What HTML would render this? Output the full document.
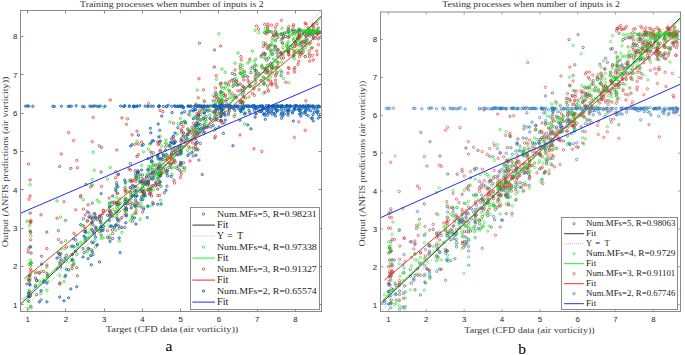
<!DOCTYPE html>
<html><head><meta charset="utf-8"><style>
html,body{margin:0;padding:0;background:#fff;width:685px;height:355px;overflow:hidden}
svg{display:block}
.tk{font-family:"Liberation Sans",sans-serif;font-size:7.9px;fill:#1e1e1e}
.ttl{font-family:"Liberation Serif",serif;font-size:8.8px;fill:#333}
.xl{font-family:"Liberation Serif",serif;font-size:8.9px;fill:#3a3a3a}
.lg{font-family:"Liberation Serif",serif;fill:#1a1a1a}
.cap{font-family:"Liberation Serif",serif;font-size:15.5px;fill:#000}
</style></head><body>
<svg width="685" height="355" viewBox="0 0 685 355">
<rect width="685" height="355" fill="#fff"/>
<defs><clipPath id="cL"><rect x="20.5" y="10.5" width="301.0" height="301.0"/></clipPath><clipPath id="cR"><rect x="380.5" y="12.0" width="300.0" height="299.5"/></clipPath></defs>
<g clip-path="url(#cL)">
<path d="M29.0 274.7a1.2 1.2 0 1 0 2.4 0a1.2 1.2 0 1 0 -2.4 0M29.9 253.0a1.2 1.2 0 1 0 2.4 0a1.2 1.2 0 1 0 -2.4 0M28.9 231.1a1.2 1.2 0 1 0 2.4 0a1.2 1.2 0 1 0 -2.4 0M25.8 283.9a1.2 1.2 0 1 0 2.4 0a1.2 1.2 0 1 0 -2.4 0M30.0 263.1a1.2 1.2 0 1 0 2.4 0a1.2 1.2 0 1 0 -2.4 0M29.2 295.4a1.2 1.2 0 1 0 2.4 0a1.2 1.2 0 1 0 -2.4 0M27.3 279.6a1.2 1.2 0 1 0 2.4 0a1.2 1.2 0 1 0 -2.4 0M29.4 265.3a1.2 1.2 0 1 0 2.4 0a1.2 1.2 0 1 0 -2.4 0M29.0 213.1a1.2 1.2 0 1 0 2.4 0a1.2 1.2 0 1 0 -2.4 0M28.9 293.5a1.2 1.2 0 1 0 2.4 0a1.2 1.2 0 1 0 -2.4 0M28.4 296.8a1.2 1.2 0 1 0 2.4 0a1.2 1.2 0 1 0 -2.4 0M29.4 246.8a1.2 1.2 0 1 0 2.4 0a1.2 1.2 0 1 0 -2.4 0M26.9 300.8a1.2 1.2 0 1 0 2.4 0a1.2 1.2 0 1 0 -2.4 0M28.0 275.5a1.2 1.2 0 1 0 2.4 0a1.2 1.2 0 1 0 -2.4 0M27.4 293.0a1.2 1.2 0 1 0 2.4 0a1.2 1.2 0 1 0 -2.4 0M29.5 306.2a1.2 1.2 0 1 0 2.4 0a1.2 1.2 0 1 0 -2.4 0M28.4 276.7a1.2 1.2 0 1 0 2.4 0a1.2 1.2 0 1 0 -2.4 0M42.6 280.4a1.2 1.2 0 1 0 2.4 0a1.2 1.2 0 1 0 -2.4 0M45.7 273.3a1.2 1.2 0 1 0 2.4 0a1.2 1.2 0 1 0 -2.4 0M70.9 254.5a1.2 1.2 0 1 0 2.4 0a1.2 1.2 0 1 0 -2.4 0M46.6 276.3a1.2 1.2 0 1 0 2.4 0a1.2 1.2 0 1 0 -2.4 0M57.2 230.6a1.2 1.2 0 1 0 2.4 0a1.2 1.2 0 1 0 -2.4 0M82.8 252.6a1.2 1.2 0 1 0 2.4 0a1.2 1.2 0 1 0 -2.4 0M81.8 248.6a1.2 1.2 0 1 0 2.4 0a1.2 1.2 0 1 0 -2.4 0M69.6 168.4a1.2 1.2 0 1 0 2.4 0a1.2 1.2 0 1 0 -2.4 0M60.1 242.4a1.2 1.2 0 1 0 2.4 0a1.2 1.2 0 1 0 -2.4 0M46.4 275.2a1.2 1.2 0 1 0 2.4 0a1.2 1.2 0 1 0 -2.4 0M40.4 256.2a1.2 1.2 0 1 0 2.4 0a1.2 1.2 0 1 0 -2.4 0M82.2 218.7a1.2 1.2 0 1 0 2.4 0a1.2 1.2 0 1 0 -2.4 0M58.8 256.4a1.2 1.2 0 1 0 2.4 0a1.2 1.2 0 1 0 -2.4 0M38.1 273.2a1.2 1.2 0 1 0 2.4 0a1.2 1.2 0 1 0 -2.4 0M64.3 220.4a1.2 1.2 0 1 0 2.4 0a1.2 1.2 0 1 0 -2.4 0M72.3 264.5a1.2 1.2 0 1 0 2.4 0a1.2 1.2 0 1 0 -2.4 0M63.8 276.7a1.2 1.2 0 1 0 2.4 0a1.2 1.2 0 1 0 -2.4 0M79.5 195.6a1.2 1.2 0 1 0 2.4 0a1.2 1.2 0 1 0 -2.4 0M34.2 278.0a1.2 1.2 0 1 0 2.4 0a1.2 1.2 0 1 0 -2.4 0M59.4 264.2a1.2 1.2 0 1 0 2.4 0a1.2 1.2 0 1 0 -2.4 0M55.9 268.8a1.2 1.2 0 1 0 2.4 0a1.2 1.2 0 1 0 -2.4 0M35.4 294.7a1.2 1.2 0 1 0 2.4 0a1.2 1.2 0 1 0 -2.4 0M65.3 255.3a1.2 1.2 0 1 0 2.4 0a1.2 1.2 0 1 0 -2.4 0M76.2 275.8a1.2 1.2 0 1 0 2.4 0a1.2 1.2 0 1 0 -2.4 0M62.8 261.5a1.2 1.2 0 1 0 2.4 0a1.2 1.2 0 1 0 -2.4 0M45.6 232.1a1.2 1.2 0 1 0 2.4 0a1.2 1.2 0 1 0 -2.4 0M75.5 267.7a1.2 1.2 0 1 0 2.4 0a1.2 1.2 0 1 0 -2.4 0M58.5 166.5a1.2 1.2 0 1 0 2.4 0a1.2 1.2 0 1 0 -2.4 0M58.5 284.1a1.2 1.2 0 1 0 2.4 0a1.2 1.2 0 1 0 -2.4 0M71.0 268.6a1.2 1.2 0 1 0 2.4 0a1.2 1.2 0 1 0 -2.4 0M39.8 299.9a1.2 1.2 0 1 0 2.4 0a1.2 1.2 0 1 0 -2.4 0M74.5 240.2a1.2 1.2 0 1 0 2.4 0a1.2 1.2 0 1 0 -2.4 0M67.4 269.9a1.2 1.2 0 1 0 2.4 0a1.2 1.2 0 1 0 -2.4 0M72.8 246.8a1.2 1.2 0 1 0 2.4 0a1.2 1.2 0 1 0 -2.4 0M91.1 230.2a1.2 1.2 0 1 0 2.4 0a1.2 1.2 0 1 0 -2.4 0M114.5 211.6a1.2 1.2 0 1 0 2.4 0a1.2 1.2 0 1 0 -2.4 0M91.1 203.2a1.2 1.2 0 1 0 2.4 0a1.2 1.2 0 1 0 -2.4 0M86.9 248.1a1.2 1.2 0 1 0 2.4 0a1.2 1.2 0 1 0 -2.4 0M116.5 193.4a1.2 1.2 0 1 0 2.4 0a1.2 1.2 0 1 0 -2.4 0M116.7 204.1a1.2 1.2 0 1 0 2.4 0a1.2 1.2 0 1 0 -2.4 0M117.3 221.4a1.2 1.2 0 1 0 2.4 0a1.2 1.2 0 1 0 -2.4 0M101.8 228.6a1.2 1.2 0 1 0 2.4 0a1.2 1.2 0 1 0 -2.4 0M94.3 217.0a1.2 1.2 0 1 0 2.4 0a1.2 1.2 0 1 0 -2.4 0M84.1 240.8a1.2 1.2 0 1 0 2.4 0a1.2 1.2 0 1 0 -2.4 0M108.5 211.8a1.2 1.2 0 1 0 2.4 0a1.2 1.2 0 1 0 -2.4 0M111.3 229.9a1.2 1.2 0 1 0 2.4 0a1.2 1.2 0 1 0 -2.4 0M115.8 202.5a1.2 1.2 0 1 0 2.4 0a1.2 1.2 0 1 0 -2.4 0M94.6 227.1a1.2 1.2 0 1 0 2.4 0a1.2 1.2 0 1 0 -2.4 0M92.0 254.4a1.2 1.2 0 1 0 2.4 0a1.2 1.2 0 1 0 -2.4 0M108.3 202.9a1.2 1.2 0 1 0 2.4 0a1.2 1.2 0 1 0 -2.4 0M114.6 188.1a1.2 1.2 0 1 0 2.4 0a1.2 1.2 0 1 0 -2.4 0M120.7 217.5a1.2 1.2 0 1 0 2.4 0a1.2 1.2 0 1 0 -2.4 0M89.5 217.9a1.2 1.2 0 1 0 2.4 0a1.2 1.2 0 1 0 -2.4 0M102.2 210.3a1.2 1.2 0 1 0 2.4 0a1.2 1.2 0 1 0 -2.4 0M118.0 228.2a1.2 1.2 0 1 0 2.4 0a1.2 1.2 0 1 0 -2.4 0M100.0 172.0a1.2 1.2 0 1 0 2.4 0a1.2 1.2 0 1 0 -2.4 0M106.3 237.3a1.2 1.2 0 1 0 2.4 0a1.2 1.2 0 1 0 -2.4 0M84.7 184.4a1.2 1.2 0 1 0 2.4 0a1.2 1.2 0 1 0 -2.4 0M109.6 226.0a1.2 1.2 0 1 0 2.4 0a1.2 1.2 0 1 0 -2.4 0M119.0 203.3a1.2 1.2 0 1 0 2.4 0a1.2 1.2 0 1 0 -2.4 0M115.4 182.7a1.2 1.2 0 1 0 2.4 0a1.2 1.2 0 1 0 -2.4 0M117.7 225.9a1.2 1.2 0 1 0 2.4 0a1.2 1.2 0 1 0 -2.4 0M109.1 213.3a1.2 1.2 0 1 0 2.4 0a1.2 1.2 0 1 0 -2.4 0M93.2 213.5a1.2 1.2 0 1 0 2.4 0a1.2 1.2 0 1 0 -2.4 0M113.2 202.1a1.2 1.2 0 1 0 2.4 0a1.2 1.2 0 1 0 -2.4 0M91.9 224.9a1.2 1.2 0 1 0 2.4 0a1.2 1.2 0 1 0 -2.4 0M115.6 213.3a1.2 1.2 0 1 0 2.4 0a1.2 1.2 0 1 0 -2.4 0M86.2 220.8a1.2 1.2 0 1 0 2.4 0a1.2 1.2 0 1 0 -2.4 0M115.4 224.9a1.2 1.2 0 1 0 2.4 0a1.2 1.2 0 1 0 -2.4 0M90.1 229.3a1.2 1.2 0 1 0 2.4 0a1.2 1.2 0 1 0 -2.4 0M98.1 231.3a1.2 1.2 0 1 0 2.4 0a1.2 1.2 0 1 0 -2.4 0M95.9 219.4a1.2 1.2 0 1 0 2.4 0a1.2 1.2 0 1 0 -2.4 0M110.2 213.3a1.2 1.2 0 1 0 2.4 0a1.2 1.2 0 1 0 -2.4 0M90.6 250.0a1.2 1.2 0 1 0 2.4 0a1.2 1.2 0 1 0 -2.4 0M99.0 228.0a1.2 1.2 0 1 0 2.4 0a1.2 1.2 0 1 0 -2.4 0M84.0 229.8a1.2 1.2 0 1 0 2.4 0a1.2 1.2 0 1 0 -2.4 0M93.8 214.2a1.2 1.2 0 1 0 2.4 0a1.2 1.2 0 1 0 -2.4 0M99.9 235.0a1.2 1.2 0 1 0 2.4 0a1.2 1.2 0 1 0 -2.4 0M87.8 249.0a1.2 1.2 0 1 0 2.4 0a1.2 1.2 0 1 0 -2.4 0M108.0 238.0a1.2 1.2 0 1 0 2.4 0a1.2 1.2 0 1 0 -2.4 0M98.3 219.0a1.2 1.2 0 1 0 2.4 0a1.2 1.2 0 1 0 -2.4 0M111.5 202.4a1.2 1.2 0 1 0 2.4 0a1.2 1.2 0 1 0 -2.4 0M108.8 210.8a1.2 1.2 0 1 0 2.4 0a1.2 1.2 0 1 0 -2.4 0M100.3 147.4a1.2 1.2 0 1 0 2.4 0a1.2 1.2 0 1 0 -2.4 0M205.0 116.5a1.2 1.2 0 1 0 2.4 0a1.2 1.2 0 1 0 -2.4 0M182.5 141.0a1.2 1.2 0 1 0 2.4 0a1.2 1.2 0 1 0 -2.4 0M199.6 130.9a1.2 1.2 0 1 0 2.4 0a1.2 1.2 0 1 0 -2.4 0M154.7 164.9a1.2 1.2 0 1 0 2.4 0a1.2 1.2 0 1 0 -2.4 0M174.1 141.9a1.2 1.2 0 1 0 2.4 0a1.2 1.2 0 1 0 -2.4 0M140.8 178.4a1.2 1.2 0 1 0 2.4 0a1.2 1.2 0 1 0 -2.4 0M217.3 108.8a1.2 1.2 0 1 0 2.4 0a1.2 1.2 0 1 0 -2.4 0M145.3 183.8a1.2 1.2 0 1 0 2.4 0a1.2 1.2 0 1 0 -2.4 0M146.6 185.3a1.2 1.2 0 1 0 2.4 0a1.2 1.2 0 1 0 -2.4 0M129.1 180.0a1.2 1.2 0 1 0 2.4 0a1.2 1.2 0 1 0 -2.4 0M146.7 181.3a1.2 1.2 0 1 0 2.4 0a1.2 1.2 0 1 0 -2.4 0M195.0 149.7a1.2 1.2 0 1 0 2.4 0a1.2 1.2 0 1 0 -2.4 0M188.8 131.3a1.2 1.2 0 1 0 2.4 0a1.2 1.2 0 1 0 -2.4 0M134.4 173.8a1.2 1.2 0 1 0 2.4 0a1.2 1.2 0 1 0 -2.4 0M158.0 163.9a1.2 1.2 0 1 0 2.4 0a1.2 1.2 0 1 0 -2.4 0M162.3 157.1a1.2 1.2 0 1 0 2.4 0a1.2 1.2 0 1 0 -2.4 0M185.7 139.4a1.2 1.2 0 1 0 2.4 0a1.2 1.2 0 1 0 -2.4 0M165.7 186.2a1.2 1.2 0 1 0 2.4 0a1.2 1.2 0 1 0 -2.4 0M178.2 169.9a1.2 1.2 0 1 0 2.4 0a1.2 1.2 0 1 0 -2.4 0M202.4 133.4a1.2 1.2 0 1 0 2.4 0a1.2 1.2 0 1 0 -2.4 0M191.5 133.9a1.2 1.2 0 1 0 2.4 0a1.2 1.2 0 1 0 -2.4 0M157.0 169.3a1.2 1.2 0 1 0 2.4 0a1.2 1.2 0 1 0 -2.4 0M164.9 156.4a1.2 1.2 0 1 0 2.4 0a1.2 1.2 0 1 0 -2.4 0M157.2 176.5a1.2 1.2 0 1 0 2.4 0a1.2 1.2 0 1 0 -2.4 0M132.5 186.2a1.2 1.2 0 1 0 2.4 0a1.2 1.2 0 1 0 -2.4 0M141.5 191.7a1.2 1.2 0 1 0 2.4 0a1.2 1.2 0 1 0 -2.4 0M149.2 188.9a1.2 1.2 0 1 0 2.4 0a1.2 1.2 0 1 0 -2.4 0M152.1 165.1a1.2 1.2 0 1 0 2.4 0a1.2 1.2 0 1 0 -2.4 0M152.0 175.2a1.2 1.2 0 1 0 2.4 0a1.2 1.2 0 1 0 -2.4 0M177.2 165.9a1.2 1.2 0 1 0 2.4 0a1.2 1.2 0 1 0 -2.4 0M215.0 117.2a1.2 1.2 0 1 0 2.4 0a1.2 1.2 0 1 0 -2.4 0M196.1 125.6a1.2 1.2 0 1 0 2.4 0a1.2 1.2 0 1 0 -2.4 0M197.7 160.1a1.2 1.2 0 1 0 2.4 0a1.2 1.2 0 1 0 -2.4 0M194.7 132.6a1.2 1.2 0 1 0 2.4 0a1.2 1.2 0 1 0 -2.4 0M179.2 151.6a1.2 1.2 0 1 0 2.4 0a1.2 1.2 0 1 0 -2.4 0M209.8 126.9a1.2 1.2 0 1 0 2.4 0a1.2 1.2 0 1 0 -2.4 0M188.0 153.9a1.2 1.2 0 1 0 2.4 0a1.2 1.2 0 1 0 -2.4 0M169.9 164.0a1.2 1.2 0 1 0 2.4 0a1.2 1.2 0 1 0 -2.4 0M129.4 187.7a1.2 1.2 0 1 0 2.4 0a1.2 1.2 0 1 0 -2.4 0M168.8 145.5a1.2 1.2 0 1 0 2.4 0a1.2 1.2 0 1 0 -2.4 0M142.4 183.3a1.2 1.2 0 1 0 2.4 0a1.2 1.2 0 1 0 -2.4 0M134.7 213.3a1.2 1.2 0 1 0 2.4 0a1.2 1.2 0 1 0 -2.4 0M170.5 167.9a1.2 1.2 0 1 0 2.4 0a1.2 1.2 0 1 0 -2.4 0M197.1 117.3a1.2 1.2 0 1 0 2.4 0a1.2 1.2 0 1 0 -2.4 0M150.3 158.0a1.2 1.2 0 1 0 2.4 0a1.2 1.2 0 1 0 -2.4 0M195.6 122.9a1.2 1.2 0 1 0 2.4 0a1.2 1.2 0 1 0 -2.4 0M172.3 152.4a1.2 1.2 0 1 0 2.4 0a1.2 1.2 0 1 0 -2.4 0M136.3 172.2a1.2 1.2 0 1 0 2.4 0a1.2 1.2 0 1 0 -2.4 0M214.3 105.9a1.2 1.2 0 1 0 2.4 0a1.2 1.2 0 1 0 -2.4 0M160.5 172.7a1.2 1.2 0 1 0 2.4 0a1.2 1.2 0 1 0 -2.4 0M150.3 196.0a1.2 1.2 0 1 0 2.4 0a1.2 1.2 0 1 0 -2.4 0M203.1 124.1a1.2 1.2 0 1 0 2.4 0a1.2 1.2 0 1 0 -2.4 0M134.0 170.8a1.2 1.2 0 1 0 2.4 0a1.2 1.2 0 1 0 -2.4 0M192.2 147.9a1.2 1.2 0 1 0 2.4 0a1.2 1.2 0 1 0 -2.4 0M140.0 189.8a1.2 1.2 0 1 0 2.4 0a1.2 1.2 0 1 0 -2.4 0M159.6 186.3a1.2 1.2 0 1 0 2.4 0a1.2 1.2 0 1 0 -2.4 0M144.2 184.3a1.2 1.2 0 1 0 2.4 0a1.2 1.2 0 1 0 -2.4 0M202.5 108.7a1.2 1.2 0 1 0 2.4 0a1.2 1.2 0 1 0 -2.4 0M159.4 173.1a1.2 1.2 0 1 0 2.4 0a1.2 1.2 0 1 0 -2.4 0M215.3 96.3a1.2 1.2 0 1 0 2.4 0a1.2 1.2 0 1 0 -2.4 0M181.9 136.2a1.2 1.2 0 1 0 2.4 0a1.2 1.2 0 1 0 -2.4 0M188.4 131.2a1.2 1.2 0 1 0 2.4 0a1.2 1.2 0 1 0 -2.4 0M171.9 136.7a1.2 1.2 0 1 0 2.4 0a1.2 1.2 0 1 0 -2.4 0M151.6 169.4a1.2 1.2 0 1 0 2.4 0a1.2 1.2 0 1 0 -2.4 0M159.9 173.3a1.2 1.2 0 1 0 2.4 0a1.2 1.2 0 1 0 -2.4 0M212.1 100.8a1.2 1.2 0 1 0 2.4 0a1.2 1.2 0 1 0 -2.4 0M141.3 174.9a1.2 1.2 0 1 0 2.4 0a1.2 1.2 0 1 0 -2.4 0M216.6 98.0a1.2 1.2 0 1 0 2.4 0a1.2 1.2 0 1 0 -2.4 0M194.6 132.3a1.2 1.2 0 1 0 2.4 0a1.2 1.2 0 1 0 -2.4 0M156.5 142.0a1.2 1.2 0 1 0 2.4 0a1.2 1.2 0 1 0 -2.4 0M183.4 121.4a1.2 1.2 0 1 0 2.4 0a1.2 1.2 0 1 0 -2.4 0M158.5 173.7a1.2 1.2 0 1 0 2.4 0a1.2 1.2 0 1 0 -2.4 0M158.5 175.0a1.2 1.2 0 1 0 2.4 0a1.2 1.2 0 1 0 -2.4 0M170.2 138.9a1.2 1.2 0 1 0 2.4 0a1.2 1.2 0 1 0 -2.4 0M123.6 227.5a1.2 1.2 0 1 0 2.4 0a1.2 1.2 0 1 0 -2.4 0M169.3 164.7a1.2 1.2 0 1 0 2.4 0a1.2 1.2 0 1 0 -2.4 0M215.0 94.1a1.2 1.2 0 1 0 2.4 0a1.2 1.2 0 1 0 -2.4 0M149.4 191.2a1.2 1.2 0 1 0 2.4 0a1.2 1.2 0 1 0 -2.4 0M193.6 135.3a1.2 1.2 0 1 0 2.4 0a1.2 1.2 0 1 0 -2.4 0M164.4 168.9a1.2 1.2 0 1 0 2.4 0a1.2 1.2 0 1 0 -2.4 0M142.1 180.3a1.2 1.2 0 1 0 2.4 0a1.2 1.2 0 1 0 -2.4 0M208.6 110.2a1.2 1.2 0 1 0 2.4 0a1.2 1.2 0 1 0 -2.4 0M123.7 201.2a1.2 1.2 0 1 0 2.4 0a1.2 1.2 0 1 0 -2.4 0M151.1 172.1a1.2 1.2 0 1 0 2.4 0a1.2 1.2 0 1 0 -2.4 0M217.6 102.1a1.2 1.2 0 1 0 2.4 0a1.2 1.2 0 1 0 -2.4 0M147.1 170.1a1.2 1.2 0 1 0 2.4 0a1.2 1.2 0 1 0 -2.4 0M203.3 126.4a1.2 1.2 0 1 0 2.4 0a1.2 1.2 0 1 0 -2.4 0M180.0 163.3a1.2 1.2 0 1 0 2.4 0a1.2 1.2 0 1 0 -2.4 0M199.1 143.4a1.2 1.2 0 1 0 2.4 0a1.2 1.2 0 1 0 -2.4 0M182.3 162.6a1.2 1.2 0 1 0 2.4 0a1.2 1.2 0 1 0 -2.4 0M156.7 179.4a1.2 1.2 0 1 0 2.4 0a1.2 1.2 0 1 0 -2.4 0M194.8 116.5a1.2 1.2 0 1 0 2.4 0a1.2 1.2 0 1 0 -2.4 0M124.6 202.9a1.2 1.2 0 1 0 2.4 0a1.2 1.2 0 1 0 -2.4 0M164.8 171.3a1.2 1.2 0 1 0 2.4 0a1.2 1.2 0 1 0 -2.4 0M157.6 184.5a1.2 1.2 0 1 0 2.4 0a1.2 1.2 0 1 0 -2.4 0M167.7 167.3a1.2 1.2 0 1 0 2.4 0a1.2 1.2 0 1 0 -2.4 0M134.3 200.2a1.2 1.2 0 1 0 2.4 0a1.2 1.2 0 1 0 -2.4 0M143.3 193.2a1.2 1.2 0 1 0 2.4 0a1.2 1.2 0 1 0 -2.4 0M175.8 168.3a1.2 1.2 0 1 0 2.4 0a1.2 1.2 0 1 0 -2.4 0M159.1 176.0a1.2 1.2 0 1 0 2.4 0a1.2 1.2 0 1 0 -2.4 0M197.8 112.9a1.2 1.2 0 1 0 2.4 0a1.2 1.2 0 1 0 -2.4 0M179.9 171.9a1.2 1.2 0 1 0 2.4 0a1.2 1.2 0 1 0 -2.4 0M204.4 119.4a1.2 1.2 0 1 0 2.4 0a1.2 1.2 0 1 0 -2.4 0M192.1 156.1a1.2 1.2 0 1 0 2.4 0a1.2 1.2 0 1 0 -2.4 0M179.6 145.2a1.2 1.2 0 1 0 2.4 0a1.2 1.2 0 1 0 -2.4 0M149.6 189.1a1.2 1.2 0 1 0 2.4 0a1.2 1.2 0 1 0 -2.4 0M196.9 149.7a1.2 1.2 0 1 0 2.4 0a1.2 1.2 0 1 0 -2.4 0M146.1 182.8a1.2 1.2 0 1 0 2.4 0a1.2 1.2 0 1 0 -2.4 0M129.2 163.6a1.2 1.2 0 1 0 2.4 0a1.2 1.2 0 1 0 -2.4 0M214.1 104.6a1.2 1.2 0 1 0 2.4 0a1.2 1.2 0 1 0 -2.4 0M173.7 141.0a1.2 1.2 0 1 0 2.4 0a1.2 1.2 0 1 0 -2.4 0M196.1 127.6a1.2 1.2 0 1 0 2.4 0a1.2 1.2 0 1 0 -2.4 0M172.7 180.3a1.2 1.2 0 1 0 2.4 0a1.2 1.2 0 1 0 -2.4 0M180.5 140.5a1.2 1.2 0 1 0 2.4 0a1.2 1.2 0 1 0 -2.4 0M125.3 209.0a1.2 1.2 0 1 0 2.4 0a1.2 1.2 0 1 0 -2.4 0M139.9 206.9a1.2 1.2 0 1 0 2.4 0a1.2 1.2 0 1 0 -2.4 0M186.6 129.6a1.2 1.2 0 1 0 2.4 0a1.2 1.2 0 1 0 -2.4 0M176.6 147.6a1.2 1.2 0 1 0 2.4 0a1.2 1.2 0 1 0 -2.4 0M137.2 177.0a1.2 1.2 0 1 0 2.4 0a1.2 1.2 0 1 0 -2.4 0M213.1 67.0a1.2 1.2 0 1 0 2.4 0a1.2 1.2 0 1 0 -2.4 0M136.8 203.1a1.2 1.2 0 1 0 2.4 0a1.2 1.2 0 1 0 -2.4 0M170.9 150.2a1.2 1.2 0 1 0 2.4 0a1.2 1.2 0 1 0 -2.4 0M135.8 156.5a1.2 1.2 0 1 0 2.4 0a1.2 1.2 0 1 0 -2.4 0M190.7 127.4a1.2 1.2 0 1 0 2.4 0a1.2 1.2 0 1 0 -2.4 0M148.5 194.2a1.2 1.2 0 1 0 2.4 0a1.2 1.2 0 1 0 -2.4 0M134.9 177.8a1.2 1.2 0 1 0 2.4 0a1.2 1.2 0 1 0 -2.4 0M126.4 200.2a1.2 1.2 0 1 0 2.4 0a1.2 1.2 0 1 0 -2.4 0M138.8 174.7a1.2 1.2 0 1 0 2.4 0a1.2 1.2 0 1 0 -2.4 0M140.4 197.0a1.2 1.2 0 1 0 2.4 0a1.2 1.2 0 1 0 -2.4 0M173.4 160.2a1.2 1.2 0 1 0 2.4 0a1.2 1.2 0 1 0 -2.4 0M165.2 154.4a1.2 1.2 0 1 0 2.4 0a1.2 1.2 0 1 0 -2.4 0M213.6 138.0a1.2 1.2 0 1 0 2.4 0a1.2 1.2 0 1 0 -2.4 0M213.3 50.0a1.2 1.2 0 1 0 2.4 0a1.2 1.2 0 1 0 -2.4 0M198.2 43.2a1.2 1.2 0 1 0 2.4 0a1.2 1.2 0 1 0 -2.4 0M186.3 133.7a1.2 1.2 0 1 0 2.4 0a1.2 1.2 0 1 0 -2.4 0M202.9 107.2a1.2 1.2 0 1 0 2.4 0a1.2 1.2 0 1 0 -2.4 0M211.8 111.9a1.2 1.2 0 1 0 2.4 0a1.2 1.2 0 1 0 -2.4 0M124.2 198.8a1.2 1.2 0 1 0 2.4 0a1.2 1.2 0 1 0 -2.4 0M133.3 204.8a1.2 1.2 0 1 0 2.4 0a1.2 1.2 0 1 0 -2.4 0M156.5 189.1a1.2 1.2 0 1 0 2.4 0a1.2 1.2 0 1 0 -2.4 0M131.0 218.2a1.2 1.2 0 1 0 2.4 0a1.2 1.2 0 1 0 -2.4 0M179.4 153.9a1.2 1.2 0 1 0 2.4 0a1.2 1.2 0 1 0 -2.4 0M147.0 189.4a1.2 1.2 0 1 0 2.4 0a1.2 1.2 0 1 0 -2.4 0M147.3 189.9a1.2 1.2 0 1 0 2.4 0a1.2 1.2 0 1 0 -2.4 0M149.6 151.9a1.2 1.2 0 1 0 2.4 0a1.2 1.2 0 1 0 -2.4 0M131.4 221.3a1.2 1.2 0 1 0 2.4 0a1.2 1.2 0 1 0 -2.4 0M192.9 136.8a1.2 1.2 0 1 0 2.4 0a1.2 1.2 0 1 0 -2.4 0M184.3 138.2a1.2 1.2 0 1 0 2.4 0a1.2 1.2 0 1 0 -2.4 0M180.1 153.4a1.2 1.2 0 1 0 2.4 0a1.2 1.2 0 1 0 -2.4 0M125.3 214.3a1.2 1.2 0 1 0 2.4 0a1.2 1.2 0 1 0 -2.4 0M163.1 192.8a1.2 1.2 0 1 0 2.4 0a1.2 1.2 0 1 0 -2.4 0M187.6 114.2a1.2 1.2 0 1 0 2.4 0a1.2 1.2 0 1 0 -2.4 0M137.0 205.5a1.2 1.2 0 1 0 2.4 0a1.2 1.2 0 1 0 -2.4 0M158.9 151.4a1.2 1.2 0 1 0 2.4 0a1.2 1.2 0 1 0 -2.4 0M123.9 187.6a1.2 1.2 0 1 0 2.4 0a1.2 1.2 0 1 0 -2.4 0M129.9 196.7a1.2 1.2 0 1 0 2.4 0a1.2 1.2 0 1 0 -2.4 0M142.8 193.8a1.2 1.2 0 1 0 2.4 0a1.2 1.2 0 1 0 -2.4 0M161.7 154.0a1.2 1.2 0 1 0 2.4 0a1.2 1.2 0 1 0 -2.4 0M166.4 176.0a1.2 1.2 0 1 0 2.4 0a1.2 1.2 0 1 0 -2.4 0M206.7 111.0a1.2 1.2 0 1 0 2.4 0a1.2 1.2 0 1 0 -2.4 0M152.3 177.6a1.2 1.2 0 1 0 2.4 0a1.2 1.2 0 1 0 -2.4 0M124.1 199.3a1.2 1.2 0 1 0 2.4 0a1.2 1.2 0 1 0 -2.4 0M201.1 109.7a1.2 1.2 0 1 0 2.4 0a1.2 1.2 0 1 0 -2.4 0M128.0 168.9a1.2 1.2 0 1 0 2.4 0a1.2 1.2 0 1 0 -2.4 0M130.9 203.2a1.2 1.2 0 1 0 2.4 0a1.2 1.2 0 1 0 -2.4 0M214.2 92.3a1.2 1.2 0 1 0 2.4 0a1.2 1.2 0 1 0 -2.4 0M194.1 138.3a1.2 1.2 0 1 0 2.4 0a1.2 1.2 0 1 0 -2.4 0M154.4 185.8a1.2 1.2 0 1 0 2.4 0a1.2 1.2 0 1 0 -2.4 0M134.7 202.2a1.2 1.2 0 1 0 2.4 0a1.2 1.2 0 1 0 -2.4 0M159.0 182.0a1.2 1.2 0 1 0 2.4 0a1.2 1.2 0 1 0 -2.4 0M230.7 80.1a1.2 1.2 0 1 0 2.4 0a1.2 1.2 0 1 0 -2.4 0M251.2 66.9a1.2 1.2 0 1 0 2.4 0a1.2 1.2 0 1 0 -2.4 0M233.7 74.6a1.2 1.2 0 1 0 2.4 0a1.2 1.2 0 1 0 -2.4 0M220.8 99.7a1.2 1.2 0 1 0 2.4 0a1.2 1.2 0 1 0 -2.4 0M253.2 68.6a1.2 1.2 0 1 0 2.4 0a1.2 1.2 0 1 0 -2.4 0M241.5 90.5a1.2 1.2 0 1 0 2.4 0a1.2 1.2 0 1 0 -2.4 0M222.2 111.5a1.2 1.2 0 1 0 2.4 0a1.2 1.2 0 1 0 -2.4 0M222.0 93.3a1.2 1.2 0 1 0 2.4 0a1.2 1.2 0 1 0 -2.4 0M235.5 84.8a1.2 1.2 0 1 0 2.4 0a1.2 1.2 0 1 0 -2.4 0M221.2 109.8a1.2 1.2 0 1 0 2.4 0a1.2 1.2 0 1 0 -2.4 0M241.9 76.9a1.2 1.2 0 1 0 2.4 0a1.2 1.2 0 1 0 -2.4 0M241.3 104.1a1.2 1.2 0 1 0 2.4 0a1.2 1.2 0 1 0 -2.4 0M218.9 103.3a1.2 1.2 0 1 0 2.4 0a1.2 1.2 0 1 0 -2.4 0M248.6 86.5a1.2 1.2 0 1 0 2.4 0a1.2 1.2 0 1 0 -2.4 0M247.8 85.8a1.2 1.2 0 1 0 2.4 0a1.2 1.2 0 1 0 -2.4 0M252.7 88.9a1.2 1.2 0 1 0 2.4 0a1.2 1.2 0 1 0 -2.4 0M243.3 71.7a1.2 1.2 0 1 0 2.4 0a1.2 1.2 0 1 0 -2.4 0M244.2 75.6a1.2 1.2 0 1 0 2.4 0a1.2 1.2 0 1 0 -2.4 0M224.0 83.1a1.2 1.2 0 1 0 2.4 0a1.2 1.2 0 1 0 -2.4 0M218.6 100.0a1.2 1.2 0 1 0 2.4 0a1.2 1.2 0 1 0 -2.4 0M220.2 114.9a1.2 1.2 0 1 0 2.4 0a1.2 1.2 0 1 0 -2.4 0M254.6 79.5a1.2 1.2 0 1 0 2.4 0a1.2 1.2 0 1 0 -2.4 0M242.4 97.0a1.2 1.2 0 1 0 2.4 0a1.2 1.2 0 1 0 -2.4 0M253.9 70.5a1.2 1.2 0 1 0 2.4 0a1.2 1.2 0 1 0 -2.4 0M231.1 73.4a1.2 1.2 0 1 0 2.4 0a1.2 1.2 0 1 0 -2.4 0M246.6 76.9a1.2 1.2 0 1 0 2.4 0a1.2 1.2 0 1 0 -2.4 0M220.2 107.1a1.2 1.2 0 1 0 2.4 0a1.2 1.2 0 1 0 -2.4 0M224.1 101.1a1.2 1.2 0 1 0 2.4 0a1.2 1.2 0 1 0 -2.4 0M228.3 91.0a1.2 1.2 0 1 0 2.4 0a1.2 1.2 0 1 0 -2.4 0M238.8 102.5a1.2 1.2 0 1 0 2.4 0a1.2 1.2 0 1 0 -2.4 0M239.0 84.0a1.2 1.2 0 1 0 2.4 0a1.2 1.2 0 1 0 -2.4 0M236.8 84.9a1.2 1.2 0 1 0 2.4 0a1.2 1.2 0 1 0 -2.4 0M233.9 95.5a1.2 1.2 0 1 0 2.4 0a1.2 1.2 0 1 0 -2.4 0M239.7 90.1a1.2 1.2 0 1 0 2.4 0a1.2 1.2 0 1 0 -2.4 0M254.7 73.3a1.2 1.2 0 1 0 2.4 0a1.2 1.2 0 1 0 -2.4 0M235.2 97.8a1.2 1.2 0 1 0 2.4 0a1.2 1.2 0 1 0 -2.4 0M249.7 72.6a1.2 1.2 0 1 0 2.4 0a1.2 1.2 0 1 0 -2.4 0M219.8 91.6a1.2 1.2 0 1 0 2.4 0a1.2 1.2 0 1 0 -2.4 0M232.5 82.4a1.2 1.2 0 1 0 2.4 0a1.2 1.2 0 1 0 -2.4 0M239.1 66.4a1.2 1.2 0 1 0 2.4 0a1.2 1.2 0 1 0 -2.4 0M241.4 95.0a1.2 1.2 0 1 0 2.4 0a1.2 1.2 0 1 0 -2.4 0M227.3 114.7a1.2 1.2 0 1 0 2.4 0a1.2 1.2 0 1 0 -2.4 0M233.0 79.2a1.2 1.2 0 1 0 2.4 0a1.2 1.2 0 1 0 -2.4 0M253.9 64.9a1.2 1.2 0 1 0 2.4 0a1.2 1.2 0 1 0 -2.4 0M242.5 92.0a1.2 1.2 0 1 0 2.4 0a1.2 1.2 0 1 0 -2.4 0M240.1 102.0a1.2 1.2 0 1 0 2.4 0a1.2 1.2 0 1 0 -2.4 0M220.2 100.9a1.2 1.2 0 1 0 2.4 0a1.2 1.2 0 1 0 -2.4 0M219.7 120.9a1.2 1.2 0 1 0 2.4 0a1.2 1.2 0 1 0 -2.4 0M225.8 99.5a1.2 1.2 0 1 0 2.4 0a1.2 1.2 0 1 0 -2.4 0M223.0 123.0a1.2 1.2 0 1 0 2.4 0a1.2 1.2 0 1 0 -2.4 0M255.3 70.8a1.2 1.2 0 1 0 2.4 0a1.2 1.2 0 1 0 -2.4 0M217.8 127.0a1.2 1.2 0 1 0 2.4 0a1.2 1.2 0 1 0 -2.4 0M231.7 86.3a1.2 1.2 0 1 0 2.4 0a1.2 1.2 0 1 0 -2.4 0M219.9 83.2a1.2 1.2 0 1 0 2.4 0a1.2 1.2 0 1 0 -2.4 0M242.2 86.9a1.2 1.2 0 1 0 2.4 0a1.2 1.2 0 1 0 -2.4 0M219.5 92.2a1.2 1.2 0 1 0 2.4 0a1.2 1.2 0 1 0 -2.4 0M220.3 107.7a1.2 1.2 0 1 0 2.4 0a1.2 1.2 0 1 0 -2.4 0M220.8 110.2a1.2 1.2 0 1 0 2.4 0a1.2 1.2 0 1 0 -2.4 0M228.1 111.0a1.2 1.2 0 1 0 2.4 0a1.2 1.2 0 1 0 -2.4 0M239.8 73.5a1.2 1.2 0 1 0 2.4 0a1.2 1.2 0 1 0 -2.4 0M286.8 31.5a1.2 1.2 0 1 0 2.4 0a1.2 1.2 0 1 0 -2.4 0M266.2 48.5a1.2 1.2 0 1 0 2.4 0a1.2 1.2 0 1 0 -2.4 0M266.8 80.2a1.2 1.2 0 1 0 2.4 0a1.2 1.2 0 1 0 -2.4 0M287.5 52.0a1.2 1.2 0 1 0 2.4 0a1.2 1.2 0 1 0 -2.4 0M284.5 36.6a1.2 1.2 0 1 0 2.4 0a1.2 1.2 0 1 0 -2.4 0M260.8 55.0a1.2 1.2 0 1 0 2.4 0a1.2 1.2 0 1 0 -2.4 0M286.8 29.0a1.2 1.2 0 1 0 2.4 0a1.2 1.2 0 1 0 -2.4 0M287.8 48.6a1.2 1.2 0 1 0 2.4 0a1.2 1.2 0 1 0 -2.4 0M262.8 82.9a1.2 1.2 0 1 0 2.4 0a1.2 1.2 0 1 0 -2.4 0M279.9 75.7a1.2 1.2 0 1 0 2.4 0a1.2 1.2 0 1 0 -2.4 0M263.5 53.9a1.2 1.2 0 1 0 2.4 0a1.2 1.2 0 1 0 -2.4 0M265.3 68.9a1.2 1.2 0 1 0 2.4 0a1.2 1.2 0 1 0 -2.4 0M274.9 67.6a1.2 1.2 0 1 0 2.4 0a1.2 1.2 0 1 0 -2.4 0M275.9 34.8a1.2 1.2 0 1 0 2.4 0a1.2 1.2 0 1 0 -2.4 0M274.3 75.8a1.2 1.2 0 1 0 2.4 0a1.2 1.2 0 1 0 -2.4 0M276.7 50.2a1.2 1.2 0 1 0 2.4 0a1.2 1.2 0 1 0 -2.4 0M264.1 45.1a1.2 1.2 0 1 0 2.4 0a1.2 1.2 0 1 0 -2.4 0M285.7 46.2a1.2 1.2 0 1 0 2.4 0a1.2 1.2 0 1 0 -2.4 0M266.6 65.2a1.2 1.2 0 1 0 2.4 0a1.2 1.2 0 1 0 -2.4 0M290.9 30.0a1.2 1.2 0 1 0 2.4 0a1.2 1.2 0 1 0 -2.4 0M275.7 52.8a1.2 1.2 0 1 0 2.4 0a1.2 1.2 0 1 0 -2.4 0M267.6 45.7a1.2 1.2 0 1 0 2.4 0a1.2 1.2 0 1 0 -2.4 0M262.6 84.1a1.2 1.2 0 1 0 2.4 0a1.2 1.2 0 1 0 -2.4 0M274.5 31.4a1.2 1.2 0 1 0 2.4 0a1.2 1.2 0 1 0 -2.4 0M270.4 69.0a1.2 1.2 0 1 0 2.4 0a1.2 1.2 0 1 0 -2.4 0M279.8 34.5a1.2 1.2 0 1 0 2.4 0a1.2 1.2 0 1 0 -2.4 0M275.0 33.1a1.2 1.2 0 1 0 2.4 0a1.2 1.2 0 1 0 -2.4 0M257.4 75.5a1.2 1.2 0 1 0 2.4 0a1.2 1.2 0 1 0 -2.4 0M287.8 36.5a1.2 1.2 0 1 0 2.4 0a1.2 1.2 0 1 0 -2.4 0M257.9 73.6a1.2 1.2 0 1 0 2.4 0a1.2 1.2 0 1 0 -2.4 0M287.6 31.3a1.2 1.2 0 1 0 2.4 0a1.2 1.2 0 1 0 -2.4 0M287.1 51.2a1.2 1.2 0 1 0 2.4 0a1.2 1.2 0 1 0 -2.4 0M291.3 46.3a1.2 1.2 0 1 0 2.4 0a1.2 1.2 0 1 0 -2.4 0M281.4 34.0a1.2 1.2 0 1 0 2.4 0a1.2 1.2 0 1 0 -2.4 0M262.1 77.1a1.2 1.2 0 1 0 2.4 0a1.2 1.2 0 1 0 -2.4 0M272.9 35.6a1.2 1.2 0 1 0 2.4 0a1.2 1.2 0 1 0 -2.4 0M272.8 49.7a1.2 1.2 0 1 0 2.4 0a1.2 1.2 0 1 0 -2.4 0M280.2 58.2a1.2 1.2 0 1 0 2.4 0a1.2 1.2 0 1 0 -2.4 0M270.5 66.8a1.2 1.2 0 1 0 2.4 0a1.2 1.2 0 1 0 -2.4 0M281.8 38.0a1.2 1.2 0 1 0 2.4 0a1.2 1.2 0 1 0 -2.4 0M263.8 54.4a1.2 1.2 0 1 0 2.4 0a1.2 1.2 0 1 0 -2.4 0M269.5 63.6a1.2 1.2 0 1 0 2.4 0a1.2 1.2 0 1 0 -2.4 0M276.7 56.1a1.2 1.2 0 1 0 2.4 0a1.2 1.2 0 1 0 -2.4 0M272.3 34.9a1.2 1.2 0 1 0 2.4 0a1.2 1.2 0 1 0 -2.4 0M260.6 66.2a1.2 1.2 0 1 0 2.4 0a1.2 1.2 0 1 0 -2.4 0M292.9 55.5a1.2 1.2 0 1 0 2.4 0a1.2 1.2 0 1 0 -2.4 0M282.4 36.1a1.2 1.2 0 1 0 2.4 0a1.2 1.2 0 1 0 -2.4 0M287.8 49.5a1.2 1.2 0 1 0 2.4 0a1.2 1.2 0 1 0 -2.4 0M269.6 45.0a1.2 1.2 0 1 0 2.4 0a1.2 1.2 0 1 0 -2.4 0M292.1 55.6a1.2 1.2 0 1 0 2.4 0a1.2 1.2 0 1 0 -2.4 0M287.0 52.0a1.2 1.2 0 1 0 2.4 0a1.2 1.2 0 1 0 -2.4 0M293.4 42.0a1.2 1.2 0 1 0 2.4 0a1.2 1.2 0 1 0 -2.4 0M263.5 32.4a1.2 1.2 0 1 0 2.4 0a1.2 1.2 0 1 0 -2.4 0M274.2 40.6a1.2 1.2 0 1 0 2.4 0a1.2 1.2 0 1 0 -2.4 0M270.7 64.3a1.2 1.2 0 1 0 2.4 0a1.2 1.2 0 1 0 -2.4 0M279.4 52.6a1.2 1.2 0 1 0 2.4 0a1.2 1.2 0 1 0 -2.4 0M265.5 60.3a1.2 1.2 0 1 0 2.4 0a1.2 1.2 0 1 0 -2.4 0M259.8 56.5a1.2 1.2 0 1 0 2.4 0a1.2 1.2 0 1 0 -2.4 0M274.2 46.9a1.2 1.2 0 1 0 2.4 0a1.2 1.2 0 1 0 -2.4 0M280.4 72.2a1.2 1.2 0 1 0 2.4 0a1.2 1.2 0 1 0 -2.4 0M270.7 32.1a1.2 1.2 0 1 0 2.4 0a1.2 1.2 0 1 0 -2.4 0M293.7 67.7a1.2 1.2 0 1 0 2.4 0a1.2 1.2 0 1 0 -2.4 0M271.5 68.0a1.2 1.2 0 1 0 2.4 0a1.2 1.2 0 1 0 -2.4 0M267.4 57.9a1.2 1.2 0 1 0 2.4 0a1.2 1.2 0 1 0 -2.4 0M287.1 51.4a1.2 1.2 0 1 0 2.4 0a1.2 1.2 0 1 0 -2.4 0M273.8 46.1a1.2 1.2 0 1 0 2.4 0a1.2 1.2 0 1 0 -2.4 0M266.4 71.2a1.2 1.2 0 1 0 2.4 0a1.2 1.2 0 1 0 -2.4 0M266.9 31.6a1.2 1.2 0 1 0 2.4 0a1.2 1.2 0 1 0 -2.4 0M292.2 31.2a1.2 1.2 0 1 0 2.4 0a1.2 1.2 0 1 0 -2.4 0M292.8 33.3a1.2 1.2 0 1 0 2.4 0a1.2 1.2 0 1 0 -2.4 0M280.7 38.9a1.2 1.2 0 1 0 2.4 0a1.2 1.2 0 1 0 -2.4 0M266.6 70.8a1.2 1.2 0 1 0 2.4 0a1.2 1.2 0 1 0 -2.4 0M283.2 33.1a1.2 1.2 0 1 0 2.4 0a1.2 1.2 0 1 0 -2.4 0M264.3 68.6a1.2 1.2 0 1 0 2.4 0a1.2 1.2 0 1 0 -2.4 0M268.3 31.4a1.2 1.2 0 1 0 2.4 0a1.2 1.2 0 1 0 -2.4 0M276.7 37.4a1.2 1.2 0 1 0 2.4 0a1.2 1.2 0 1 0 -2.4 0M271.3 54.2a1.2 1.2 0 1 0 2.4 0a1.2 1.2 0 1 0 -2.4 0M269.4 49.9a1.2 1.2 0 1 0 2.4 0a1.2 1.2 0 1 0 -2.4 0M293.2 30.0a1.2 1.2 0 1 0 2.4 0a1.2 1.2 0 1 0 -2.4 0M262.5 52.9a1.2 1.2 0 1 0 2.4 0a1.2 1.2 0 1 0 -2.4 0M309.5 33.0a1.2 1.2 0 1 0 2.4 0a1.2 1.2 0 1 0 -2.4 0M295.2 31.5a1.2 1.2 0 1 0 2.4 0a1.2 1.2 0 1 0 -2.4 0M296.5 38.0a1.2 1.2 0 1 0 2.4 0a1.2 1.2 0 1 0 -2.4 0M299.4 52.3a1.2 1.2 0 1 0 2.4 0a1.2 1.2 0 1 0 -2.4 0M318.9 32.6a1.2 1.2 0 1 0 2.4 0a1.2 1.2 0 1 0 -2.4 0M312.3 37.0a1.2 1.2 0 1 0 2.4 0a1.2 1.2 0 1 0 -2.4 0M315.8 31.5a1.2 1.2 0 1 0 2.4 0a1.2 1.2 0 1 0 -2.4 0M295.5 40.8a1.2 1.2 0 1 0 2.4 0a1.2 1.2 0 1 0 -2.4 0M311.2 34.9a1.2 1.2 0 1 0 2.4 0a1.2 1.2 0 1 0 -2.4 0M305.2 32.8a1.2 1.2 0 1 0 2.4 0a1.2 1.2 0 1 0 -2.4 0M304.6 35.7a1.2 1.2 0 1 0 2.4 0a1.2 1.2 0 1 0 -2.4 0M311.8 30.7a1.2 1.2 0 1 0 2.4 0a1.2 1.2 0 1 0 -2.4 0M301.9 50.6a1.2 1.2 0 1 0 2.4 0a1.2 1.2 0 1 0 -2.4 0M307.0 34.2a1.2 1.2 0 1 0 2.4 0a1.2 1.2 0 1 0 -2.4 0M300.7 44.6a1.2 1.2 0 1 0 2.4 0a1.2 1.2 0 1 0 -2.4 0M304.0 41.7a1.2 1.2 0 1 0 2.4 0a1.2 1.2 0 1 0 -2.4 0M307.5 29.8a1.2 1.2 0 1 0 2.4 0a1.2 1.2 0 1 0 -2.4 0M298.1 52.6a1.2 1.2 0 1 0 2.4 0a1.2 1.2 0 1 0 -2.4 0M301.1 47.5a1.2 1.2 0 1 0 2.4 0a1.2 1.2 0 1 0 -2.4 0M304.7 38.5a1.2 1.2 0 1 0 2.4 0a1.2 1.2 0 1 0 -2.4 0M306.0 40.1a1.2 1.2 0 1 0 2.4 0a1.2 1.2 0 1 0 -2.4 0M314.1 32.3a1.2 1.2 0 1 0 2.4 0a1.2 1.2 0 1 0 -2.4 0M310.2 30.4a1.2 1.2 0 1 0 2.4 0a1.2 1.2 0 1 0 -2.4 0M308.2 35.9a1.2 1.2 0 1 0 2.4 0a1.2 1.2 0 1 0 -2.4 0M315.9 33.6a1.2 1.2 0 1 0 2.4 0a1.2 1.2 0 1 0 -2.4 0M299.1 43.5a1.2 1.2 0 1 0 2.4 0a1.2 1.2 0 1 0 -2.4 0M296.8 31.8a1.2 1.2 0 1 0 2.4 0a1.2 1.2 0 1 0 -2.4 0M304.0 32.0a1.2 1.2 0 1 0 2.4 0a1.2 1.2 0 1 0 -2.4 0M297.6 38.5a1.2 1.2 0 1 0 2.4 0a1.2 1.2 0 1 0 -2.4 0M308.0 54.1a1.2 1.2 0 1 0 2.4 0a1.2 1.2 0 1 0 -2.4 0M308.5 32.4a1.2 1.2 0 1 0 2.4 0a1.2 1.2 0 1 0 -2.4 0M297.5 30.0a1.2 1.2 0 1 0 2.4 0a1.2 1.2 0 1 0 -2.4 0M312.0 38.6a1.2 1.2 0 1 0 2.4 0a1.2 1.2 0 1 0 -2.4 0M308.1 30.6a1.2 1.2 0 1 0 2.4 0a1.2 1.2 0 1 0 -2.4 0M304.7 42.4a1.2 1.2 0 1 0 2.4 0a1.2 1.2 0 1 0 -2.4 0M317.0 28.0a1.2 1.2 0 1 0 2.4 0a1.2 1.2 0 1 0 -2.4 0M315.5 33.4a1.2 1.2 0 1 0 2.4 0a1.2 1.2 0 1 0 -2.4 0M299.7 30.4a1.2 1.2 0 1 0 2.4 0a1.2 1.2 0 1 0 -2.4 0M298.4 32.7a1.2 1.2 0 1 0 2.4 0a1.2 1.2 0 1 0 -2.4 0M317.0 38.9a1.2 1.2 0 1 0 2.4 0a1.2 1.2 0 1 0 -2.4 0M298.1 36.2a1.2 1.2 0 1 0 2.4 0a1.2 1.2 0 1 0 -2.4 0M313.1 31.0a1.2 1.2 0 1 0 2.4 0a1.2 1.2 0 1 0 -2.4 0M302.0 33.1a1.2 1.2 0 1 0 2.4 0a1.2 1.2 0 1 0 -2.4 0M303.2 34.3a1.2 1.2 0 1 0 2.4 0a1.2 1.2 0 1 0 -2.4 0M308.0 33.7a1.2 1.2 0 1 0 2.4 0a1.2 1.2 0 1 0 -2.4 0M317.2 32.4a1.2 1.2 0 1 0 2.4 0a1.2 1.2 0 1 0 -2.4 0M294.3 43.8a1.2 1.2 0 1 0 2.4 0a1.2 1.2 0 1 0 -2.4 0M298.3 29.8a1.2 1.2 0 1 0 2.4 0a1.2 1.2 0 1 0 -2.4 0M312.1 33.9a1.2 1.2 0 1 0 2.4 0a1.2 1.2 0 1 0 -2.4 0M304.0 44.6a1.2 1.2 0 1 0 2.4 0a1.2 1.2 0 1 0 -2.4 0" fill="none" stroke="#4a4a4a" stroke-width="0.7"/>
<line x1="20.2" y1="304.5" x2="321.3" y2="16.1" stroke="#333333" stroke-width="0.95"/>
<line x1="20.5" y1="311.5" x2="321.5" y2="10.5" stroke="#888" stroke-width="0.8" stroke-dasharray="0.8 1.6"/>
<path d="M29.0 222.1a1.2 1.2 0 1 0 2.4 0a1.2 1.2 0 1 0 -2.4 0M29.9 262.8a1.2 1.2 0 1 0 2.4 0a1.2 1.2 0 1 0 -2.4 0M28.9 184.8a1.2 1.2 0 1 0 2.4 0a1.2 1.2 0 1 0 -2.4 0M25.8 221.3a1.2 1.2 0 1 0 2.4 0a1.2 1.2 0 1 0 -2.4 0M30.0 307.8a1.2 1.2 0 1 0 2.4 0a1.2 1.2 0 1 0 -2.4 0M29.2 231.9a1.2 1.2 0 1 0 2.4 0a1.2 1.2 0 1 0 -2.4 0M27.3 279.1a1.2 1.2 0 1 0 2.4 0a1.2 1.2 0 1 0 -2.4 0M29.4 262.8a1.2 1.2 0 1 0 2.4 0a1.2 1.2 0 1 0 -2.4 0M29.0 272.7a1.2 1.2 0 1 0 2.4 0a1.2 1.2 0 1 0 -2.4 0M28.9 279.0a1.2 1.2 0 1 0 2.4 0a1.2 1.2 0 1 0 -2.4 0M28.4 225.4a1.2 1.2 0 1 0 2.4 0a1.2 1.2 0 1 0 -2.4 0M29.4 260.3a1.2 1.2 0 1 0 2.4 0a1.2 1.2 0 1 0 -2.4 0M26.9 308.3a1.2 1.2 0 1 0 2.4 0a1.2 1.2 0 1 0 -2.4 0M28.0 290.1a1.2 1.2 0 1 0 2.4 0a1.2 1.2 0 1 0 -2.4 0M27.4 301.2a1.2 1.2 0 1 0 2.4 0a1.2 1.2 0 1 0 -2.4 0M29.5 235.6a1.2 1.2 0 1 0 2.4 0a1.2 1.2 0 1 0 -2.4 0M27.8 264.5a1.2 1.2 0 1 0 2.4 0a1.2 1.2 0 1 0 -2.4 0M42.6 282.4a1.2 1.2 0 1 0 2.4 0a1.2 1.2 0 1 0 -2.4 0M45.7 290.3a1.2 1.2 0 1 0 2.4 0a1.2 1.2 0 1 0 -2.4 0M70.9 260.7a1.2 1.2 0 1 0 2.4 0a1.2 1.2 0 1 0 -2.4 0M46.6 277.1a1.2 1.2 0 1 0 2.4 0a1.2 1.2 0 1 0 -2.4 0M57.2 252.6a1.2 1.2 0 1 0 2.4 0a1.2 1.2 0 1 0 -2.4 0M82.8 231.4a1.2 1.2 0 1 0 2.4 0a1.2 1.2 0 1 0 -2.4 0M81.8 225.4a1.2 1.2 0 1 0 2.4 0a1.2 1.2 0 1 0 -2.4 0M69.6 246.6a1.2 1.2 0 1 0 2.4 0a1.2 1.2 0 1 0 -2.4 0M60.1 248.9a1.2 1.2 0 1 0 2.4 0a1.2 1.2 0 1 0 -2.4 0M46.4 281.2a1.2 1.2 0 1 0 2.4 0a1.2 1.2 0 1 0 -2.4 0M40.4 271.4a1.2 1.2 0 1 0 2.4 0a1.2 1.2 0 1 0 -2.4 0M82.2 199.8a1.2 1.2 0 1 0 2.4 0a1.2 1.2 0 1 0 -2.4 0M58.8 254.5a1.2 1.2 0 1 0 2.4 0a1.2 1.2 0 1 0 -2.4 0M38.1 281.0a1.2 1.2 0 1 0 2.4 0a1.2 1.2 0 1 0 -2.4 0M64.3 240.8a1.2 1.2 0 1 0 2.4 0a1.2 1.2 0 1 0 -2.4 0M72.3 260.7a1.2 1.2 0 1 0 2.4 0a1.2 1.2 0 1 0 -2.4 0M63.8 248.6a1.2 1.2 0 1 0 2.4 0a1.2 1.2 0 1 0 -2.4 0M79.5 242.3a1.2 1.2 0 1 0 2.4 0a1.2 1.2 0 1 0 -2.4 0M34.2 285.2a1.2 1.2 0 1 0 2.4 0a1.2 1.2 0 1 0 -2.4 0M59.4 217.1a1.2 1.2 0 1 0 2.4 0a1.2 1.2 0 1 0 -2.4 0M55.9 200.9a1.2 1.2 0 1 0 2.4 0a1.2 1.2 0 1 0 -2.4 0M35.4 271.8a1.2 1.2 0 1 0 2.4 0a1.2 1.2 0 1 0 -2.4 0M65.3 261.1a1.2 1.2 0 1 0 2.4 0a1.2 1.2 0 1 0 -2.4 0M76.2 246.2a1.2 1.2 0 1 0 2.4 0a1.2 1.2 0 1 0 -2.4 0M62.8 281.5a1.2 1.2 0 1 0 2.4 0a1.2 1.2 0 1 0 -2.4 0M45.6 267.1a1.2 1.2 0 1 0 2.4 0a1.2 1.2 0 1 0 -2.4 0M75.5 254.5a1.2 1.2 0 1 0 2.4 0a1.2 1.2 0 1 0 -2.4 0M58.5 264.0a1.2 1.2 0 1 0 2.4 0a1.2 1.2 0 1 0 -2.4 0M58.5 275.6a1.2 1.2 0 1 0 2.4 0a1.2 1.2 0 1 0 -2.4 0M71.0 260.0a1.2 1.2 0 1 0 2.4 0a1.2 1.2 0 1 0 -2.4 0M39.8 293.4a1.2 1.2 0 1 0 2.4 0a1.2 1.2 0 1 0 -2.4 0M74.5 235.6a1.2 1.2 0 1 0 2.4 0a1.2 1.2 0 1 0 -2.4 0M67.4 269.7a1.2 1.2 0 1 0 2.4 0a1.2 1.2 0 1 0 -2.4 0M72.8 263.6a1.2 1.2 0 1 0 2.4 0a1.2 1.2 0 1 0 -2.4 0M91.1 185.3a1.2 1.2 0 1 0 2.4 0a1.2 1.2 0 1 0 -2.4 0M114.5 230.4a1.2 1.2 0 1 0 2.4 0a1.2 1.2 0 1 0 -2.4 0M91.1 179.3a1.2 1.2 0 1 0 2.4 0a1.2 1.2 0 1 0 -2.4 0M86.9 237.7a1.2 1.2 0 1 0 2.4 0a1.2 1.2 0 1 0 -2.4 0M116.5 208.6a1.2 1.2 0 1 0 2.4 0a1.2 1.2 0 1 0 -2.4 0M116.7 202.3a1.2 1.2 0 1 0 2.4 0a1.2 1.2 0 1 0 -2.4 0M117.3 205.8a1.2 1.2 0 1 0 2.4 0a1.2 1.2 0 1 0 -2.4 0M101.8 237.8a1.2 1.2 0 1 0 2.4 0a1.2 1.2 0 1 0 -2.4 0M94.3 247.2a1.2 1.2 0 1 0 2.4 0a1.2 1.2 0 1 0 -2.4 0M84.1 229.5a1.2 1.2 0 1 0 2.4 0a1.2 1.2 0 1 0 -2.4 0M108.5 204.4a1.2 1.2 0 1 0 2.4 0a1.2 1.2 0 1 0 -2.4 0M111.3 215.4a1.2 1.2 0 1 0 2.4 0a1.2 1.2 0 1 0 -2.4 0M115.8 204.2a1.2 1.2 0 1 0 2.4 0a1.2 1.2 0 1 0 -2.4 0M94.6 217.8a1.2 1.2 0 1 0 2.4 0a1.2 1.2 0 1 0 -2.4 0M92.0 217.6a1.2 1.2 0 1 0 2.4 0a1.2 1.2 0 1 0 -2.4 0M108.3 206.1a1.2 1.2 0 1 0 2.4 0a1.2 1.2 0 1 0 -2.4 0M114.6 189.1a1.2 1.2 0 1 0 2.4 0a1.2 1.2 0 1 0 -2.4 0M120.7 232.4a1.2 1.2 0 1 0 2.4 0a1.2 1.2 0 1 0 -2.4 0M89.5 224.1a1.2 1.2 0 1 0 2.4 0a1.2 1.2 0 1 0 -2.4 0M102.2 107.1a1.2 1.2 0 1 0 2.4 0a1.2 1.2 0 1 0 -2.4 0M118.0 240.9a1.2 1.2 0 1 0 2.4 0a1.2 1.2 0 1 0 -2.4 0M100.0 238.2a1.2 1.2 0 1 0 2.4 0a1.2 1.2 0 1 0 -2.4 0M106.3 179.2a1.2 1.2 0 1 0 2.4 0a1.2 1.2 0 1 0 -2.4 0M84.7 251.2a1.2 1.2 0 1 0 2.4 0a1.2 1.2 0 1 0 -2.4 0M109.6 205.8a1.2 1.2 0 1 0 2.4 0a1.2 1.2 0 1 0 -2.4 0M119.0 198.5a1.2 1.2 0 1 0 2.4 0a1.2 1.2 0 1 0 -2.4 0M115.4 197.7a1.2 1.2 0 1 0 2.4 0a1.2 1.2 0 1 0 -2.4 0M117.7 200.3a1.2 1.2 0 1 0 2.4 0a1.2 1.2 0 1 0 -2.4 0M109.1 167.5a1.2 1.2 0 1 0 2.4 0a1.2 1.2 0 1 0 -2.4 0M93.2 170.2a1.2 1.2 0 1 0 2.4 0a1.2 1.2 0 1 0 -2.4 0M113.2 227.0a1.2 1.2 0 1 0 2.4 0a1.2 1.2 0 1 0 -2.4 0M91.9 152.3a1.2 1.2 0 1 0 2.4 0a1.2 1.2 0 1 0 -2.4 0M115.6 216.2a1.2 1.2 0 1 0 2.4 0a1.2 1.2 0 1 0 -2.4 0M86.2 251.6a1.2 1.2 0 1 0 2.4 0a1.2 1.2 0 1 0 -2.4 0M115.4 207.3a1.2 1.2 0 1 0 2.4 0a1.2 1.2 0 1 0 -2.4 0M90.1 255.6a1.2 1.2 0 1 0 2.4 0a1.2 1.2 0 1 0 -2.4 0M98.1 202.1a1.2 1.2 0 1 0 2.4 0a1.2 1.2 0 1 0 -2.4 0M95.9 200.2a1.2 1.2 0 1 0 2.4 0a1.2 1.2 0 1 0 -2.4 0M110.2 202.3a1.2 1.2 0 1 0 2.4 0a1.2 1.2 0 1 0 -2.4 0M90.6 184.8a1.2 1.2 0 1 0 2.4 0a1.2 1.2 0 1 0 -2.4 0M99.0 222.6a1.2 1.2 0 1 0 2.4 0a1.2 1.2 0 1 0 -2.4 0M84.0 238.9a1.2 1.2 0 1 0 2.4 0a1.2 1.2 0 1 0 -2.4 0M93.8 240.3a1.2 1.2 0 1 0 2.4 0a1.2 1.2 0 1 0 -2.4 0M99.9 231.4a1.2 1.2 0 1 0 2.4 0a1.2 1.2 0 1 0 -2.4 0M87.8 232.9a1.2 1.2 0 1 0 2.4 0a1.2 1.2 0 1 0 -2.4 0M108.0 226.4a1.2 1.2 0 1 0 2.4 0a1.2 1.2 0 1 0 -2.4 0M98.3 229.3a1.2 1.2 0 1 0 2.4 0a1.2 1.2 0 1 0 -2.4 0M111.5 209.7a1.2 1.2 0 1 0 2.4 0a1.2 1.2 0 1 0 -2.4 0M108.8 235.6a1.2 1.2 0 1 0 2.4 0a1.2 1.2 0 1 0 -2.4 0M100.3 219.3a1.2 1.2 0 1 0 2.4 0a1.2 1.2 0 1 0 -2.4 0M205.0 121.4a1.2 1.2 0 1 0 2.4 0a1.2 1.2 0 1 0 -2.4 0M182.5 121.8a1.2 1.2 0 1 0 2.4 0a1.2 1.2 0 1 0 -2.4 0M199.6 120.3a1.2 1.2 0 1 0 2.4 0a1.2 1.2 0 1 0 -2.4 0M154.7 168.8a1.2 1.2 0 1 0 2.4 0a1.2 1.2 0 1 0 -2.4 0M174.1 150.1a1.2 1.2 0 1 0 2.4 0a1.2 1.2 0 1 0 -2.4 0M140.8 188.1a1.2 1.2 0 1 0 2.4 0a1.2 1.2 0 1 0 -2.4 0M217.3 101.4a1.2 1.2 0 1 0 2.4 0a1.2 1.2 0 1 0 -2.4 0M145.3 177.2a1.2 1.2 0 1 0 2.4 0a1.2 1.2 0 1 0 -2.4 0M146.6 206.6a1.2 1.2 0 1 0 2.4 0a1.2 1.2 0 1 0 -2.4 0M129.1 198.8a1.2 1.2 0 1 0 2.4 0a1.2 1.2 0 1 0 -2.4 0M146.7 190.5a1.2 1.2 0 1 0 2.4 0a1.2 1.2 0 1 0 -2.4 0M195.0 131.5a1.2 1.2 0 1 0 2.4 0a1.2 1.2 0 1 0 -2.4 0M188.8 148.0a1.2 1.2 0 1 0 2.4 0a1.2 1.2 0 1 0 -2.4 0M134.4 206.3a1.2 1.2 0 1 0 2.4 0a1.2 1.2 0 1 0 -2.4 0M158.0 170.7a1.2 1.2 0 1 0 2.4 0a1.2 1.2 0 1 0 -2.4 0M162.3 172.4a1.2 1.2 0 1 0 2.4 0a1.2 1.2 0 1 0 -2.4 0M185.7 138.6a1.2 1.2 0 1 0 2.4 0a1.2 1.2 0 1 0 -2.4 0M165.7 159.6a1.2 1.2 0 1 0 2.4 0a1.2 1.2 0 1 0 -2.4 0M178.2 148.5a1.2 1.2 0 1 0 2.4 0a1.2 1.2 0 1 0 -2.4 0M202.4 117.2a1.2 1.2 0 1 0 2.4 0a1.2 1.2 0 1 0 -2.4 0M191.5 137.1a1.2 1.2 0 1 0 2.4 0a1.2 1.2 0 1 0 -2.4 0M157.0 174.9a1.2 1.2 0 1 0 2.4 0a1.2 1.2 0 1 0 -2.4 0M164.9 155.1a1.2 1.2 0 1 0 2.4 0a1.2 1.2 0 1 0 -2.4 0M157.2 174.0a1.2 1.2 0 1 0 2.4 0a1.2 1.2 0 1 0 -2.4 0M132.5 188.2a1.2 1.2 0 1 0 2.4 0a1.2 1.2 0 1 0 -2.4 0M141.5 186.5a1.2 1.2 0 1 0 2.4 0a1.2 1.2 0 1 0 -2.4 0M149.2 166.3a1.2 1.2 0 1 0 2.4 0a1.2 1.2 0 1 0 -2.4 0M152.1 189.8a1.2 1.2 0 1 0 2.4 0a1.2 1.2 0 1 0 -2.4 0M152.0 173.3a1.2 1.2 0 1 0 2.4 0a1.2 1.2 0 1 0 -2.4 0M177.2 124.0a1.2 1.2 0 1 0 2.4 0a1.2 1.2 0 1 0 -2.4 0M215.0 115.0a1.2 1.2 0 1 0 2.4 0a1.2 1.2 0 1 0 -2.4 0M196.1 124.2a1.2 1.2 0 1 0 2.4 0a1.2 1.2 0 1 0 -2.4 0M197.7 119.7a1.2 1.2 0 1 0 2.4 0a1.2 1.2 0 1 0 -2.4 0M194.7 129.7a1.2 1.2 0 1 0 2.4 0a1.2 1.2 0 1 0 -2.4 0M179.2 118.4a1.2 1.2 0 1 0 2.4 0a1.2 1.2 0 1 0 -2.4 0M209.8 105.7a1.2 1.2 0 1 0 2.4 0a1.2 1.2 0 1 0 -2.4 0M188.0 139.5a1.2 1.2 0 1 0 2.4 0a1.2 1.2 0 1 0 -2.4 0M169.9 146.9a1.2 1.2 0 1 0 2.4 0a1.2 1.2 0 1 0 -2.4 0M129.4 194.1a1.2 1.2 0 1 0 2.4 0a1.2 1.2 0 1 0 -2.4 0M168.8 122.0a1.2 1.2 0 1 0 2.4 0a1.2 1.2 0 1 0 -2.4 0M142.4 207.3a1.2 1.2 0 1 0 2.4 0a1.2 1.2 0 1 0 -2.4 0M134.7 191.9a1.2 1.2 0 1 0 2.4 0a1.2 1.2 0 1 0 -2.4 0M170.5 158.1a1.2 1.2 0 1 0 2.4 0a1.2 1.2 0 1 0 -2.4 0M197.1 125.3a1.2 1.2 0 1 0 2.4 0a1.2 1.2 0 1 0 -2.4 0M150.3 205.5a1.2 1.2 0 1 0 2.4 0a1.2 1.2 0 1 0 -2.4 0M195.6 126.0a1.2 1.2 0 1 0 2.4 0a1.2 1.2 0 1 0 -2.4 0M172.3 163.1a1.2 1.2 0 1 0 2.4 0a1.2 1.2 0 1 0 -2.4 0M136.3 174.6a1.2 1.2 0 1 0 2.4 0a1.2 1.2 0 1 0 -2.4 0M214.3 120.5a1.2 1.2 0 1 0 2.4 0a1.2 1.2 0 1 0 -2.4 0M160.5 146.3a1.2 1.2 0 1 0 2.4 0a1.2 1.2 0 1 0 -2.4 0M150.3 154.8a1.2 1.2 0 1 0 2.4 0a1.2 1.2 0 1 0 -2.4 0M203.1 125.0a1.2 1.2 0 1 0 2.4 0a1.2 1.2 0 1 0 -2.4 0M134.0 191.2a1.2 1.2 0 1 0 2.4 0a1.2 1.2 0 1 0 -2.4 0M192.2 151.1a1.2 1.2 0 1 0 2.4 0a1.2 1.2 0 1 0 -2.4 0M140.0 203.4a1.2 1.2 0 1 0 2.4 0a1.2 1.2 0 1 0 -2.4 0M159.6 162.3a1.2 1.2 0 1 0 2.4 0a1.2 1.2 0 1 0 -2.4 0M144.2 189.7a1.2 1.2 0 1 0 2.4 0a1.2 1.2 0 1 0 -2.4 0M202.5 118.4a1.2 1.2 0 1 0 2.4 0a1.2 1.2 0 1 0 -2.4 0M159.4 200.3a1.2 1.2 0 1 0 2.4 0a1.2 1.2 0 1 0 -2.4 0M215.3 79.3a1.2 1.2 0 1 0 2.4 0a1.2 1.2 0 1 0 -2.4 0M181.9 167.7a1.2 1.2 0 1 0 2.4 0a1.2 1.2 0 1 0 -2.4 0M188.4 115.4a1.2 1.2 0 1 0 2.4 0a1.2 1.2 0 1 0 -2.4 0M171.9 159.3a1.2 1.2 0 1 0 2.4 0a1.2 1.2 0 1 0 -2.4 0M151.6 162.0a1.2 1.2 0 1 0 2.4 0a1.2 1.2 0 1 0 -2.4 0M159.9 174.1a1.2 1.2 0 1 0 2.4 0a1.2 1.2 0 1 0 -2.4 0M212.1 95.7a1.2 1.2 0 1 0 2.4 0a1.2 1.2 0 1 0 -2.4 0M141.3 196.5a1.2 1.2 0 1 0 2.4 0a1.2 1.2 0 1 0 -2.4 0M216.6 111.3a1.2 1.2 0 1 0 2.4 0a1.2 1.2 0 1 0 -2.4 0M194.6 131.9a1.2 1.2 0 1 0 2.4 0a1.2 1.2 0 1 0 -2.4 0M156.5 173.2a1.2 1.2 0 1 0 2.4 0a1.2 1.2 0 1 0 -2.4 0M183.4 170.6a1.2 1.2 0 1 0 2.4 0a1.2 1.2 0 1 0 -2.4 0M158.5 172.5a1.2 1.2 0 1 0 2.4 0a1.2 1.2 0 1 0 -2.4 0M158.5 184.9a1.2 1.2 0 1 0 2.4 0a1.2 1.2 0 1 0 -2.4 0M170.2 158.2a1.2 1.2 0 1 0 2.4 0a1.2 1.2 0 1 0 -2.4 0M123.6 210.4a1.2 1.2 0 1 0 2.4 0a1.2 1.2 0 1 0 -2.4 0M169.3 166.2a1.2 1.2 0 1 0 2.4 0a1.2 1.2 0 1 0 -2.4 0M215.0 108.0a1.2 1.2 0 1 0 2.4 0a1.2 1.2 0 1 0 -2.4 0M149.4 167.6a1.2 1.2 0 1 0 2.4 0a1.2 1.2 0 1 0 -2.4 0M193.6 116.8a1.2 1.2 0 1 0 2.4 0a1.2 1.2 0 1 0 -2.4 0M164.4 143.1a1.2 1.2 0 1 0 2.4 0a1.2 1.2 0 1 0 -2.4 0M142.1 151.8a1.2 1.2 0 1 0 2.4 0a1.2 1.2 0 1 0 -2.4 0M208.6 115.1a1.2 1.2 0 1 0 2.4 0a1.2 1.2 0 1 0 -2.4 0M123.7 210.4a1.2 1.2 0 1 0 2.4 0a1.2 1.2 0 1 0 -2.4 0M151.1 185.8a1.2 1.2 0 1 0 2.4 0a1.2 1.2 0 1 0 -2.4 0M217.6 33.7a1.2 1.2 0 1 0 2.4 0a1.2 1.2 0 1 0 -2.4 0M147.1 173.8a1.2 1.2 0 1 0 2.4 0a1.2 1.2 0 1 0 -2.4 0M203.3 120.7a1.2 1.2 0 1 0 2.4 0a1.2 1.2 0 1 0 -2.4 0M180.0 145.5a1.2 1.2 0 1 0 2.4 0a1.2 1.2 0 1 0 -2.4 0M199.1 107.6a1.2 1.2 0 1 0 2.4 0a1.2 1.2 0 1 0 -2.4 0M182.3 146.6a1.2 1.2 0 1 0 2.4 0a1.2 1.2 0 1 0 -2.4 0M156.7 158.9a1.2 1.2 0 1 0 2.4 0a1.2 1.2 0 1 0 -2.4 0M194.8 128.9a1.2 1.2 0 1 0 2.4 0a1.2 1.2 0 1 0 -2.4 0M124.6 198.4a1.2 1.2 0 1 0 2.4 0a1.2 1.2 0 1 0 -2.4 0M164.8 140.1a1.2 1.2 0 1 0 2.4 0a1.2 1.2 0 1 0 -2.4 0M157.6 179.2a1.2 1.2 0 1 0 2.4 0a1.2 1.2 0 1 0 -2.4 0M167.7 156.4a1.2 1.2 0 1 0 2.4 0a1.2 1.2 0 1 0 -2.4 0M134.3 178.4a1.2 1.2 0 1 0 2.4 0a1.2 1.2 0 1 0 -2.4 0M143.3 184.3a1.2 1.2 0 1 0 2.4 0a1.2 1.2 0 1 0 -2.4 0M175.8 134.1a1.2 1.2 0 1 0 2.4 0a1.2 1.2 0 1 0 -2.4 0M159.1 136.3a1.2 1.2 0 1 0 2.4 0a1.2 1.2 0 1 0 -2.4 0M197.8 105.7a1.2 1.2 0 1 0 2.4 0a1.2 1.2 0 1 0 -2.4 0M179.9 147.2a1.2 1.2 0 1 0 2.4 0a1.2 1.2 0 1 0 -2.4 0M204.4 127.0a1.2 1.2 0 1 0 2.4 0a1.2 1.2 0 1 0 -2.4 0M192.1 128.6a1.2 1.2 0 1 0 2.4 0a1.2 1.2 0 1 0 -2.4 0M179.6 153.9a1.2 1.2 0 1 0 2.4 0a1.2 1.2 0 1 0 -2.4 0M149.6 189.6a1.2 1.2 0 1 0 2.4 0a1.2 1.2 0 1 0 -2.4 0M196.9 115.6a1.2 1.2 0 1 0 2.4 0a1.2 1.2 0 1 0 -2.4 0M146.1 174.2a1.2 1.2 0 1 0 2.4 0a1.2 1.2 0 1 0 -2.4 0M129.2 220.8a1.2 1.2 0 1 0 2.4 0a1.2 1.2 0 1 0 -2.4 0M214.1 112.5a1.2 1.2 0 1 0 2.4 0a1.2 1.2 0 1 0 -2.4 0M173.7 167.2a1.2 1.2 0 1 0 2.4 0a1.2 1.2 0 1 0 -2.4 0M196.1 90.1a1.2 1.2 0 1 0 2.4 0a1.2 1.2 0 1 0 -2.4 0M172.7 149.7a1.2 1.2 0 1 0 2.4 0a1.2 1.2 0 1 0 -2.4 0M180.5 132.9a1.2 1.2 0 1 0 2.4 0a1.2 1.2 0 1 0 -2.4 0M125.3 203.1a1.2 1.2 0 1 0 2.4 0a1.2 1.2 0 1 0 -2.4 0M139.9 181.9a1.2 1.2 0 1 0 2.4 0a1.2 1.2 0 1 0 -2.4 0M186.6 128.7a1.2 1.2 0 1 0 2.4 0a1.2 1.2 0 1 0 -2.4 0M176.6 148.6a1.2 1.2 0 1 0 2.4 0a1.2 1.2 0 1 0 -2.4 0M137.2 179.7a1.2 1.2 0 1 0 2.4 0a1.2 1.2 0 1 0 -2.4 0M213.1 130.4a1.2 1.2 0 1 0 2.4 0a1.2 1.2 0 1 0 -2.4 0M136.8 178.4a1.2 1.2 0 1 0 2.4 0a1.2 1.2 0 1 0 -2.4 0M170.9 174.5a1.2 1.2 0 1 0 2.4 0a1.2 1.2 0 1 0 -2.4 0M135.8 141.3a1.2 1.2 0 1 0 2.4 0a1.2 1.2 0 1 0 -2.4 0M190.7 129.8a1.2 1.2 0 1 0 2.4 0a1.2 1.2 0 1 0 -2.4 0M148.5 144.1a1.2 1.2 0 1 0 2.4 0a1.2 1.2 0 1 0 -2.4 0M134.9 207.7a1.2 1.2 0 1 0 2.4 0a1.2 1.2 0 1 0 -2.4 0M126.4 191.0a1.2 1.2 0 1 0 2.4 0a1.2 1.2 0 1 0 -2.4 0M138.8 219.3a1.2 1.2 0 1 0 2.4 0a1.2 1.2 0 1 0 -2.4 0M140.4 165.4a1.2 1.2 0 1 0 2.4 0a1.2 1.2 0 1 0 -2.4 0M173.4 155.3a1.2 1.2 0 1 0 2.4 0a1.2 1.2 0 1 0 -2.4 0M165.2 143.9a1.2 1.2 0 1 0 2.4 0a1.2 1.2 0 1 0 -2.4 0M213.6 110.9a1.2 1.2 0 1 0 2.4 0a1.2 1.2 0 1 0 -2.4 0M213.3 117.1a1.2 1.2 0 1 0 2.4 0a1.2 1.2 0 1 0 -2.4 0M198.2 133.8a1.2 1.2 0 1 0 2.4 0a1.2 1.2 0 1 0 -2.4 0M186.3 150.5a1.2 1.2 0 1 0 2.4 0a1.2 1.2 0 1 0 -2.4 0M202.9 100.7a1.2 1.2 0 1 0 2.4 0a1.2 1.2 0 1 0 -2.4 0M211.8 106.2a1.2 1.2 0 1 0 2.4 0a1.2 1.2 0 1 0 -2.4 0M124.2 183.5a1.2 1.2 0 1 0 2.4 0a1.2 1.2 0 1 0 -2.4 0M133.3 213.2a1.2 1.2 0 1 0 2.4 0a1.2 1.2 0 1 0 -2.4 0M156.5 165.7a1.2 1.2 0 1 0 2.4 0a1.2 1.2 0 1 0 -2.4 0M131.0 217.0a1.2 1.2 0 1 0 2.4 0a1.2 1.2 0 1 0 -2.4 0M179.4 151.8a1.2 1.2 0 1 0 2.4 0a1.2 1.2 0 1 0 -2.4 0M147.0 149.0a1.2 1.2 0 1 0 2.4 0a1.2 1.2 0 1 0 -2.4 0M147.3 166.6a1.2 1.2 0 1 0 2.4 0a1.2 1.2 0 1 0 -2.4 0M149.6 169.1a1.2 1.2 0 1 0 2.4 0a1.2 1.2 0 1 0 -2.4 0M131.4 205.5a1.2 1.2 0 1 0 2.4 0a1.2 1.2 0 1 0 -2.4 0M192.9 118.5a1.2 1.2 0 1 0 2.4 0a1.2 1.2 0 1 0 -2.4 0M184.3 121.9a1.2 1.2 0 1 0 2.4 0a1.2 1.2 0 1 0 -2.4 0M180.1 165.2a1.2 1.2 0 1 0 2.4 0a1.2 1.2 0 1 0 -2.4 0M125.3 211.0a1.2 1.2 0 1 0 2.4 0a1.2 1.2 0 1 0 -2.4 0M163.1 165.1a1.2 1.2 0 1 0 2.4 0a1.2 1.2 0 1 0 -2.4 0M187.6 134.4a1.2 1.2 0 1 0 2.4 0a1.2 1.2 0 1 0 -2.4 0M137.0 188.3a1.2 1.2 0 1 0 2.4 0a1.2 1.2 0 1 0 -2.4 0M158.9 173.3a1.2 1.2 0 1 0 2.4 0a1.2 1.2 0 1 0 -2.4 0M123.9 213.6a1.2 1.2 0 1 0 2.4 0a1.2 1.2 0 1 0 -2.4 0M129.9 192.3a1.2 1.2 0 1 0 2.4 0a1.2 1.2 0 1 0 -2.4 0M142.8 196.5a1.2 1.2 0 1 0 2.4 0a1.2 1.2 0 1 0 -2.4 0M161.7 169.9a1.2 1.2 0 1 0 2.4 0a1.2 1.2 0 1 0 -2.4 0M166.4 156.4a1.2 1.2 0 1 0 2.4 0a1.2 1.2 0 1 0 -2.4 0M206.7 108.4a1.2 1.2 0 1 0 2.4 0a1.2 1.2 0 1 0 -2.4 0M152.3 165.7a1.2 1.2 0 1 0 2.4 0a1.2 1.2 0 1 0 -2.4 0M124.1 192.5a1.2 1.2 0 1 0 2.4 0a1.2 1.2 0 1 0 -2.4 0M201.1 111.6a1.2 1.2 0 1 0 2.4 0a1.2 1.2 0 1 0 -2.4 0M128.0 180.8a1.2 1.2 0 1 0 2.4 0a1.2 1.2 0 1 0 -2.4 0M130.9 215.6a1.2 1.2 0 1 0 2.4 0a1.2 1.2 0 1 0 -2.4 0M214.2 103.3a1.2 1.2 0 1 0 2.4 0a1.2 1.2 0 1 0 -2.4 0M194.1 126.4a1.2 1.2 0 1 0 2.4 0a1.2 1.2 0 1 0 -2.4 0M154.4 177.9a1.2 1.2 0 1 0 2.4 0a1.2 1.2 0 1 0 -2.4 0M134.7 194.3a1.2 1.2 0 1 0 2.4 0a1.2 1.2 0 1 0 -2.4 0M159.0 165.1a1.2 1.2 0 1 0 2.4 0a1.2 1.2 0 1 0 -2.4 0M230.7 96.2a1.2 1.2 0 1 0 2.4 0a1.2 1.2 0 1 0 -2.4 0M251.2 51.1a1.2 1.2 0 1 0 2.4 0a1.2 1.2 0 1 0 -2.4 0M233.7 63.1a1.2 1.2 0 1 0 2.4 0a1.2 1.2 0 1 0 -2.4 0M220.8 105.7a1.2 1.2 0 1 0 2.4 0a1.2 1.2 0 1 0 -2.4 0M253.2 61.1a1.2 1.2 0 1 0 2.4 0a1.2 1.2 0 1 0 -2.4 0M241.5 73.0a1.2 1.2 0 1 0 2.4 0a1.2 1.2 0 1 0 -2.4 0M222.2 95.1a1.2 1.2 0 1 0 2.4 0a1.2 1.2 0 1 0 -2.4 0M222.0 100.8a1.2 1.2 0 1 0 2.4 0a1.2 1.2 0 1 0 -2.4 0M235.5 81.2a1.2 1.2 0 1 0 2.4 0a1.2 1.2 0 1 0 -2.4 0M221.2 96.9a1.2 1.2 0 1 0 2.4 0a1.2 1.2 0 1 0 -2.4 0M241.9 75.3a1.2 1.2 0 1 0 2.4 0a1.2 1.2 0 1 0 -2.4 0M241.3 65.4a1.2 1.2 0 1 0 2.4 0a1.2 1.2 0 1 0 -2.4 0M218.9 98.8a1.2 1.2 0 1 0 2.4 0a1.2 1.2 0 1 0 -2.4 0M248.6 61.3a1.2 1.2 0 1 0 2.4 0a1.2 1.2 0 1 0 -2.4 0M247.8 97.1a1.2 1.2 0 1 0 2.4 0a1.2 1.2 0 1 0 -2.4 0M252.7 87.0a1.2 1.2 0 1 0 2.4 0a1.2 1.2 0 1 0 -2.4 0M243.3 124.0a1.2 1.2 0 1 0 2.4 0a1.2 1.2 0 1 0 -2.4 0M244.2 87.9a1.2 1.2 0 1 0 2.4 0a1.2 1.2 0 1 0 -2.4 0M224.0 72.5a1.2 1.2 0 1 0 2.4 0a1.2 1.2 0 1 0 -2.4 0M218.6 94.0a1.2 1.2 0 1 0 2.4 0a1.2 1.2 0 1 0 -2.4 0M220.2 86.9a1.2 1.2 0 1 0 2.4 0a1.2 1.2 0 1 0 -2.4 0M254.6 74.5a1.2 1.2 0 1 0 2.4 0a1.2 1.2 0 1 0 -2.4 0M242.4 71.8a1.2 1.2 0 1 0 2.4 0a1.2 1.2 0 1 0 -2.4 0M253.9 85.5a1.2 1.2 0 1 0 2.4 0a1.2 1.2 0 1 0 -2.4 0M231.1 107.8a1.2 1.2 0 1 0 2.4 0a1.2 1.2 0 1 0 -2.4 0M246.6 63.0a1.2 1.2 0 1 0 2.4 0a1.2 1.2 0 1 0 -2.4 0M220.2 87.2a1.2 1.2 0 1 0 2.4 0a1.2 1.2 0 1 0 -2.4 0M224.1 87.3a1.2 1.2 0 1 0 2.4 0a1.2 1.2 0 1 0 -2.4 0M228.3 98.0a1.2 1.2 0 1 0 2.4 0a1.2 1.2 0 1 0 -2.4 0M238.8 72.7a1.2 1.2 0 1 0 2.4 0a1.2 1.2 0 1 0 -2.4 0M239.0 73.4a1.2 1.2 0 1 0 2.4 0a1.2 1.2 0 1 0 -2.4 0M236.8 52.9a1.2 1.2 0 1 0 2.4 0a1.2 1.2 0 1 0 -2.4 0M233.9 114.4a1.2 1.2 0 1 0 2.4 0a1.2 1.2 0 1 0 -2.4 0M239.7 101.7a1.2 1.2 0 1 0 2.4 0a1.2 1.2 0 1 0 -2.4 0M254.7 59.1a1.2 1.2 0 1 0 2.4 0a1.2 1.2 0 1 0 -2.4 0M235.2 78.8a1.2 1.2 0 1 0 2.4 0a1.2 1.2 0 1 0 -2.4 0M249.7 68.8a1.2 1.2 0 1 0 2.4 0a1.2 1.2 0 1 0 -2.4 0M219.8 103.1a1.2 1.2 0 1 0 2.4 0a1.2 1.2 0 1 0 -2.4 0M232.5 84.8a1.2 1.2 0 1 0 2.4 0a1.2 1.2 0 1 0 -2.4 0M239.1 64.3a1.2 1.2 0 1 0 2.4 0a1.2 1.2 0 1 0 -2.4 0M241.4 69.5a1.2 1.2 0 1 0 2.4 0a1.2 1.2 0 1 0 -2.4 0M227.3 89.9a1.2 1.2 0 1 0 2.4 0a1.2 1.2 0 1 0 -2.4 0M233.0 84.7a1.2 1.2 0 1 0 2.4 0a1.2 1.2 0 1 0 -2.4 0M253.9 30.3a1.2 1.2 0 1 0 2.4 0a1.2 1.2 0 1 0 -2.4 0M242.5 97.0a1.2 1.2 0 1 0 2.4 0a1.2 1.2 0 1 0 -2.4 0M240.1 100.6a1.2 1.2 0 1 0 2.4 0a1.2 1.2 0 1 0 -2.4 0M220.2 101.8a1.2 1.2 0 1 0 2.4 0a1.2 1.2 0 1 0 -2.4 0M219.7 114.5a1.2 1.2 0 1 0 2.4 0a1.2 1.2 0 1 0 -2.4 0M225.8 84.0a1.2 1.2 0 1 0 2.4 0a1.2 1.2 0 1 0 -2.4 0M223.0 88.5a1.2 1.2 0 1 0 2.4 0a1.2 1.2 0 1 0 -2.4 0M255.3 65.8a1.2 1.2 0 1 0 2.4 0a1.2 1.2 0 1 0 -2.4 0M217.8 105.6a1.2 1.2 0 1 0 2.4 0a1.2 1.2 0 1 0 -2.4 0M231.7 98.9a1.2 1.2 0 1 0 2.4 0a1.2 1.2 0 1 0 -2.4 0M219.9 95.1a1.2 1.2 0 1 0 2.4 0a1.2 1.2 0 1 0 -2.4 0M242.2 111.7a1.2 1.2 0 1 0 2.4 0a1.2 1.2 0 1 0 -2.4 0M219.5 115.5a1.2 1.2 0 1 0 2.4 0a1.2 1.2 0 1 0 -2.4 0M220.3 113.8a1.2 1.2 0 1 0 2.4 0a1.2 1.2 0 1 0 -2.4 0M220.8 69.1a1.2 1.2 0 1 0 2.4 0a1.2 1.2 0 1 0 -2.4 0M228.1 93.8a1.2 1.2 0 1 0 2.4 0a1.2 1.2 0 1 0 -2.4 0M239.8 101.1a1.2 1.2 0 1 0 2.4 0a1.2 1.2 0 1 0 -2.4 0M286.8 41.8a1.2 1.2 0 1 0 2.4 0a1.2 1.2 0 1 0 -2.4 0M266.2 30.7a1.2 1.2 0 1 0 2.4 0a1.2 1.2 0 1 0 -2.4 0M266.8 89.3a1.2 1.2 0 1 0 2.4 0a1.2 1.2 0 1 0 -2.4 0M287.5 82.7a1.2 1.2 0 1 0 2.4 0a1.2 1.2 0 1 0 -2.4 0M284.5 32.7a1.2 1.2 0 1 0 2.4 0a1.2 1.2 0 1 0 -2.4 0M260.8 68.0a1.2 1.2 0 1 0 2.4 0a1.2 1.2 0 1 0 -2.4 0M286.8 48.3a1.2 1.2 0 1 0 2.4 0a1.2 1.2 0 1 0 -2.4 0M287.8 29.3a1.2 1.2 0 1 0 2.4 0a1.2 1.2 0 1 0 -2.4 0M262.8 83.7a1.2 1.2 0 1 0 2.4 0a1.2 1.2 0 1 0 -2.4 0M279.9 41.2a1.2 1.2 0 1 0 2.4 0a1.2 1.2 0 1 0 -2.4 0M263.5 78.2a1.2 1.2 0 1 0 2.4 0a1.2 1.2 0 1 0 -2.4 0M265.3 67.3a1.2 1.2 0 1 0 2.4 0a1.2 1.2 0 1 0 -2.4 0M274.9 61.3a1.2 1.2 0 1 0 2.4 0a1.2 1.2 0 1 0 -2.4 0M275.9 72.1a1.2 1.2 0 1 0 2.4 0a1.2 1.2 0 1 0 -2.4 0M274.3 69.1a1.2 1.2 0 1 0 2.4 0a1.2 1.2 0 1 0 -2.4 0M276.7 34.5a1.2 1.2 0 1 0 2.4 0a1.2 1.2 0 1 0 -2.4 0M264.1 58.2a1.2 1.2 0 1 0 2.4 0a1.2 1.2 0 1 0 -2.4 0M285.7 44.0a1.2 1.2 0 1 0 2.4 0a1.2 1.2 0 1 0 -2.4 0M266.6 67.4a1.2 1.2 0 1 0 2.4 0a1.2 1.2 0 1 0 -2.4 0M290.9 34.2a1.2 1.2 0 1 0 2.4 0a1.2 1.2 0 1 0 -2.4 0M275.7 72.4a1.2 1.2 0 1 0 2.4 0a1.2 1.2 0 1 0 -2.4 0M267.6 74.6a1.2 1.2 0 1 0 2.4 0a1.2 1.2 0 1 0 -2.4 0M262.6 79.4a1.2 1.2 0 1 0 2.4 0a1.2 1.2 0 1 0 -2.4 0M274.5 82.7a1.2 1.2 0 1 0 2.4 0a1.2 1.2 0 1 0 -2.4 0M270.4 65.0a1.2 1.2 0 1 0 2.4 0a1.2 1.2 0 1 0 -2.4 0M279.8 33.6a1.2 1.2 0 1 0 2.4 0a1.2 1.2 0 1 0 -2.4 0M275.0 49.6a1.2 1.2 0 1 0 2.4 0a1.2 1.2 0 1 0 -2.4 0M257.4 32.6a1.2 1.2 0 1 0 2.4 0a1.2 1.2 0 1 0 -2.4 0M287.8 32.6a1.2 1.2 0 1 0 2.4 0a1.2 1.2 0 1 0 -2.4 0M257.9 85.1a1.2 1.2 0 1 0 2.4 0a1.2 1.2 0 1 0 -2.4 0M287.6 48.4a1.2 1.2 0 1 0 2.4 0a1.2 1.2 0 1 0 -2.4 0M287.1 32.7a1.2 1.2 0 1 0 2.4 0a1.2 1.2 0 1 0 -2.4 0M291.3 34.4a1.2 1.2 0 1 0 2.4 0a1.2 1.2 0 1 0 -2.4 0M281.4 43.8a1.2 1.2 0 1 0 2.4 0a1.2 1.2 0 1 0 -2.4 0M262.1 42.6a1.2 1.2 0 1 0 2.4 0a1.2 1.2 0 1 0 -2.4 0M272.9 46.1a1.2 1.2 0 1 0 2.4 0a1.2 1.2 0 1 0 -2.4 0M272.8 66.9a1.2 1.2 0 1 0 2.4 0a1.2 1.2 0 1 0 -2.4 0M280.2 52.6a1.2 1.2 0 1 0 2.4 0a1.2 1.2 0 1 0 -2.4 0M270.5 52.1a1.2 1.2 0 1 0 2.4 0a1.2 1.2 0 1 0 -2.4 0M281.8 47.5a1.2 1.2 0 1 0 2.4 0a1.2 1.2 0 1 0 -2.4 0M263.8 33.1a1.2 1.2 0 1 0 2.4 0a1.2 1.2 0 1 0 -2.4 0M269.5 76.8a1.2 1.2 0 1 0 2.4 0a1.2 1.2 0 1 0 -2.4 0M276.7 63.3a1.2 1.2 0 1 0 2.4 0a1.2 1.2 0 1 0 -2.4 0M272.3 59.1a1.2 1.2 0 1 0 2.4 0a1.2 1.2 0 1 0 -2.4 0M260.6 65.3a1.2 1.2 0 1 0 2.4 0a1.2 1.2 0 1 0 -2.4 0M292.9 51.0a1.2 1.2 0 1 0 2.4 0a1.2 1.2 0 1 0 -2.4 0M282.4 78.5a1.2 1.2 0 1 0 2.4 0a1.2 1.2 0 1 0 -2.4 0M287.8 35.9a1.2 1.2 0 1 0 2.4 0a1.2 1.2 0 1 0 -2.4 0M269.6 54.8a1.2 1.2 0 1 0 2.4 0a1.2 1.2 0 1 0 -2.4 0M292.1 57.0a1.2 1.2 0 1 0 2.4 0a1.2 1.2 0 1 0 -2.4 0M287.0 50.4a1.2 1.2 0 1 0 2.4 0a1.2 1.2 0 1 0 -2.4 0M293.4 46.4a1.2 1.2 0 1 0 2.4 0a1.2 1.2 0 1 0 -2.4 0M263.5 58.0a1.2 1.2 0 1 0 2.4 0a1.2 1.2 0 1 0 -2.4 0M274.2 39.7a1.2 1.2 0 1 0 2.4 0a1.2 1.2 0 1 0 -2.4 0M270.7 40.3a1.2 1.2 0 1 0 2.4 0a1.2 1.2 0 1 0 -2.4 0M279.4 70.6a1.2 1.2 0 1 0 2.4 0a1.2 1.2 0 1 0 -2.4 0M265.5 31.0a1.2 1.2 0 1 0 2.4 0a1.2 1.2 0 1 0 -2.4 0M259.8 80.4a1.2 1.2 0 1 0 2.4 0a1.2 1.2 0 1 0 -2.4 0M274.2 31.4a1.2 1.2 0 1 0 2.4 0a1.2 1.2 0 1 0 -2.4 0M280.4 62.2a1.2 1.2 0 1 0 2.4 0a1.2 1.2 0 1 0 -2.4 0M270.7 43.7a1.2 1.2 0 1 0 2.4 0a1.2 1.2 0 1 0 -2.4 0M293.7 51.6a1.2 1.2 0 1 0 2.4 0a1.2 1.2 0 1 0 -2.4 0M271.5 53.7a1.2 1.2 0 1 0 2.4 0a1.2 1.2 0 1 0 -2.4 0M267.4 30.7a1.2 1.2 0 1 0 2.4 0a1.2 1.2 0 1 0 -2.4 0M287.1 45.9a1.2 1.2 0 1 0 2.4 0a1.2 1.2 0 1 0 -2.4 0M273.8 35.6a1.2 1.2 0 1 0 2.4 0a1.2 1.2 0 1 0 -2.4 0M266.4 31.9a1.2 1.2 0 1 0 2.4 0a1.2 1.2 0 1 0 -2.4 0M266.9 78.7a1.2 1.2 0 1 0 2.4 0a1.2 1.2 0 1 0 -2.4 0M292.2 40.0a1.2 1.2 0 1 0 2.4 0a1.2 1.2 0 1 0 -2.4 0M292.8 38.6a1.2 1.2 0 1 0 2.4 0a1.2 1.2 0 1 0 -2.4 0M280.7 28.4a1.2 1.2 0 1 0 2.4 0a1.2 1.2 0 1 0 -2.4 0M266.6 73.1a1.2 1.2 0 1 0 2.4 0a1.2 1.2 0 1 0 -2.4 0M283.2 51.6a1.2 1.2 0 1 0 2.4 0a1.2 1.2 0 1 0 -2.4 0M264.3 28.4a1.2 1.2 0 1 0 2.4 0a1.2 1.2 0 1 0 -2.4 0M268.3 46.5a1.2 1.2 0 1 0 2.4 0a1.2 1.2 0 1 0 -2.4 0M276.7 65.8a1.2 1.2 0 1 0 2.4 0a1.2 1.2 0 1 0 -2.4 0M271.3 73.2a1.2 1.2 0 1 0 2.4 0a1.2 1.2 0 1 0 -2.4 0M269.4 51.8a1.2 1.2 0 1 0 2.4 0a1.2 1.2 0 1 0 -2.4 0M293.2 58.8a1.2 1.2 0 1 0 2.4 0a1.2 1.2 0 1 0 -2.4 0M262.5 93.2a1.2 1.2 0 1 0 2.4 0a1.2 1.2 0 1 0 -2.4 0M309.5 42.5a1.2 1.2 0 1 0 2.4 0a1.2 1.2 0 1 0 -2.4 0M295.2 34.6a1.2 1.2 0 1 0 2.4 0a1.2 1.2 0 1 0 -2.4 0M296.5 53.2a1.2 1.2 0 1 0 2.4 0a1.2 1.2 0 1 0 -2.4 0M299.4 42.4a1.2 1.2 0 1 0 2.4 0a1.2 1.2 0 1 0 -2.4 0M318.9 31.7a1.2 1.2 0 1 0 2.4 0a1.2 1.2 0 1 0 -2.4 0M312.3 31.9a1.2 1.2 0 1 0 2.4 0a1.2 1.2 0 1 0 -2.4 0M315.8 30.6a1.2 1.2 0 1 0 2.4 0a1.2 1.2 0 1 0 -2.4 0M295.5 50.2a1.2 1.2 0 1 0 2.4 0a1.2 1.2 0 1 0 -2.4 0M311.2 47.9a1.2 1.2 0 1 0 2.4 0a1.2 1.2 0 1 0 -2.4 0M305.2 45.5a1.2 1.2 0 1 0 2.4 0a1.2 1.2 0 1 0 -2.4 0M304.6 33.3a1.2 1.2 0 1 0 2.4 0a1.2 1.2 0 1 0 -2.4 0M311.8 31.4a1.2 1.2 0 1 0 2.4 0a1.2 1.2 0 1 0 -2.4 0M301.9 52.4a1.2 1.2 0 1 0 2.4 0a1.2 1.2 0 1 0 -2.4 0M307.0 29.9a1.2 1.2 0 1 0 2.4 0a1.2 1.2 0 1 0 -2.4 0M300.7 49.6a1.2 1.2 0 1 0 2.4 0a1.2 1.2 0 1 0 -2.4 0M304.0 47.8a1.2 1.2 0 1 0 2.4 0a1.2 1.2 0 1 0 -2.4 0M307.5 30.8a1.2 1.2 0 1 0 2.4 0a1.2 1.2 0 1 0 -2.4 0M298.1 50.2a1.2 1.2 0 1 0 2.4 0a1.2 1.2 0 1 0 -2.4 0M301.1 30.7a1.2 1.2 0 1 0 2.4 0a1.2 1.2 0 1 0 -2.4 0M304.7 40.1a1.2 1.2 0 1 0 2.4 0a1.2 1.2 0 1 0 -2.4 0M306.0 31.0a1.2 1.2 0 1 0 2.4 0a1.2 1.2 0 1 0 -2.4 0M314.1 31.5a1.2 1.2 0 1 0 2.4 0a1.2 1.2 0 1 0 -2.4 0M310.2 31.6a1.2 1.2 0 1 0 2.4 0a1.2 1.2 0 1 0 -2.4 0M308.2 30.2a1.2 1.2 0 1 0 2.4 0a1.2 1.2 0 1 0 -2.4 0M315.9 34.1a1.2 1.2 0 1 0 2.4 0a1.2 1.2 0 1 0 -2.4 0M299.1 42.6a1.2 1.2 0 1 0 2.4 0a1.2 1.2 0 1 0 -2.4 0M296.8 30.9a1.2 1.2 0 1 0 2.4 0a1.2 1.2 0 1 0 -2.4 0M304.0 56.5a1.2 1.2 0 1 0 2.4 0a1.2 1.2 0 1 0 -2.4 0M297.6 28.8a1.2 1.2 0 1 0 2.4 0a1.2 1.2 0 1 0 -2.4 0M308.0 32.8a1.2 1.2 0 1 0 2.4 0a1.2 1.2 0 1 0 -2.4 0M308.5 43.4a1.2 1.2 0 1 0 2.4 0a1.2 1.2 0 1 0 -2.4 0M297.5 44.5a1.2 1.2 0 1 0 2.4 0a1.2 1.2 0 1 0 -2.4 0M312.0 31.1a1.2 1.2 0 1 0 2.4 0a1.2 1.2 0 1 0 -2.4 0M308.1 30.8a1.2 1.2 0 1 0 2.4 0a1.2 1.2 0 1 0 -2.4 0M304.7 30.9a1.2 1.2 0 1 0 2.4 0a1.2 1.2 0 1 0 -2.4 0M317.0 30.8a1.2 1.2 0 1 0 2.4 0a1.2 1.2 0 1 0 -2.4 0M315.5 29.9a1.2 1.2 0 1 0 2.4 0a1.2 1.2 0 1 0 -2.4 0M299.7 37.1a1.2 1.2 0 1 0 2.4 0a1.2 1.2 0 1 0 -2.4 0M298.4 39.6a1.2 1.2 0 1 0 2.4 0a1.2 1.2 0 1 0 -2.4 0M317.0 31.3a1.2 1.2 0 1 0 2.4 0a1.2 1.2 0 1 0 -2.4 0M298.1 32.8a1.2 1.2 0 1 0 2.4 0a1.2 1.2 0 1 0 -2.4 0M313.1 31.9a1.2 1.2 0 1 0 2.4 0a1.2 1.2 0 1 0 -2.4 0M302.0 41.0a1.2 1.2 0 1 0 2.4 0a1.2 1.2 0 1 0 -2.4 0M303.2 30.7a1.2 1.2 0 1 0 2.4 0a1.2 1.2 0 1 0 -2.4 0M308.0 31.1a1.2 1.2 0 1 0 2.4 0a1.2 1.2 0 1 0 -2.4 0M317.2 31.3a1.2 1.2 0 1 0 2.4 0a1.2 1.2 0 1 0 -2.4 0M294.3 31.6a1.2 1.2 0 1 0 2.4 0a1.2 1.2 0 1 0 -2.4 0M298.3 45.7a1.2 1.2 0 1 0 2.4 0a1.2 1.2 0 1 0 -2.4 0M312.1 33.6a1.2 1.2 0 1 0 2.4 0a1.2 1.2 0 1 0 -2.4 0M304.0 31.5a1.2 1.2 0 1 0 2.4 0a1.2 1.2 0 1 0 -2.4 0" fill="none" stroke="#10e010" stroke-width="0.7"/>
<line x1="22.6" y1="299.8" x2="321.3" y2="17.5" stroke="#22ee22" stroke-width="0.95"/>
<path d="M29.0 221.2a1.2 1.2 0 1 0 2.4 0a1.2 1.2 0 1 0 -2.4 0M29.9 220.7a1.2 1.2 0 1 0 2.4 0a1.2 1.2 0 1 0 -2.4 0M28.9 196.1a1.2 1.2 0 1 0 2.4 0a1.2 1.2 0 1 0 -2.4 0M30.0 271.0a1.2 1.2 0 1 0 2.4 0a1.2 1.2 0 1 0 -2.4 0M29.2 269.0a1.2 1.2 0 1 0 2.4 0a1.2 1.2 0 1 0 -2.4 0M27.3 248.8a1.2 1.2 0 1 0 2.4 0a1.2 1.2 0 1 0 -2.4 0M29.4 232.4a1.2 1.2 0 1 0 2.4 0a1.2 1.2 0 1 0 -2.4 0M29.0 179.9a1.2 1.2 0 1 0 2.4 0a1.2 1.2 0 1 0 -2.4 0M28.9 295.8a1.2 1.2 0 1 0 2.4 0a1.2 1.2 0 1 0 -2.4 0M28.4 280.3a1.2 1.2 0 1 0 2.4 0a1.2 1.2 0 1 0 -2.4 0M29.4 239.8a1.2 1.2 0 1 0 2.4 0a1.2 1.2 0 1 0 -2.4 0M26.9 252.0a1.2 1.2 0 1 0 2.4 0a1.2 1.2 0 1 0 -2.4 0M28.0 280.7a1.2 1.2 0 1 0 2.4 0a1.2 1.2 0 1 0 -2.4 0M27.4 164.0a1.2 1.2 0 1 0 2.4 0a1.2 1.2 0 1 0 -2.4 0M29.5 222.7a1.2 1.2 0 1 0 2.4 0a1.2 1.2 0 1 0 -2.4 0M28.4 291.7a1.2 1.2 0 1 0 2.4 0a1.2 1.2 0 1 0 -2.4 0M27.8 199.2a1.2 1.2 0 1 0 2.4 0a1.2 1.2 0 1 0 -2.4 0M42.6 271.4a1.2 1.2 0 1 0 2.4 0a1.2 1.2 0 1 0 -2.4 0M45.7 265.1a1.2 1.2 0 1 0 2.4 0a1.2 1.2 0 1 0 -2.4 0M70.9 265.8a1.2 1.2 0 1 0 2.4 0a1.2 1.2 0 1 0 -2.4 0M57.2 239.5a1.2 1.2 0 1 0 2.4 0a1.2 1.2 0 1 0 -2.4 0M82.8 226.5a1.2 1.2 0 1 0 2.4 0a1.2 1.2 0 1 0 -2.4 0M60.1 153.9a1.2 1.2 0 1 0 2.4 0a1.2 1.2 0 1 0 -2.4 0M82.2 209.1a1.2 1.2 0 1 0 2.4 0a1.2 1.2 0 1 0 -2.4 0M58.8 282.9a1.2 1.2 0 1 0 2.4 0a1.2 1.2 0 1 0 -2.4 0M38.1 272.5a1.2 1.2 0 1 0 2.4 0a1.2 1.2 0 1 0 -2.4 0M72.3 140.6a1.2 1.2 0 1 0 2.4 0a1.2 1.2 0 1 0 -2.4 0M79.5 197.1a1.2 1.2 0 1 0 2.4 0a1.2 1.2 0 1 0 -2.4 0M34.2 272.9a1.2 1.2 0 1 0 2.4 0a1.2 1.2 0 1 0 -2.4 0M59.4 253.5a1.2 1.2 0 1 0 2.4 0a1.2 1.2 0 1 0 -2.4 0M55.9 218.3a1.2 1.2 0 1 0 2.4 0a1.2 1.2 0 1 0 -2.4 0M35.4 280.7a1.2 1.2 0 1 0 2.4 0a1.2 1.2 0 1 0 -2.4 0M65.3 247.0a1.2 1.2 0 1 0 2.4 0a1.2 1.2 0 1 0 -2.4 0M76.2 167.8a1.2 1.2 0 1 0 2.4 0a1.2 1.2 0 1 0 -2.4 0M62.8 201.7a1.2 1.2 0 1 0 2.4 0a1.2 1.2 0 1 0 -2.4 0M45.6 248.6a1.2 1.2 0 1 0 2.4 0a1.2 1.2 0 1 0 -2.4 0M75.5 160.4a1.2 1.2 0 1 0 2.4 0a1.2 1.2 0 1 0 -2.4 0M58.5 261.9a1.2 1.2 0 1 0 2.4 0a1.2 1.2 0 1 0 -2.4 0M71.0 254.8a1.2 1.2 0 1 0 2.4 0a1.2 1.2 0 1 0 -2.4 0M39.8 214.8a1.2 1.2 0 1 0 2.4 0a1.2 1.2 0 1 0 -2.4 0M74.5 209.8a1.2 1.2 0 1 0 2.4 0a1.2 1.2 0 1 0 -2.4 0M67.4 132.6a1.2 1.2 0 1 0 2.4 0a1.2 1.2 0 1 0 -2.4 0M72.8 233.3a1.2 1.2 0 1 0 2.4 0a1.2 1.2 0 1 0 -2.4 0M91.1 141.7a1.2 1.2 0 1 0 2.4 0a1.2 1.2 0 1 0 -2.4 0M114.5 177.8a1.2 1.2 0 1 0 2.4 0a1.2 1.2 0 1 0 -2.4 0M91.1 221.6a1.2 1.2 0 1 0 2.4 0a1.2 1.2 0 1 0 -2.4 0M86.9 204.8a1.2 1.2 0 1 0 2.4 0a1.2 1.2 0 1 0 -2.4 0M116.7 174.9a1.2 1.2 0 1 0 2.4 0a1.2 1.2 0 1 0 -2.4 0M101.8 213.4a1.2 1.2 0 1 0 2.4 0a1.2 1.2 0 1 0 -2.4 0M108.5 211.3a1.2 1.2 0 1 0 2.4 0a1.2 1.2 0 1 0 -2.4 0M111.3 216.4a1.2 1.2 0 1 0 2.4 0a1.2 1.2 0 1 0 -2.4 0M115.8 193.4a1.2 1.2 0 1 0 2.4 0a1.2 1.2 0 1 0 -2.4 0M94.6 229.8a1.2 1.2 0 1 0 2.4 0a1.2 1.2 0 1 0 -2.4 0M92.0 117.4a1.2 1.2 0 1 0 2.4 0a1.2 1.2 0 1 0 -2.4 0M114.6 171.7a1.2 1.2 0 1 0 2.4 0a1.2 1.2 0 1 0 -2.4 0M120.7 117.9a1.2 1.2 0 1 0 2.4 0a1.2 1.2 0 1 0 -2.4 0M89.5 187.0a1.2 1.2 0 1 0 2.4 0a1.2 1.2 0 1 0 -2.4 0M102.2 210.8a1.2 1.2 0 1 0 2.4 0a1.2 1.2 0 1 0 -2.4 0M118.0 211.1a1.2 1.2 0 1 0 2.4 0a1.2 1.2 0 1 0 -2.4 0M100.0 217.0a1.2 1.2 0 1 0 2.4 0a1.2 1.2 0 1 0 -2.4 0M106.3 230.6a1.2 1.2 0 1 0 2.4 0a1.2 1.2 0 1 0 -2.4 0M119.0 219.2a1.2 1.2 0 1 0 2.4 0a1.2 1.2 0 1 0 -2.4 0M117.7 204.2a1.2 1.2 0 1 0 2.4 0a1.2 1.2 0 1 0 -2.4 0M109.1 100.1a1.2 1.2 0 1 0 2.4 0a1.2 1.2 0 1 0 -2.4 0M115.6 149.9a1.2 1.2 0 1 0 2.4 0a1.2 1.2 0 1 0 -2.4 0M86.2 221.2a1.2 1.2 0 1 0 2.4 0a1.2 1.2 0 1 0 -2.4 0M115.4 202.5a1.2 1.2 0 1 0 2.4 0a1.2 1.2 0 1 0 -2.4 0M90.1 216.2a1.2 1.2 0 1 0 2.4 0a1.2 1.2 0 1 0 -2.4 0M98.1 145.8a1.2 1.2 0 1 0 2.4 0a1.2 1.2 0 1 0 -2.4 0M95.9 245.1a1.2 1.2 0 1 0 2.4 0a1.2 1.2 0 1 0 -2.4 0M90.6 242.1a1.2 1.2 0 1 0 2.4 0a1.2 1.2 0 1 0 -2.4 0M99.0 215.5a1.2 1.2 0 1 0 2.4 0a1.2 1.2 0 1 0 -2.4 0M84.0 214.9a1.2 1.2 0 1 0 2.4 0a1.2 1.2 0 1 0 -2.4 0M99.9 222.8a1.2 1.2 0 1 0 2.4 0a1.2 1.2 0 1 0 -2.4 0M87.8 213.1a1.2 1.2 0 1 0 2.4 0a1.2 1.2 0 1 0 -2.4 0M108.0 198.1a1.2 1.2 0 1 0 2.4 0a1.2 1.2 0 1 0 -2.4 0M111.5 233.5a1.2 1.2 0 1 0 2.4 0a1.2 1.2 0 1 0 -2.4 0M108.8 216.3a1.2 1.2 0 1 0 2.4 0a1.2 1.2 0 1 0 -2.4 0M100.3 186.5a1.2 1.2 0 1 0 2.4 0a1.2 1.2 0 1 0 -2.4 0M205.0 127.7a1.2 1.2 0 1 0 2.4 0a1.2 1.2 0 1 0 -2.4 0M182.5 135.9a1.2 1.2 0 1 0 2.4 0a1.2 1.2 0 1 0 -2.4 0M199.6 119.6a1.2 1.2 0 1 0 2.4 0a1.2 1.2 0 1 0 -2.4 0M154.7 181.9a1.2 1.2 0 1 0 2.4 0a1.2 1.2 0 1 0 -2.4 0M174.1 162.2a1.2 1.2 0 1 0 2.4 0a1.2 1.2 0 1 0 -2.4 0M140.8 183.4a1.2 1.2 0 1 0 2.4 0a1.2 1.2 0 1 0 -2.4 0M217.3 120.4a1.2 1.2 0 1 0 2.4 0a1.2 1.2 0 1 0 -2.4 0M145.3 180.8a1.2 1.2 0 1 0 2.4 0a1.2 1.2 0 1 0 -2.4 0M146.6 180.9a1.2 1.2 0 1 0 2.4 0a1.2 1.2 0 1 0 -2.4 0M129.1 204.4a1.2 1.2 0 1 0 2.4 0a1.2 1.2 0 1 0 -2.4 0M195.0 148.5a1.2 1.2 0 1 0 2.4 0a1.2 1.2 0 1 0 -2.4 0M188.8 161.0a1.2 1.2 0 1 0 2.4 0a1.2 1.2 0 1 0 -2.4 0M134.4 205.4a1.2 1.2 0 1 0 2.4 0a1.2 1.2 0 1 0 -2.4 0M158.0 143.5a1.2 1.2 0 1 0 2.4 0a1.2 1.2 0 1 0 -2.4 0M178.2 146.9a1.2 1.2 0 1 0 2.4 0a1.2 1.2 0 1 0 -2.4 0M202.4 89.8a1.2 1.2 0 1 0 2.4 0a1.2 1.2 0 1 0 -2.4 0M191.5 142.9a1.2 1.2 0 1 0 2.4 0a1.2 1.2 0 1 0 -2.4 0M157.0 144.7a1.2 1.2 0 1 0 2.4 0a1.2 1.2 0 1 0 -2.4 0M157.2 168.6a1.2 1.2 0 1 0 2.4 0a1.2 1.2 0 1 0 -2.4 0M141.5 212.0a1.2 1.2 0 1 0 2.4 0a1.2 1.2 0 1 0 -2.4 0M149.2 188.4a1.2 1.2 0 1 0 2.4 0a1.2 1.2 0 1 0 -2.4 0M152.1 152.8a1.2 1.2 0 1 0 2.4 0a1.2 1.2 0 1 0 -2.4 0M152.0 185.6a1.2 1.2 0 1 0 2.4 0a1.2 1.2 0 1 0 -2.4 0M215.0 75.7a1.2 1.2 0 1 0 2.4 0a1.2 1.2 0 1 0 -2.4 0M196.1 122.1a1.2 1.2 0 1 0 2.4 0a1.2 1.2 0 1 0 -2.4 0M194.7 140.5a1.2 1.2 0 1 0 2.4 0a1.2 1.2 0 1 0 -2.4 0M179.2 177.6a1.2 1.2 0 1 0 2.4 0a1.2 1.2 0 1 0 -2.4 0M209.8 119.3a1.2 1.2 0 1 0 2.4 0a1.2 1.2 0 1 0 -2.4 0M188.0 132.4a1.2 1.2 0 1 0 2.4 0a1.2 1.2 0 1 0 -2.4 0M169.9 158.8a1.2 1.2 0 1 0 2.4 0a1.2 1.2 0 1 0 -2.4 0M129.4 192.4a1.2 1.2 0 1 0 2.4 0a1.2 1.2 0 1 0 -2.4 0M168.8 157.2a1.2 1.2 0 1 0 2.4 0a1.2 1.2 0 1 0 -2.4 0M142.4 192.9a1.2 1.2 0 1 0 2.4 0a1.2 1.2 0 1 0 -2.4 0M170.5 153.0a1.2 1.2 0 1 0 2.4 0a1.2 1.2 0 1 0 -2.4 0M197.1 97.8a1.2 1.2 0 1 0 2.4 0a1.2 1.2 0 1 0 -2.4 0M195.6 113.8a1.2 1.2 0 1 0 2.4 0a1.2 1.2 0 1 0 -2.4 0M172.3 123.2a1.2 1.2 0 1 0 2.4 0a1.2 1.2 0 1 0 -2.4 0M214.3 88.0a1.2 1.2 0 1 0 2.4 0a1.2 1.2 0 1 0 -2.4 0M160.5 168.7a1.2 1.2 0 1 0 2.4 0a1.2 1.2 0 1 0 -2.4 0M150.3 186.5a1.2 1.2 0 1 0 2.4 0a1.2 1.2 0 1 0 -2.4 0M134.0 144.2a1.2 1.2 0 1 0 2.4 0a1.2 1.2 0 1 0 -2.4 0M192.2 123.4a1.2 1.2 0 1 0 2.4 0a1.2 1.2 0 1 0 -2.4 0M159.6 159.2a1.2 1.2 0 1 0 2.4 0a1.2 1.2 0 1 0 -2.4 0M215.3 99.9a1.2 1.2 0 1 0 2.4 0a1.2 1.2 0 1 0 -2.4 0M181.9 126.7a1.2 1.2 0 1 0 2.4 0a1.2 1.2 0 1 0 -2.4 0M171.9 139.2a1.2 1.2 0 1 0 2.4 0a1.2 1.2 0 1 0 -2.4 0M151.6 202.3a1.2 1.2 0 1 0 2.4 0a1.2 1.2 0 1 0 -2.4 0M159.9 174.1a1.2 1.2 0 1 0 2.4 0a1.2 1.2 0 1 0 -2.4 0M216.6 109.1a1.2 1.2 0 1 0 2.4 0a1.2 1.2 0 1 0 -2.4 0M194.6 143.9a1.2 1.2 0 1 0 2.4 0a1.2 1.2 0 1 0 -2.4 0M156.5 155.7a1.2 1.2 0 1 0 2.4 0a1.2 1.2 0 1 0 -2.4 0M183.4 167.9a1.2 1.2 0 1 0 2.4 0a1.2 1.2 0 1 0 -2.4 0M158.5 195.3a1.2 1.2 0 1 0 2.4 0a1.2 1.2 0 1 0 -2.4 0M158.5 141.6a1.2 1.2 0 1 0 2.4 0a1.2 1.2 0 1 0 -2.4 0M170.2 154.8a1.2 1.2 0 1 0 2.4 0a1.2 1.2 0 1 0 -2.4 0M215.0 109.3a1.2 1.2 0 1 0 2.4 0a1.2 1.2 0 1 0 -2.4 0M193.6 125.3a1.2 1.2 0 1 0 2.4 0a1.2 1.2 0 1 0 -2.4 0M164.4 146.7a1.2 1.2 0 1 0 2.4 0a1.2 1.2 0 1 0 -2.4 0M142.1 194.4a1.2 1.2 0 1 0 2.4 0a1.2 1.2 0 1 0 -2.4 0M123.7 190.1a1.2 1.2 0 1 0 2.4 0a1.2 1.2 0 1 0 -2.4 0M217.6 108.1a1.2 1.2 0 1 0 2.4 0a1.2 1.2 0 1 0 -2.4 0M203.3 101.7a1.2 1.2 0 1 0 2.4 0a1.2 1.2 0 1 0 -2.4 0M180.0 174.5a1.2 1.2 0 1 0 2.4 0a1.2 1.2 0 1 0 -2.4 0M199.1 114.6a1.2 1.2 0 1 0 2.4 0a1.2 1.2 0 1 0 -2.4 0M156.7 184.5a1.2 1.2 0 1 0 2.4 0a1.2 1.2 0 1 0 -2.4 0M194.8 104.1a1.2 1.2 0 1 0 2.4 0a1.2 1.2 0 1 0 -2.4 0M124.6 191.2a1.2 1.2 0 1 0 2.4 0a1.2 1.2 0 1 0 -2.4 0M164.8 160.3a1.2 1.2 0 1 0 2.4 0a1.2 1.2 0 1 0 -2.4 0M157.6 166.3a1.2 1.2 0 1 0 2.4 0a1.2 1.2 0 1 0 -2.4 0M167.7 162.8a1.2 1.2 0 1 0 2.4 0a1.2 1.2 0 1 0 -2.4 0M134.3 179.5a1.2 1.2 0 1 0 2.4 0a1.2 1.2 0 1 0 -2.4 0M143.3 182.8a1.2 1.2 0 1 0 2.4 0a1.2 1.2 0 1 0 -2.4 0M175.8 154.6a1.2 1.2 0 1 0 2.4 0a1.2 1.2 0 1 0 -2.4 0M159.1 150.1a1.2 1.2 0 1 0 2.4 0a1.2 1.2 0 1 0 -2.4 0M197.8 78.7a1.2 1.2 0 1 0 2.4 0a1.2 1.2 0 1 0 -2.4 0M179.9 129.8a1.2 1.2 0 1 0 2.4 0a1.2 1.2 0 1 0 -2.4 0M192.1 131.9a1.2 1.2 0 1 0 2.4 0a1.2 1.2 0 1 0 -2.4 0M179.6 141.4a1.2 1.2 0 1 0 2.4 0a1.2 1.2 0 1 0 -2.4 0M149.6 175.7a1.2 1.2 0 1 0 2.4 0a1.2 1.2 0 1 0 -2.4 0M196.9 114.7a1.2 1.2 0 1 0 2.4 0a1.2 1.2 0 1 0 -2.4 0M129.2 170.1a1.2 1.2 0 1 0 2.4 0a1.2 1.2 0 1 0 -2.4 0M214.1 136.1a1.2 1.2 0 1 0 2.4 0a1.2 1.2 0 1 0 -2.4 0M173.7 147.8a1.2 1.2 0 1 0 2.4 0a1.2 1.2 0 1 0 -2.4 0M196.1 135.1a1.2 1.2 0 1 0 2.4 0a1.2 1.2 0 1 0 -2.4 0M172.7 161.4a1.2 1.2 0 1 0 2.4 0a1.2 1.2 0 1 0 -2.4 0M180.5 130.7a1.2 1.2 0 1 0 2.4 0a1.2 1.2 0 1 0 -2.4 0M125.3 124.3a1.2 1.2 0 1 0 2.4 0a1.2 1.2 0 1 0 -2.4 0M139.9 191.4a1.2 1.2 0 1 0 2.4 0a1.2 1.2 0 1 0 -2.4 0M176.6 150.4a1.2 1.2 0 1 0 2.4 0a1.2 1.2 0 1 0 -2.4 0M137.2 154.7a1.2 1.2 0 1 0 2.4 0a1.2 1.2 0 1 0 -2.4 0M136.8 170.7a1.2 1.2 0 1 0 2.4 0a1.2 1.2 0 1 0 -2.4 0M170.9 163.0a1.2 1.2 0 1 0 2.4 0a1.2 1.2 0 1 0 -2.4 0M135.8 131.2a1.2 1.2 0 1 0 2.4 0a1.2 1.2 0 1 0 -2.4 0M190.7 139.9a1.2 1.2 0 1 0 2.4 0a1.2 1.2 0 1 0 -2.4 0M148.5 193.3a1.2 1.2 0 1 0 2.4 0a1.2 1.2 0 1 0 -2.4 0M134.9 210.7a1.2 1.2 0 1 0 2.4 0a1.2 1.2 0 1 0 -2.4 0M126.4 118.8a1.2 1.2 0 1 0 2.4 0a1.2 1.2 0 1 0 -2.4 0M140.4 142.0a1.2 1.2 0 1 0 2.4 0a1.2 1.2 0 1 0 -2.4 0M173.4 183.0a1.2 1.2 0 1 0 2.4 0a1.2 1.2 0 1 0 -2.4 0M165.2 171.2a1.2 1.2 0 1 0 2.4 0a1.2 1.2 0 1 0 -2.4 0M213.6 96.8a1.2 1.2 0 1 0 2.4 0a1.2 1.2 0 1 0 -2.4 0M213.3 119.1a1.2 1.2 0 1 0 2.4 0a1.2 1.2 0 1 0 -2.4 0M198.2 111.0a1.2 1.2 0 1 0 2.4 0a1.2 1.2 0 1 0 -2.4 0M186.3 134.7a1.2 1.2 0 1 0 2.4 0a1.2 1.2 0 1 0 -2.4 0M202.9 106.1a1.2 1.2 0 1 0 2.4 0a1.2 1.2 0 1 0 -2.4 0M133.3 191.3a1.2 1.2 0 1 0 2.4 0a1.2 1.2 0 1 0 -2.4 0M156.5 195.5a1.2 1.2 0 1 0 2.4 0a1.2 1.2 0 1 0 -2.4 0M131.0 180.3a1.2 1.2 0 1 0 2.4 0a1.2 1.2 0 1 0 -2.4 0M179.4 163.8a1.2 1.2 0 1 0 2.4 0a1.2 1.2 0 1 0 -2.4 0M147.0 183.2a1.2 1.2 0 1 0 2.4 0a1.2 1.2 0 1 0 -2.4 0M147.3 103.5a1.2 1.2 0 1 0 2.4 0a1.2 1.2 0 1 0 -2.4 0M149.6 193.4a1.2 1.2 0 1 0 2.4 0a1.2 1.2 0 1 0 -2.4 0M131.4 180.9a1.2 1.2 0 1 0 2.4 0a1.2 1.2 0 1 0 -2.4 0M192.9 129.9a1.2 1.2 0 1 0 2.4 0a1.2 1.2 0 1 0 -2.4 0M184.3 142.7a1.2 1.2 0 1 0 2.4 0a1.2 1.2 0 1 0 -2.4 0M180.1 124.6a1.2 1.2 0 1 0 2.4 0a1.2 1.2 0 1 0 -2.4 0M125.3 210.0a1.2 1.2 0 1 0 2.4 0a1.2 1.2 0 1 0 -2.4 0M187.6 146.8a1.2 1.2 0 1 0 2.4 0a1.2 1.2 0 1 0 -2.4 0M137.0 144.0a1.2 1.2 0 1 0 2.4 0a1.2 1.2 0 1 0 -2.4 0M158.9 110.4a1.2 1.2 0 1 0 2.4 0a1.2 1.2 0 1 0 -2.4 0M123.9 215.3a1.2 1.2 0 1 0 2.4 0a1.2 1.2 0 1 0 -2.4 0M129.9 181.6a1.2 1.2 0 1 0 2.4 0a1.2 1.2 0 1 0 -2.4 0M142.8 190.8a1.2 1.2 0 1 0 2.4 0a1.2 1.2 0 1 0 -2.4 0M161.7 111.6a1.2 1.2 0 1 0 2.4 0a1.2 1.2 0 1 0 -2.4 0M166.4 158.9a1.2 1.2 0 1 0 2.4 0a1.2 1.2 0 1 0 -2.4 0M206.7 106.5a1.2 1.2 0 1 0 2.4 0a1.2 1.2 0 1 0 -2.4 0M124.1 205.7a1.2 1.2 0 1 0 2.4 0a1.2 1.2 0 1 0 -2.4 0M201.1 127.4a1.2 1.2 0 1 0 2.4 0a1.2 1.2 0 1 0 -2.4 0M128.0 200.6a1.2 1.2 0 1 0 2.4 0a1.2 1.2 0 1 0 -2.4 0M130.9 134.9a1.2 1.2 0 1 0 2.4 0a1.2 1.2 0 1 0 -2.4 0M214.2 115.3a1.2 1.2 0 1 0 2.4 0a1.2 1.2 0 1 0 -2.4 0M194.1 146.4a1.2 1.2 0 1 0 2.4 0a1.2 1.2 0 1 0 -2.4 0M154.4 185.1a1.2 1.2 0 1 0 2.4 0a1.2 1.2 0 1 0 -2.4 0M134.7 181.6a1.2 1.2 0 1 0 2.4 0a1.2 1.2 0 1 0 -2.4 0M230.7 107.1a1.2 1.2 0 1 0 2.4 0a1.2 1.2 0 1 0 -2.4 0M251.2 93.4a1.2 1.2 0 1 0 2.4 0a1.2 1.2 0 1 0 -2.4 0M233.7 97.2a1.2 1.2 0 1 0 2.4 0a1.2 1.2 0 1 0 -2.4 0M220.8 104.4a1.2 1.2 0 1 0 2.4 0a1.2 1.2 0 1 0 -2.4 0M253.2 95.3a1.2 1.2 0 1 0 2.4 0a1.2 1.2 0 1 0 -2.4 0M241.5 102.6a1.2 1.2 0 1 0 2.4 0a1.2 1.2 0 1 0 -2.4 0M235.5 81.8a1.2 1.2 0 1 0 2.4 0a1.2 1.2 0 1 0 -2.4 0M221.2 103.4a1.2 1.2 0 1 0 2.4 0a1.2 1.2 0 1 0 -2.4 0M241.9 101.9a1.2 1.2 0 1 0 2.4 0a1.2 1.2 0 1 0 -2.4 0M241.3 86.3a1.2 1.2 0 1 0 2.4 0a1.2 1.2 0 1 0 -2.4 0M218.9 84.0a1.2 1.2 0 1 0 2.4 0a1.2 1.2 0 1 0 -2.4 0M248.6 59.1a1.2 1.2 0 1 0 2.4 0a1.2 1.2 0 1 0 -2.4 0M247.8 82.3a1.2 1.2 0 1 0 2.4 0a1.2 1.2 0 1 0 -2.4 0M252.7 148.8a1.2 1.2 0 1 0 2.4 0a1.2 1.2 0 1 0 -2.4 0M243.3 88.0a1.2 1.2 0 1 0 2.4 0a1.2 1.2 0 1 0 -2.4 0M244.2 98.1a1.2 1.2 0 1 0 2.4 0a1.2 1.2 0 1 0 -2.4 0M224.0 96.3a1.2 1.2 0 1 0 2.4 0a1.2 1.2 0 1 0 -2.4 0M254.6 82.7a1.2 1.2 0 1 0 2.4 0a1.2 1.2 0 1 0 -2.4 0M231.1 93.4a1.2 1.2 0 1 0 2.4 0a1.2 1.2 0 1 0 -2.4 0M246.6 80.2a1.2 1.2 0 1 0 2.4 0a1.2 1.2 0 1 0 -2.4 0M220.2 105.8a1.2 1.2 0 1 0 2.4 0a1.2 1.2 0 1 0 -2.4 0M224.1 95.1a1.2 1.2 0 1 0 2.4 0a1.2 1.2 0 1 0 -2.4 0M228.3 108.2a1.2 1.2 0 1 0 2.4 0a1.2 1.2 0 1 0 -2.4 0M238.8 134.9a1.2 1.2 0 1 0 2.4 0a1.2 1.2 0 1 0 -2.4 0M239.0 68.8a1.2 1.2 0 1 0 2.4 0a1.2 1.2 0 1 0 -2.4 0M236.8 90.9a1.2 1.2 0 1 0 2.4 0a1.2 1.2 0 1 0 -2.4 0M233.9 69.9a1.2 1.2 0 1 0 2.4 0a1.2 1.2 0 1 0 -2.4 0M239.7 56.6a1.2 1.2 0 1 0 2.4 0a1.2 1.2 0 1 0 -2.4 0M254.7 113.2a1.2 1.2 0 1 0 2.4 0a1.2 1.2 0 1 0 -2.4 0M235.2 81.5a1.2 1.2 0 1 0 2.4 0a1.2 1.2 0 1 0 -2.4 0M249.7 86.0a1.2 1.2 0 1 0 2.4 0a1.2 1.2 0 1 0 -2.4 0M219.8 107.8a1.2 1.2 0 1 0 2.4 0a1.2 1.2 0 1 0 -2.4 0M239.1 100.4a1.2 1.2 0 1 0 2.4 0a1.2 1.2 0 1 0 -2.4 0M227.3 85.1a1.2 1.2 0 1 0 2.4 0a1.2 1.2 0 1 0 -2.4 0M233.0 116.4a1.2 1.2 0 1 0 2.4 0a1.2 1.2 0 1 0 -2.4 0M253.9 76.7a1.2 1.2 0 1 0 2.4 0a1.2 1.2 0 1 0 -2.4 0M242.5 80.0a1.2 1.2 0 1 0 2.4 0a1.2 1.2 0 1 0 -2.4 0M240.1 59.9a1.2 1.2 0 1 0 2.4 0a1.2 1.2 0 1 0 -2.4 0M219.7 120.4a1.2 1.2 0 1 0 2.4 0a1.2 1.2 0 1 0 -2.4 0M225.8 104.1a1.2 1.2 0 1 0 2.4 0a1.2 1.2 0 1 0 -2.4 0M223.0 113.3a1.2 1.2 0 1 0 2.4 0a1.2 1.2 0 1 0 -2.4 0M255.3 26.1a1.2 1.2 0 1 0 2.4 0a1.2 1.2 0 1 0 -2.4 0M217.8 113.0a1.2 1.2 0 1 0 2.4 0a1.2 1.2 0 1 0 -2.4 0M231.7 107.3a1.2 1.2 0 1 0 2.4 0a1.2 1.2 0 1 0 -2.4 0M219.9 104.5a1.2 1.2 0 1 0 2.4 0a1.2 1.2 0 1 0 -2.4 0M219.5 46.0a1.2 1.2 0 1 0 2.4 0a1.2 1.2 0 1 0 -2.4 0M220.3 112.9a1.2 1.2 0 1 0 2.4 0a1.2 1.2 0 1 0 -2.4 0M220.8 123.2a1.2 1.2 0 1 0 2.4 0a1.2 1.2 0 1 0 -2.4 0M228.1 81.8a1.2 1.2 0 1 0 2.4 0a1.2 1.2 0 1 0 -2.4 0M239.8 108.3a1.2 1.2 0 1 0 2.4 0a1.2 1.2 0 1 0 -2.4 0M286.8 73.1a1.2 1.2 0 1 0 2.4 0a1.2 1.2 0 1 0 -2.4 0M266.2 85.8a1.2 1.2 0 1 0 2.4 0a1.2 1.2 0 1 0 -2.4 0M266.8 24.2a1.2 1.2 0 1 0 2.4 0a1.2 1.2 0 1 0 -2.4 0M287.5 54.3a1.2 1.2 0 1 0 2.4 0a1.2 1.2 0 1 0 -2.4 0M284.5 82.3a1.2 1.2 0 1 0 2.4 0a1.2 1.2 0 1 0 -2.4 0M286.8 51.4a1.2 1.2 0 1 0 2.4 0a1.2 1.2 0 1 0 -2.4 0M262.8 68.5a1.2 1.2 0 1 0 2.4 0a1.2 1.2 0 1 0 -2.4 0M279.9 54.1a1.2 1.2 0 1 0 2.4 0a1.2 1.2 0 1 0 -2.4 0M263.5 24.5a1.2 1.2 0 1 0 2.4 0a1.2 1.2 0 1 0 -2.4 0M265.3 72.8a1.2 1.2 0 1 0 2.4 0a1.2 1.2 0 1 0 -2.4 0M274.9 34.5a1.2 1.2 0 1 0 2.4 0a1.2 1.2 0 1 0 -2.4 0M275.9 87.2a1.2 1.2 0 1 0 2.4 0a1.2 1.2 0 1 0 -2.4 0M274.3 79.9a1.2 1.2 0 1 0 2.4 0a1.2 1.2 0 1 0 -2.4 0M276.7 67.1a1.2 1.2 0 1 0 2.4 0a1.2 1.2 0 1 0 -2.4 0M266.6 26.6a1.2 1.2 0 1 0 2.4 0a1.2 1.2 0 1 0 -2.4 0M290.9 48.8a1.2 1.2 0 1 0 2.4 0a1.2 1.2 0 1 0 -2.4 0M275.7 24.4a1.2 1.2 0 1 0 2.4 0a1.2 1.2 0 1 0 -2.4 0M274.5 84.5a1.2 1.2 0 1 0 2.4 0a1.2 1.2 0 1 0 -2.4 0M270.4 25.2a1.2 1.2 0 1 0 2.4 0a1.2 1.2 0 1 0 -2.4 0M279.8 53.3a1.2 1.2 0 1 0 2.4 0a1.2 1.2 0 1 0 -2.4 0M275.0 74.1a1.2 1.2 0 1 0 2.4 0a1.2 1.2 0 1 0 -2.4 0M257.4 29.1a1.2 1.2 0 1 0 2.4 0a1.2 1.2 0 1 0 -2.4 0M287.8 55.1a1.2 1.2 0 1 0 2.4 0a1.2 1.2 0 1 0 -2.4 0M257.9 89.7a1.2 1.2 0 1 0 2.4 0a1.2 1.2 0 1 0 -2.4 0M287.6 26.7a1.2 1.2 0 1 0 2.4 0a1.2 1.2 0 1 0 -2.4 0M287.1 67.7a1.2 1.2 0 1 0 2.4 0a1.2 1.2 0 1 0 -2.4 0M281.4 42.9a1.2 1.2 0 1 0 2.4 0a1.2 1.2 0 1 0 -2.4 0M262.1 46.4a1.2 1.2 0 1 0 2.4 0a1.2 1.2 0 1 0 -2.4 0M280.2 20.4a1.2 1.2 0 1 0 2.4 0a1.2 1.2 0 1 0 -2.4 0M270.5 66.5a1.2 1.2 0 1 0 2.4 0a1.2 1.2 0 1 0 -2.4 0M281.8 54.9a1.2 1.2 0 1 0 2.4 0a1.2 1.2 0 1 0 -2.4 0M263.8 92.1a1.2 1.2 0 1 0 2.4 0a1.2 1.2 0 1 0 -2.4 0M269.5 81.0a1.2 1.2 0 1 0 2.4 0a1.2 1.2 0 1 0 -2.4 0M276.7 62.0a1.2 1.2 0 1 0 2.4 0a1.2 1.2 0 1 0 -2.4 0M260.6 151.4a1.2 1.2 0 1 0 2.4 0a1.2 1.2 0 1 0 -2.4 0M292.9 52.6a1.2 1.2 0 1 0 2.4 0a1.2 1.2 0 1 0 -2.4 0M282.4 58.2a1.2 1.2 0 1 0 2.4 0a1.2 1.2 0 1 0 -2.4 0M287.8 68.3a1.2 1.2 0 1 0 2.4 0a1.2 1.2 0 1 0 -2.4 0M269.6 72.0a1.2 1.2 0 1 0 2.4 0a1.2 1.2 0 1 0 -2.4 0M292.1 26.4a1.2 1.2 0 1 0 2.4 0a1.2 1.2 0 1 0 -2.4 0M287.0 115.4a1.2 1.2 0 1 0 2.4 0a1.2 1.2 0 1 0 -2.4 0M293.4 72.1a1.2 1.2 0 1 0 2.4 0a1.2 1.2 0 1 0 -2.4 0M263.5 72.1a1.2 1.2 0 1 0 2.4 0a1.2 1.2 0 1 0 -2.4 0M270.7 83.1a1.2 1.2 0 1 0 2.4 0a1.2 1.2 0 1 0 -2.4 0M265.5 33.7a1.2 1.2 0 1 0 2.4 0a1.2 1.2 0 1 0 -2.4 0M259.8 80.8a1.2 1.2 0 1 0 2.4 0a1.2 1.2 0 1 0 -2.4 0M274.2 27.5a1.2 1.2 0 1 0 2.4 0a1.2 1.2 0 1 0 -2.4 0M270.7 85.0a1.2 1.2 0 1 0 2.4 0a1.2 1.2 0 1 0 -2.4 0M293.7 46.4a1.2 1.2 0 1 0 2.4 0a1.2 1.2 0 1 0 -2.4 0M271.5 37.3a1.2 1.2 0 1 0 2.4 0a1.2 1.2 0 1 0 -2.4 0M267.4 91.1a1.2 1.2 0 1 0 2.4 0a1.2 1.2 0 1 0 -2.4 0M287.1 37.7a1.2 1.2 0 1 0 2.4 0a1.2 1.2 0 1 0 -2.4 0M266.4 27.8a1.2 1.2 0 1 0 2.4 0a1.2 1.2 0 1 0 -2.4 0M266.9 47.5a1.2 1.2 0 1 0 2.4 0a1.2 1.2 0 1 0 -2.4 0M292.2 24.8a1.2 1.2 0 1 0 2.4 0a1.2 1.2 0 1 0 -2.4 0M292.8 69.3a1.2 1.2 0 1 0 2.4 0a1.2 1.2 0 1 0 -2.4 0M266.6 108.2a1.2 1.2 0 1 0 2.4 0a1.2 1.2 0 1 0 -2.4 0M264.3 43.3a1.2 1.2 0 1 0 2.4 0a1.2 1.2 0 1 0 -2.4 0M276.7 49.3a1.2 1.2 0 1 0 2.4 0a1.2 1.2 0 1 0 -2.4 0M271.3 106.6a1.2 1.2 0 1 0 2.4 0a1.2 1.2 0 1 0 -2.4 0M269.4 83.9a1.2 1.2 0 1 0 2.4 0a1.2 1.2 0 1 0 -2.4 0M293.2 137.5a1.2 1.2 0 1 0 2.4 0a1.2 1.2 0 1 0 -2.4 0M296.5 38.4a1.2 1.2 0 1 0 2.4 0a1.2 1.2 0 1 0 -2.4 0M318.9 37.3a1.2 1.2 0 1 0 2.4 0a1.2 1.2 0 1 0 -2.4 0M312.3 27.6a1.2 1.2 0 1 0 2.4 0a1.2 1.2 0 1 0 -2.4 0M315.8 23.6a1.2 1.2 0 1 0 2.4 0a1.2 1.2 0 1 0 -2.4 0M295.5 44.9a1.2 1.2 0 1 0 2.4 0a1.2 1.2 0 1 0 -2.4 0M311.2 55.3a1.2 1.2 0 1 0 2.4 0a1.2 1.2 0 1 0 -2.4 0M305.2 36.0a1.2 1.2 0 1 0 2.4 0a1.2 1.2 0 1 0 -2.4 0M304.6 100.8a1.2 1.2 0 1 0 2.4 0a1.2 1.2 0 1 0 -2.4 0M311.8 24.2a1.2 1.2 0 1 0 2.4 0a1.2 1.2 0 1 0 -2.4 0M307.0 27.8a1.2 1.2 0 1 0 2.4 0a1.2 1.2 0 1 0 -2.4 0M300.7 53.8a1.2 1.2 0 1 0 2.4 0a1.2 1.2 0 1 0 -2.4 0M304.0 130.4a1.2 1.2 0 1 0 2.4 0a1.2 1.2 0 1 0 -2.4 0M298.1 35.7a1.2 1.2 0 1 0 2.4 0a1.2 1.2 0 1 0 -2.4 0M301.1 42.4a1.2 1.2 0 1 0 2.4 0a1.2 1.2 0 1 0 -2.4 0M314.1 38.1a1.2 1.2 0 1 0 2.4 0a1.2 1.2 0 1 0 -2.4 0M310.2 47.9a1.2 1.2 0 1 0 2.4 0a1.2 1.2 0 1 0 -2.4 0M308.2 56.9a1.2 1.2 0 1 0 2.4 0a1.2 1.2 0 1 0 -2.4 0M315.9 54.6a1.2 1.2 0 1 0 2.4 0a1.2 1.2 0 1 0 -2.4 0M299.1 54.2a1.2 1.2 0 1 0 2.4 0a1.2 1.2 0 1 0 -2.4 0M296.8 64.4a1.2 1.2 0 1 0 2.4 0a1.2 1.2 0 1 0 -2.4 0M304.0 56.4a1.2 1.2 0 1 0 2.4 0a1.2 1.2 0 1 0 -2.4 0M297.6 61.3a1.2 1.2 0 1 0 2.4 0a1.2 1.2 0 1 0 -2.4 0M308.5 61.1a1.2 1.2 0 1 0 2.4 0a1.2 1.2 0 1 0 -2.4 0M297.5 121.8a1.2 1.2 0 1 0 2.4 0a1.2 1.2 0 1 0 -2.4 0M312.0 26.2a1.2 1.2 0 1 0 2.4 0a1.2 1.2 0 1 0 -2.4 0M308.1 50.7a1.2 1.2 0 1 0 2.4 0a1.2 1.2 0 1 0 -2.4 0M304.7 24.0a1.2 1.2 0 1 0 2.4 0a1.2 1.2 0 1 0 -2.4 0M317.0 33.3a1.2 1.2 0 1 0 2.4 0a1.2 1.2 0 1 0 -2.4 0M315.5 50.9a1.2 1.2 0 1 0 2.4 0a1.2 1.2 0 1 0 -2.4 0M298.4 56.5a1.2 1.2 0 1 0 2.4 0a1.2 1.2 0 1 0 -2.4 0M298.1 36.9a1.2 1.2 0 1 0 2.4 0a1.2 1.2 0 1 0 -2.4 0M302.0 41.6a1.2 1.2 0 1 0 2.4 0a1.2 1.2 0 1 0 -2.4 0M308.0 43.6a1.2 1.2 0 1 0 2.4 0a1.2 1.2 0 1 0 -2.4 0M317.2 44.6a1.2 1.2 0 1 0 2.4 0a1.2 1.2 0 1 0 -2.4 0M294.3 42.4a1.2 1.2 0 1 0 2.4 0a1.2 1.2 0 1 0 -2.4 0M298.3 34.7a1.2 1.2 0 1 0 2.4 0a1.2 1.2 0 1 0 -2.4 0M312.1 59.9a1.2 1.2 0 1 0 2.4 0a1.2 1.2 0 1 0 -2.4 0M304.0 23.1a1.2 1.2 0 1 0 2.4 0a1.2 1.2 0 1 0 -2.4 0" fill="none" stroke="#e02828" stroke-width="0.7"/>
<line x1="24.4" y1="278.7" x2="321.3" y2="32.2" stroke="#e83030" stroke-width="0.95"/>
<path d="M29.0 285.0a1.1 1.1 0 1 0 2.2 0a1.1 1.1 0 1 0 -2.2 0M27.4 293.4a1.1 1.1 0 1 0 2.2 0a1.1 1.1 0 1 0 -2.2 0M29.1 246.8a1.1 1.1 0 1 0 2.2 0a1.1 1.1 0 1 0 -2.2 0M27.5 296.4a1.1 1.1 0 1 0 2.2 0a1.1 1.1 0 1 0 -2.2 0M28.5 283.7a1.1 1.1 0 1 0 2.2 0a1.1 1.1 0 1 0 -2.2 0M27.9 296.6a1.1 1.1 0 1 0 2.2 0a1.1 1.1 0 1 0 -2.2 0M42.7 281.7a1.1 1.1 0 1 0 2.2 0a1.1 1.1 0 1 0 -2.2 0M45.8 301.8a1.1 1.1 0 1 0 2.2 0a1.1 1.1 0 1 0 -2.2 0M71.0 259.4a1.1 1.1 0 1 0 2.2 0a1.1 1.1 0 1 0 -2.2 0M57.3 253.2a1.1 1.1 0 1 0 2.2 0a1.1 1.1 0 1 0 -2.2 0M82.9 236.1a1.1 1.1 0 1 0 2.2 0a1.1 1.1 0 1 0 -2.2 0M81.9 257.0a1.1 1.1 0 1 0 2.2 0a1.1 1.1 0 1 0 -2.2 0M69.7 288.9a1.1 1.1 0 1 0 2.2 0a1.1 1.1 0 1 0 -2.2 0M60.2 259.8a1.1 1.1 0 1 0 2.2 0a1.1 1.1 0 1 0 -2.2 0M40.5 264.1a1.1 1.1 0 1 0 2.2 0a1.1 1.1 0 1 0 -2.2 0M38.2 302.0a1.1 1.1 0 1 0 2.2 0a1.1 1.1 0 1 0 -2.2 0M64.4 275.4a1.1 1.1 0 1 0 2.2 0a1.1 1.1 0 1 0 -2.2 0M72.4 238.8a1.1 1.1 0 1 0 2.2 0a1.1 1.1 0 1 0 -2.2 0M63.9 258.1a1.1 1.1 0 1 0 2.2 0a1.1 1.1 0 1 0 -2.2 0M79.6 224.7a1.1 1.1 0 1 0 2.2 0a1.1 1.1 0 1 0 -2.2 0M34.3 286.5a1.1 1.1 0 1 0 2.2 0a1.1 1.1 0 1 0 -2.2 0M59.5 267.1a1.1 1.1 0 1 0 2.2 0a1.1 1.1 0 1 0 -2.2 0M56.0 258.1a1.1 1.1 0 1 0 2.2 0a1.1 1.1 0 1 0 -2.2 0M35.5 280.2a1.1 1.1 0 1 0 2.2 0a1.1 1.1 0 1 0 -2.2 0M65.4 269.3a1.1 1.1 0 1 0 2.2 0a1.1 1.1 0 1 0 -2.2 0M76.3 244.0a1.1 1.1 0 1 0 2.2 0a1.1 1.1 0 1 0 -2.2 0M62.9 300.8a1.1 1.1 0 1 0 2.2 0a1.1 1.1 0 1 0 -2.2 0M45.7 282.9a1.1 1.1 0 1 0 2.2 0a1.1 1.1 0 1 0 -2.2 0M75.6 286.7a1.1 1.1 0 1 0 2.2 0a1.1 1.1 0 1 0 -2.2 0M58.6 254.4a1.1 1.1 0 1 0 2.2 0a1.1 1.1 0 1 0 -2.2 0M58.6 297.0a1.1 1.1 0 1 0 2.2 0a1.1 1.1 0 1 0 -2.2 0M71.1 246.1a1.1 1.1 0 1 0 2.2 0a1.1 1.1 0 1 0 -2.2 0M39.9 290.7a1.1 1.1 0 1 0 2.2 0a1.1 1.1 0 1 0 -2.2 0M74.6 251.1a1.1 1.1 0 1 0 2.2 0a1.1 1.1 0 1 0 -2.2 0M67.5 297.8a1.1 1.1 0 1 0 2.2 0a1.1 1.1 0 1 0 -2.2 0M91.2 218.6a1.1 1.1 0 1 0 2.2 0a1.1 1.1 0 1 0 -2.2 0M114.6 225.0a1.1 1.1 0 1 0 2.2 0a1.1 1.1 0 1 0 -2.2 0M91.2 251.9a1.1 1.1 0 1 0 2.2 0a1.1 1.1 0 1 0 -2.2 0M87.0 258.6a1.1 1.1 0 1 0 2.2 0a1.1 1.1 0 1 0 -2.2 0M116.6 220.0a1.1 1.1 0 1 0 2.2 0a1.1 1.1 0 1 0 -2.2 0M116.8 186.7a1.1 1.1 0 1 0 2.2 0a1.1 1.1 0 1 0 -2.2 0M117.4 174.3a1.1 1.1 0 1 0 2.2 0a1.1 1.1 0 1 0 -2.2 0M101.9 230.3a1.1 1.1 0 1 0 2.2 0a1.1 1.1 0 1 0 -2.2 0M94.4 237.2a1.1 1.1 0 1 0 2.2 0a1.1 1.1 0 1 0 -2.2 0M84.2 237.6a1.1 1.1 0 1 0 2.2 0a1.1 1.1 0 1 0 -2.2 0M108.6 215.2a1.1 1.1 0 1 0 2.2 0a1.1 1.1 0 1 0 -2.2 0M111.4 238.6a1.1 1.1 0 1 0 2.2 0a1.1 1.1 0 1 0 -2.2 0M115.9 218.3a1.1 1.1 0 1 0 2.2 0a1.1 1.1 0 1 0 -2.2 0M94.7 228.0a1.1 1.1 0 1 0 2.2 0a1.1 1.1 0 1 0 -2.2 0M92.1 242.8a1.1 1.1 0 1 0 2.2 0a1.1 1.1 0 1 0 -2.2 0M108.4 207.0a1.1 1.1 0 1 0 2.2 0a1.1 1.1 0 1 0 -2.2 0M114.7 190.6a1.1 1.1 0 1 0 2.2 0a1.1 1.1 0 1 0 -2.2 0M120.8 227.5a1.1 1.1 0 1 0 2.2 0a1.1 1.1 0 1 0 -2.2 0M89.6 255.6a1.1 1.1 0 1 0 2.2 0a1.1 1.1 0 1 0 -2.2 0M102.3 226.3a1.1 1.1 0 1 0 2.2 0a1.1 1.1 0 1 0 -2.2 0M118.1 238.0a1.1 1.1 0 1 0 2.2 0a1.1 1.1 0 1 0 -2.2 0M100.1 193.6a1.1 1.1 0 1 0 2.2 0a1.1 1.1 0 1 0 -2.2 0M106.4 215.3a1.1 1.1 0 1 0 2.2 0a1.1 1.1 0 1 0 -2.2 0M84.8 232.3a1.1 1.1 0 1 0 2.2 0a1.1 1.1 0 1 0 -2.2 0M119.1 252.6a1.1 1.1 0 1 0 2.2 0a1.1 1.1 0 1 0 -2.2 0M115.5 204.4a1.1 1.1 0 1 0 2.2 0a1.1 1.1 0 1 0 -2.2 0M93.3 234.2a1.1 1.1 0 1 0 2.2 0a1.1 1.1 0 1 0 -2.2 0M113.3 227.3a1.1 1.1 0 1 0 2.2 0a1.1 1.1 0 1 0 -2.2 0M92.0 232.1a1.1 1.1 0 1 0 2.2 0a1.1 1.1 0 1 0 -2.2 0M115.7 184.9a1.1 1.1 0 1 0 2.2 0a1.1 1.1 0 1 0 -2.2 0M86.3 211.7a1.1 1.1 0 1 0 2.2 0a1.1 1.1 0 1 0 -2.2 0M90.2 264.8a1.1 1.1 0 1 0 2.2 0a1.1 1.1 0 1 0 -2.2 0M98.2 216.5a1.1 1.1 0 1 0 2.2 0a1.1 1.1 0 1 0 -2.2 0M96.0 244.8a1.1 1.1 0 1 0 2.2 0a1.1 1.1 0 1 0 -2.2 0M110.3 226.2a1.1 1.1 0 1 0 2.2 0a1.1 1.1 0 1 0 -2.2 0M90.7 222.4a1.1 1.1 0 1 0 2.2 0a1.1 1.1 0 1 0 -2.2 0M99.1 220.9a1.1 1.1 0 1 0 2.2 0a1.1 1.1 0 1 0 -2.2 0M84.1 231.6a1.1 1.1 0 1 0 2.2 0a1.1 1.1 0 1 0 -2.2 0M93.9 217.6a1.1 1.1 0 1 0 2.2 0a1.1 1.1 0 1 0 -2.2 0M100.0 226.3a1.1 1.1 0 1 0 2.2 0a1.1 1.1 0 1 0 -2.2 0M87.9 216.9a1.1 1.1 0 1 0 2.2 0a1.1 1.1 0 1 0 -2.2 0M108.1 220.2a1.1 1.1 0 1 0 2.2 0a1.1 1.1 0 1 0 -2.2 0M98.4 261.9a1.1 1.1 0 1 0 2.2 0a1.1 1.1 0 1 0 -2.2 0M111.6 196.0a1.1 1.1 0 1 0 2.2 0a1.1 1.1 0 1 0 -2.2 0M108.9 241.4a1.1 1.1 0 1 0 2.2 0a1.1 1.1 0 1 0 -2.2 0M100.4 230.4a1.1 1.1 0 1 0 2.2 0a1.1 1.1 0 1 0 -2.2 0M205.1 110.3a1.1 1.1 0 1 0 2.2 0a1.1 1.1 0 1 0 -2.2 0M182.6 107.4a1.1 1.1 0 1 0 2.2 0a1.1 1.1 0 1 0 -2.2 0M199.7 128.7a1.1 1.1 0 1 0 2.2 0a1.1 1.1 0 1 0 -2.2 0M154.8 183.2a1.1 1.1 0 1 0 2.2 0a1.1 1.1 0 1 0 -2.2 0M174.2 151.6a1.1 1.1 0 1 0 2.2 0a1.1 1.1 0 1 0 -2.2 0M140.9 145.4a1.1 1.1 0 1 0 2.2 0a1.1 1.1 0 1 0 -2.2 0M145.4 176.7a1.1 1.1 0 1 0 2.2 0a1.1 1.1 0 1 0 -2.2 0M146.7 169.7a1.1 1.1 0 1 0 2.2 0a1.1 1.1 0 1 0 -2.2 0M129.2 187.6a1.1 1.1 0 1 0 2.2 0a1.1 1.1 0 1 0 -2.2 0M146.8 206.1a1.1 1.1 0 1 0 2.2 0a1.1 1.1 0 1 0 -2.2 0M188.9 111.2a1.1 1.1 0 1 0 2.2 0a1.1 1.1 0 1 0 -2.2 0M134.5 196.9a1.1 1.1 0 1 0 2.2 0a1.1 1.1 0 1 0 -2.2 0M158.1 159.1a1.1 1.1 0 1 0 2.2 0a1.1 1.1 0 1 0 -2.2 0M162.4 155.2a1.1 1.1 0 1 0 2.2 0a1.1 1.1 0 1 0 -2.2 0M185.8 135.3a1.1 1.1 0 1 0 2.2 0a1.1 1.1 0 1 0 -2.2 0M165.8 173.7a1.1 1.1 0 1 0 2.2 0a1.1 1.1 0 1 0 -2.2 0M178.3 146.5a1.1 1.1 0 1 0 2.2 0a1.1 1.1 0 1 0 -2.2 0M202.5 128.2a1.1 1.1 0 1 0 2.2 0a1.1 1.1 0 1 0 -2.2 0M191.6 109.7a1.1 1.1 0 1 0 2.2 0a1.1 1.1 0 1 0 -2.2 0M157.1 124.1a1.1 1.1 0 1 0 2.2 0a1.1 1.1 0 1 0 -2.2 0M165.0 190.3a1.1 1.1 0 1 0 2.2 0a1.1 1.1 0 1 0 -2.2 0M157.3 167.9a1.1 1.1 0 1 0 2.2 0a1.1 1.1 0 1 0 -2.2 0M132.6 194.9a1.1 1.1 0 1 0 2.2 0a1.1 1.1 0 1 0 -2.2 0M141.6 199.6a1.1 1.1 0 1 0 2.2 0a1.1 1.1 0 1 0 -2.2 0M149.3 128.3a1.1 1.1 0 1 0 2.2 0a1.1 1.1 0 1 0 -2.2 0M152.2 172.8a1.1 1.1 0 1 0 2.2 0a1.1 1.1 0 1 0 -2.2 0M152.1 203.8a1.1 1.1 0 1 0 2.2 0a1.1 1.1 0 1 0 -2.2 0M177.3 154.7a1.1 1.1 0 1 0 2.2 0a1.1 1.1 0 1 0 -2.2 0M196.2 142.4a1.1 1.1 0 1 0 2.2 0a1.1 1.1 0 1 0 -2.2 0M197.8 129.0a1.1 1.1 0 1 0 2.2 0a1.1 1.1 0 1 0 -2.2 0M194.8 143.8a1.1 1.1 0 1 0 2.2 0a1.1 1.1 0 1 0 -2.2 0M179.3 165.1a1.1 1.1 0 1 0 2.2 0a1.1 1.1 0 1 0 -2.2 0M170.0 176.4a1.1 1.1 0 1 0 2.2 0a1.1 1.1 0 1 0 -2.2 0M129.5 146.0a1.1 1.1 0 1 0 2.2 0a1.1 1.1 0 1 0 -2.2 0M142.5 209.1a1.1 1.1 0 1 0 2.2 0a1.1 1.1 0 1 0 -2.2 0M134.8 176.2a1.1 1.1 0 1 0 2.2 0a1.1 1.1 0 1 0 -2.2 0M170.6 142.4a1.1 1.1 0 1 0 2.2 0a1.1 1.1 0 1 0 -2.2 0M197.2 123.6a1.1 1.1 0 1 0 2.2 0a1.1 1.1 0 1 0 -2.2 0M150.4 160.9a1.1 1.1 0 1 0 2.2 0a1.1 1.1 0 1 0 -2.2 0M195.7 124.8a1.1 1.1 0 1 0 2.2 0a1.1 1.1 0 1 0 -2.2 0M172.4 136.4a1.1 1.1 0 1 0 2.2 0a1.1 1.1 0 1 0 -2.2 0M136.4 173.1a1.1 1.1 0 1 0 2.2 0a1.1 1.1 0 1 0 -2.2 0M214.4 128.9a1.1 1.1 0 1 0 2.2 0a1.1 1.1 0 1 0 -2.2 0M160.6 116.1a1.1 1.1 0 1 0 2.2 0a1.1 1.1 0 1 0 -2.2 0M150.4 161.8a1.1 1.1 0 1 0 2.2 0a1.1 1.1 0 1 0 -2.2 0M203.2 132.0a1.1 1.1 0 1 0 2.2 0a1.1 1.1 0 1 0 -2.2 0M134.1 206.1a1.1 1.1 0 1 0 2.2 0a1.1 1.1 0 1 0 -2.2 0M192.3 111.0a1.1 1.1 0 1 0 2.2 0a1.1 1.1 0 1 0 -2.2 0M140.1 181.7a1.1 1.1 0 1 0 2.2 0a1.1 1.1 0 1 0 -2.2 0M159.7 166.4a1.1 1.1 0 1 0 2.2 0a1.1 1.1 0 1 0 -2.2 0M144.3 195.5a1.1 1.1 0 1 0 2.2 0a1.1 1.1 0 1 0 -2.2 0M202.6 118.7a1.1 1.1 0 1 0 2.2 0a1.1 1.1 0 1 0 -2.2 0M159.5 158.4a1.1 1.1 0 1 0 2.2 0a1.1 1.1 0 1 0 -2.2 0M215.4 119.4a1.1 1.1 0 1 0 2.2 0a1.1 1.1 0 1 0 -2.2 0M182.0 107.8a1.1 1.1 0 1 0 2.2 0a1.1 1.1 0 1 0 -2.2 0M172.0 143.4a1.1 1.1 0 1 0 2.2 0a1.1 1.1 0 1 0 -2.2 0M151.7 179.2a1.1 1.1 0 1 0 2.2 0a1.1 1.1 0 1 0 -2.2 0M160.0 204.1a1.1 1.1 0 1 0 2.2 0a1.1 1.1 0 1 0 -2.2 0M212.2 125.5a1.1 1.1 0 1 0 2.2 0a1.1 1.1 0 1 0 -2.2 0M141.4 191.0a1.1 1.1 0 1 0 2.2 0a1.1 1.1 0 1 0 -2.2 0M194.7 109.7a1.1 1.1 0 1 0 2.2 0a1.1 1.1 0 1 0 -2.2 0M156.6 204.3a1.1 1.1 0 1 0 2.2 0a1.1 1.1 0 1 0 -2.2 0M183.5 111.8a1.1 1.1 0 1 0 2.2 0a1.1 1.1 0 1 0 -2.2 0M158.6 130.3a1.1 1.1 0 1 0 2.2 0a1.1 1.1 0 1 0 -2.2 0M158.6 182.0a1.1 1.1 0 1 0 2.2 0a1.1 1.1 0 1 0 -2.2 0M170.3 154.3a1.1 1.1 0 1 0 2.2 0a1.1 1.1 0 1 0 -2.2 0M123.7 180.2a1.1 1.1 0 1 0 2.2 0a1.1 1.1 0 1 0 -2.2 0M169.4 142.6a1.1 1.1 0 1 0 2.2 0a1.1 1.1 0 1 0 -2.2 0M215.1 109.2a1.1 1.1 0 1 0 2.2 0a1.1 1.1 0 1 0 -2.2 0M149.5 173.5a1.1 1.1 0 1 0 2.2 0a1.1 1.1 0 1 0 -2.2 0M193.7 109.6a1.1 1.1 0 1 0 2.2 0a1.1 1.1 0 1 0 -2.2 0M164.5 150.2a1.1 1.1 0 1 0 2.2 0a1.1 1.1 0 1 0 -2.2 0M142.2 144.5a1.1 1.1 0 1 0 2.2 0a1.1 1.1 0 1 0 -2.2 0M208.7 118.4a1.1 1.1 0 1 0 2.2 0a1.1 1.1 0 1 0 -2.2 0M123.8 203.5a1.1 1.1 0 1 0 2.2 0a1.1 1.1 0 1 0 -2.2 0M151.2 140.8a1.1 1.1 0 1 0 2.2 0a1.1 1.1 0 1 0 -2.2 0M147.2 182.0a1.1 1.1 0 1 0 2.2 0a1.1 1.1 0 1 0 -2.2 0M203.4 112.8a1.1 1.1 0 1 0 2.2 0a1.1 1.1 0 1 0 -2.2 0M180.1 150.6a1.1 1.1 0 1 0 2.2 0a1.1 1.1 0 1 0 -2.2 0M199.2 124.4a1.1 1.1 0 1 0 2.2 0a1.1 1.1 0 1 0 -2.2 0M182.4 133.0a1.1 1.1 0 1 0 2.2 0a1.1 1.1 0 1 0 -2.2 0M156.8 154.8a1.1 1.1 0 1 0 2.2 0a1.1 1.1 0 1 0 -2.2 0M194.9 155.2a1.1 1.1 0 1 0 2.2 0a1.1 1.1 0 1 0 -2.2 0M124.7 222.8a1.1 1.1 0 1 0 2.2 0a1.1 1.1 0 1 0 -2.2 0M157.7 137.0a1.1 1.1 0 1 0 2.2 0a1.1 1.1 0 1 0 -2.2 0M167.8 145.8a1.1 1.1 0 1 0 2.2 0a1.1 1.1 0 1 0 -2.2 0M134.4 186.5a1.1 1.1 0 1 0 2.2 0a1.1 1.1 0 1 0 -2.2 0M143.4 181.9a1.1 1.1 0 1 0 2.2 0a1.1 1.1 0 1 0 -2.2 0M159.2 141.1a1.1 1.1 0 1 0 2.2 0a1.1 1.1 0 1 0 -2.2 0M197.9 115.5a1.1 1.1 0 1 0 2.2 0a1.1 1.1 0 1 0 -2.2 0M180.0 139.0a1.1 1.1 0 1 0 2.2 0a1.1 1.1 0 1 0 -2.2 0M192.2 118.7a1.1 1.1 0 1 0 2.2 0a1.1 1.1 0 1 0 -2.2 0M179.7 151.9a1.1 1.1 0 1 0 2.2 0a1.1 1.1 0 1 0 -2.2 0M149.7 143.2a1.1 1.1 0 1 0 2.2 0a1.1 1.1 0 1 0 -2.2 0M197.0 132.4a1.1 1.1 0 1 0 2.2 0a1.1 1.1 0 1 0 -2.2 0M146.2 217.5a1.1 1.1 0 1 0 2.2 0a1.1 1.1 0 1 0 -2.2 0M214.2 111.4a1.1 1.1 0 1 0 2.2 0a1.1 1.1 0 1 0 -2.2 0M173.8 133.1a1.1 1.1 0 1 0 2.2 0a1.1 1.1 0 1 0 -2.2 0M196.2 118.8a1.1 1.1 0 1 0 2.2 0a1.1 1.1 0 1 0 -2.2 0M172.8 143.0a1.1 1.1 0 1 0 2.2 0a1.1 1.1 0 1 0 -2.2 0M180.6 113.1a1.1 1.1 0 1 0 2.2 0a1.1 1.1 0 1 0 -2.2 0M125.4 208.3a1.1 1.1 0 1 0 2.2 0a1.1 1.1 0 1 0 -2.2 0M140.0 199.6a1.1 1.1 0 1 0 2.2 0a1.1 1.1 0 1 0 -2.2 0M186.7 155.5a1.1 1.1 0 1 0 2.2 0a1.1 1.1 0 1 0 -2.2 0M176.7 127.6a1.1 1.1 0 1 0 2.2 0a1.1 1.1 0 1 0 -2.2 0M137.3 135.2a1.1 1.1 0 1 0 2.2 0a1.1 1.1 0 1 0 -2.2 0M136.9 172.3a1.1 1.1 0 1 0 2.2 0a1.1 1.1 0 1 0 -2.2 0M171.0 112.6a1.1 1.1 0 1 0 2.2 0a1.1 1.1 0 1 0 -2.2 0M135.9 196.0a1.1 1.1 0 1 0 2.2 0a1.1 1.1 0 1 0 -2.2 0M190.8 152.7a1.1 1.1 0 1 0 2.2 0a1.1 1.1 0 1 0 -2.2 0M148.6 177.7a1.1 1.1 0 1 0 2.2 0a1.1 1.1 0 1 0 -2.2 0M135.0 190.6a1.1 1.1 0 1 0 2.2 0a1.1 1.1 0 1 0 -2.2 0M126.5 203.5a1.1 1.1 0 1 0 2.2 0a1.1 1.1 0 1 0 -2.2 0M138.9 181.8a1.1 1.1 0 1 0 2.2 0a1.1 1.1 0 1 0 -2.2 0M140.5 170.1a1.1 1.1 0 1 0 2.2 0a1.1 1.1 0 1 0 -2.2 0M173.5 143.1a1.1 1.1 0 1 0 2.2 0a1.1 1.1 0 1 0 -2.2 0M213.4 112.6a1.1 1.1 0 1 0 2.2 0a1.1 1.1 0 1 0 -2.2 0M203.0 113.2a1.1 1.1 0 1 0 2.2 0a1.1 1.1 0 1 0 -2.2 0M133.4 217.9a1.1 1.1 0 1 0 2.2 0a1.1 1.1 0 1 0 -2.2 0M156.6 156.9a1.1 1.1 0 1 0 2.2 0a1.1 1.1 0 1 0 -2.2 0M131.1 195.9a1.1 1.1 0 1 0 2.2 0a1.1 1.1 0 1 0 -2.2 0M179.5 162.3a1.1 1.1 0 1 0 2.2 0a1.1 1.1 0 1 0 -2.2 0M147.1 158.7a1.1 1.1 0 1 0 2.2 0a1.1 1.1 0 1 0 -2.2 0M147.4 184.1a1.1 1.1 0 1 0 2.2 0a1.1 1.1 0 1 0 -2.2 0M149.7 132.8a1.1 1.1 0 1 0 2.2 0a1.1 1.1 0 1 0 -2.2 0M131.5 185.4a1.1 1.1 0 1 0 2.2 0a1.1 1.1 0 1 0 -2.2 0M184.4 123.2a1.1 1.1 0 1 0 2.2 0a1.1 1.1 0 1 0 -2.2 0M180.2 122.5a1.1 1.1 0 1 0 2.2 0a1.1 1.1 0 1 0 -2.2 0M125.4 215.9a1.1 1.1 0 1 0 2.2 0a1.1 1.1 0 1 0 -2.2 0M137.1 171.9a1.1 1.1 0 1 0 2.2 0a1.1 1.1 0 1 0 -2.2 0M159.0 176.2a1.1 1.1 0 1 0 2.2 0a1.1 1.1 0 1 0 -2.2 0M124.0 208.8a1.1 1.1 0 1 0 2.2 0a1.1 1.1 0 1 0 -2.2 0M130.0 208.0a1.1 1.1 0 1 0 2.2 0a1.1 1.1 0 1 0 -2.2 0M142.9 195.4a1.1 1.1 0 1 0 2.2 0a1.1 1.1 0 1 0 -2.2 0M161.8 159.5a1.1 1.1 0 1 0 2.2 0a1.1 1.1 0 1 0 -2.2 0M166.5 170.7a1.1 1.1 0 1 0 2.2 0a1.1 1.1 0 1 0 -2.2 0M206.8 127.1a1.1 1.1 0 1 0 2.2 0a1.1 1.1 0 1 0 -2.2 0M152.4 140.9a1.1 1.1 0 1 0 2.2 0a1.1 1.1 0 1 0 -2.2 0M124.2 182.3a1.1 1.1 0 1 0 2.2 0a1.1 1.1 0 1 0 -2.2 0M201.2 174.5a1.1 1.1 0 1 0 2.2 0a1.1 1.1 0 1 0 -2.2 0M131.0 144.7a1.1 1.1 0 1 0 2.2 0a1.1 1.1 0 1 0 -2.2 0M194.2 125.9a1.1 1.1 0 1 0 2.2 0a1.1 1.1 0 1 0 -2.2 0M154.5 171.9a1.1 1.1 0 1 0 2.2 0a1.1 1.1 0 1 0 -2.2 0M134.8 224.1a1.1 1.1 0 1 0 2.2 0a1.1 1.1 0 1 0 -2.2 0M233.8 110.4a1.1 1.1 0 1 0 2.2 0a1.1 1.1 0 1 0 -2.2 0M253.3 110.5a1.1 1.1 0 1 0 2.2 0a1.1 1.1 0 1 0 -2.2 0M241.6 107.4a1.1 1.1 0 1 0 2.2 0a1.1 1.1 0 1 0 -2.2 0M222.3 133.4a1.1 1.1 0 1 0 2.2 0a1.1 1.1 0 1 0 -2.2 0M242.0 107.7a1.1 1.1 0 1 0 2.2 0a1.1 1.1 0 1 0 -2.2 0M241.4 108.9a1.1 1.1 0 1 0 2.2 0a1.1 1.1 0 1 0 -2.2 0M219.0 108.1a1.1 1.1 0 1 0 2.2 0a1.1 1.1 0 1 0 -2.2 0M248.7 112.7a1.1 1.1 0 1 0 2.2 0a1.1 1.1 0 1 0 -2.2 0M247.9 110.4a1.1 1.1 0 1 0 2.2 0a1.1 1.1 0 1 0 -2.2 0M252.8 108.0a1.1 1.1 0 1 0 2.2 0a1.1 1.1 0 1 0 -2.2 0M243.4 114.1a1.1 1.1 0 1 0 2.2 0a1.1 1.1 0 1 0 -2.2 0M244.3 113.2a1.1 1.1 0 1 0 2.2 0a1.1 1.1 0 1 0 -2.2 0M224.1 115.3a1.1 1.1 0 1 0 2.2 0a1.1 1.1 0 1 0 -2.2 0M220.3 109.4a1.1 1.1 0 1 0 2.2 0a1.1 1.1 0 1 0 -2.2 0M254.7 108.6a1.1 1.1 0 1 0 2.2 0a1.1 1.1 0 1 0 -2.2 0M254.0 117.2a1.1 1.1 0 1 0 2.2 0a1.1 1.1 0 1 0 -2.2 0M231.2 107.4a1.1 1.1 0 1 0 2.2 0a1.1 1.1 0 1 0 -2.2 0M246.7 124.9a1.1 1.1 0 1 0 2.2 0a1.1 1.1 0 1 0 -2.2 0M220.3 120.7a1.1 1.1 0 1 0 2.2 0a1.1 1.1 0 1 0 -2.2 0M224.2 120.1a1.1 1.1 0 1 0 2.2 0a1.1 1.1 0 1 0 -2.2 0M238.9 120.2a1.1 1.1 0 1 0 2.2 0a1.1 1.1 0 1 0 -2.2 0M239.1 109.7a1.1 1.1 0 1 0 2.2 0a1.1 1.1 0 1 0 -2.2 0M236.9 108.0a1.1 1.1 0 1 0 2.2 0a1.1 1.1 0 1 0 -2.2 0M239.8 111.8a1.1 1.1 0 1 0 2.2 0a1.1 1.1 0 1 0 -2.2 0M254.8 114.1a1.1 1.1 0 1 0 2.2 0a1.1 1.1 0 1 0 -2.2 0M249.8 128.8a1.1 1.1 0 1 0 2.2 0a1.1 1.1 0 1 0 -2.2 0M219.9 116.6a1.1 1.1 0 1 0 2.2 0a1.1 1.1 0 1 0 -2.2 0M232.6 108.6a1.1 1.1 0 1 0 2.2 0a1.1 1.1 0 1 0 -2.2 0M239.2 110.7a1.1 1.1 0 1 0 2.2 0a1.1 1.1 0 1 0 -2.2 0M227.4 112.7a1.1 1.1 0 1 0 2.2 0a1.1 1.1 0 1 0 -2.2 0M254.0 107.4a1.1 1.1 0 1 0 2.2 0a1.1 1.1 0 1 0 -2.2 0M242.6 108.3a1.1 1.1 0 1 0 2.2 0a1.1 1.1 0 1 0 -2.2 0M240.2 109.3a1.1 1.1 0 1 0 2.2 0a1.1 1.1 0 1 0 -2.2 0M220.3 110.9a1.1 1.1 0 1 0 2.2 0a1.1 1.1 0 1 0 -2.2 0M219.8 107.5a1.1 1.1 0 1 0 2.2 0a1.1 1.1 0 1 0 -2.2 0M223.1 114.3a1.1 1.1 0 1 0 2.2 0a1.1 1.1 0 1 0 -2.2 0M255.4 107.6a1.1 1.1 0 1 0 2.2 0a1.1 1.1 0 1 0 -2.2 0M231.8 145.7a1.1 1.1 0 1 0 2.2 0a1.1 1.1 0 1 0 -2.2 0M242.3 108.2a1.1 1.1 0 1 0 2.2 0a1.1 1.1 0 1 0 -2.2 0M219.6 116.5a1.1 1.1 0 1 0 2.2 0a1.1 1.1 0 1 0 -2.2 0M220.4 112.6a1.1 1.1 0 1 0 2.2 0a1.1 1.1 0 1 0 -2.2 0M220.9 108.8a1.1 1.1 0 1 0 2.2 0a1.1 1.1 0 1 0 -2.2 0M228.2 108.7a1.1 1.1 0 1 0 2.2 0a1.1 1.1 0 1 0 -2.2 0M266.3 115.4a1.1 1.1 0 1 0 2.2 0a1.1 1.1 0 1 0 -2.2 0M287.6 110.3a1.1 1.1 0 1 0 2.2 0a1.1 1.1 0 1 0 -2.2 0M284.6 108.2a1.1 1.1 0 1 0 2.2 0a1.1 1.1 0 1 0 -2.2 0M260.9 109.3a1.1 1.1 0 1 0 2.2 0a1.1 1.1 0 1 0 -2.2 0M286.9 113.9a1.1 1.1 0 1 0 2.2 0a1.1 1.1 0 1 0 -2.2 0M262.9 114.0a1.1 1.1 0 1 0 2.2 0a1.1 1.1 0 1 0 -2.2 0M280.0 109.4a1.1 1.1 0 1 0 2.2 0a1.1 1.1 0 1 0 -2.2 0M265.4 110.3a1.1 1.1 0 1 0 2.2 0a1.1 1.1 0 1 0 -2.2 0M275.0 109.1a1.1 1.1 0 1 0 2.2 0a1.1 1.1 0 1 0 -2.2 0M274.4 112.8a1.1 1.1 0 1 0 2.2 0a1.1 1.1 0 1 0 -2.2 0M264.2 119.3a1.1 1.1 0 1 0 2.2 0a1.1 1.1 0 1 0 -2.2 0M285.8 110.9a1.1 1.1 0 1 0 2.2 0a1.1 1.1 0 1 0 -2.2 0M266.7 109.6a1.1 1.1 0 1 0 2.2 0a1.1 1.1 0 1 0 -2.2 0M291.0 111.5a1.1 1.1 0 1 0 2.2 0a1.1 1.1 0 1 0 -2.2 0M275.8 111.1a1.1 1.1 0 1 0 2.2 0a1.1 1.1 0 1 0 -2.2 0M267.7 113.1a1.1 1.1 0 1 0 2.2 0a1.1 1.1 0 1 0 -2.2 0M262.7 108.7a1.1 1.1 0 1 0 2.2 0a1.1 1.1 0 1 0 -2.2 0M270.5 110.6a1.1 1.1 0 1 0 2.2 0a1.1 1.1 0 1 0 -2.2 0M279.9 115.0a1.1 1.1 0 1 0 2.2 0a1.1 1.1 0 1 0 -2.2 0M275.1 110.0a1.1 1.1 0 1 0 2.2 0a1.1 1.1 0 1 0 -2.2 0M257.5 109.7a1.1 1.1 0 1 0 2.2 0a1.1 1.1 0 1 0 -2.2 0M258.0 111.4a1.1 1.1 0 1 0 2.2 0a1.1 1.1 0 1 0 -2.2 0M287.2 110.4a1.1 1.1 0 1 0 2.2 0a1.1 1.1 0 1 0 -2.2 0M291.4 113.1a1.1 1.1 0 1 0 2.2 0a1.1 1.1 0 1 0 -2.2 0M281.5 113.3a1.1 1.1 0 1 0 2.2 0a1.1 1.1 0 1 0 -2.2 0M262.2 108.4a1.1 1.1 0 1 0 2.2 0a1.1 1.1 0 1 0 -2.2 0M273.0 113.5a1.1 1.1 0 1 0 2.2 0a1.1 1.1 0 1 0 -2.2 0M280.3 112.8a1.1 1.1 0 1 0 2.2 0a1.1 1.1 0 1 0 -2.2 0M270.6 112.7a1.1 1.1 0 1 0 2.2 0a1.1 1.1 0 1 0 -2.2 0M281.9 115.8a1.1 1.1 0 1 0 2.2 0a1.1 1.1 0 1 0 -2.2 0M263.9 107.6a1.1 1.1 0 1 0 2.2 0a1.1 1.1 0 1 0 -2.2 0M269.6 107.7a1.1 1.1 0 1 0 2.2 0a1.1 1.1 0 1 0 -2.2 0M276.8 110.4a1.1 1.1 0 1 0 2.2 0a1.1 1.1 0 1 0 -2.2 0M272.4 109.0a1.1 1.1 0 1 0 2.2 0a1.1 1.1 0 1 0 -2.2 0M260.7 111.0a1.1 1.1 0 1 0 2.2 0a1.1 1.1 0 1 0 -2.2 0M293.0 109.1a1.1 1.1 0 1 0 2.2 0a1.1 1.1 0 1 0 -2.2 0M282.5 110.5a1.1 1.1 0 1 0 2.2 0a1.1 1.1 0 1 0 -2.2 0M287.9 109.1a1.1 1.1 0 1 0 2.2 0a1.1 1.1 0 1 0 -2.2 0M292.2 121.1a1.1 1.1 0 1 0 2.2 0a1.1 1.1 0 1 0 -2.2 0M287.1 110.4a1.1 1.1 0 1 0 2.2 0a1.1 1.1 0 1 0 -2.2 0M293.5 108.8a1.1 1.1 0 1 0 2.2 0a1.1 1.1 0 1 0 -2.2 0M263.6 115.2a1.1 1.1 0 1 0 2.2 0a1.1 1.1 0 1 0 -2.2 0M274.3 116.0a1.1 1.1 0 1 0 2.2 0a1.1 1.1 0 1 0 -2.2 0M265.6 112.4a1.1 1.1 0 1 0 2.2 0a1.1 1.1 0 1 0 -2.2 0M259.9 111.6a1.1 1.1 0 1 0 2.2 0a1.1 1.1 0 1 0 -2.2 0M280.5 118.3a1.1 1.1 0 1 0 2.2 0a1.1 1.1 0 1 0 -2.2 0M267.5 108.8a1.1 1.1 0 1 0 2.2 0a1.1 1.1 0 1 0 -2.2 0M287.2 112.0a1.1 1.1 0 1 0 2.2 0a1.1 1.1 0 1 0 -2.2 0M273.9 107.5a1.1 1.1 0 1 0 2.2 0a1.1 1.1 0 1 0 -2.2 0M292.9 110.2a1.1 1.1 0 1 0 2.2 0a1.1 1.1 0 1 0 -2.2 0M266.7 111.3a1.1 1.1 0 1 0 2.2 0a1.1 1.1 0 1 0 -2.2 0M283.3 113.8a1.1 1.1 0 1 0 2.2 0a1.1 1.1 0 1 0 -2.2 0M271.4 114.4a1.1 1.1 0 1 0 2.2 0a1.1 1.1 0 1 0 -2.2 0M269.5 111.4a1.1 1.1 0 1 0 2.2 0a1.1 1.1 0 1 0 -2.2 0M293.3 108.0a1.1 1.1 0 1 0 2.2 0a1.1 1.1 0 1 0 -2.2 0M262.6 113.9a1.1 1.1 0 1 0 2.2 0a1.1 1.1 0 1 0 -2.2 0M309.6 110.9a1.1 1.1 0 1 0 2.2 0a1.1 1.1 0 1 0 -2.2 0M295.3 108.9a1.1 1.1 0 1 0 2.2 0a1.1 1.1 0 1 0 -2.2 0M299.5 113.4a1.1 1.1 0 1 0 2.2 0a1.1 1.1 0 1 0 -2.2 0M319.0 116.6a1.1 1.1 0 1 0 2.2 0a1.1 1.1 0 1 0 -2.2 0M315.9 112.3a1.1 1.1 0 1 0 2.2 0a1.1 1.1 0 1 0 -2.2 0M311.3 117.9a1.1 1.1 0 1 0 2.2 0a1.1 1.1 0 1 0 -2.2 0M304.7 110.5a1.1 1.1 0 1 0 2.2 0a1.1 1.1 0 1 0 -2.2 0M311.9 114.6a1.1 1.1 0 1 0 2.2 0a1.1 1.1 0 1 0 -2.2 0M307.1 115.7a1.1 1.1 0 1 0 2.2 0a1.1 1.1 0 1 0 -2.2 0M300.8 108.8a1.1 1.1 0 1 0 2.2 0a1.1 1.1 0 1 0 -2.2 0M304.1 111.6a1.1 1.1 0 1 0 2.2 0a1.1 1.1 0 1 0 -2.2 0M307.6 110.1a1.1 1.1 0 1 0 2.2 0a1.1 1.1 0 1 0 -2.2 0M298.2 110.6a1.1 1.1 0 1 0 2.2 0a1.1 1.1 0 1 0 -2.2 0M304.8 114.3a1.1 1.1 0 1 0 2.2 0a1.1 1.1 0 1 0 -2.2 0M306.1 108.7a1.1 1.1 0 1 0 2.2 0a1.1 1.1 0 1 0 -2.2 0M314.2 108.5a1.1 1.1 0 1 0 2.2 0a1.1 1.1 0 1 0 -2.2 0M310.3 118.3a1.1 1.1 0 1 0 2.2 0a1.1 1.1 0 1 0 -2.2 0M316.0 108.2a1.1 1.1 0 1 0 2.2 0a1.1 1.1 0 1 0 -2.2 0M299.2 110.9a1.1 1.1 0 1 0 2.2 0a1.1 1.1 0 1 0 -2.2 0M304.1 111.8a1.1 1.1 0 1 0 2.2 0a1.1 1.1 0 1 0 -2.2 0M297.6 109.4a1.1 1.1 0 1 0 2.2 0a1.1 1.1 0 1 0 -2.2 0M312.1 120.8a1.1 1.1 0 1 0 2.2 0a1.1 1.1 0 1 0 -2.2 0M304.8 107.6a1.1 1.1 0 1 0 2.2 0a1.1 1.1 0 1 0 -2.2 0M317.1 118.2a1.1 1.1 0 1 0 2.2 0a1.1 1.1 0 1 0 -2.2 0M315.6 111.8a1.1 1.1 0 1 0 2.2 0a1.1 1.1 0 1 0 -2.2 0M299.8 116.0a1.1 1.1 0 1 0 2.2 0a1.1 1.1 0 1 0 -2.2 0M298.5 114.1a1.1 1.1 0 1 0 2.2 0a1.1 1.1 0 1 0 -2.2 0M317.1 111.0a1.1 1.1 0 1 0 2.2 0a1.1 1.1 0 1 0 -2.2 0M313.2 112.0a1.1 1.1 0 1 0 2.2 0a1.1 1.1 0 1 0 -2.2 0M302.1 113.1a1.1 1.1 0 1 0 2.2 0a1.1 1.1 0 1 0 -2.2 0M308.1 107.6a1.1 1.1 0 1 0 2.2 0a1.1 1.1 0 1 0 -2.2 0M317.3 114.5a1.1 1.1 0 1 0 2.2 0a1.1 1.1 0 1 0 -2.2 0M298.4 109.3a1.1 1.1 0 1 0 2.2 0a1.1 1.1 0 1 0 -2.2 0M312.2 108.2a1.1 1.1 0 1 0 2.2 0a1.1 1.1 0 1 0 -2.2 0M304.1 108.4a1.1 1.1 0 1 0 2.2 0a1.1 1.1 0 1 0 -2.2 0M24.5 106.2a1.1 1.1 0 1 0 2.2 0a1.1 1.1 0 1 0 -2.2 0M26.1 106.0a1.1 1.1 0 1 0 2.2 0a1.1 1.1 0 1 0 -2.2 0M27.7 106.1a1.1 1.1 0 1 0 2.2 0a1.1 1.1 0 1 0 -2.2 0M31.7 106.3a1.1 1.1 0 1 0 2.2 0a1.1 1.1 0 1 0 -2.2 0M51.8 106.3a1.1 1.1 0 1 0 2.2 0a1.1 1.1 0 1 0 -2.2 0M53.4 106.5a1.1 1.1 0 1 0 2.2 0a1.1 1.1 0 1 0 -2.2 0M60.3 106.2a1.1 1.1 0 1 0 2.2 0a1.1 1.1 0 1 0 -2.2 0M67.1 106.4a1.1 1.1 0 1 0 2.2 0a1.1 1.1 0 1 0 -2.2 0M68.7 106.2a1.1 1.1 0 1 0 2.2 0a1.1 1.1 0 1 0 -2.2 0M70.3 106.3a1.1 1.1 0 1 0 2.2 0a1.1 1.1 0 1 0 -2.2 0M75.1 105.8a1.1 1.1 0 1 0 2.2 0a1.1 1.1 0 1 0 -2.2 0M81.5 106.5a1.1 1.1 0 1 0 2.2 0a1.1 1.1 0 1 0 -2.2 0M83.1 106.8a1.1 1.1 0 1 0 2.2 0a1.1 1.1 0 1 0 -2.2 0M88.8 106.1a1.1 1.1 0 1 0 2.2 0a1.1 1.1 0 1 0 -2.2 0M90.4 106.5a1.1 1.1 0 1 0 2.2 0a1.1 1.1 0 1 0 -2.2 0M92.0 106.1a1.1 1.1 0 1 0 2.2 0a1.1 1.1 0 1 0 -2.2 0M93.6 105.9a1.1 1.1 0 1 0 2.2 0a1.1 1.1 0 1 0 -2.2 0M96.0 106.2a1.1 1.1 0 1 0 2.2 0a1.1 1.1 0 1 0 -2.2 0M97.6 106.6a1.1 1.1 0 1 0 2.2 0a1.1 1.1 0 1 0 -2.2 0M99.2 105.9a1.1 1.1 0 1 0 2.2 0a1.1 1.1 0 1 0 -2.2 0M104.0 106.2a1.1 1.1 0 1 0 2.2 0a1.1 1.1 0 1 0 -2.2 0M170.5 106.4a1.1 1.1 0 1 0 2.2 0a1.1 1.1 0 1 0 -2.2 0M212.5 106.0a1.1 1.1 0 1 0 2.2 0a1.1 1.1 0 1 0 -2.2 0M133.1 106.1a1.1 1.1 0 1 0 2.2 0a1.1 1.1 0 1 0 -2.2 0M261.2 105.9a1.1 1.1 0 1 0 2.2 0a1.1 1.1 0 1 0 -2.2 0M198.7 106.1a1.1 1.1 0 1 0 2.2 0a1.1 1.1 0 1 0 -2.2 0M261.3 106.0a1.1 1.1 0 1 0 2.2 0a1.1 1.1 0 1 0 -2.2 0M295.7 105.7a1.1 1.1 0 1 0 2.2 0a1.1 1.1 0 1 0 -2.2 0M271.1 106.6a1.1 1.1 0 1 0 2.2 0a1.1 1.1 0 1 0 -2.2 0M246.4 106.7a1.1 1.1 0 1 0 2.2 0a1.1 1.1 0 1 0 -2.2 0M220.1 106.1a1.1 1.1 0 1 0 2.2 0a1.1 1.1 0 1 0 -2.2 0M128.2 106.0a1.1 1.1 0 1 0 2.2 0a1.1 1.1 0 1 0 -2.2 0M215.4 106.2a1.1 1.1 0 1 0 2.2 0a1.1 1.1 0 1 0 -2.2 0M217.4 106.2a1.1 1.1 0 1 0 2.2 0a1.1 1.1 0 1 0 -2.2 0M267.3 106.0a1.1 1.1 0 1 0 2.2 0a1.1 1.1 0 1 0 -2.2 0M225.7 105.9a1.1 1.1 0 1 0 2.2 0a1.1 1.1 0 1 0 -2.2 0M162.2 106.5a1.1 1.1 0 1 0 2.2 0a1.1 1.1 0 1 0 -2.2 0M186.9 106.2a1.1 1.1 0 1 0 2.2 0a1.1 1.1 0 1 0 -2.2 0M317.1 106.3a1.1 1.1 0 1 0 2.2 0a1.1 1.1 0 1 0 -2.2 0M310.4 106.4a1.1 1.1 0 1 0 2.2 0a1.1 1.1 0 1 0 -2.2 0M123.1 106.5a1.1 1.1 0 1 0 2.2 0a1.1 1.1 0 1 0 -2.2 0M158.2 106.1a1.1 1.1 0 1 0 2.2 0a1.1 1.1 0 1 0 -2.2 0M236.6 106.6a1.1 1.1 0 1 0 2.2 0a1.1 1.1 0 1 0 -2.2 0M252.1 106.5a1.1 1.1 0 1 0 2.2 0a1.1 1.1 0 1 0 -2.2 0M317.9 106.2a1.1 1.1 0 1 0 2.2 0a1.1 1.1 0 1 0 -2.2 0M303.1 106.5a1.1 1.1 0 1 0 2.2 0a1.1 1.1 0 1 0 -2.2 0M196.3 106.2a1.1 1.1 0 1 0 2.2 0a1.1 1.1 0 1 0 -2.2 0M254.8 106.3a1.1 1.1 0 1 0 2.2 0a1.1 1.1 0 1 0 -2.2 0M228.8 106.1a1.1 1.1 0 1 0 2.2 0a1.1 1.1 0 1 0 -2.2 0M196.2 106.2a1.1 1.1 0 1 0 2.2 0a1.1 1.1 0 1 0 -2.2 0M158.0 106.1a1.1 1.1 0 1 0 2.2 0a1.1 1.1 0 1 0 -2.2 0M136.1 106.0a1.1 1.1 0 1 0 2.2 0a1.1 1.1 0 1 0 -2.2 0M194.1 105.7a1.1 1.1 0 1 0 2.2 0a1.1 1.1 0 1 0 -2.2 0M195.4 106.2a1.1 1.1 0 1 0 2.2 0a1.1 1.1 0 1 0 -2.2 0M132.6 106.9a1.1 1.1 0 1 0 2.2 0a1.1 1.1 0 1 0 -2.2 0M188.4 106.2a1.1 1.1 0 1 0 2.2 0a1.1 1.1 0 1 0 -2.2 0M146.6 106.4a1.1 1.1 0 1 0 2.2 0a1.1 1.1 0 1 0 -2.2 0M294.2 105.6a1.1 1.1 0 1 0 2.2 0a1.1 1.1 0 1 0 -2.2 0M267.0 106.0a1.1 1.1 0 1 0 2.2 0a1.1 1.1 0 1 0 -2.2 0M212.3 105.9a1.1 1.1 0 1 0 2.2 0a1.1 1.1 0 1 0 -2.2 0M279.3 106.2a1.1 1.1 0 1 0 2.2 0a1.1 1.1 0 1 0 -2.2 0M212.3 106.3a1.1 1.1 0 1 0 2.2 0a1.1 1.1 0 1 0 -2.2 0M206.1 106.2a1.1 1.1 0 1 0 2.2 0a1.1 1.1 0 1 0 -2.2 0M292.4 106.2a1.1 1.1 0 1 0 2.2 0a1.1 1.1 0 1 0 -2.2 0M289.9 106.7a1.1 1.1 0 1 0 2.2 0a1.1 1.1 0 1 0 -2.2 0M220.9 105.8a1.1 1.1 0 1 0 2.2 0a1.1 1.1 0 1 0 -2.2 0M276.5 106.5a1.1 1.1 0 1 0 2.2 0a1.1 1.1 0 1 0 -2.2 0M289.1 106.1a1.1 1.1 0 1 0 2.2 0a1.1 1.1 0 1 0 -2.2 0M256.7 106.7a1.1 1.1 0 1 0 2.2 0a1.1 1.1 0 1 0 -2.2 0M246.0 106.0a1.1 1.1 0 1 0 2.2 0a1.1 1.1 0 1 0 -2.2 0M276.2 106.1a1.1 1.1 0 1 0 2.2 0a1.1 1.1 0 1 0 -2.2 0M226.2 106.4a1.1 1.1 0 1 0 2.2 0a1.1 1.1 0 1 0 -2.2 0M298.8 106.3a1.1 1.1 0 1 0 2.2 0a1.1 1.1 0 1 0 -2.2 0M251.1 106.8a1.1 1.1 0 1 0 2.2 0a1.1 1.1 0 1 0 -2.2 0M219.0 106.2a1.1 1.1 0 1 0 2.2 0a1.1 1.1 0 1 0 -2.2 0M136.1 106.4a1.1 1.1 0 1 0 2.2 0a1.1 1.1 0 1 0 -2.2 0M305.4 105.3a1.1 1.1 0 1 0 2.2 0a1.1 1.1 0 1 0 -2.2 0M318.7 106.9a1.1 1.1 0 1 0 2.2 0a1.1 1.1 0 1 0 -2.2 0M174.0 106.2a1.1 1.1 0 1 0 2.2 0a1.1 1.1 0 1 0 -2.2 0M299.3 106.3a1.1 1.1 0 1 0 2.2 0a1.1 1.1 0 1 0 -2.2 0M261.4 106.1a1.1 1.1 0 1 0 2.2 0a1.1 1.1 0 1 0 -2.2 0M178.4 106.0a1.1 1.1 0 1 0 2.2 0a1.1 1.1 0 1 0 -2.2 0M123.7 105.7a1.1 1.1 0 1 0 2.2 0a1.1 1.1 0 1 0 -2.2 0M157.5 106.5a1.1 1.1 0 1 0 2.2 0a1.1 1.1 0 1 0 -2.2 0M173.3 105.9a1.1 1.1 0 1 0 2.2 0a1.1 1.1 0 1 0 -2.2 0M197.7 106.0a1.1 1.1 0 1 0 2.2 0a1.1 1.1 0 1 0 -2.2 0M286.3 106.0a1.1 1.1 0 1 0 2.2 0a1.1 1.1 0 1 0 -2.2 0M167.1 105.3a1.1 1.1 0 1 0 2.2 0a1.1 1.1 0 1 0 -2.2 0M294.6 106.0a1.1 1.1 0 1 0 2.2 0a1.1 1.1 0 1 0 -2.2 0M277.4 106.1a1.1 1.1 0 1 0 2.2 0a1.1 1.1 0 1 0 -2.2 0M260.4 106.3a1.1 1.1 0 1 0 2.2 0a1.1 1.1 0 1 0 -2.2 0M179.3 106.3a1.1 1.1 0 1 0 2.2 0a1.1 1.1 0 1 0 -2.2 0M248.4 106.5a1.1 1.1 0 1 0 2.2 0a1.1 1.1 0 1 0 -2.2 0M299.4 106.1a1.1 1.1 0 1 0 2.2 0a1.1 1.1 0 1 0 -2.2 0M158.1 106.2a1.1 1.1 0 1 0 2.2 0a1.1 1.1 0 1 0 -2.2 0M165.2 106.4a1.1 1.1 0 1 0 2.2 0a1.1 1.1 0 1 0 -2.2 0M205.5 106.3a1.1 1.1 0 1 0 2.2 0a1.1 1.1 0 1 0 -2.2 0M306.8 106.3a1.1 1.1 0 1 0 2.2 0a1.1 1.1 0 1 0 -2.2 0M144.1 106.1a1.1 1.1 0 1 0 2.2 0a1.1 1.1 0 1 0 -2.2 0M209.0 106.1a1.1 1.1 0 1 0 2.2 0a1.1 1.1 0 1 0 -2.2 0M200.1 106.3a1.1 1.1 0 1 0 2.2 0a1.1 1.1 0 1 0 -2.2 0M177.6 106.5a1.1 1.1 0 1 0 2.2 0a1.1 1.1 0 1 0 -2.2 0M200.0 106.2a1.1 1.1 0 1 0 2.2 0a1.1 1.1 0 1 0 -2.2 0M253.0 105.6a1.1 1.1 0 1 0 2.2 0a1.1 1.1 0 1 0 -2.2 0M147.1 106.3a1.1 1.1 0 1 0 2.2 0a1.1 1.1 0 1 0 -2.2 0M309.5 106.0a1.1 1.1 0 1 0 2.2 0a1.1 1.1 0 1 0 -2.2 0M268.1 106.1a1.1 1.1 0 1 0 2.2 0a1.1 1.1 0 1 0 -2.2 0M175.6 106.5a1.1 1.1 0 1 0 2.2 0a1.1 1.1 0 1 0 -2.2 0M132.2 106.3a1.1 1.1 0 1 0 2.2 0a1.1 1.1 0 1 0 -2.2 0M218.9 106.2a1.1 1.1 0 1 0 2.2 0a1.1 1.1 0 1 0 -2.2 0M281.1 105.7a1.1 1.1 0 1 0 2.2 0a1.1 1.1 0 1 0 -2.2 0M180.9 106.1a1.1 1.1 0 1 0 2.2 0a1.1 1.1 0 1 0 -2.2 0M244.9 106.1a1.1 1.1 0 1 0 2.2 0a1.1 1.1 0 1 0 -2.2 0M187.0 106.1a1.1 1.1 0 1 0 2.2 0a1.1 1.1 0 1 0 -2.2 0M307.4 106.0a1.1 1.1 0 1 0 2.2 0a1.1 1.1 0 1 0 -2.2 0M280.0 106.0a1.1 1.1 0 1 0 2.2 0a1.1 1.1 0 1 0 -2.2 0M272.8 106.4a1.1 1.1 0 1 0 2.2 0a1.1 1.1 0 1 0 -2.2 0M133.7 106.5a1.1 1.1 0 1 0 2.2 0a1.1 1.1 0 1 0 -2.2 0M189.4 106.2a1.1 1.1 0 1 0 2.2 0a1.1 1.1 0 1 0 -2.2 0M312.3 106.0a1.1 1.1 0 1 0 2.2 0a1.1 1.1 0 1 0 -2.2 0M280.0 106.3a1.1 1.1 0 1 0 2.2 0a1.1 1.1 0 1 0 -2.2 0M213.7 106.2a1.1 1.1 0 1 0 2.2 0a1.1 1.1 0 1 0 -2.2 0M190.1 106.2a1.1 1.1 0 1 0 2.2 0a1.1 1.1 0 1 0 -2.2 0M152.2 106.2a1.1 1.1 0 1 0 2.2 0a1.1 1.1 0 1 0 -2.2 0M275.9 105.7a1.1 1.1 0 1 0 2.2 0a1.1 1.1 0 1 0 -2.2 0M176.6 106.2a1.1 1.1 0 1 0 2.2 0a1.1 1.1 0 1 0 -2.2 0M251.5 105.5a1.1 1.1 0 1 0 2.2 0a1.1 1.1 0 1 0 -2.2 0M227.3 105.8a1.1 1.1 0 1 0 2.2 0a1.1 1.1 0 1 0 -2.2 0M192.9 106.6a1.1 1.1 0 1 0 2.2 0a1.1 1.1 0 1 0 -2.2 0M122.5 106.4a1.1 1.1 0 1 0 2.2 0a1.1 1.1 0 1 0 -2.2 0M249.1 106.3a1.1 1.1 0 1 0 2.2 0a1.1 1.1 0 1 0 -2.2 0M150.1 106.2a1.1 1.1 0 1 0 2.2 0a1.1 1.1 0 1 0 -2.2 0M181.4 106.4a1.1 1.1 0 1 0 2.2 0a1.1 1.1 0 1 0 -2.2 0M202.3 106.2a1.1 1.1 0 1 0 2.2 0a1.1 1.1 0 1 0 -2.2 0M286.2 106.1a1.1 1.1 0 1 0 2.2 0a1.1 1.1 0 1 0 -2.2 0M165.4 106.6a1.1 1.1 0 1 0 2.2 0a1.1 1.1 0 1 0 -2.2 0M219.4 106.0a1.1 1.1 0 1 0 2.2 0a1.1 1.1 0 1 0 -2.2 0M306.3 106.3a1.1 1.1 0 1 0 2.2 0a1.1 1.1 0 1 0 -2.2 0M200.0 106.5a1.1 1.1 0 1 0 2.2 0a1.1 1.1 0 1 0 -2.2 0M119.5 106.0a1.1 1.1 0 1 0 2.2 0a1.1 1.1 0 1 0 -2.2 0M233.7 106.6a1.1 1.1 0 1 0 2.2 0a1.1 1.1 0 1 0 -2.2 0M223.5 105.6a1.1 1.1 0 1 0 2.2 0a1.1 1.1 0 1 0 -2.2 0M128.3 106.3a1.1 1.1 0 1 0 2.2 0a1.1 1.1 0 1 0 -2.2 0M200.0 106.0a1.1 1.1 0 1 0 2.2 0a1.1 1.1 0 1 0 -2.2 0M138.8 105.7a1.1 1.1 0 1 0 2.2 0a1.1 1.1 0 1 0 -2.2 0M281.4 106.6a1.1 1.1 0 1 0 2.2 0a1.1 1.1 0 1 0 -2.2 0M299.1 106.3a1.1 1.1 0 1 0 2.2 0a1.1 1.1 0 1 0 -2.2 0M288.5 106.1a1.1 1.1 0 1 0 2.2 0a1.1 1.1 0 1 0 -2.2 0M207.0 106.2a1.1 1.1 0 1 0 2.2 0a1.1 1.1 0 1 0 -2.2 0M265.1 105.6a1.1 1.1 0 1 0 2.2 0a1.1 1.1 0 1 0 -2.2 0M180.5 106.2a1.1 1.1 0 1 0 2.2 0a1.1 1.1 0 1 0 -2.2 0M237.5 106.1a1.1 1.1 0 1 0 2.2 0a1.1 1.1 0 1 0 -2.2 0M270.4 106.3a1.1 1.1 0 1 0 2.2 0a1.1 1.1 0 1 0 -2.2 0M272.3 106.0a1.1 1.1 0 1 0 2.2 0a1.1 1.1 0 1 0 -2.2 0M283.0 106.6a1.1 1.1 0 1 0 2.2 0a1.1 1.1 0 1 0 -2.2 0M284.9 106.0a1.1 1.1 0 1 0 2.2 0a1.1 1.1 0 1 0 -2.2 0M301.9 106.1a1.1 1.1 0 1 0 2.2 0a1.1 1.1 0 1 0 -2.2 0M276.0 106.6a1.1 1.1 0 1 0 2.2 0a1.1 1.1 0 1 0 -2.2 0M297.0 106.3a1.1 1.1 0 1 0 2.2 0a1.1 1.1 0 1 0 -2.2 0M240.2 106.1a1.1 1.1 0 1 0 2.2 0a1.1 1.1 0 1 0 -2.2 0M203.4 106.1a1.1 1.1 0 1 0 2.2 0a1.1 1.1 0 1 0 -2.2 0M218.1 106.6a1.1 1.1 0 1 0 2.2 0a1.1 1.1 0 1 0 -2.2 0M281.7 106.9a1.1 1.1 0 1 0 2.2 0a1.1 1.1 0 1 0 -2.2 0M274.1 106.7a1.1 1.1 0 1 0 2.2 0a1.1 1.1 0 1 0 -2.2 0M289.5 105.8a1.1 1.1 0 1 0 2.2 0a1.1 1.1 0 1 0 -2.2 0M201.4 106.4a1.1 1.1 0 1 0 2.2 0a1.1 1.1 0 1 0 -2.2 0M222.3 106.8a1.1 1.1 0 1 0 2.2 0a1.1 1.1 0 1 0 -2.2 0M253.4 106.0a1.1 1.1 0 1 0 2.2 0a1.1 1.1 0 1 0 -2.2 0M278.2 106.3a1.1 1.1 0 1 0 2.2 0a1.1 1.1 0 1 0 -2.2 0M220.2 105.9a1.1 1.1 0 1 0 2.2 0a1.1 1.1 0 1 0 -2.2 0M307.5 106.3a1.1 1.1 0 1 0 2.2 0a1.1 1.1 0 1 0 -2.2 0M301.1 106.4a1.1 1.1 0 1 0 2.2 0a1.1 1.1 0 1 0 -2.2 0M317.3 106.0a1.1 1.1 0 1 0 2.2 0a1.1 1.1 0 1 0 -2.2 0M315.2 106.2a1.1 1.1 0 1 0 2.2 0a1.1 1.1 0 1 0 -2.2 0M254.5 106.8a1.1 1.1 0 1 0 2.2 0a1.1 1.1 0 1 0 -2.2 0M228.9 105.7a1.1 1.1 0 1 0 2.2 0a1.1 1.1 0 1 0 -2.2 0M271.3 106.2a1.1 1.1 0 1 0 2.2 0a1.1 1.1 0 1 0 -2.2 0M273.7 105.7a1.1 1.1 0 1 0 2.2 0a1.1 1.1 0 1 0 -2.2 0M280.0 106.5a1.1 1.1 0 1 0 2.2 0a1.1 1.1 0 1 0 -2.2 0M307.9 105.9a1.1 1.1 0 1 0 2.2 0a1.1 1.1 0 1 0 -2.2 0M243.8 105.9a1.1 1.1 0 1 0 2.2 0a1.1 1.1 0 1 0 -2.2 0M214.0 106.7a1.1 1.1 0 1 0 2.2 0a1.1 1.1 0 1 0 -2.2 0M311.6 106.0a1.1 1.1 0 1 0 2.2 0a1.1 1.1 0 1 0 -2.2 0M294.6 106.1a1.1 1.1 0 1 0 2.2 0a1.1 1.1 0 1 0 -2.2 0M279.7 106.9a1.1 1.1 0 1 0 2.2 0a1.1 1.1 0 1 0 -2.2 0M267.6 106.1a1.1 1.1 0 1 0 2.2 0a1.1 1.1 0 1 0 -2.2 0M229.7 105.9a1.1 1.1 0 1 0 2.2 0a1.1 1.1 0 1 0 -2.2 0M302.9 106.2a1.1 1.1 0 1 0 2.2 0a1.1 1.1 0 1 0 -2.2 0M294.0 106.4a1.1 1.1 0 1 0 2.2 0a1.1 1.1 0 1 0 -2.2 0M247.4 105.8a1.1 1.1 0 1 0 2.2 0a1.1 1.1 0 1 0 -2.2 0M267.6 106.0a1.1 1.1 0 1 0 2.2 0a1.1 1.1 0 1 0 -2.2 0M212.2 105.8a1.1 1.1 0 1 0 2.2 0a1.1 1.1 0 1 0 -2.2 0M302.3 106.0a1.1 1.1 0 1 0 2.2 0a1.1 1.1 0 1 0 -2.2 0M258.7 106.1a1.1 1.1 0 1 0 2.2 0a1.1 1.1 0 1 0 -2.2 0M242.2 106.3a1.1 1.1 0 1 0 2.2 0a1.1 1.1 0 1 0 -2.2 0M285.5 106.3a1.1 1.1 0 1 0 2.2 0a1.1 1.1 0 1 0 -2.2 0M259.3 106.2a1.1 1.1 0 1 0 2.2 0a1.1 1.1 0 1 0 -2.2 0M214.3 105.5a1.1 1.1 0 1 0 2.2 0a1.1 1.1 0 1 0 -2.2 0M234.9 106.2a1.1 1.1 0 1 0 2.2 0a1.1 1.1 0 1 0 -2.2 0M235.9 106.0a1.1 1.1 0 1 0 2.2 0a1.1 1.1 0 1 0 -2.2 0M202.3 106.5a1.1 1.1 0 1 0 2.2 0a1.1 1.1 0 1 0 -2.2 0M287.8 106.2a1.1 1.1 0 1 0 2.2 0a1.1 1.1 0 1 0 -2.2 0M218.1 106.1a1.1 1.1 0 1 0 2.2 0a1.1 1.1 0 1 0 -2.2 0M247.5 106.6a1.1 1.1 0 1 0 2.2 0a1.1 1.1 0 1 0 -2.2 0M258.6 106.4a1.1 1.1 0 1 0 2.2 0a1.1 1.1 0 1 0 -2.2 0M233.6 105.9a1.1 1.1 0 1 0 2.2 0a1.1 1.1 0 1 0 -2.2 0M285.6 105.5a1.1 1.1 0 1 0 2.2 0a1.1 1.1 0 1 0 -2.2 0M224.7 106.0a1.1 1.1 0 1 0 2.2 0a1.1 1.1 0 1 0 -2.2 0M235.1 106.3a1.1 1.1 0 1 0 2.2 0a1.1 1.1 0 1 0 -2.2 0M222.1 106.1a1.1 1.1 0 1 0 2.2 0a1.1 1.1 0 1 0 -2.2 0M312.0 106.7a1.1 1.1 0 1 0 2.2 0a1.1 1.1 0 1 0 -2.2 0" fill="none" stroke="#1565b5" stroke-width="1.0"/>
<line x1="20.5" y1="213.2" x2="321.3" y2="84" stroke="#2a2ae0" stroke-width="1.0"/>
</g>
<rect x="20.5" y="10.5" width="301" height="301" fill="none" stroke="#8a8a8a" stroke-width="1"/>
<path d="M27.5 311.5v-3M27.5 10.5v3M20.5 304.5h3M321.5 304.5h-3M65.5 311.5v-3M65.5 10.5v3M20.5 266.5h3M321.5 266.5h-3M104.5 311.5v-3M104.5 10.5v3M20.5 228.5h3M321.5 228.5h-3M142.5 311.5v-3M142.5 10.5v3M20.5 189.5h3M321.5 189.5h-3M180.5 311.5v-3M180.5 10.5v3M20.5 151.5h3M321.5 151.5h-3M218.5 311.5v-3M218.5 10.5v3M20.5 113.5h3M321.5 113.5h-3M257.5 311.5v-3M257.5 10.5v3M20.5 74.5h3M321.5 74.5h-3M295.5 311.5v-3M295.5 10.5v3M20.5 36.5h3M321.5 36.5h-3" stroke="#8a8a8a" stroke-width="1" fill="none" stroke-opacity="1.0"/>
<text x="27.6" y="322.1" text-anchor="middle" class="tk">1</text>
<text x="17.3" y="307.65" text-anchor="end" class="tk">1</text>
<text x="65.86" y="322.1" text-anchor="middle" class="tk">2</text>
<text x="17.3" y="269.33" text-anchor="end" class="tk">2</text>
<text x="104.12" y="322.1" text-anchor="middle" class="tk">3</text>
<text x="17.3" y="231.01" text-anchor="end" class="tk">3</text>
<text x="142.38" y="322.1" text-anchor="middle" class="tk">4</text>
<text x="17.3" y="192.69" text-anchor="end" class="tk">4</text>
<text x="180.64" y="322.1" text-anchor="middle" class="tk">5</text>
<text x="17.3" y="154.37" text-anchor="end" class="tk">5</text>
<text x="218.9" y="322.1" text-anchor="middle" class="tk">6</text>
<text x="17.3" y="116.05" text-anchor="end" class="tk">6</text>
<text x="257.16" y="322.1" text-anchor="middle" class="tk">7</text>
<text x="17.3" y="77.73" text-anchor="end" class="tk">7</text>
<text x="295.42" y="322.1" text-anchor="middle" class="tk">8</text>
<text x="17.3" y="39.41" text-anchor="end" class="tk">8</text>
<g clip-path="url(#cR)">
<path d="M389.5 211.4a1.2 1.2 0 1 0 2.4 0a1.2 1.2 0 1 0 -2.4 0M387.9 295.8a1.2 1.2 0 1 0 2.4 0a1.2 1.2 0 1 0 -2.4 0M383.5 300.9a1.2 1.2 0 1 0 2.4 0a1.2 1.2 0 1 0 -2.4 0M393.2 239.4a1.2 1.2 0 1 0 2.4 0a1.2 1.2 0 1 0 -2.4 0M391.7 289.7a1.2 1.2 0 1 0 2.4 0a1.2 1.2 0 1 0 -2.4 0M388.4 260.0a1.2 1.2 0 1 0 2.4 0a1.2 1.2 0 1 0 -2.4 0M390.9 264.2a1.2 1.2 0 1 0 2.4 0a1.2 1.2 0 1 0 -2.4 0M389.7 251.3a1.2 1.2 0 1 0 2.4 0a1.2 1.2 0 1 0 -2.4 0M387.8 291.0a1.2 1.2 0 1 0 2.4 0a1.2 1.2 0 1 0 -2.4 0M388.4 247.9a1.2 1.2 0 1 0 2.4 0a1.2 1.2 0 1 0 -2.4 0M388.3 248.1a1.2 1.2 0 1 0 2.4 0a1.2 1.2 0 1 0 -2.4 0M387.3 283.9a1.2 1.2 0 1 0 2.4 0a1.2 1.2 0 1 0 -2.4 0M390.1 299.9a1.2 1.2 0 1 0 2.4 0a1.2 1.2 0 1 0 -2.4 0M388.9 273.3a1.2 1.2 0 1 0 2.4 0a1.2 1.2 0 1 0 -2.4 0M390.3 288.8a1.2 1.2 0 1 0 2.4 0a1.2 1.2 0 1 0 -2.4 0M387.7 213.4a1.2 1.2 0 1 0 2.4 0a1.2 1.2 0 1 0 -2.4 0M389.4 276.9a1.2 1.2 0 1 0 2.4 0a1.2 1.2 0 1 0 -2.4 0M387.1 291.8a1.2 1.2 0 1 0 2.4 0a1.2 1.2 0 1 0 -2.4 0M391.0 266.0a1.2 1.2 0 1 0 2.4 0a1.2 1.2 0 1 0 -2.4 0M389.5 280.1a1.2 1.2 0 1 0 2.4 0a1.2 1.2 0 1 0 -2.4 0M389.8 241.4a1.2 1.2 0 1 0 2.4 0a1.2 1.2 0 1 0 -2.4 0M390.0 250.8a1.2 1.2 0 1 0 2.4 0a1.2 1.2 0 1 0 -2.4 0M409.1 276.1a1.2 1.2 0 1 0 2.4 0a1.2 1.2 0 1 0 -2.4 0M440.1 269.4a1.2 1.2 0 1 0 2.4 0a1.2 1.2 0 1 0 -2.4 0M416.9 275.1a1.2 1.2 0 1 0 2.4 0a1.2 1.2 0 1 0 -2.4 0M428.3 270.7a1.2 1.2 0 1 0 2.4 0a1.2 1.2 0 1 0 -2.4 0M398.4 291.0a1.2 1.2 0 1 0 2.4 0a1.2 1.2 0 1 0 -2.4 0M398.2 294.5a1.2 1.2 0 1 0 2.4 0a1.2 1.2 0 1 0 -2.4 0M403.2 285.8a1.2 1.2 0 1 0 2.4 0a1.2 1.2 0 1 0 -2.4 0M438.1 251.6a1.2 1.2 0 1 0 2.4 0a1.2 1.2 0 1 0 -2.4 0M427.6 254.2a1.2 1.2 0 1 0 2.4 0a1.2 1.2 0 1 0 -2.4 0M436.3 249.2a1.2 1.2 0 1 0 2.4 0a1.2 1.2 0 1 0 -2.4 0M425.8 269.1a1.2 1.2 0 1 0 2.4 0a1.2 1.2 0 1 0 -2.4 0M413.7 289.8a1.2 1.2 0 1 0 2.4 0a1.2 1.2 0 1 0 -2.4 0M419.3 252.9a1.2 1.2 0 1 0 2.4 0a1.2 1.2 0 1 0 -2.4 0M423.2 203.8a1.2 1.2 0 1 0 2.4 0a1.2 1.2 0 1 0 -2.4 0M436.9 257.1a1.2 1.2 0 1 0 2.4 0a1.2 1.2 0 1 0 -2.4 0M415.3 228.4a1.2 1.2 0 1 0 2.4 0a1.2 1.2 0 1 0 -2.4 0M438.5 269.0a1.2 1.2 0 1 0 2.4 0a1.2 1.2 0 1 0 -2.4 0M424.2 283.1a1.2 1.2 0 1 0 2.4 0a1.2 1.2 0 1 0 -2.4 0M435.3 256.4a1.2 1.2 0 1 0 2.4 0a1.2 1.2 0 1 0 -2.4 0M418.3 219.3a1.2 1.2 0 1 0 2.4 0a1.2 1.2 0 1 0 -2.4 0M428.3 245.3a1.2 1.2 0 1 0 2.4 0a1.2 1.2 0 1 0 -2.4 0M410.2 283.3a1.2 1.2 0 1 0 2.4 0a1.2 1.2 0 1 0 -2.4 0M419.6 132.4a1.2 1.2 0 1 0 2.4 0a1.2 1.2 0 1 0 -2.4 0M403.9 306.7a1.2 1.2 0 1 0 2.4 0a1.2 1.2 0 1 0 -2.4 0M398.0 230.4a1.2 1.2 0 1 0 2.4 0a1.2 1.2 0 1 0 -2.4 0M394.9 285.6a1.2 1.2 0 1 0 2.4 0a1.2 1.2 0 1 0 -2.4 0M428.8 141.7a1.2 1.2 0 1 0 2.4 0a1.2 1.2 0 1 0 -2.4 0M416.2 268.9a1.2 1.2 0 1 0 2.4 0a1.2 1.2 0 1 0 -2.4 0M438.8 156.2a1.2 1.2 0 1 0 2.4 0a1.2 1.2 0 1 0 -2.4 0M435.6 234.3a1.2 1.2 0 1 0 2.4 0a1.2 1.2 0 1 0 -2.4 0M412.6 278.7a1.2 1.2 0 1 0 2.4 0a1.2 1.2 0 1 0 -2.4 0M442.6 242.6a1.2 1.2 0 1 0 2.4 0a1.2 1.2 0 1 0 -2.4 0M423.1 235.2a1.2 1.2 0 1 0 2.4 0a1.2 1.2 0 1 0 -2.4 0M432.0 229.4a1.2 1.2 0 1 0 2.4 0a1.2 1.2 0 1 0 -2.4 0M413.7 253.8a1.2 1.2 0 1 0 2.4 0a1.2 1.2 0 1 0 -2.4 0M402.9 272.8a1.2 1.2 0 1 0 2.4 0a1.2 1.2 0 1 0 -2.4 0M401.7 307.2a1.2 1.2 0 1 0 2.4 0a1.2 1.2 0 1 0 -2.4 0M402.1 293.5a1.2 1.2 0 1 0 2.4 0a1.2 1.2 0 1 0 -2.4 0M423.7 259.0a1.2 1.2 0 1 0 2.4 0a1.2 1.2 0 1 0 -2.4 0M398.6 283.0a1.2 1.2 0 1 0 2.4 0a1.2 1.2 0 1 0 -2.4 0M393.9 283.3a1.2 1.2 0 1 0 2.4 0a1.2 1.2 0 1 0 -2.4 0M435.5 232.9a1.2 1.2 0 1 0 2.4 0a1.2 1.2 0 1 0 -2.4 0M398.0 285.5a1.2 1.2 0 1 0 2.4 0a1.2 1.2 0 1 0 -2.4 0M461.0 171.6a1.2 1.2 0 1 0 2.4 0a1.2 1.2 0 1 0 -2.4 0M462.5 222.1a1.2 1.2 0 1 0 2.4 0a1.2 1.2 0 1 0 -2.4 0M467.5 240.1a1.2 1.2 0 1 0 2.4 0a1.2 1.2 0 1 0 -2.4 0M463.1 203.3a1.2 1.2 0 1 0 2.4 0a1.2 1.2 0 1 0 -2.4 0M479.5 208.1a1.2 1.2 0 1 0 2.4 0a1.2 1.2 0 1 0 -2.4 0M472.4 194.9a1.2 1.2 0 1 0 2.4 0a1.2 1.2 0 1 0 -2.4 0M465.7 188.1a1.2 1.2 0 1 0 2.4 0a1.2 1.2 0 1 0 -2.4 0M467.4 207.2a1.2 1.2 0 1 0 2.4 0a1.2 1.2 0 1 0 -2.4 0M463.2 241.8a1.2 1.2 0 1 0 2.4 0a1.2 1.2 0 1 0 -2.4 0M480.5 198.9a1.2 1.2 0 1 0 2.4 0a1.2 1.2 0 1 0 -2.4 0M452.6 238.7a1.2 1.2 0 1 0 2.4 0a1.2 1.2 0 1 0 -2.4 0M470.1 208.9a1.2 1.2 0 1 0 2.4 0a1.2 1.2 0 1 0 -2.4 0M465.0 237.5a1.2 1.2 0 1 0 2.4 0a1.2 1.2 0 1 0 -2.4 0M445.6 222.1a1.2 1.2 0 1 0 2.4 0a1.2 1.2 0 1 0 -2.4 0M455.2 239.5a1.2 1.2 0 1 0 2.4 0a1.2 1.2 0 1 0 -2.4 0M479.1 228.6a1.2 1.2 0 1 0 2.4 0a1.2 1.2 0 1 0 -2.4 0M473.7 221.9a1.2 1.2 0 1 0 2.4 0a1.2 1.2 0 1 0 -2.4 0M444.5 251.2a1.2 1.2 0 1 0 2.4 0a1.2 1.2 0 1 0 -2.4 0M455.2 232.0a1.2 1.2 0 1 0 2.4 0a1.2 1.2 0 1 0 -2.4 0M444.4 249.6a1.2 1.2 0 1 0 2.4 0a1.2 1.2 0 1 0 -2.4 0M475.3 168.2a1.2 1.2 0 1 0 2.4 0a1.2 1.2 0 1 0 -2.4 0M448.2 233.2a1.2 1.2 0 1 0 2.4 0a1.2 1.2 0 1 0 -2.4 0M446.2 250.7a1.2 1.2 0 1 0 2.4 0a1.2 1.2 0 1 0 -2.4 0M481.2 200.1a1.2 1.2 0 1 0 2.4 0a1.2 1.2 0 1 0 -2.4 0M460.9 194.3a1.2 1.2 0 1 0 2.4 0a1.2 1.2 0 1 0 -2.4 0M456.0 174.2a1.2 1.2 0 1 0 2.4 0a1.2 1.2 0 1 0 -2.4 0M445.8 251.0a1.2 1.2 0 1 0 2.4 0a1.2 1.2 0 1 0 -2.4 0M458.7 228.1a1.2 1.2 0 1 0 2.4 0a1.2 1.2 0 1 0 -2.4 0M457.8 220.3a1.2 1.2 0 1 0 2.4 0a1.2 1.2 0 1 0 -2.4 0M463.8 225.8a1.2 1.2 0 1 0 2.4 0a1.2 1.2 0 1 0 -2.4 0M444.2 230.4a1.2 1.2 0 1 0 2.4 0a1.2 1.2 0 1 0 -2.4 0M449.6 239.7a1.2 1.2 0 1 0 2.4 0a1.2 1.2 0 1 0 -2.4 0M451.9 233.2a1.2 1.2 0 1 0 2.4 0a1.2 1.2 0 1 0 -2.4 0M460.7 220.9a1.2 1.2 0 1 0 2.4 0a1.2 1.2 0 1 0 -2.4 0M455.4 242.6a1.2 1.2 0 1 0 2.4 0a1.2 1.2 0 1 0 -2.4 0M467.2 228.5a1.2 1.2 0 1 0 2.4 0a1.2 1.2 0 1 0 -2.4 0M454.8 233.8a1.2 1.2 0 1 0 2.4 0a1.2 1.2 0 1 0 -2.4 0M478.4 220.1a1.2 1.2 0 1 0 2.4 0a1.2 1.2 0 1 0 -2.4 0M480.4 208.1a1.2 1.2 0 1 0 2.4 0a1.2 1.2 0 1 0 -2.4 0M446.2 235.8a1.2 1.2 0 1 0 2.4 0a1.2 1.2 0 1 0 -2.4 0M451.9 208.5a1.2 1.2 0 1 0 2.4 0a1.2 1.2 0 1 0 -2.4 0M465.3 231.8a1.2 1.2 0 1 0 2.4 0a1.2 1.2 0 1 0 -2.4 0M473.2 226.5a1.2 1.2 0 1 0 2.4 0a1.2 1.2 0 1 0 -2.4 0M446.4 174.0a1.2 1.2 0 1 0 2.4 0a1.2 1.2 0 1 0 -2.4 0M451.0 207.3a1.2 1.2 0 1 0 2.4 0a1.2 1.2 0 1 0 -2.4 0M461.3 242.1a1.2 1.2 0 1 0 2.4 0a1.2 1.2 0 1 0 -2.4 0M469.3 231.0a1.2 1.2 0 1 0 2.4 0a1.2 1.2 0 1 0 -2.4 0M478.2 188.5a1.2 1.2 0 1 0 2.4 0a1.2 1.2 0 1 0 -2.4 0M476.8 150.4a1.2 1.2 0 1 0 2.4 0a1.2 1.2 0 1 0 -2.4 0M474.0 214.3a1.2 1.2 0 1 0 2.4 0a1.2 1.2 0 1 0 -2.4 0M446.0 206.7a1.2 1.2 0 1 0 2.4 0a1.2 1.2 0 1 0 -2.4 0M481.0 216.6a1.2 1.2 0 1 0 2.4 0a1.2 1.2 0 1 0 -2.4 0M467.3 222.4a1.2 1.2 0 1 0 2.4 0a1.2 1.2 0 1 0 -2.4 0M447.3 232.3a1.2 1.2 0 1 0 2.4 0a1.2 1.2 0 1 0 -2.4 0M453.6 258.7a1.2 1.2 0 1 0 2.4 0a1.2 1.2 0 1 0 -2.4 0M467.5 232.0a1.2 1.2 0 1 0 2.4 0a1.2 1.2 0 1 0 -2.4 0M458.6 220.9a1.2 1.2 0 1 0 2.4 0a1.2 1.2 0 1 0 -2.4 0M460.9 214.4a1.2 1.2 0 1 0 2.4 0a1.2 1.2 0 1 0 -2.4 0M474.5 223.0a1.2 1.2 0 1 0 2.4 0a1.2 1.2 0 1 0 -2.4 0M475.2 211.2a1.2 1.2 0 1 0 2.4 0a1.2 1.2 0 1 0 -2.4 0M464.7 148.1a1.2 1.2 0 1 0 2.4 0a1.2 1.2 0 1 0 -2.4 0M474.0 216.6a1.2 1.2 0 1 0 2.4 0a1.2 1.2 0 1 0 -2.4 0M520.3 187.5a1.2 1.2 0 1 0 2.4 0a1.2 1.2 0 1 0 -2.4 0M574.1 113.5a1.2 1.2 0 1 0 2.4 0a1.2 1.2 0 1 0 -2.4 0M539.1 155.7a1.2 1.2 0 1 0 2.4 0a1.2 1.2 0 1 0 -2.4 0M573.4 90.9a1.2 1.2 0 1 0 2.4 0a1.2 1.2 0 1 0 -2.4 0M486.0 202.5a1.2 1.2 0 1 0 2.4 0a1.2 1.2 0 1 0 -2.4 0M565.4 102.3a1.2 1.2 0 1 0 2.4 0a1.2 1.2 0 1 0 -2.4 0M534.8 125.6a1.2 1.2 0 1 0 2.4 0a1.2 1.2 0 1 0 -2.4 0M549.4 145.6a1.2 1.2 0 1 0 2.4 0a1.2 1.2 0 1 0 -2.4 0M500.1 185.0a1.2 1.2 0 1 0 2.4 0a1.2 1.2 0 1 0 -2.4 0M533.8 148.2a1.2 1.2 0 1 0 2.4 0a1.2 1.2 0 1 0 -2.4 0M509.2 136.6a1.2 1.2 0 1 0 2.4 0a1.2 1.2 0 1 0 -2.4 0M491.8 196.7a1.2 1.2 0 1 0 2.4 0a1.2 1.2 0 1 0 -2.4 0M482.2 200.8a1.2 1.2 0 1 0 2.4 0a1.2 1.2 0 1 0 -2.4 0M567.7 120.0a1.2 1.2 0 1 0 2.4 0a1.2 1.2 0 1 0 -2.4 0M545.4 161.6a1.2 1.2 0 1 0 2.4 0a1.2 1.2 0 1 0 -2.4 0M501.3 190.2a1.2 1.2 0 1 0 2.4 0a1.2 1.2 0 1 0 -2.4 0M506.3 187.4a1.2 1.2 0 1 0 2.4 0a1.2 1.2 0 1 0 -2.4 0M525.9 167.3a1.2 1.2 0 1 0 2.4 0a1.2 1.2 0 1 0 -2.4 0M559.3 126.5a1.2 1.2 0 1 0 2.4 0a1.2 1.2 0 1 0 -2.4 0M493.0 205.6a1.2 1.2 0 1 0 2.4 0a1.2 1.2 0 1 0 -2.4 0M573.5 64.8a1.2 1.2 0 1 0 2.4 0a1.2 1.2 0 1 0 -2.4 0M571.2 96.0a1.2 1.2 0 1 0 2.4 0a1.2 1.2 0 1 0 -2.4 0M505.0 213.6a1.2 1.2 0 1 0 2.4 0a1.2 1.2 0 1 0 -2.4 0M542.5 146.9a1.2 1.2 0 1 0 2.4 0a1.2 1.2 0 1 0 -2.4 0M515.9 184.2a1.2 1.2 0 1 0 2.4 0a1.2 1.2 0 1 0 -2.4 0M547.9 173.6a1.2 1.2 0 1 0 2.4 0a1.2 1.2 0 1 0 -2.4 0M490.1 195.4a1.2 1.2 0 1 0 2.4 0a1.2 1.2 0 1 0 -2.4 0M526.3 172.3a1.2 1.2 0 1 0 2.4 0a1.2 1.2 0 1 0 -2.4 0M537.6 142.0a1.2 1.2 0 1 0 2.4 0a1.2 1.2 0 1 0 -2.4 0M541.1 156.7a1.2 1.2 0 1 0 2.4 0a1.2 1.2 0 1 0 -2.4 0M547.4 127.9a1.2 1.2 0 1 0 2.4 0a1.2 1.2 0 1 0 -2.4 0M566.2 105.2a1.2 1.2 0 1 0 2.4 0a1.2 1.2 0 1 0 -2.4 0M504.7 183.0a1.2 1.2 0 1 0 2.4 0a1.2 1.2 0 1 0 -2.4 0M496.3 185.8a1.2 1.2 0 1 0 2.4 0a1.2 1.2 0 1 0 -2.4 0M518.8 167.7a1.2 1.2 0 1 0 2.4 0a1.2 1.2 0 1 0 -2.4 0M535.7 152.8a1.2 1.2 0 1 0 2.4 0a1.2 1.2 0 1 0 -2.4 0M572.8 123.3a1.2 1.2 0 1 0 2.4 0a1.2 1.2 0 1 0 -2.4 0M549.1 139.2a1.2 1.2 0 1 0 2.4 0a1.2 1.2 0 1 0 -2.4 0M551.7 145.6a1.2 1.2 0 1 0 2.4 0a1.2 1.2 0 1 0 -2.4 0M573.9 108.2a1.2 1.2 0 1 0 2.4 0a1.2 1.2 0 1 0 -2.4 0M507.2 173.6a1.2 1.2 0 1 0 2.4 0a1.2 1.2 0 1 0 -2.4 0M506.4 168.9a1.2 1.2 0 1 0 2.4 0a1.2 1.2 0 1 0 -2.4 0M521.8 154.5a1.2 1.2 0 1 0 2.4 0a1.2 1.2 0 1 0 -2.4 0M509.8 147.7a1.2 1.2 0 1 0 2.4 0a1.2 1.2 0 1 0 -2.4 0M543.5 172.3a1.2 1.2 0 1 0 2.4 0a1.2 1.2 0 1 0 -2.4 0M571.9 114.7a1.2 1.2 0 1 0 2.4 0a1.2 1.2 0 1 0 -2.4 0M496.4 201.6a1.2 1.2 0 1 0 2.4 0a1.2 1.2 0 1 0 -2.4 0M530.9 165.5a1.2 1.2 0 1 0 2.4 0a1.2 1.2 0 1 0 -2.4 0M546.0 160.1a1.2 1.2 0 1 0 2.4 0a1.2 1.2 0 1 0 -2.4 0M528.5 161.6a1.2 1.2 0 1 0 2.4 0a1.2 1.2 0 1 0 -2.4 0M568.3 121.7a1.2 1.2 0 1 0 2.4 0a1.2 1.2 0 1 0 -2.4 0M551.6 141.7a1.2 1.2 0 1 0 2.4 0a1.2 1.2 0 1 0 -2.4 0M565.3 121.4a1.2 1.2 0 1 0 2.4 0a1.2 1.2 0 1 0 -2.4 0M492.4 205.7a1.2 1.2 0 1 0 2.4 0a1.2 1.2 0 1 0 -2.4 0M500.4 219.9a1.2 1.2 0 1 0 2.4 0a1.2 1.2 0 1 0 -2.4 0M488.1 189.0a1.2 1.2 0 1 0 2.4 0a1.2 1.2 0 1 0 -2.4 0M560.3 130.9a1.2 1.2 0 1 0 2.4 0a1.2 1.2 0 1 0 -2.4 0M573.0 125.6a1.2 1.2 0 1 0 2.4 0a1.2 1.2 0 1 0 -2.4 0M483.2 203.4a1.2 1.2 0 1 0 2.4 0a1.2 1.2 0 1 0 -2.4 0M556.6 139.5a1.2 1.2 0 1 0 2.4 0a1.2 1.2 0 1 0 -2.4 0M550.7 165.0a1.2 1.2 0 1 0 2.4 0a1.2 1.2 0 1 0 -2.4 0M567.8 39.7a1.2 1.2 0 1 0 2.4 0a1.2 1.2 0 1 0 -2.4 0M507.4 204.7a1.2 1.2 0 1 0 2.4 0a1.2 1.2 0 1 0 -2.4 0M549.5 141.9a1.2 1.2 0 1 0 2.4 0a1.2 1.2 0 1 0 -2.4 0M504.3 181.4a1.2 1.2 0 1 0 2.4 0a1.2 1.2 0 1 0 -2.4 0M489.0 180.2a1.2 1.2 0 1 0 2.4 0a1.2 1.2 0 1 0 -2.4 0M552.4 121.1a1.2 1.2 0 1 0 2.4 0a1.2 1.2 0 1 0 -2.4 0M485.8 202.6a1.2 1.2 0 1 0 2.4 0a1.2 1.2 0 1 0 -2.4 0M548.1 150.4a1.2 1.2 0 1 0 2.4 0a1.2 1.2 0 1 0 -2.4 0M508.7 116.4a1.2 1.2 0 1 0 2.4 0a1.2 1.2 0 1 0 -2.4 0M528.0 149.3a1.2 1.2 0 1 0 2.4 0a1.2 1.2 0 1 0 -2.4 0M566.2 98.4a1.2 1.2 0 1 0 2.4 0a1.2 1.2 0 1 0 -2.4 0M504.9 179.4a1.2 1.2 0 1 0 2.4 0a1.2 1.2 0 1 0 -2.4 0M526.2 154.0a1.2 1.2 0 1 0 2.4 0a1.2 1.2 0 1 0 -2.4 0M515.5 162.9a1.2 1.2 0 1 0 2.4 0a1.2 1.2 0 1 0 -2.4 0M499.9 195.8a1.2 1.2 0 1 0 2.4 0a1.2 1.2 0 1 0 -2.4 0M526.7 169.3a1.2 1.2 0 1 0 2.4 0a1.2 1.2 0 1 0 -2.4 0M499.0 195.4a1.2 1.2 0 1 0 2.4 0a1.2 1.2 0 1 0 -2.4 0M557.5 122.9a1.2 1.2 0 1 0 2.4 0a1.2 1.2 0 1 0 -2.4 0M540.0 146.4a1.2 1.2 0 1 0 2.4 0a1.2 1.2 0 1 0 -2.4 0M508.6 135.6a1.2 1.2 0 1 0 2.4 0a1.2 1.2 0 1 0 -2.4 0M574.0 96.6a1.2 1.2 0 1 0 2.4 0a1.2 1.2 0 1 0 -2.4 0M514.5 170.3a1.2 1.2 0 1 0 2.4 0a1.2 1.2 0 1 0 -2.4 0M545.4 164.0a1.2 1.2 0 1 0 2.4 0a1.2 1.2 0 1 0 -2.4 0M551.2 158.4a1.2 1.2 0 1 0 2.4 0a1.2 1.2 0 1 0 -2.4 0M507.0 182.2a1.2 1.2 0 1 0 2.4 0a1.2 1.2 0 1 0 -2.4 0M483.0 208.2a1.2 1.2 0 1 0 2.4 0a1.2 1.2 0 1 0 -2.4 0M566.3 93.6a1.2 1.2 0 1 0 2.4 0a1.2 1.2 0 1 0 -2.4 0M572.4 114.8a1.2 1.2 0 1 0 2.4 0a1.2 1.2 0 1 0 -2.4 0M498.0 194.9a1.2 1.2 0 1 0 2.4 0a1.2 1.2 0 1 0 -2.4 0M496.4 182.7a1.2 1.2 0 1 0 2.4 0a1.2 1.2 0 1 0 -2.4 0M522.8 128.8a1.2 1.2 0 1 0 2.4 0a1.2 1.2 0 1 0 -2.4 0M538.4 154.6a1.2 1.2 0 1 0 2.4 0a1.2 1.2 0 1 0 -2.4 0M575.5 104.7a1.2 1.2 0 1 0 2.4 0a1.2 1.2 0 1 0 -2.4 0M573.0 127.9a1.2 1.2 0 1 0 2.4 0a1.2 1.2 0 1 0 -2.4 0M575.4 123.2a1.2 1.2 0 1 0 2.4 0a1.2 1.2 0 1 0 -2.4 0M505.1 170.6a1.2 1.2 0 1 0 2.4 0a1.2 1.2 0 1 0 -2.4 0M538.5 169.1a1.2 1.2 0 1 0 2.4 0a1.2 1.2 0 1 0 -2.4 0M523.1 148.5a1.2 1.2 0 1 0 2.4 0a1.2 1.2 0 1 0 -2.4 0M503.8 178.9a1.2 1.2 0 1 0 2.4 0a1.2 1.2 0 1 0 -2.4 0M488.0 181.9a1.2 1.2 0 1 0 2.4 0a1.2 1.2 0 1 0 -2.4 0M497.8 181.7a1.2 1.2 0 1 0 2.4 0a1.2 1.2 0 1 0 -2.4 0M515.8 168.4a1.2 1.2 0 1 0 2.4 0a1.2 1.2 0 1 0 -2.4 0M490.2 227.2a1.2 1.2 0 1 0 2.4 0a1.2 1.2 0 1 0 -2.4 0M496.1 207.3a1.2 1.2 0 1 0 2.4 0a1.2 1.2 0 1 0 -2.4 0M486.1 211.9a1.2 1.2 0 1 0 2.4 0a1.2 1.2 0 1 0 -2.4 0M540.8 137.5a1.2 1.2 0 1 0 2.4 0a1.2 1.2 0 1 0 -2.4 0M528.5 176.4a1.2 1.2 0 1 0 2.4 0a1.2 1.2 0 1 0 -2.4 0M504.9 195.0a1.2 1.2 0 1 0 2.4 0a1.2 1.2 0 1 0 -2.4 0M531.7 156.5a1.2 1.2 0 1 0 2.4 0a1.2 1.2 0 1 0 -2.4 0M522.0 152.6a1.2 1.2 0 1 0 2.4 0a1.2 1.2 0 1 0 -2.4 0M544.2 145.7a1.2 1.2 0 1 0 2.4 0a1.2 1.2 0 1 0 -2.4 0M570.1 133.6a1.2 1.2 0 1 0 2.4 0a1.2 1.2 0 1 0 -2.4 0M515.3 168.1a1.2 1.2 0 1 0 2.4 0a1.2 1.2 0 1 0 -2.4 0M542.9 173.2a1.2 1.2 0 1 0 2.4 0a1.2 1.2 0 1 0 -2.4 0M502.6 184.3a1.2 1.2 0 1 0 2.4 0a1.2 1.2 0 1 0 -2.4 0M570.8 121.6a1.2 1.2 0 1 0 2.4 0a1.2 1.2 0 1 0 -2.4 0M540.3 148.7a1.2 1.2 0 1 0 2.4 0a1.2 1.2 0 1 0 -2.4 0M496.9 199.3a1.2 1.2 0 1 0 2.4 0a1.2 1.2 0 1 0 -2.4 0M506.2 197.5a1.2 1.2 0 1 0 2.4 0a1.2 1.2 0 1 0 -2.4 0M496.9 175.9a1.2 1.2 0 1 0 2.4 0a1.2 1.2 0 1 0 -2.4 0M498.8 187.6a1.2 1.2 0 1 0 2.4 0a1.2 1.2 0 1 0 -2.4 0M510.9 161.7a1.2 1.2 0 1 0 2.4 0a1.2 1.2 0 1 0 -2.4 0M559.8 127.9a1.2 1.2 0 1 0 2.4 0a1.2 1.2 0 1 0 -2.4 0M525.1 138.4a1.2 1.2 0 1 0 2.4 0a1.2 1.2 0 1 0 -2.4 0M508.1 190.3a1.2 1.2 0 1 0 2.4 0a1.2 1.2 0 1 0 -2.4 0M521.5 169.9a1.2 1.2 0 1 0 2.4 0a1.2 1.2 0 1 0 -2.4 0M507.2 170.9a1.2 1.2 0 1 0 2.4 0a1.2 1.2 0 1 0 -2.4 0M551.3 93.0a1.2 1.2 0 1 0 2.4 0a1.2 1.2 0 1 0 -2.4 0M487.4 194.9a1.2 1.2 0 1 0 2.4 0a1.2 1.2 0 1 0 -2.4 0M509.2 188.6a1.2 1.2 0 1 0 2.4 0a1.2 1.2 0 1 0 -2.4 0M512.4 177.8a1.2 1.2 0 1 0 2.4 0a1.2 1.2 0 1 0 -2.4 0M499.0 187.9a1.2 1.2 0 1 0 2.4 0a1.2 1.2 0 1 0 -2.4 0M551.7 126.1a1.2 1.2 0 1 0 2.4 0a1.2 1.2 0 1 0 -2.4 0M498.9 189.1a1.2 1.2 0 1 0 2.4 0a1.2 1.2 0 1 0 -2.4 0M510.3 185.8a1.2 1.2 0 1 0 2.4 0a1.2 1.2 0 1 0 -2.4 0M487.2 199.4a1.2 1.2 0 1 0 2.4 0a1.2 1.2 0 1 0 -2.4 0M553.4 134.7a1.2 1.2 0 1 0 2.4 0a1.2 1.2 0 1 0 -2.4 0M516.3 177.5a1.2 1.2 0 1 0 2.4 0a1.2 1.2 0 1 0 -2.4 0M543.9 142.9a1.2 1.2 0 1 0 2.4 0a1.2 1.2 0 1 0 -2.4 0M502.4 177.7a1.2 1.2 0 1 0 2.4 0a1.2 1.2 0 1 0 -2.4 0M483.9 204.7a1.2 1.2 0 1 0 2.4 0a1.2 1.2 0 1 0 -2.4 0M512.4 176.9a1.2 1.2 0 1 0 2.4 0a1.2 1.2 0 1 0 -2.4 0M555.6 148.4a1.2 1.2 0 1 0 2.4 0a1.2 1.2 0 1 0 -2.4 0M561.1 127.8a1.2 1.2 0 1 0 2.4 0a1.2 1.2 0 1 0 -2.4 0M514.9 199.6a1.2 1.2 0 1 0 2.4 0a1.2 1.2 0 1 0 -2.4 0M562.0 116.2a1.2 1.2 0 1 0 2.4 0a1.2 1.2 0 1 0 -2.4 0M486.6 215.6a1.2 1.2 0 1 0 2.4 0a1.2 1.2 0 1 0 -2.4 0M531.3 143.2a1.2 1.2 0 1 0 2.4 0a1.2 1.2 0 1 0 -2.4 0M506.2 147.5a1.2 1.2 0 1 0 2.4 0a1.2 1.2 0 1 0 -2.4 0M523.4 172.6a1.2 1.2 0 1 0 2.4 0a1.2 1.2 0 1 0 -2.4 0M502.8 171.6a1.2 1.2 0 1 0 2.4 0a1.2 1.2 0 1 0 -2.4 0M566.4 115.5a1.2 1.2 0 1 0 2.4 0a1.2 1.2 0 1 0 -2.4 0M510.5 187.7a1.2 1.2 0 1 0 2.4 0a1.2 1.2 0 1 0 -2.4 0M571.3 126.0a1.2 1.2 0 1 0 2.4 0a1.2 1.2 0 1 0 -2.4 0M492.2 191.5a1.2 1.2 0 1 0 2.4 0a1.2 1.2 0 1 0 -2.4 0M522.5 151.1a1.2 1.2 0 1 0 2.4 0a1.2 1.2 0 1 0 -2.4 0M523.8 162.8a1.2 1.2 0 1 0 2.4 0a1.2 1.2 0 1 0 -2.4 0M549.0 158.7a1.2 1.2 0 1 0 2.4 0a1.2 1.2 0 1 0 -2.4 0M514.5 189.7a1.2 1.2 0 1 0 2.4 0a1.2 1.2 0 1 0 -2.4 0M528.5 165.2a1.2 1.2 0 1 0 2.4 0a1.2 1.2 0 1 0 -2.4 0M488.5 156.3a1.2 1.2 0 1 0 2.4 0a1.2 1.2 0 1 0 -2.4 0M511.3 176.4a1.2 1.2 0 1 0 2.4 0a1.2 1.2 0 1 0 -2.4 0M550.5 134.0a1.2 1.2 0 1 0 2.4 0a1.2 1.2 0 1 0 -2.4 0M491.9 183.7a1.2 1.2 0 1 0 2.4 0a1.2 1.2 0 1 0 -2.4 0M525.6 167.9a1.2 1.2 0 1 0 2.4 0a1.2 1.2 0 1 0 -2.4 0M504.3 187.9a1.2 1.2 0 1 0 2.4 0a1.2 1.2 0 1 0 -2.4 0M497.5 195.7a1.2 1.2 0 1 0 2.4 0a1.2 1.2 0 1 0 -2.4 0M493.3 219.7a1.2 1.2 0 1 0 2.4 0a1.2 1.2 0 1 0 -2.4 0M558.9 122.8a1.2 1.2 0 1 0 2.4 0a1.2 1.2 0 1 0 -2.4 0M546.8 137.1a1.2 1.2 0 1 0 2.4 0a1.2 1.2 0 1 0 -2.4 0M517.8 161.2a1.2 1.2 0 1 0 2.4 0a1.2 1.2 0 1 0 -2.4 0M518.9 187.1a1.2 1.2 0 1 0 2.4 0a1.2 1.2 0 1 0 -2.4 0M550.8 144.6a1.2 1.2 0 1 0 2.4 0a1.2 1.2 0 1 0 -2.4 0M539.0 139.3a1.2 1.2 0 1 0 2.4 0a1.2 1.2 0 1 0 -2.4 0M568.6 114.2a1.2 1.2 0 1 0 2.4 0a1.2 1.2 0 1 0 -2.4 0M568.9 100.8a1.2 1.2 0 1 0 2.4 0a1.2 1.2 0 1 0 -2.4 0M527.5 174.2a1.2 1.2 0 1 0 2.4 0a1.2 1.2 0 1 0 -2.4 0M544.2 95.9a1.2 1.2 0 1 0 2.4 0a1.2 1.2 0 1 0 -2.4 0M533.4 154.4a1.2 1.2 0 1 0 2.4 0a1.2 1.2 0 1 0 -2.4 0M511.2 176.1a1.2 1.2 0 1 0 2.4 0a1.2 1.2 0 1 0 -2.4 0M524.8 172.3a1.2 1.2 0 1 0 2.4 0a1.2 1.2 0 1 0 -2.4 0M550.1 131.8a1.2 1.2 0 1 0 2.4 0a1.2 1.2 0 1 0 -2.4 0M534.2 125.4a1.2 1.2 0 1 0 2.4 0a1.2 1.2 0 1 0 -2.4 0M541.7 139.5a1.2 1.2 0 1 0 2.4 0a1.2 1.2 0 1 0 -2.4 0M528.0 185.5a1.2 1.2 0 1 0 2.4 0a1.2 1.2 0 1 0 -2.4 0M572.0 75.4a1.2 1.2 0 1 0 2.4 0a1.2 1.2 0 1 0 -2.4 0M555.3 127.0a1.2 1.2 0 1 0 2.4 0a1.2 1.2 0 1 0 -2.4 0M494.2 209.6a1.2 1.2 0 1 0 2.4 0a1.2 1.2 0 1 0 -2.4 0M558.9 139.7a1.2 1.2 0 1 0 2.4 0a1.2 1.2 0 1 0 -2.4 0M568.7 85.7a1.2 1.2 0 1 0 2.4 0a1.2 1.2 0 1 0 -2.4 0M559.1 105.8a1.2 1.2 0 1 0 2.4 0a1.2 1.2 0 1 0 -2.4 0M514.3 182.5a1.2 1.2 0 1 0 2.4 0a1.2 1.2 0 1 0 -2.4 0M516.7 139.0a1.2 1.2 0 1 0 2.4 0a1.2 1.2 0 1 0 -2.4 0M504.9 182.7a1.2 1.2 0 1 0 2.4 0a1.2 1.2 0 1 0 -2.4 0M487.1 201.3a1.2 1.2 0 1 0 2.4 0a1.2 1.2 0 1 0 -2.4 0M526.5 127.0a1.2 1.2 0 1 0 2.4 0a1.2 1.2 0 1 0 -2.4 0M562.3 141.0a1.2 1.2 0 1 0 2.4 0a1.2 1.2 0 1 0 -2.4 0M554.6 101.9a1.2 1.2 0 1 0 2.4 0a1.2 1.2 0 1 0 -2.4 0M544.5 123.0a1.2 1.2 0 1 0 2.4 0a1.2 1.2 0 1 0 -2.4 0M562.0 121.4a1.2 1.2 0 1 0 2.4 0a1.2 1.2 0 1 0 -2.4 0M544.2 124.4a1.2 1.2 0 1 0 2.4 0a1.2 1.2 0 1 0 -2.4 0M503.0 186.9a1.2 1.2 0 1 0 2.4 0a1.2 1.2 0 1 0 -2.4 0M557.9 117.6a1.2 1.2 0 1 0 2.4 0a1.2 1.2 0 1 0 -2.4 0M590.4 107.2a1.2 1.2 0 1 0 2.4 0a1.2 1.2 0 1 0 -2.4 0M610.2 81.3a1.2 1.2 0 1 0 2.4 0a1.2 1.2 0 1 0 -2.4 0M588.9 112.0a1.2 1.2 0 1 0 2.4 0a1.2 1.2 0 1 0 -2.4 0M580.0 126.8a1.2 1.2 0 1 0 2.4 0a1.2 1.2 0 1 0 -2.4 0M604.1 90.4a1.2 1.2 0 1 0 2.4 0a1.2 1.2 0 1 0 -2.4 0M580.6 114.8a1.2 1.2 0 1 0 2.4 0a1.2 1.2 0 1 0 -2.4 0M609.4 72.1a1.2 1.2 0 1 0 2.4 0a1.2 1.2 0 1 0 -2.4 0M592.1 80.7a1.2 1.2 0 1 0 2.4 0a1.2 1.2 0 1 0 -2.4 0M606.0 87.7a1.2 1.2 0 1 0 2.4 0a1.2 1.2 0 1 0 -2.4 0M578.5 107.7a1.2 1.2 0 1 0 2.4 0a1.2 1.2 0 1 0 -2.4 0M597.1 90.2a1.2 1.2 0 1 0 2.4 0a1.2 1.2 0 1 0 -2.4 0M602.1 109.6a1.2 1.2 0 1 0 2.4 0a1.2 1.2 0 1 0 -2.4 0M581.4 102.4a1.2 1.2 0 1 0 2.4 0a1.2 1.2 0 1 0 -2.4 0M599.5 78.7a1.2 1.2 0 1 0 2.4 0a1.2 1.2 0 1 0 -2.4 0M581.9 47.5a1.2 1.2 0 1 0 2.4 0a1.2 1.2 0 1 0 -2.4 0M588.0 113.8a1.2 1.2 0 1 0 2.4 0a1.2 1.2 0 1 0 -2.4 0M590.3 122.8a1.2 1.2 0 1 0 2.4 0a1.2 1.2 0 1 0 -2.4 0M600.0 93.4a1.2 1.2 0 1 0 2.4 0a1.2 1.2 0 1 0 -2.4 0M581.4 101.8a1.2 1.2 0 1 0 2.4 0a1.2 1.2 0 1 0 -2.4 0M583.5 87.1a1.2 1.2 0 1 0 2.4 0a1.2 1.2 0 1 0 -2.4 0M606.1 62.4a1.2 1.2 0 1 0 2.4 0a1.2 1.2 0 1 0 -2.4 0M603.6 69.3a1.2 1.2 0 1 0 2.4 0a1.2 1.2 0 1 0 -2.4 0M593.7 90.7a1.2 1.2 0 1 0 2.4 0a1.2 1.2 0 1 0 -2.4 0M587.2 77.2a1.2 1.2 0 1 0 2.4 0a1.2 1.2 0 1 0 -2.4 0M602.7 90.7a1.2 1.2 0 1 0 2.4 0a1.2 1.2 0 1 0 -2.4 0M594.2 87.0a1.2 1.2 0 1 0 2.4 0a1.2 1.2 0 1 0 -2.4 0M588.3 88.1a1.2 1.2 0 1 0 2.4 0a1.2 1.2 0 1 0 -2.4 0M609.6 49.1a1.2 1.2 0 1 0 2.4 0a1.2 1.2 0 1 0 -2.4 0M584.1 100.3a1.2 1.2 0 1 0 2.4 0a1.2 1.2 0 1 0 -2.4 0M607.0 100.7a1.2 1.2 0 1 0 2.4 0a1.2 1.2 0 1 0 -2.4 0M599.9 73.1a1.2 1.2 0 1 0 2.4 0a1.2 1.2 0 1 0 -2.4 0M601.0 99.4a1.2 1.2 0 1 0 2.4 0a1.2 1.2 0 1 0 -2.4 0M602.3 89.2a1.2 1.2 0 1 0 2.4 0a1.2 1.2 0 1 0 -2.4 0M604.8 90.2a1.2 1.2 0 1 0 2.4 0a1.2 1.2 0 1 0 -2.4 0M609.9 93.9a1.2 1.2 0 1 0 2.4 0a1.2 1.2 0 1 0 -2.4 0M611.4 64.6a1.2 1.2 0 1 0 2.4 0a1.2 1.2 0 1 0 -2.4 0M586.2 94.1a1.2 1.2 0 1 0 2.4 0a1.2 1.2 0 1 0 -2.4 0M582.7 112.3a1.2 1.2 0 1 0 2.4 0a1.2 1.2 0 1 0 -2.4 0M610.4 81.2a1.2 1.2 0 1 0 2.4 0a1.2 1.2 0 1 0 -2.4 0M584.2 108.7a1.2 1.2 0 1 0 2.4 0a1.2 1.2 0 1 0 -2.4 0M584.9 94.2a1.2 1.2 0 1 0 2.4 0a1.2 1.2 0 1 0 -2.4 0M607.0 89.5a1.2 1.2 0 1 0 2.4 0a1.2 1.2 0 1 0 -2.4 0M613.1 89.5a1.2 1.2 0 1 0 2.4 0a1.2 1.2 0 1 0 -2.4 0M608.5 91.7a1.2 1.2 0 1 0 2.4 0a1.2 1.2 0 1 0 -2.4 0M596.1 77.8a1.2 1.2 0 1 0 2.4 0a1.2 1.2 0 1 0 -2.4 0M590.7 84.4a1.2 1.2 0 1 0 2.4 0a1.2 1.2 0 1 0 -2.4 0M613.9 84.6a1.2 1.2 0 1 0 2.4 0a1.2 1.2 0 1 0 -2.4 0M604.4 86.2a1.2 1.2 0 1 0 2.4 0a1.2 1.2 0 1 0 -2.4 0M600.3 84.5a1.2 1.2 0 1 0 2.4 0a1.2 1.2 0 1 0 -2.4 0M576.9 34.6a1.2 1.2 0 1 0 2.4 0a1.2 1.2 0 1 0 -2.4 0M583.9 92.9a1.2 1.2 0 1 0 2.4 0a1.2 1.2 0 1 0 -2.4 0M577.0 147.2a1.2 1.2 0 1 0 2.4 0a1.2 1.2 0 1 0 -2.4 0M610.8 88.1a1.2 1.2 0 1 0 2.4 0a1.2 1.2 0 1 0 -2.4 0M585.5 107.2a1.2 1.2 0 1 0 2.4 0a1.2 1.2 0 1 0 -2.4 0M583.0 100.4a1.2 1.2 0 1 0 2.4 0a1.2 1.2 0 1 0 -2.4 0M598.6 64.2a1.2 1.2 0 1 0 2.4 0a1.2 1.2 0 1 0 -2.4 0M584.2 73.8a1.2 1.2 0 1 0 2.4 0a1.2 1.2 0 1 0 -2.4 0M597.2 121.3a1.2 1.2 0 1 0 2.4 0a1.2 1.2 0 1 0 -2.4 0M612.5 76.6a1.2 1.2 0 1 0 2.4 0a1.2 1.2 0 1 0 -2.4 0M609.2 75.2a1.2 1.2 0 1 0 2.4 0a1.2 1.2 0 1 0 -2.4 0M585.8 96.7a1.2 1.2 0 1 0 2.4 0a1.2 1.2 0 1 0 -2.4 0M611.2 48.6a1.2 1.2 0 1 0 2.4 0a1.2 1.2 0 1 0 -2.4 0M591.6 110.6a1.2 1.2 0 1 0 2.4 0a1.2 1.2 0 1 0 -2.4 0M596.3 79.4a1.2 1.2 0 1 0 2.4 0a1.2 1.2 0 1 0 -2.4 0M588.8 120.0a1.2 1.2 0 1 0 2.4 0a1.2 1.2 0 1 0 -2.4 0M614.4 78.3a1.2 1.2 0 1 0 2.4 0a1.2 1.2 0 1 0 -2.4 0M588.1 95.1a1.2 1.2 0 1 0 2.4 0a1.2 1.2 0 1 0 -2.4 0M604.4 58.3a1.2 1.2 0 1 0 2.4 0a1.2 1.2 0 1 0 -2.4 0M600.0 99.1a1.2 1.2 0 1 0 2.4 0a1.2 1.2 0 1 0 -2.4 0M602.6 96.4a1.2 1.2 0 1 0 2.4 0a1.2 1.2 0 1 0 -2.4 0M580.4 98.1a1.2 1.2 0 1 0 2.4 0a1.2 1.2 0 1 0 -2.4 0M596.8 101.1a1.2 1.2 0 1 0 2.4 0a1.2 1.2 0 1 0 -2.4 0M652.1 35.6a1.2 1.2 0 1 0 2.4 0a1.2 1.2 0 1 0 -2.4 0M635.7 52.3a1.2 1.2 0 1 0 2.4 0a1.2 1.2 0 1 0 -2.4 0M621.8 83.7a1.2 1.2 0 1 0 2.4 0a1.2 1.2 0 1 0 -2.4 0M616.4 61.7a1.2 1.2 0 1 0 2.4 0a1.2 1.2 0 1 0 -2.4 0M626.9 67.4a1.2 1.2 0 1 0 2.4 0a1.2 1.2 0 1 0 -2.4 0M642.6 39.6a1.2 1.2 0 1 0 2.4 0a1.2 1.2 0 1 0 -2.4 0M615.3 96.0a1.2 1.2 0 1 0 2.4 0a1.2 1.2 0 1 0 -2.4 0M616.2 56.8a1.2 1.2 0 1 0 2.4 0a1.2 1.2 0 1 0 -2.4 0M639.2 59.0a1.2 1.2 0 1 0 2.4 0a1.2 1.2 0 1 0 -2.4 0M647.7 32.9a1.2 1.2 0 1 0 2.4 0a1.2 1.2 0 1 0 -2.4 0M631.0 73.4a1.2 1.2 0 1 0 2.4 0a1.2 1.2 0 1 0 -2.4 0M638.0 34.3a1.2 1.2 0 1 0 2.4 0a1.2 1.2 0 1 0 -2.4 0M624.1 74.0a1.2 1.2 0 1 0 2.4 0a1.2 1.2 0 1 0 -2.4 0M624.7 68.1a1.2 1.2 0 1 0 2.4 0a1.2 1.2 0 1 0 -2.4 0M632.3 43.9a1.2 1.2 0 1 0 2.4 0a1.2 1.2 0 1 0 -2.4 0M622.7 67.7a1.2 1.2 0 1 0 2.4 0a1.2 1.2 0 1 0 -2.4 0M631.5 32.8a1.2 1.2 0 1 0 2.4 0a1.2 1.2 0 1 0 -2.4 0M620.0 66.1a1.2 1.2 0 1 0 2.4 0a1.2 1.2 0 1 0 -2.4 0M649.3 51.5a1.2 1.2 0 1 0 2.4 0a1.2 1.2 0 1 0 -2.4 0M638.9 68.0a1.2 1.2 0 1 0 2.4 0a1.2 1.2 0 1 0 -2.4 0M617.9 33.3a1.2 1.2 0 1 0 2.4 0a1.2 1.2 0 1 0 -2.4 0M621.7 74.7a1.2 1.2 0 1 0 2.4 0a1.2 1.2 0 1 0 -2.4 0M645.8 48.1a1.2 1.2 0 1 0 2.4 0a1.2 1.2 0 1 0 -2.4 0M628.5 57.3a1.2 1.2 0 1 0 2.4 0a1.2 1.2 0 1 0 -2.4 0M624.2 38.4a1.2 1.2 0 1 0 2.4 0a1.2 1.2 0 1 0 -2.4 0M615.2 93.9a1.2 1.2 0 1 0 2.4 0a1.2 1.2 0 1 0 -2.4 0M639.9 73.3a1.2 1.2 0 1 0 2.4 0a1.2 1.2 0 1 0 -2.4 0M636.0 34.6a1.2 1.2 0 1 0 2.4 0a1.2 1.2 0 1 0 -2.4 0M646.2 55.6a1.2 1.2 0 1 0 2.4 0a1.2 1.2 0 1 0 -2.4 0M620.8 64.8a1.2 1.2 0 1 0 2.4 0a1.2 1.2 0 1 0 -2.4 0M642.8 42.6a1.2 1.2 0 1 0 2.4 0a1.2 1.2 0 1 0 -2.4 0M645.7 32.1a1.2 1.2 0 1 0 2.4 0a1.2 1.2 0 1 0 -2.4 0M645.6 41.8a1.2 1.2 0 1 0 2.4 0a1.2 1.2 0 1 0 -2.4 0M642.6 62.6a1.2 1.2 0 1 0 2.4 0a1.2 1.2 0 1 0 -2.4 0M631.1 65.3a1.2 1.2 0 1 0 2.4 0a1.2 1.2 0 1 0 -2.4 0M616.2 65.7a1.2 1.2 0 1 0 2.4 0a1.2 1.2 0 1 0 -2.4 0M638.8 35.7a1.2 1.2 0 1 0 2.4 0a1.2 1.2 0 1 0 -2.4 0M615.3 78.1a1.2 1.2 0 1 0 2.4 0a1.2 1.2 0 1 0 -2.4 0M617.6 87.7a1.2 1.2 0 1 0 2.4 0a1.2 1.2 0 1 0 -2.4 0M629.8 37.9a1.2 1.2 0 1 0 2.4 0a1.2 1.2 0 1 0 -2.4 0M618.9 60.2a1.2 1.2 0 1 0 2.4 0a1.2 1.2 0 1 0 -2.4 0M631.5 47.5a1.2 1.2 0 1 0 2.4 0a1.2 1.2 0 1 0 -2.4 0M646.6 43.8a1.2 1.2 0 1 0 2.4 0a1.2 1.2 0 1 0 -2.4 0M621.0 78.2a1.2 1.2 0 1 0 2.4 0a1.2 1.2 0 1 0 -2.4 0M644.6 34.2a1.2 1.2 0 1 0 2.4 0a1.2 1.2 0 1 0 -2.4 0M652.1 47.7a1.2 1.2 0 1 0 2.4 0a1.2 1.2 0 1 0 -2.4 0M615.8 65.2a1.2 1.2 0 1 0 2.4 0a1.2 1.2 0 1 0 -2.4 0M630.4 55.6a1.2 1.2 0 1 0 2.4 0a1.2 1.2 0 1 0 -2.4 0M641.1 47.9a1.2 1.2 0 1 0 2.4 0a1.2 1.2 0 1 0 -2.4 0M642.1 35.5a1.2 1.2 0 1 0 2.4 0a1.2 1.2 0 1 0 -2.4 0M625.0 63.6a1.2 1.2 0 1 0 2.4 0a1.2 1.2 0 1 0 -2.4 0M645.0 34.9a1.2 1.2 0 1 0 2.4 0a1.2 1.2 0 1 0 -2.4 0M628.4 73.0a1.2 1.2 0 1 0 2.4 0a1.2 1.2 0 1 0 -2.4 0M622.0 39.4a1.2 1.2 0 1 0 2.4 0a1.2 1.2 0 1 0 -2.4 0M634.0 61.7a1.2 1.2 0 1 0 2.4 0a1.2 1.2 0 1 0 -2.4 0M637.5 60.7a1.2 1.2 0 1 0 2.4 0a1.2 1.2 0 1 0 -2.4 0M646.1 50.0a1.2 1.2 0 1 0 2.4 0a1.2 1.2 0 1 0 -2.4 0M639.5 40.0a1.2 1.2 0 1 0 2.4 0a1.2 1.2 0 1 0 -2.4 0M617.5 84.9a1.2 1.2 0 1 0 2.4 0a1.2 1.2 0 1 0 -2.4 0M636.1 50.1a1.2 1.2 0 1 0 2.4 0a1.2 1.2 0 1 0 -2.4 0M627.4 37.7a1.2 1.2 0 1 0 2.4 0a1.2 1.2 0 1 0 -2.4 0M641.1 48.7a1.2 1.2 0 1 0 2.4 0a1.2 1.2 0 1 0 -2.4 0M616.1 84.5a1.2 1.2 0 1 0 2.4 0a1.2 1.2 0 1 0 -2.4 0M639.2 59.3a1.2 1.2 0 1 0 2.4 0a1.2 1.2 0 1 0 -2.4 0M644.3 46.4a1.2 1.2 0 1 0 2.4 0a1.2 1.2 0 1 0 -2.4 0M615.9 67.1a1.2 1.2 0 1 0 2.4 0a1.2 1.2 0 1 0 -2.4 0M614.9 91.5a1.2 1.2 0 1 0 2.4 0a1.2 1.2 0 1 0 -2.4 0M648.1 45.5a1.2 1.2 0 1 0 2.4 0a1.2 1.2 0 1 0 -2.4 0M648.3 59.5a1.2 1.2 0 1 0 2.4 0a1.2 1.2 0 1 0 -2.4 0M621.0 74.1a1.2 1.2 0 1 0 2.4 0a1.2 1.2 0 1 0 -2.4 0M649.3 37.8a1.2 1.2 0 1 0 2.4 0a1.2 1.2 0 1 0 -2.4 0M629.8 93.1a1.2 1.2 0 1 0 2.4 0a1.2 1.2 0 1 0 -2.4 0M634.0 52.4a1.2 1.2 0 1 0 2.4 0a1.2 1.2 0 1 0 -2.4 0M632.2 43.9a1.2 1.2 0 1 0 2.4 0a1.2 1.2 0 1 0 -2.4 0M627.0 65.1a1.2 1.2 0 1 0 2.4 0a1.2 1.2 0 1 0 -2.4 0M647.8 57.6a1.2 1.2 0 1 0 2.4 0a1.2 1.2 0 1 0 -2.4 0M637.5 50.9a1.2 1.2 0 1 0 2.4 0a1.2 1.2 0 1 0 -2.4 0M649.7 33.6a1.2 1.2 0 1 0 2.4 0a1.2 1.2 0 1 0 -2.4 0M637.9 41.4a1.2 1.2 0 1 0 2.4 0a1.2 1.2 0 1 0 -2.4 0M649.4 50.4a1.2 1.2 0 1 0 2.4 0a1.2 1.2 0 1 0 -2.4 0M633.9 45.7a1.2 1.2 0 1 0 2.4 0a1.2 1.2 0 1 0 -2.4 0M632.3 40.1a1.2 1.2 0 1 0 2.4 0a1.2 1.2 0 1 0 -2.4 0M636.0 45.6a1.2 1.2 0 1 0 2.4 0a1.2 1.2 0 1 0 -2.4 0M614.6 70.5a1.2 1.2 0 1 0 2.4 0a1.2 1.2 0 1 0 -2.4 0M643.4 44.8a1.2 1.2 0 1 0 2.4 0a1.2 1.2 0 1 0 -2.4 0M619.6 73.7a1.2 1.2 0 1 0 2.4 0a1.2 1.2 0 1 0 -2.4 0M650.1 46.1a1.2 1.2 0 1 0 2.4 0a1.2 1.2 0 1 0 -2.4 0M616.0 71.8a1.2 1.2 0 1 0 2.4 0a1.2 1.2 0 1 0 -2.4 0M641.2 42.7a1.2 1.2 0 1 0 2.4 0a1.2 1.2 0 1 0 -2.4 0M643.5 34.1a1.2 1.2 0 1 0 2.4 0a1.2 1.2 0 1 0 -2.4 0M634.9 52.8a1.2 1.2 0 1 0 2.4 0a1.2 1.2 0 1 0 -2.4 0M618.0 81.5a1.2 1.2 0 1 0 2.4 0a1.2 1.2 0 1 0 -2.4 0M645.1 34.4a1.2 1.2 0 1 0 2.4 0a1.2 1.2 0 1 0 -2.4 0M626.5 63.8a1.2 1.2 0 1 0 2.4 0a1.2 1.2 0 1 0 -2.4 0M625.3 72.6a1.2 1.2 0 1 0 2.4 0a1.2 1.2 0 1 0 -2.4 0M640.6 58.6a1.2 1.2 0 1 0 2.4 0a1.2 1.2 0 1 0 -2.4 0M676.1 30.9a1.2 1.2 0 1 0 2.4 0a1.2 1.2 0 1 0 -2.4 0M654.6 38.8a1.2 1.2 0 1 0 2.4 0a1.2 1.2 0 1 0 -2.4 0M663.0 34.2a1.2 1.2 0 1 0 2.4 0a1.2 1.2 0 1 0 -2.4 0M668.8 34.4a1.2 1.2 0 1 0 2.4 0a1.2 1.2 0 1 0 -2.4 0M659.0 52.5a1.2 1.2 0 1 0 2.4 0a1.2 1.2 0 1 0 -2.4 0M675.0 39.3a1.2 1.2 0 1 0 2.4 0a1.2 1.2 0 1 0 -2.4 0M667.1 55.3a1.2 1.2 0 1 0 2.4 0a1.2 1.2 0 1 0 -2.4 0M654.1 41.0a1.2 1.2 0 1 0 2.4 0a1.2 1.2 0 1 0 -2.4 0M656.0 41.7a1.2 1.2 0 1 0 2.4 0a1.2 1.2 0 1 0 -2.4 0M655.7 55.2a1.2 1.2 0 1 0 2.4 0a1.2 1.2 0 1 0 -2.4 0M663.4 37.3a1.2 1.2 0 1 0 2.4 0a1.2 1.2 0 1 0 -2.4 0M674.6 34.9a1.2 1.2 0 1 0 2.4 0a1.2 1.2 0 1 0 -2.4 0M655.0 51.2a1.2 1.2 0 1 0 2.4 0a1.2 1.2 0 1 0 -2.4 0M655.9 58.9a1.2 1.2 0 1 0 2.4 0a1.2 1.2 0 1 0 -2.4 0M657.4 33.9a1.2 1.2 0 1 0 2.4 0a1.2 1.2 0 1 0 -2.4 0M666.3 32.9a1.2 1.2 0 1 0 2.4 0a1.2 1.2 0 1 0 -2.4 0M662.8 54.6a1.2 1.2 0 1 0 2.4 0a1.2 1.2 0 1 0 -2.4 0M662.5 46.0a1.2 1.2 0 1 0 2.4 0a1.2 1.2 0 1 0 -2.4 0M655.8 50.5a1.2 1.2 0 1 0 2.4 0a1.2 1.2 0 1 0 -2.4 0M672.5 36.2a1.2 1.2 0 1 0 2.4 0a1.2 1.2 0 1 0 -2.4 0M664.0 47.2a1.2 1.2 0 1 0 2.4 0a1.2 1.2 0 1 0 -2.4 0M673.5 34.6a1.2 1.2 0 1 0 2.4 0a1.2 1.2 0 1 0 -2.4 0M653.0 53.0a1.2 1.2 0 1 0 2.4 0a1.2 1.2 0 1 0 -2.4 0M663.5 38.3a1.2 1.2 0 1 0 2.4 0a1.2 1.2 0 1 0 -2.4 0M661.3 56.2a1.2 1.2 0 1 0 2.4 0a1.2 1.2 0 1 0 -2.4 0M672.9 42.1a1.2 1.2 0 1 0 2.4 0a1.2 1.2 0 1 0 -2.4 0M669.3 48.4a1.2 1.2 0 1 0 2.4 0a1.2 1.2 0 1 0 -2.4 0M665.0 34.0a1.2 1.2 0 1 0 2.4 0a1.2 1.2 0 1 0 -2.4 0M656.2 51.1a1.2 1.2 0 1 0 2.4 0a1.2 1.2 0 1 0 -2.4 0M669.0 34.1a1.2 1.2 0 1 0 2.4 0a1.2 1.2 0 1 0 -2.4 0M674.3 33.4a1.2 1.2 0 1 0 2.4 0a1.2 1.2 0 1 0 -2.4 0M671.3 35.3a1.2 1.2 0 1 0 2.4 0a1.2 1.2 0 1 0 -2.4 0M676.0 36.4a1.2 1.2 0 1 0 2.4 0a1.2 1.2 0 1 0 -2.4 0M666.8 33.1a1.2 1.2 0 1 0 2.4 0a1.2 1.2 0 1 0 -2.4 0M659.9 55.7a1.2 1.2 0 1 0 2.4 0a1.2 1.2 0 1 0 -2.4 0M657.7 45.3a1.2 1.2 0 1 0 2.4 0a1.2 1.2 0 1 0 -2.4 0M671.9 32.9a1.2 1.2 0 1 0 2.4 0a1.2 1.2 0 1 0 -2.4 0M672.2 34.9a1.2 1.2 0 1 0 2.4 0a1.2 1.2 0 1 0 -2.4 0M667.8 52.9a1.2 1.2 0 1 0 2.4 0a1.2 1.2 0 1 0 -2.4 0M671.5 34.7a1.2 1.2 0 1 0 2.4 0a1.2 1.2 0 1 0 -2.4 0M664.2 35.0a1.2 1.2 0 1 0 2.4 0a1.2 1.2 0 1 0 -2.4 0M673.2 33.8a1.2 1.2 0 1 0 2.4 0a1.2 1.2 0 1 0 -2.4 0M669.3 35.3a1.2 1.2 0 1 0 2.4 0a1.2 1.2 0 1 0 -2.4 0M658.2 36.7a1.2 1.2 0 1 0 2.4 0a1.2 1.2 0 1 0 -2.4 0M666.7 47.8a1.2 1.2 0 1 0 2.4 0a1.2 1.2 0 1 0 -2.4 0M668.4 33.8a1.2 1.2 0 1 0 2.4 0a1.2 1.2 0 1 0 -2.4 0M657.2 43.8a1.2 1.2 0 1 0 2.4 0a1.2 1.2 0 1 0 -2.4 0M675.2 34.1a1.2 1.2 0 1 0 2.4 0a1.2 1.2 0 1 0 -2.4 0M672.0 37.0a1.2 1.2 0 1 0 2.4 0a1.2 1.2 0 1 0 -2.4 0M655.8 47.9a1.2 1.2 0 1 0 2.4 0a1.2 1.2 0 1 0 -2.4 0M657.6 59.7a1.2 1.2 0 1 0 2.4 0a1.2 1.2 0 1 0 -2.4 0M652.3 38.4a1.2 1.2 0 1 0 2.4 0a1.2 1.2 0 1 0 -2.4 0M675.3 41.8a1.2 1.2 0 1 0 2.4 0a1.2 1.2 0 1 0 -2.4 0M656.5 48.7a1.2 1.2 0 1 0 2.4 0a1.2 1.2 0 1 0 -2.4 0M672.7 46.1a1.2 1.2 0 1 0 2.4 0a1.2 1.2 0 1 0 -2.4 0M664.8 41.0a1.2 1.2 0 1 0 2.4 0a1.2 1.2 0 1 0 -2.4 0M653.6 41.9a1.2 1.2 0 1 0 2.4 0a1.2 1.2 0 1 0 -2.4 0M657.4 35.7a1.2 1.2 0 1 0 2.4 0a1.2 1.2 0 1 0 -2.4 0M658.6 32.3a1.2 1.2 0 1 0 2.4 0a1.2 1.2 0 1 0 -2.4 0M671.0 35.4a1.2 1.2 0 1 0 2.4 0a1.2 1.2 0 1 0 -2.4 0" fill="none" stroke="#4a4a4a" stroke-width="0.6"/>
<line x1="380.2" y1="304.3" x2="680.6" y2="17.5" stroke="#333333" stroke-width="0.95"/>
<line x1="380.5" y1="311.5" x2="680.5" y2="12" stroke="#888" stroke-width="0.8" stroke-dasharray="0.8 1.6"/>
<path d="M389.5 245.3a1.2 1.2 0 1 0 2.4 0a1.2 1.2 0 1 0 -2.4 0M387.9 246.2a1.2 1.2 0 1 0 2.4 0a1.2 1.2 0 1 0 -2.4 0M383.5 294.8a1.2 1.2 0 1 0 2.4 0a1.2 1.2 0 1 0 -2.4 0M393.2 304.5a1.2 1.2 0 1 0 2.4 0a1.2 1.2 0 1 0 -2.4 0M391.7 221.9a1.2 1.2 0 1 0 2.4 0a1.2 1.2 0 1 0 -2.4 0M390.9 234.3a1.2 1.2 0 1 0 2.4 0a1.2 1.2 0 1 0 -2.4 0M389.7 276.6a1.2 1.2 0 1 0 2.4 0a1.2 1.2 0 1 0 -2.4 0M387.8 285.4a1.2 1.2 0 1 0 2.4 0a1.2 1.2 0 1 0 -2.4 0M391.3 290.7a1.2 1.2 0 1 0 2.4 0a1.2 1.2 0 1 0 -2.4 0M388.4 252.7a1.2 1.2 0 1 0 2.4 0a1.2 1.2 0 1 0 -2.4 0M387.3 241.8a1.2 1.2 0 1 0 2.4 0a1.2 1.2 0 1 0 -2.4 0M390.1 272.8a1.2 1.2 0 1 0 2.4 0a1.2 1.2 0 1 0 -2.4 0M388.9 262.8a1.2 1.2 0 1 0 2.4 0a1.2 1.2 0 1 0 -2.4 0M390.3 275.4a1.2 1.2 0 1 0 2.4 0a1.2 1.2 0 1 0 -2.4 0M387.7 296.7a1.2 1.2 0 1 0 2.4 0a1.2 1.2 0 1 0 -2.4 0M389.4 303.1a1.2 1.2 0 1 0 2.4 0a1.2 1.2 0 1 0 -2.4 0M387.1 253.1a1.2 1.2 0 1 0 2.4 0a1.2 1.2 0 1 0 -2.4 0M391.0 260.0a1.2 1.2 0 1 0 2.4 0a1.2 1.2 0 1 0 -2.4 0M389.5 248.7a1.2 1.2 0 1 0 2.4 0a1.2 1.2 0 1 0 -2.4 0M389.8 303.2a1.2 1.2 0 1 0 2.4 0a1.2 1.2 0 1 0 -2.4 0M390.0 302.9a1.2 1.2 0 1 0 2.4 0a1.2 1.2 0 1 0 -2.4 0M409.1 289.8a1.2 1.2 0 1 0 2.4 0a1.2 1.2 0 1 0 -2.4 0M440.1 259.9a1.2 1.2 0 1 0 2.4 0a1.2 1.2 0 1 0 -2.4 0M416.9 226.5a1.2 1.2 0 1 0 2.4 0a1.2 1.2 0 1 0 -2.4 0M428.3 275.9a1.2 1.2 0 1 0 2.4 0a1.2 1.2 0 1 0 -2.4 0M398.4 306.0a1.2 1.2 0 1 0 2.4 0a1.2 1.2 0 1 0 -2.4 0M398.2 229.5a1.2 1.2 0 1 0 2.4 0a1.2 1.2 0 1 0 -2.4 0M403.2 308.8a1.2 1.2 0 1 0 2.4 0a1.2 1.2 0 1 0 -2.4 0M438.1 187.7a1.2 1.2 0 1 0 2.4 0a1.2 1.2 0 1 0 -2.4 0M427.6 243.5a1.2 1.2 0 1 0 2.4 0a1.2 1.2 0 1 0 -2.4 0M436.3 259.3a1.2 1.2 0 1 0 2.4 0a1.2 1.2 0 1 0 -2.4 0M425.8 261.4a1.2 1.2 0 1 0 2.4 0a1.2 1.2 0 1 0 -2.4 0M413.7 254.1a1.2 1.2 0 1 0 2.4 0a1.2 1.2 0 1 0 -2.4 0M419.3 257.5a1.2 1.2 0 1 0 2.4 0a1.2 1.2 0 1 0 -2.4 0M423.2 242.6a1.2 1.2 0 1 0 2.4 0a1.2 1.2 0 1 0 -2.4 0M436.9 214.8a1.2 1.2 0 1 0 2.4 0a1.2 1.2 0 1 0 -2.4 0M415.3 274.3a1.2 1.2 0 1 0 2.4 0a1.2 1.2 0 1 0 -2.4 0M438.5 232.1a1.2 1.2 0 1 0 2.4 0a1.2 1.2 0 1 0 -2.4 0M424.2 233.7a1.2 1.2 0 1 0 2.4 0a1.2 1.2 0 1 0 -2.4 0M435.3 260.7a1.2 1.2 0 1 0 2.4 0a1.2 1.2 0 1 0 -2.4 0M418.3 223.8a1.2 1.2 0 1 0 2.4 0a1.2 1.2 0 1 0 -2.4 0M428.3 246.0a1.2 1.2 0 1 0 2.4 0a1.2 1.2 0 1 0 -2.4 0M410.2 265.8a1.2 1.2 0 1 0 2.4 0a1.2 1.2 0 1 0 -2.4 0M419.6 263.1a1.2 1.2 0 1 0 2.4 0a1.2 1.2 0 1 0 -2.4 0M403.9 298.0a1.2 1.2 0 1 0 2.4 0a1.2 1.2 0 1 0 -2.4 0M398.0 301.1a1.2 1.2 0 1 0 2.4 0a1.2 1.2 0 1 0 -2.4 0M394.9 303.3a1.2 1.2 0 1 0 2.4 0a1.2 1.2 0 1 0 -2.4 0M428.8 278.4a1.2 1.2 0 1 0 2.4 0a1.2 1.2 0 1 0 -2.4 0M416.2 260.3a1.2 1.2 0 1 0 2.4 0a1.2 1.2 0 1 0 -2.4 0M438.8 244.8a1.2 1.2 0 1 0 2.4 0a1.2 1.2 0 1 0 -2.4 0M435.6 255.2a1.2 1.2 0 1 0 2.4 0a1.2 1.2 0 1 0 -2.4 0M442.6 227.2a1.2 1.2 0 1 0 2.4 0a1.2 1.2 0 1 0 -2.4 0M423.1 290.1a1.2 1.2 0 1 0 2.4 0a1.2 1.2 0 1 0 -2.4 0M432.0 246.7a1.2 1.2 0 1 0 2.4 0a1.2 1.2 0 1 0 -2.4 0M413.7 259.7a1.2 1.2 0 1 0 2.4 0a1.2 1.2 0 1 0 -2.4 0M402.9 268.0a1.2 1.2 0 1 0 2.4 0a1.2 1.2 0 1 0 -2.4 0M401.7 272.8a1.2 1.2 0 1 0 2.4 0a1.2 1.2 0 1 0 -2.4 0M402.1 280.6a1.2 1.2 0 1 0 2.4 0a1.2 1.2 0 1 0 -2.4 0M423.7 274.1a1.2 1.2 0 1 0 2.4 0a1.2 1.2 0 1 0 -2.4 0M398.6 276.4a1.2 1.2 0 1 0 2.4 0a1.2 1.2 0 1 0 -2.4 0M393.9 156.1a1.2 1.2 0 1 0 2.4 0a1.2 1.2 0 1 0 -2.4 0M435.5 192.1a1.2 1.2 0 1 0 2.4 0a1.2 1.2 0 1 0 -2.4 0M398.0 263.8a1.2 1.2 0 1 0 2.4 0a1.2 1.2 0 1 0 -2.4 0M461.0 237.0a1.2 1.2 0 1 0 2.4 0a1.2 1.2 0 1 0 -2.4 0M462.5 273.5a1.2 1.2 0 1 0 2.4 0a1.2 1.2 0 1 0 -2.4 0M467.5 186.2a1.2 1.2 0 1 0 2.4 0a1.2 1.2 0 1 0 -2.4 0M463.1 190.2a1.2 1.2 0 1 0 2.4 0a1.2 1.2 0 1 0 -2.4 0M479.5 200.7a1.2 1.2 0 1 0 2.4 0a1.2 1.2 0 1 0 -2.4 0M472.4 228.7a1.2 1.2 0 1 0 2.4 0a1.2 1.2 0 1 0 -2.4 0M465.7 226.8a1.2 1.2 0 1 0 2.4 0a1.2 1.2 0 1 0 -2.4 0M467.4 257.1a1.2 1.2 0 1 0 2.4 0a1.2 1.2 0 1 0 -2.4 0M463.2 245.6a1.2 1.2 0 1 0 2.4 0a1.2 1.2 0 1 0 -2.4 0M480.5 219.3a1.2 1.2 0 1 0 2.4 0a1.2 1.2 0 1 0 -2.4 0M452.6 215.5a1.2 1.2 0 1 0 2.4 0a1.2 1.2 0 1 0 -2.4 0M470.1 228.2a1.2 1.2 0 1 0 2.4 0a1.2 1.2 0 1 0 -2.4 0M465.0 203.7a1.2 1.2 0 1 0 2.4 0a1.2 1.2 0 1 0 -2.4 0M445.6 235.7a1.2 1.2 0 1 0 2.4 0a1.2 1.2 0 1 0 -2.4 0M455.2 217.8a1.2 1.2 0 1 0 2.4 0a1.2 1.2 0 1 0 -2.4 0M479.1 174.4a1.2 1.2 0 1 0 2.4 0a1.2 1.2 0 1 0 -2.4 0M473.7 196.0a1.2 1.2 0 1 0 2.4 0a1.2 1.2 0 1 0 -2.4 0M444.5 229.6a1.2 1.2 0 1 0 2.4 0a1.2 1.2 0 1 0 -2.4 0M455.2 234.8a1.2 1.2 0 1 0 2.4 0a1.2 1.2 0 1 0 -2.4 0M444.4 226.2a1.2 1.2 0 1 0 2.4 0a1.2 1.2 0 1 0 -2.4 0M475.3 218.9a1.2 1.2 0 1 0 2.4 0a1.2 1.2 0 1 0 -2.4 0M448.2 230.6a1.2 1.2 0 1 0 2.4 0a1.2 1.2 0 1 0 -2.4 0M446.2 258.5a1.2 1.2 0 1 0 2.4 0a1.2 1.2 0 1 0 -2.4 0M481.2 226.3a1.2 1.2 0 1 0 2.4 0a1.2 1.2 0 1 0 -2.4 0M460.9 234.0a1.2 1.2 0 1 0 2.4 0a1.2 1.2 0 1 0 -2.4 0M456.0 207.6a1.2 1.2 0 1 0 2.4 0a1.2 1.2 0 1 0 -2.4 0M445.8 217.9a1.2 1.2 0 1 0 2.4 0a1.2 1.2 0 1 0 -2.4 0M458.7 220.4a1.2 1.2 0 1 0 2.4 0a1.2 1.2 0 1 0 -2.4 0M457.8 224.7a1.2 1.2 0 1 0 2.4 0a1.2 1.2 0 1 0 -2.4 0M463.8 212.2a1.2 1.2 0 1 0 2.4 0a1.2 1.2 0 1 0 -2.4 0M444.2 229.8a1.2 1.2 0 1 0 2.4 0a1.2 1.2 0 1 0 -2.4 0M449.6 214.3a1.2 1.2 0 1 0 2.4 0a1.2 1.2 0 1 0 -2.4 0M451.9 190.4a1.2 1.2 0 1 0 2.4 0a1.2 1.2 0 1 0 -2.4 0M460.7 215.2a1.2 1.2 0 1 0 2.4 0a1.2 1.2 0 1 0 -2.4 0M455.4 207.4a1.2 1.2 0 1 0 2.4 0a1.2 1.2 0 1 0 -2.4 0M467.2 201.2a1.2 1.2 0 1 0 2.4 0a1.2 1.2 0 1 0 -2.4 0M454.8 244.5a1.2 1.2 0 1 0 2.4 0a1.2 1.2 0 1 0 -2.4 0M478.4 230.2a1.2 1.2 0 1 0 2.4 0a1.2 1.2 0 1 0 -2.4 0M480.4 212.3a1.2 1.2 0 1 0 2.4 0a1.2 1.2 0 1 0 -2.4 0M446.2 225.8a1.2 1.2 0 1 0 2.4 0a1.2 1.2 0 1 0 -2.4 0M451.9 215.9a1.2 1.2 0 1 0 2.4 0a1.2 1.2 0 1 0 -2.4 0M465.3 225.9a1.2 1.2 0 1 0 2.4 0a1.2 1.2 0 1 0 -2.4 0M473.2 231.7a1.2 1.2 0 1 0 2.4 0a1.2 1.2 0 1 0 -2.4 0M446.4 255.1a1.2 1.2 0 1 0 2.4 0a1.2 1.2 0 1 0 -2.4 0M451.0 229.7a1.2 1.2 0 1 0 2.4 0a1.2 1.2 0 1 0 -2.4 0M461.3 231.8a1.2 1.2 0 1 0 2.4 0a1.2 1.2 0 1 0 -2.4 0M469.3 185.0a1.2 1.2 0 1 0 2.4 0a1.2 1.2 0 1 0 -2.4 0M478.2 220.2a1.2 1.2 0 1 0 2.4 0a1.2 1.2 0 1 0 -2.4 0M476.8 199.7a1.2 1.2 0 1 0 2.4 0a1.2 1.2 0 1 0 -2.4 0M474.0 179.1a1.2 1.2 0 1 0 2.4 0a1.2 1.2 0 1 0 -2.4 0M446.0 204.8a1.2 1.2 0 1 0 2.4 0a1.2 1.2 0 1 0 -2.4 0M481.0 227.4a1.2 1.2 0 1 0 2.4 0a1.2 1.2 0 1 0 -2.4 0M467.3 238.9a1.2 1.2 0 1 0 2.4 0a1.2 1.2 0 1 0 -2.4 0M447.3 261.4a1.2 1.2 0 1 0 2.4 0a1.2 1.2 0 1 0 -2.4 0M453.6 222.2a1.2 1.2 0 1 0 2.4 0a1.2 1.2 0 1 0 -2.4 0M467.5 224.9a1.2 1.2 0 1 0 2.4 0a1.2 1.2 0 1 0 -2.4 0M458.6 222.6a1.2 1.2 0 1 0 2.4 0a1.2 1.2 0 1 0 -2.4 0M460.9 248.4a1.2 1.2 0 1 0 2.4 0a1.2 1.2 0 1 0 -2.4 0M474.5 221.9a1.2 1.2 0 1 0 2.4 0a1.2 1.2 0 1 0 -2.4 0M475.2 194.3a1.2 1.2 0 1 0 2.4 0a1.2 1.2 0 1 0 -2.4 0M464.7 243.2a1.2 1.2 0 1 0 2.4 0a1.2 1.2 0 1 0 -2.4 0M474.0 230.0a1.2 1.2 0 1 0 2.4 0a1.2 1.2 0 1 0 -2.4 0M520.3 151.5a1.2 1.2 0 1 0 2.4 0a1.2 1.2 0 1 0 -2.4 0M574.1 116.6a1.2 1.2 0 1 0 2.4 0a1.2 1.2 0 1 0 -2.4 0M539.1 153.5a1.2 1.2 0 1 0 2.4 0a1.2 1.2 0 1 0 -2.4 0M573.4 130.7a1.2 1.2 0 1 0 2.4 0a1.2 1.2 0 1 0 -2.4 0M486.0 174.5a1.2 1.2 0 1 0 2.4 0a1.2 1.2 0 1 0 -2.4 0M565.4 102.3a1.2 1.2 0 1 0 2.4 0a1.2 1.2 0 1 0 -2.4 0M534.8 129.4a1.2 1.2 0 1 0 2.4 0a1.2 1.2 0 1 0 -2.4 0M549.4 138.4a1.2 1.2 0 1 0 2.4 0a1.2 1.2 0 1 0 -2.4 0M500.1 182.8a1.2 1.2 0 1 0 2.4 0a1.2 1.2 0 1 0 -2.4 0M533.8 167.3a1.2 1.2 0 1 0 2.4 0a1.2 1.2 0 1 0 -2.4 0M509.2 196.8a1.2 1.2 0 1 0 2.4 0a1.2 1.2 0 1 0 -2.4 0M491.8 203.4a1.2 1.2 0 1 0 2.4 0a1.2 1.2 0 1 0 -2.4 0M482.2 225.8a1.2 1.2 0 1 0 2.4 0a1.2 1.2 0 1 0 -2.4 0M567.7 126.6a1.2 1.2 0 1 0 2.4 0a1.2 1.2 0 1 0 -2.4 0M545.4 158.7a1.2 1.2 0 1 0 2.4 0a1.2 1.2 0 1 0 -2.4 0M501.3 183.5a1.2 1.2 0 1 0 2.4 0a1.2 1.2 0 1 0 -2.4 0M506.3 196.4a1.2 1.2 0 1 0 2.4 0a1.2 1.2 0 1 0 -2.4 0M525.9 154.7a1.2 1.2 0 1 0 2.4 0a1.2 1.2 0 1 0 -2.4 0M559.3 111.6a1.2 1.2 0 1 0 2.4 0a1.2 1.2 0 1 0 -2.4 0M493.0 205.5a1.2 1.2 0 1 0 2.4 0a1.2 1.2 0 1 0 -2.4 0M573.5 120.2a1.2 1.2 0 1 0 2.4 0a1.2 1.2 0 1 0 -2.4 0M571.2 115.8a1.2 1.2 0 1 0 2.4 0a1.2 1.2 0 1 0 -2.4 0M505.0 204.0a1.2 1.2 0 1 0 2.4 0a1.2 1.2 0 1 0 -2.4 0M542.5 141.2a1.2 1.2 0 1 0 2.4 0a1.2 1.2 0 1 0 -2.4 0M515.9 162.1a1.2 1.2 0 1 0 2.4 0a1.2 1.2 0 1 0 -2.4 0M547.9 170.1a1.2 1.2 0 1 0 2.4 0a1.2 1.2 0 1 0 -2.4 0M490.1 185.6a1.2 1.2 0 1 0 2.4 0a1.2 1.2 0 1 0 -2.4 0M526.3 168.1a1.2 1.2 0 1 0 2.4 0a1.2 1.2 0 1 0 -2.4 0M537.6 162.8a1.2 1.2 0 1 0 2.4 0a1.2 1.2 0 1 0 -2.4 0M541.1 147.6a1.2 1.2 0 1 0 2.4 0a1.2 1.2 0 1 0 -2.4 0M547.4 152.4a1.2 1.2 0 1 0 2.4 0a1.2 1.2 0 1 0 -2.4 0M566.2 113.7a1.2 1.2 0 1 0 2.4 0a1.2 1.2 0 1 0 -2.4 0M504.7 195.4a1.2 1.2 0 1 0 2.4 0a1.2 1.2 0 1 0 -2.4 0M496.3 144.7a1.2 1.2 0 1 0 2.4 0a1.2 1.2 0 1 0 -2.4 0M518.8 150.0a1.2 1.2 0 1 0 2.4 0a1.2 1.2 0 1 0 -2.4 0M535.7 139.5a1.2 1.2 0 1 0 2.4 0a1.2 1.2 0 1 0 -2.4 0M572.8 128.2a1.2 1.2 0 1 0 2.4 0a1.2 1.2 0 1 0 -2.4 0M549.1 144.6a1.2 1.2 0 1 0 2.4 0a1.2 1.2 0 1 0 -2.4 0M551.7 112.0a1.2 1.2 0 1 0 2.4 0a1.2 1.2 0 1 0 -2.4 0M573.9 118.4a1.2 1.2 0 1 0 2.4 0a1.2 1.2 0 1 0 -2.4 0M507.2 195.1a1.2 1.2 0 1 0 2.4 0a1.2 1.2 0 1 0 -2.4 0M506.4 159.5a1.2 1.2 0 1 0 2.4 0a1.2 1.2 0 1 0 -2.4 0M521.8 191.1a1.2 1.2 0 1 0 2.4 0a1.2 1.2 0 1 0 -2.4 0M509.8 168.8a1.2 1.2 0 1 0 2.4 0a1.2 1.2 0 1 0 -2.4 0M543.5 136.4a1.2 1.2 0 1 0 2.4 0a1.2 1.2 0 1 0 -2.4 0M571.9 45.4a1.2 1.2 0 1 0 2.4 0a1.2 1.2 0 1 0 -2.4 0M496.4 189.1a1.2 1.2 0 1 0 2.4 0a1.2 1.2 0 1 0 -2.4 0M530.9 165.4a1.2 1.2 0 1 0 2.4 0a1.2 1.2 0 1 0 -2.4 0M546.0 116.1a1.2 1.2 0 1 0 2.4 0a1.2 1.2 0 1 0 -2.4 0M528.5 171.0a1.2 1.2 0 1 0 2.4 0a1.2 1.2 0 1 0 -2.4 0M568.3 77.2a1.2 1.2 0 1 0 2.4 0a1.2 1.2 0 1 0 -2.4 0M551.6 127.9a1.2 1.2 0 1 0 2.4 0a1.2 1.2 0 1 0 -2.4 0M565.3 120.5a1.2 1.2 0 1 0 2.4 0a1.2 1.2 0 1 0 -2.4 0M492.4 143.2a1.2 1.2 0 1 0 2.4 0a1.2 1.2 0 1 0 -2.4 0M500.4 184.3a1.2 1.2 0 1 0 2.4 0a1.2 1.2 0 1 0 -2.4 0M488.1 204.8a1.2 1.2 0 1 0 2.4 0a1.2 1.2 0 1 0 -2.4 0M560.3 119.2a1.2 1.2 0 1 0 2.4 0a1.2 1.2 0 1 0 -2.4 0M573.0 113.3a1.2 1.2 0 1 0 2.4 0a1.2 1.2 0 1 0 -2.4 0M483.2 214.5a1.2 1.2 0 1 0 2.4 0a1.2 1.2 0 1 0 -2.4 0M556.6 118.9a1.2 1.2 0 1 0 2.4 0a1.2 1.2 0 1 0 -2.4 0M550.7 139.2a1.2 1.2 0 1 0 2.4 0a1.2 1.2 0 1 0 -2.4 0M567.8 143.1a1.2 1.2 0 1 0 2.4 0a1.2 1.2 0 1 0 -2.4 0M507.4 182.8a1.2 1.2 0 1 0 2.4 0a1.2 1.2 0 1 0 -2.4 0M549.5 163.6a1.2 1.2 0 1 0 2.4 0a1.2 1.2 0 1 0 -2.4 0M504.3 194.0a1.2 1.2 0 1 0 2.4 0a1.2 1.2 0 1 0 -2.4 0M489.0 214.4a1.2 1.2 0 1 0 2.4 0a1.2 1.2 0 1 0 -2.4 0M552.4 139.5a1.2 1.2 0 1 0 2.4 0a1.2 1.2 0 1 0 -2.4 0M485.8 199.3a1.2 1.2 0 1 0 2.4 0a1.2 1.2 0 1 0 -2.4 0M548.1 129.1a1.2 1.2 0 1 0 2.4 0a1.2 1.2 0 1 0 -2.4 0M508.7 188.3a1.2 1.2 0 1 0 2.4 0a1.2 1.2 0 1 0 -2.4 0M528.0 161.6a1.2 1.2 0 1 0 2.4 0a1.2 1.2 0 1 0 -2.4 0M566.2 127.9a1.2 1.2 0 1 0 2.4 0a1.2 1.2 0 1 0 -2.4 0M504.9 181.2a1.2 1.2 0 1 0 2.4 0a1.2 1.2 0 1 0 -2.4 0M526.2 150.4a1.2 1.2 0 1 0 2.4 0a1.2 1.2 0 1 0 -2.4 0M515.5 154.0a1.2 1.2 0 1 0 2.4 0a1.2 1.2 0 1 0 -2.4 0M499.9 204.5a1.2 1.2 0 1 0 2.4 0a1.2 1.2 0 1 0 -2.4 0M526.7 147.6a1.2 1.2 0 1 0 2.4 0a1.2 1.2 0 1 0 -2.4 0M499.0 195.1a1.2 1.2 0 1 0 2.4 0a1.2 1.2 0 1 0 -2.4 0M557.5 130.9a1.2 1.2 0 1 0 2.4 0a1.2 1.2 0 1 0 -2.4 0M540.0 182.5a1.2 1.2 0 1 0 2.4 0a1.2 1.2 0 1 0 -2.4 0M508.6 167.1a1.2 1.2 0 1 0 2.4 0a1.2 1.2 0 1 0 -2.4 0M574.0 128.9a1.2 1.2 0 1 0 2.4 0a1.2 1.2 0 1 0 -2.4 0M514.5 186.0a1.2 1.2 0 1 0 2.4 0a1.2 1.2 0 1 0 -2.4 0M545.4 147.1a1.2 1.2 0 1 0 2.4 0a1.2 1.2 0 1 0 -2.4 0M551.2 108.0a1.2 1.2 0 1 0 2.4 0a1.2 1.2 0 1 0 -2.4 0M507.0 202.8a1.2 1.2 0 1 0 2.4 0a1.2 1.2 0 1 0 -2.4 0M483.0 222.4a1.2 1.2 0 1 0 2.4 0a1.2 1.2 0 1 0 -2.4 0M566.3 135.5a1.2 1.2 0 1 0 2.4 0a1.2 1.2 0 1 0 -2.4 0M572.4 120.8a1.2 1.2 0 1 0 2.4 0a1.2 1.2 0 1 0 -2.4 0M498.0 200.9a1.2 1.2 0 1 0 2.4 0a1.2 1.2 0 1 0 -2.4 0M496.4 184.3a1.2 1.2 0 1 0 2.4 0a1.2 1.2 0 1 0 -2.4 0M522.8 165.4a1.2 1.2 0 1 0 2.4 0a1.2 1.2 0 1 0 -2.4 0M538.4 160.7a1.2 1.2 0 1 0 2.4 0a1.2 1.2 0 1 0 -2.4 0M575.5 107.7a1.2 1.2 0 1 0 2.4 0a1.2 1.2 0 1 0 -2.4 0M573.0 114.1a1.2 1.2 0 1 0 2.4 0a1.2 1.2 0 1 0 -2.4 0M575.4 105.9a1.2 1.2 0 1 0 2.4 0a1.2 1.2 0 1 0 -2.4 0M505.1 182.4a1.2 1.2 0 1 0 2.4 0a1.2 1.2 0 1 0 -2.4 0M538.5 143.1a1.2 1.2 0 1 0 2.4 0a1.2 1.2 0 1 0 -2.4 0M523.1 155.4a1.2 1.2 0 1 0 2.4 0a1.2 1.2 0 1 0 -2.4 0M503.8 164.6a1.2 1.2 0 1 0 2.4 0a1.2 1.2 0 1 0 -2.4 0M488.0 226.0a1.2 1.2 0 1 0 2.4 0a1.2 1.2 0 1 0 -2.4 0M497.8 188.6a1.2 1.2 0 1 0 2.4 0a1.2 1.2 0 1 0 -2.4 0M515.8 172.0a1.2 1.2 0 1 0 2.4 0a1.2 1.2 0 1 0 -2.4 0M490.2 204.6a1.2 1.2 0 1 0 2.4 0a1.2 1.2 0 1 0 -2.4 0M496.1 185.8a1.2 1.2 0 1 0 2.4 0a1.2 1.2 0 1 0 -2.4 0M486.1 213.5a1.2 1.2 0 1 0 2.4 0a1.2 1.2 0 1 0 -2.4 0M540.8 180.5a1.2 1.2 0 1 0 2.4 0a1.2 1.2 0 1 0 -2.4 0M528.5 172.3a1.2 1.2 0 1 0 2.4 0a1.2 1.2 0 1 0 -2.4 0M504.9 176.9a1.2 1.2 0 1 0 2.4 0a1.2 1.2 0 1 0 -2.4 0M531.7 148.4a1.2 1.2 0 1 0 2.4 0a1.2 1.2 0 1 0 -2.4 0M522.0 168.0a1.2 1.2 0 1 0 2.4 0a1.2 1.2 0 1 0 -2.4 0M544.2 159.4a1.2 1.2 0 1 0 2.4 0a1.2 1.2 0 1 0 -2.4 0M570.1 114.1a1.2 1.2 0 1 0 2.4 0a1.2 1.2 0 1 0 -2.4 0M515.3 169.1a1.2 1.2 0 1 0 2.4 0a1.2 1.2 0 1 0 -2.4 0M542.9 141.3a1.2 1.2 0 1 0 2.4 0a1.2 1.2 0 1 0 -2.4 0M502.6 190.5a1.2 1.2 0 1 0 2.4 0a1.2 1.2 0 1 0 -2.4 0M570.8 112.0a1.2 1.2 0 1 0 2.4 0a1.2 1.2 0 1 0 -2.4 0M540.3 131.7a1.2 1.2 0 1 0 2.4 0a1.2 1.2 0 1 0 -2.4 0M496.9 189.1a1.2 1.2 0 1 0 2.4 0a1.2 1.2 0 1 0 -2.4 0M506.2 188.8a1.2 1.2 0 1 0 2.4 0a1.2 1.2 0 1 0 -2.4 0M496.9 186.1a1.2 1.2 0 1 0 2.4 0a1.2 1.2 0 1 0 -2.4 0M498.8 129.6a1.2 1.2 0 1 0 2.4 0a1.2 1.2 0 1 0 -2.4 0M510.9 215.3a1.2 1.2 0 1 0 2.4 0a1.2 1.2 0 1 0 -2.4 0M559.8 132.4a1.2 1.2 0 1 0 2.4 0a1.2 1.2 0 1 0 -2.4 0M525.1 155.9a1.2 1.2 0 1 0 2.4 0a1.2 1.2 0 1 0 -2.4 0M508.1 183.0a1.2 1.2 0 1 0 2.4 0a1.2 1.2 0 1 0 -2.4 0M521.5 151.0a1.2 1.2 0 1 0 2.4 0a1.2 1.2 0 1 0 -2.4 0M507.2 192.5a1.2 1.2 0 1 0 2.4 0a1.2 1.2 0 1 0 -2.4 0M551.3 119.4a1.2 1.2 0 1 0 2.4 0a1.2 1.2 0 1 0 -2.4 0M487.4 176.4a1.2 1.2 0 1 0 2.4 0a1.2 1.2 0 1 0 -2.4 0M509.2 160.3a1.2 1.2 0 1 0 2.4 0a1.2 1.2 0 1 0 -2.4 0M512.4 163.0a1.2 1.2 0 1 0 2.4 0a1.2 1.2 0 1 0 -2.4 0M499.0 213.8a1.2 1.2 0 1 0 2.4 0a1.2 1.2 0 1 0 -2.4 0M551.7 149.1a1.2 1.2 0 1 0 2.4 0a1.2 1.2 0 1 0 -2.4 0M498.9 182.3a1.2 1.2 0 1 0 2.4 0a1.2 1.2 0 1 0 -2.4 0M510.3 165.6a1.2 1.2 0 1 0 2.4 0a1.2 1.2 0 1 0 -2.4 0M487.2 188.4a1.2 1.2 0 1 0 2.4 0a1.2 1.2 0 1 0 -2.4 0M553.4 148.4a1.2 1.2 0 1 0 2.4 0a1.2 1.2 0 1 0 -2.4 0M516.3 167.8a1.2 1.2 0 1 0 2.4 0a1.2 1.2 0 1 0 -2.4 0M543.9 152.2a1.2 1.2 0 1 0 2.4 0a1.2 1.2 0 1 0 -2.4 0M502.4 165.0a1.2 1.2 0 1 0 2.4 0a1.2 1.2 0 1 0 -2.4 0M483.9 173.5a1.2 1.2 0 1 0 2.4 0a1.2 1.2 0 1 0 -2.4 0M512.4 186.5a1.2 1.2 0 1 0 2.4 0a1.2 1.2 0 1 0 -2.4 0M555.6 103.4a1.2 1.2 0 1 0 2.4 0a1.2 1.2 0 1 0 -2.4 0M561.1 128.2a1.2 1.2 0 1 0 2.4 0a1.2 1.2 0 1 0 -2.4 0M514.9 175.6a1.2 1.2 0 1 0 2.4 0a1.2 1.2 0 1 0 -2.4 0M562.0 120.7a1.2 1.2 0 1 0 2.4 0a1.2 1.2 0 1 0 -2.4 0M486.6 231.1a1.2 1.2 0 1 0 2.4 0a1.2 1.2 0 1 0 -2.4 0M531.3 142.1a1.2 1.2 0 1 0 2.4 0a1.2 1.2 0 1 0 -2.4 0M506.2 174.9a1.2 1.2 0 1 0 2.4 0a1.2 1.2 0 1 0 -2.4 0M523.4 169.4a1.2 1.2 0 1 0 2.4 0a1.2 1.2 0 1 0 -2.4 0M502.8 164.7a1.2 1.2 0 1 0 2.4 0a1.2 1.2 0 1 0 -2.4 0M566.4 136.2a1.2 1.2 0 1 0 2.4 0a1.2 1.2 0 1 0 -2.4 0M510.5 158.3a1.2 1.2 0 1 0 2.4 0a1.2 1.2 0 1 0 -2.4 0M571.3 119.8a1.2 1.2 0 1 0 2.4 0a1.2 1.2 0 1 0 -2.4 0M492.2 176.7a1.2 1.2 0 1 0 2.4 0a1.2 1.2 0 1 0 -2.4 0M522.5 185.1a1.2 1.2 0 1 0 2.4 0a1.2 1.2 0 1 0 -2.4 0M523.8 182.6a1.2 1.2 0 1 0 2.4 0a1.2 1.2 0 1 0 -2.4 0M549.0 123.8a1.2 1.2 0 1 0 2.4 0a1.2 1.2 0 1 0 -2.4 0M514.5 193.8a1.2 1.2 0 1 0 2.4 0a1.2 1.2 0 1 0 -2.4 0M528.5 159.4a1.2 1.2 0 1 0 2.4 0a1.2 1.2 0 1 0 -2.4 0M488.5 207.7a1.2 1.2 0 1 0 2.4 0a1.2 1.2 0 1 0 -2.4 0M511.3 173.2a1.2 1.2 0 1 0 2.4 0a1.2 1.2 0 1 0 -2.4 0M550.5 103.9a1.2 1.2 0 1 0 2.4 0a1.2 1.2 0 1 0 -2.4 0M491.9 193.8a1.2 1.2 0 1 0 2.4 0a1.2 1.2 0 1 0 -2.4 0M525.6 142.5a1.2 1.2 0 1 0 2.4 0a1.2 1.2 0 1 0 -2.4 0M504.3 173.7a1.2 1.2 0 1 0 2.4 0a1.2 1.2 0 1 0 -2.4 0M497.5 184.9a1.2 1.2 0 1 0 2.4 0a1.2 1.2 0 1 0 -2.4 0M493.3 160.4a1.2 1.2 0 1 0 2.4 0a1.2 1.2 0 1 0 -2.4 0M558.9 132.1a1.2 1.2 0 1 0 2.4 0a1.2 1.2 0 1 0 -2.4 0M546.8 123.5a1.2 1.2 0 1 0 2.4 0a1.2 1.2 0 1 0 -2.4 0M517.8 175.9a1.2 1.2 0 1 0 2.4 0a1.2 1.2 0 1 0 -2.4 0M518.9 172.8a1.2 1.2 0 1 0 2.4 0a1.2 1.2 0 1 0 -2.4 0M550.8 115.6a1.2 1.2 0 1 0 2.4 0a1.2 1.2 0 1 0 -2.4 0M539.0 146.6a1.2 1.2 0 1 0 2.4 0a1.2 1.2 0 1 0 -2.4 0M568.6 143.4a1.2 1.2 0 1 0 2.4 0a1.2 1.2 0 1 0 -2.4 0M568.9 111.0a1.2 1.2 0 1 0 2.4 0a1.2 1.2 0 1 0 -2.4 0M527.5 157.3a1.2 1.2 0 1 0 2.4 0a1.2 1.2 0 1 0 -2.4 0M544.2 149.7a1.2 1.2 0 1 0 2.4 0a1.2 1.2 0 1 0 -2.4 0M533.4 137.9a1.2 1.2 0 1 0 2.4 0a1.2 1.2 0 1 0 -2.4 0M511.2 205.9a1.2 1.2 0 1 0 2.4 0a1.2 1.2 0 1 0 -2.4 0M524.8 153.3a1.2 1.2 0 1 0 2.4 0a1.2 1.2 0 1 0 -2.4 0M550.1 125.2a1.2 1.2 0 1 0 2.4 0a1.2 1.2 0 1 0 -2.4 0M534.2 128.9a1.2 1.2 0 1 0 2.4 0a1.2 1.2 0 1 0 -2.4 0M541.7 163.2a1.2 1.2 0 1 0 2.4 0a1.2 1.2 0 1 0 -2.4 0M528.0 187.8a1.2 1.2 0 1 0 2.4 0a1.2 1.2 0 1 0 -2.4 0M572.0 90.7a1.2 1.2 0 1 0 2.4 0a1.2 1.2 0 1 0 -2.4 0M555.3 121.2a1.2 1.2 0 1 0 2.4 0a1.2 1.2 0 1 0 -2.4 0M494.2 206.8a1.2 1.2 0 1 0 2.4 0a1.2 1.2 0 1 0 -2.4 0M558.9 119.9a1.2 1.2 0 1 0 2.4 0a1.2 1.2 0 1 0 -2.4 0M568.7 144.2a1.2 1.2 0 1 0 2.4 0a1.2 1.2 0 1 0 -2.4 0M559.1 123.3a1.2 1.2 0 1 0 2.4 0a1.2 1.2 0 1 0 -2.4 0M514.3 200.4a1.2 1.2 0 1 0 2.4 0a1.2 1.2 0 1 0 -2.4 0M516.7 191.9a1.2 1.2 0 1 0 2.4 0a1.2 1.2 0 1 0 -2.4 0M504.9 131.6a1.2 1.2 0 1 0 2.4 0a1.2 1.2 0 1 0 -2.4 0M487.1 202.9a1.2 1.2 0 1 0 2.4 0a1.2 1.2 0 1 0 -2.4 0M526.5 154.9a1.2 1.2 0 1 0 2.4 0a1.2 1.2 0 1 0 -2.4 0M562.3 116.2a1.2 1.2 0 1 0 2.4 0a1.2 1.2 0 1 0 -2.4 0M554.6 133.7a1.2 1.2 0 1 0 2.4 0a1.2 1.2 0 1 0 -2.4 0M544.5 112.8a1.2 1.2 0 1 0 2.4 0a1.2 1.2 0 1 0 -2.4 0M562.0 130.7a1.2 1.2 0 1 0 2.4 0a1.2 1.2 0 1 0 -2.4 0M544.2 171.8a1.2 1.2 0 1 0 2.4 0a1.2 1.2 0 1 0 -2.4 0M503.0 168.3a1.2 1.2 0 1 0 2.4 0a1.2 1.2 0 1 0 -2.4 0M557.9 117.7a1.2 1.2 0 1 0 2.4 0a1.2 1.2 0 1 0 -2.4 0M590.4 95.7a1.2 1.2 0 1 0 2.4 0a1.2 1.2 0 1 0 -2.4 0M610.2 80.3a1.2 1.2 0 1 0 2.4 0a1.2 1.2 0 1 0 -2.4 0M588.9 111.6a1.2 1.2 0 1 0 2.4 0a1.2 1.2 0 1 0 -2.4 0M580.0 53.8a1.2 1.2 0 1 0 2.4 0a1.2 1.2 0 1 0 -2.4 0M604.1 73.5a1.2 1.2 0 1 0 2.4 0a1.2 1.2 0 1 0 -2.4 0M580.6 85.6a1.2 1.2 0 1 0 2.4 0a1.2 1.2 0 1 0 -2.4 0M609.4 41.6a1.2 1.2 0 1 0 2.4 0a1.2 1.2 0 1 0 -2.4 0M592.1 101.4a1.2 1.2 0 1 0 2.4 0a1.2 1.2 0 1 0 -2.4 0M606.0 108.6a1.2 1.2 0 1 0 2.4 0a1.2 1.2 0 1 0 -2.4 0M578.5 105.8a1.2 1.2 0 1 0 2.4 0a1.2 1.2 0 1 0 -2.4 0M597.1 89.0a1.2 1.2 0 1 0 2.4 0a1.2 1.2 0 1 0 -2.4 0M602.1 61.0a1.2 1.2 0 1 0 2.4 0a1.2 1.2 0 1 0 -2.4 0M581.4 96.1a1.2 1.2 0 1 0 2.4 0a1.2 1.2 0 1 0 -2.4 0M599.5 83.4a1.2 1.2 0 1 0 2.4 0a1.2 1.2 0 1 0 -2.4 0M581.9 101.7a1.2 1.2 0 1 0 2.4 0a1.2 1.2 0 1 0 -2.4 0M588.0 109.0a1.2 1.2 0 1 0 2.4 0a1.2 1.2 0 1 0 -2.4 0M590.3 106.5a1.2 1.2 0 1 0 2.4 0a1.2 1.2 0 1 0 -2.4 0M600.0 77.2a1.2 1.2 0 1 0 2.4 0a1.2 1.2 0 1 0 -2.4 0M581.4 137.8a1.2 1.2 0 1 0 2.4 0a1.2 1.2 0 1 0 -2.4 0M583.5 117.5a1.2 1.2 0 1 0 2.4 0a1.2 1.2 0 1 0 -2.4 0M606.1 126.7a1.2 1.2 0 1 0 2.4 0a1.2 1.2 0 1 0 -2.4 0M603.6 78.9a1.2 1.2 0 1 0 2.4 0a1.2 1.2 0 1 0 -2.4 0M593.7 88.9a1.2 1.2 0 1 0 2.4 0a1.2 1.2 0 1 0 -2.4 0M587.2 87.6a1.2 1.2 0 1 0 2.4 0a1.2 1.2 0 1 0 -2.4 0M602.7 89.4a1.2 1.2 0 1 0 2.4 0a1.2 1.2 0 1 0 -2.4 0M594.2 98.5a1.2 1.2 0 1 0 2.4 0a1.2 1.2 0 1 0 -2.4 0M588.3 85.9a1.2 1.2 0 1 0 2.4 0a1.2 1.2 0 1 0 -2.4 0M609.6 73.4a1.2 1.2 0 1 0 2.4 0a1.2 1.2 0 1 0 -2.4 0M584.1 106.8a1.2 1.2 0 1 0 2.4 0a1.2 1.2 0 1 0 -2.4 0M607.0 95.7a1.2 1.2 0 1 0 2.4 0a1.2 1.2 0 1 0 -2.4 0M599.9 67.3a1.2 1.2 0 1 0 2.4 0a1.2 1.2 0 1 0 -2.4 0M601.0 94.9a1.2 1.2 0 1 0 2.4 0a1.2 1.2 0 1 0 -2.4 0M602.3 87.2a1.2 1.2 0 1 0 2.4 0a1.2 1.2 0 1 0 -2.4 0M604.8 114.4a1.2 1.2 0 1 0 2.4 0a1.2 1.2 0 1 0 -2.4 0M609.9 80.5a1.2 1.2 0 1 0 2.4 0a1.2 1.2 0 1 0 -2.4 0M611.4 35.6a1.2 1.2 0 1 0 2.4 0a1.2 1.2 0 1 0 -2.4 0M586.2 97.9a1.2 1.2 0 1 0 2.4 0a1.2 1.2 0 1 0 -2.4 0M582.7 144.0a1.2 1.2 0 1 0 2.4 0a1.2 1.2 0 1 0 -2.4 0M610.4 96.9a1.2 1.2 0 1 0 2.4 0a1.2 1.2 0 1 0 -2.4 0M584.2 95.7a1.2 1.2 0 1 0 2.4 0a1.2 1.2 0 1 0 -2.4 0M584.9 106.6a1.2 1.2 0 1 0 2.4 0a1.2 1.2 0 1 0 -2.4 0M607.0 91.5a1.2 1.2 0 1 0 2.4 0a1.2 1.2 0 1 0 -2.4 0M613.1 85.4a1.2 1.2 0 1 0 2.4 0a1.2 1.2 0 1 0 -2.4 0M608.5 101.4a1.2 1.2 0 1 0 2.4 0a1.2 1.2 0 1 0 -2.4 0M596.1 106.2a1.2 1.2 0 1 0 2.4 0a1.2 1.2 0 1 0 -2.4 0M590.7 81.7a1.2 1.2 0 1 0 2.4 0a1.2 1.2 0 1 0 -2.4 0M613.9 92.6a1.2 1.2 0 1 0 2.4 0a1.2 1.2 0 1 0 -2.4 0M604.4 88.6a1.2 1.2 0 1 0 2.4 0a1.2 1.2 0 1 0 -2.4 0M600.3 75.1a1.2 1.2 0 1 0 2.4 0a1.2 1.2 0 1 0 -2.4 0M576.9 102.1a1.2 1.2 0 1 0 2.4 0a1.2 1.2 0 1 0 -2.4 0M583.9 88.7a1.2 1.2 0 1 0 2.4 0a1.2 1.2 0 1 0 -2.4 0M577.0 116.6a1.2 1.2 0 1 0 2.4 0a1.2 1.2 0 1 0 -2.4 0M610.8 67.9a1.2 1.2 0 1 0 2.4 0a1.2 1.2 0 1 0 -2.4 0M585.5 87.2a1.2 1.2 0 1 0 2.4 0a1.2 1.2 0 1 0 -2.4 0M583.0 117.2a1.2 1.2 0 1 0 2.4 0a1.2 1.2 0 1 0 -2.4 0M598.6 83.8a1.2 1.2 0 1 0 2.4 0a1.2 1.2 0 1 0 -2.4 0M584.2 138.8a1.2 1.2 0 1 0 2.4 0a1.2 1.2 0 1 0 -2.4 0M597.2 99.0a1.2 1.2 0 1 0 2.4 0a1.2 1.2 0 1 0 -2.4 0M612.5 77.0a1.2 1.2 0 1 0 2.4 0a1.2 1.2 0 1 0 -2.4 0M609.2 76.1a1.2 1.2 0 1 0 2.4 0a1.2 1.2 0 1 0 -2.4 0M585.8 120.1a1.2 1.2 0 1 0 2.4 0a1.2 1.2 0 1 0 -2.4 0M611.2 79.6a1.2 1.2 0 1 0 2.4 0a1.2 1.2 0 1 0 -2.4 0M591.6 90.0a1.2 1.2 0 1 0 2.4 0a1.2 1.2 0 1 0 -2.4 0M596.3 79.7a1.2 1.2 0 1 0 2.4 0a1.2 1.2 0 1 0 -2.4 0M588.8 95.2a1.2 1.2 0 1 0 2.4 0a1.2 1.2 0 1 0 -2.4 0M614.4 70.2a1.2 1.2 0 1 0 2.4 0a1.2 1.2 0 1 0 -2.4 0M588.1 92.4a1.2 1.2 0 1 0 2.4 0a1.2 1.2 0 1 0 -2.4 0M604.4 82.6a1.2 1.2 0 1 0 2.4 0a1.2 1.2 0 1 0 -2.4 0M600.0 80.8a1.2 1.2 0 1 0 2.4 0a1.2 1.2 0 1 0 -2.4 0M602.6 86.7a1.2 1.2 0 1 0 2.4 0a1.2 1.2 0 1 0 -2.4 0M580.4 116.1a1.2 1.2 0 1 0 2.4 0a1.2 1.2 0 1 0 -2.4 0M596.8 91.4a1.2 1.2 0 1 0 2.4 0a1.2 1.2 0 1 0 -2.4 0M652.1 34.3a1.2 1.2 0 1 0 2.4 0a1.2 1.2 0 1 0 -2.4 0M635.7 67.7a1.2 1.2 0 1 0 2.4 0a1.2 1.2 0 1 0 -2.4 0M621.8 89.2a1.2 1.2 0 1 0 2.4 0a1.2 1.2 0 1 0 -2.4 0M616.4 98.2a1.2 1.2 0 1 0 2.4 0a1.2 1.2 0 1 0 -2.4 0M626.9 60.9a1.2 1.2 0 1 0 2.4 0a1.2 1.2 0 1 0 -2.4 0M642.6 60.0a1.2 1.2 0 1 0 2.4 0a1.2 1.2 0 1 0 -2.4 0M615.3 77.4a1.2 1.2 0 1 0 2.4 0a1.2 1.2 0 1 0 -2.4 0M616.2 111.9a1.2 1.2 0 1 0 2.4 0a1.2 1.2 0 1 0 -2.4 0M639.2 53.3a1.2 1.2 0 1 0 2.4 0a1.2 1.2 0 1 0 -2.4 0M647.7 50.1a1.2 1.2 0 1 0 2.4 0a1.2 1.2 0 1 0 -2.4 0M631.0 45.9a1.2 1.2 0 1 0 2.4 0a1.2 1.2 0 1 0 -2.4 0M638.0 56.5a1.2 1.2 0 1 0 2.4 0a1.2 1.2 0 1 0 -2.4 0M624.1 84.4a1.2 1.2 0 1 0 2.4 0a1.2 1.2 0 1 0 -2.4 0M624.7 35.1a1.2 1.2 0 1 0 2.4 0a1.2 1.2 0 1 0 -2.4 0M632.3 62.7a1.2 1.2 0 1 0 2.4 0a1.2 1.2 0 1 0 -2.4 0M622.7 56.0a1.2 1.2 0 1 0 2.4 0a1.2 1.2 0 1 0 -2.4 0M631.5 73.3a1.2 1.2 0 1 0 2.4 0a1.2 1.2 0 1 0 -2.4 0M620.0 75.5a1.2 1.2 0 1 0 2.4 0a1.2 1.2 0 1 0 -2.4 0M649.3 47.2a1.2 1.2 0 1 0 2.4 0a1.2 1.2 0 1 0 -2.4 0M638.9 65.7a1.2 1.2 0 1 0 2.4 0a1.2 1.2 0 1 0 -2.4 0M617.9 81.8a1.2 1.2 0 1 0 2.4 0a1.2 1.2 0 1 0 -2.4 0M621.7 71.4a1.2 1.2 0 1 0 2.4 0a1.2 1.2 0 1 0 -2.4 0M645.8 47.0a1.2 1.2 0 1 0 2.4 0a1.2 1.2 0 1 0 -2.4 0M628.5 54.8a1.2 1.2 0 1 0 2.4 0a1.2 1.2 0 1 0 -2.4 0M624.2 72.2a1.2 1.2 0 1 0 2.4 0a1.2 1.2 0 1 0 -2.4 0M615.2 91.7a1.2 1.2 0 1 0 2.4 0a1.2 1.2 0 1 0 -2.4 0M639.9 39.0a1.2 1.2 0 1 0 2.4 0a1.2 1.2 0 1 0 -2.4 0M636.0 66.9a1.2 1.2 0 1 0 2.4 0a1.2 1.2 0 1 0 -2.4 0M646.2 35.6a1.2 1.2 0 1 0 2.4 0a1.2 1.2 0 1 0 -2.4 0M620.8 45.8a1.2 1.2 0 1 0 2.4 0a1.2 1.2 0 1 0 -2.4 0M642.8 50.4a1.2 1.2 0 1 0 2.4 0a1.2 1.2 0 1 0 -2.4 0M645.7 58.0a1.2 1.2 0 1 0 2.4 0a1.2 1.2 0 1 0 -2.4 0M645.6 40.3a1.2 1.2 0 1 0 2.4 0a1.2 1.2 0 1 0 -2.4 0M642.6 58.0a1.2 1.2 0 1 0 2.4 0a1.2 1.2 0 1 0 -2.4 0M631.1 54.2a1.2 1.2 0 1 0 2.4 0a1.2 1.2 0 1 0 -2.4 0M616.2 79.2a1.2 1.2 0 1 0 2.4 0a1.2 1.2 0 1 0 -2.4 0M638.8 33.2a1.2 1.2 0 1 0 2.4 0a1.2 1.2 0 1 0 -2.4 0M615.3 85.2a1.2 1.2 0 1 0 2.4 0a1.2 1.2 0 1 0 -2.4 0M617.6 66.4a1.2 1.2 0 1 0 2.4 0a1.2 1.2 0 1 0 -2.4 0M629.8 69.9a1.2 1.2 0 1 0 2.4 0a1.2 1.2 0 1 0 -2.4 0M618.9 69.2a1.2 1.2 0 1 0 2.4 0a1.2 1.2 0 1 0 -2.4 0M631.5 79.6a1.2 1.2 0 1 0 2.4 0a1.2 1.2 0 1 0 -2.4 0M646.6 79.8a1.2 1.2 0 1 0 2.4 0a1.2 1.2 0 1 0 -2.4 0M621.0 40.9a1.2 1.2 0 1 0 2.4 0a1.2 1.2 0 1 0 -2.4 0M644.6 35.5a1.2 1.2 0 1 0 2.4 0a1.2 1.2 0 1 0 -2.4 0M652.1 31.1a1.2 1.2 0 1 0 2.4 0a1.2 1.2 0 1 0 -2.4 0M615.8 93.1a1.2 1.2 0 1 0 2.4 0a1.2 1.2 0 1 0 -2.4 0M630.4 79.3a1.2 1.2 0 1 0 2.4 0a1.2 1.2 0 1 0 -2.4 0M641.1 57.3a1.2 1.2 0 1 0 2.4 0a1.2 1.2 0 1 0 -2.4 0M642.1 75.0a1.2 1.2 0 1 0 2.4 0a1.2 1.2 0 1 0 -2.4 0M625.0 78.7a1.2 1.2 0 1 0 2.4 0a1.2 1.2 0 1 0 -2.4 0M645.0 46.0a1.2 1.2 0 1 0 2.4 0a1.2 1.2 0 1 0 -2.4 0M628.4 51.3a1.2 1.2 0 1 0 2.4 0a1.2 1.2 0 1 0 -2.4 0M622.0 34.4a1.2 1.2 0 1 0 2.4 0a1.2 1.2 0 1 0 -2.4 0M634.0 55.1a1.2 1.2 0 1 0 2.4 0a1.2 1.2 0 1 0 -2.4 0M637.5 34.7a1.2 1.2 0 1 0 2.4 0a1.2 1.2 0 1 0 -2.4 0M646.1 36.0a1.2 1.2 0 1 0 2.4 0a1.2 1.2 0 1 0 -2.4 0M639.5 57.6a1.2 1.2 0 1 0 2.4 0a1.2 1.2 0 1 0 -2.4 0M617.5 98.3a1.2 1.2 0 1 0 2.4 0a1.2 1.2 0 1 0 -2.4 0M636.1 39.5a1.2 1.2 0 1 0 2.4 0a1.2 1.2 0 1 0 -2.4 0M627.4 34.3a1.2 1.2 0 1 0 2.4 0a1.2 1.2 0 1 0 -2.4 0M641.1 34.7a1.2 1.2 0 1 0 2.4 0a1.2 1.2 0 1 0 -2.4 0M616.1 59.5a1.2 1.2 0 1 0 2.4 0a1.2 1.2 0 1 0 -2.4 0M639.2 50.1a1.2 1.2 0 1 0 2.4 0a1.2 1.2 0 1 0 -2.4 0M644.3 32.0a1.2 1.2 0 1 0 2.4 0a1.2 1.2 0 1 0 -2.4 0M615.9 57.6a1.2 1.2 0 1 0 2.4 0a1.2 1.2 0 1 0 -2.4 0M614.9 79.5a1.2 1.2 0 1 0 2.4 0a1.2 1.2 0 1 0 -2.4 0M648.1 34.1a1.2 1.2 0 1 0 2.4 0a1.2 1.2 0 1 0 -2.4 0M648.3 40.1a1.2 1.2 0 1 0 2.4 0a1.2 1.2 0 1 0 -2.4 0M621.0 56.8a1.2 1.2 0 1 0 2.4 0a1.2 1.2 0 1 0 -2.4 0M649.3 62.6a1.2 1.2 0 1 0 2.4 0a1.2 1.2 0 1 0 -2.4 0M629.8 33.8a1.2 1.2 0 1 0 2.4 0a1.2 1.2 0 1 0 -2.4 0M634.0 59.5a1.2 1.2 0 1 0 2.4 0a1.2 1.2 0 1 0 -2.4 0M632.2 36.5a1.2 1.2 0 1 0 2.4 0a1.2 1.2 0 1 0 -2.4 0M627.0 54.3a1.2 1.2 0 1 0 2.4 0a1.2 1.2 0 1 0 -2.4 0M647.8 47.8a1.2 1.2 0 1 0 2.4 0a1.2 1.2 0 1 0 -2.4 0M637.5 38.8a1.2 1.2 0 1 0 2.4 0a1.2 1.2 0 1 0 -2.4 0M649.7 34.1a1.2 1.2 0 1 0 2.4 0a1.2 1.2 0 1 0 -2.4 0M637.9 48.6a1.2 1.2 0 1 0 2.4 0a1.2 1.2 0 1 0 -2.4 0M649.4 42.0a1.2 1.2 0 1 0 2.4 0a1.2 1.2 0 1 0 -2.4 0M633.9 33.1a1.2 1.2 0 1 0 2.4 0a1.2 1.2 0 1 0 -2.4 0M632.3 72.7a1.2 1.2 0 1 0 2.4 0a1.2 1.2 0 1 0 -2.4 0M636.0 64.9a1.2 1.2 0 1 0 2.4 0a1.2 1.2 0 1 0 -2.4 0M614.6 64.9a1.2 1.2 0 1 0 2.4 0a1.2 1.2 0 1 0 -2.4 0M643.4 51.5a1.2 1.2 0 1 0 2.4 0a1.2 1.2 0 1 0 -2.4 0M619.6 53.3a1.2 1.2 0 1 0 2.4 0a1.2 1.2 0 1 0 -2.4 0M650.1 38.1a1.2 1.2 0 1 0 2.4 0a1.2 1.2 0 1 0 -2.4 0M616.0 62.5a1.2 1.2 0 1 0 2.4 0a1.2 1.2 0 1 0 -2.4 0M641.2 47.7a1.2 1.2 0 1 0 2.4 0a1.2 1.2 0 1 0 -2.4 0M643.5 46.3a1.2 1.2 0 1 0 2.4 0a1.2 1.2 0 1 0 -2.4 0M634.9 68.0a1.2 1.2 0 1 0 2.4 0a1.2 1.2 0 1 0 -2.4 0M618.0 85.6a1.2 1.2 0 1 0 2.4 0a1.2 1.2 0 1 0 -2.4 0M645.1 52.0a1.2 1.2 0 1 0 2.4 0a1.2 1.2 0 1 0 -2.4 0M626.5 67.0a1.2 1.2 0 1 0 2.4 0a1.2 1.2 0 1 0 -2.4 0M625.3 56.8a1.2 1.2 0 1 0 2.4 0a1.2 1.2 0 1 0 -2.4 0M640.6 53.0a1.2 1.2 0 1 0 2.4 0a1.2 1.2 0 1 0 -2.4 0M676.1 34.8a1.2 1.2 0 1 0 2.4 0a1.2 1.2 0 1 0 -2.4 0M654.6 35.7a1.2 1.2 0 1 0 2.4 0a1.2 1.2 0 1 0 -2.4 0M663.0 58.6a1.2 1.2 0 1 0 2.4 0a1.2 1.2 0 1 0 -2.4 0M668.8 62.0a1.2 1.2 0 1 0 2.4 0a1.2 1.2 0 1 0 -2.4 0M659.0 35.1a1.2 1.2 0 1 0 2.4 0a1.2 1.2 0 1 0 -2.4 0M675.0 34.2a1.2 1.2 0 1 0 2.4 0a1.2 1.2 0 1 0 -2.4 0M667.1 39.3a1.2 1.2 0 1 0 2.4 0a1.2 1.2 0 1 0 -2.4 0M654.1 36.1a1.2 1.2 0 1 0 2.4 0a1.2 1.2 0 1 0 -2.4 0M656.0 45.5a1.2 1.2 0 1 0 2.4 0a1.2 1.2 0 1 0 -2.4 0M655.7 38.5a1.2 1.2 0 1 0 2.4 0a1.2 1.2 0 1 0 -2.4 0M663.4 42.2a1.2 1.2 0 1 0 2.4 0a1.2 1.2 0 1 0 -2.4 0M674.6 33.1a1.2 1.2 0 1 0 2.4 0a1.2 1.2 0 1 0 -2.4 0M655.0 34.3a1.2 1.2 0 1 0 2.4 0a1.2 1.2 0 1 0 -2.4 0M655.9 47.2a1.2 1.2 0 1 0 2.4 0a1.2 1.2 0 1 0 -2.4 0M657.4 30.7a1.2 1.2 0 1 0 2.4 0a1.2 1.2 0 1 0 -2.4 0M666.3 34.5a1.2 1.2 0 1 0 2.4 0a1.2 1.2 0 1 0 -2.4 0M662.8 45.7a1.2 1.2 0 1 0 2.4 0a1.2 1.2 0 1 0 -2.4 0M662.5 39.6a1.2 1.2 0 1 0 2.4 0a1.2 1.2 0 1 0 -2.4 0M655.8 35.6a1.2 1.2 0 1 0 2.4 0a1.2 1.2 0 1 0 -2.4 0M672.5 35.7a1.2 1.2 0 1 0 2.4 0a1.2 1.2 0 1 0 -2.4 0M664.0 32.4a1.2 1.2 0 1 0 2.4 0a1.2 1.2 0 1 0 -2.4 0M673.5 33.8a1.2 1.2 0 1 0 2.4 0a1.2 1.2 0 1 0 -2.4 0M653.0 35.5a1.2 1.2 0 1 0 2.4 0a1.2 1.2 0 1 0 -2.4 0M663.5 52.6a1.2 1.2 0 1 0 2.4 0a1.2 1.2 0 1 0 -2.4 0M661.3 33.1a1.2 1.2 0 1 0 2.4 0a1.2 1.2 0 1 0 -2.4 0M672.9 34.3a1.2 1.2 0 1 0 2.4 0a1.2 1.2 0 1 0 -2.4 0M669.3 46.9a1.2 1.2 0 1 0 2.4 0a1.2 1.2 0 1 0 -2.4 0M665.0 36.9a1.2 1.2 0 1 0 2.4 0a1.2 1.2 0 1 0 -2.4 0M656.2 39.6a1.2 1.2 0 1 0 2.4 0a1.2 1.2 0 1 0 -2.4 0M669.0 36.6a1.2 1.2 0 1 0 2.4 0a1.2 1.2 0 1 0 -2.4 0M674.3 36.8a1.2 1.2 0 1 0 2.4 0a1.2 1.2 0 1 0 -2.4 0M671.3 36.0a1.2 1.2 0 1 0 2.4 0a1.2 1.2 0 1 0 -2.4 0M676.0 38.1a1.2 1.2 0 1 0 2.4 0a1.2 1.2 0 1 0 -2.4 0M666.8 35.1a1.2 1.2 0 1 0 2.4 0a1.2 1.2 0 1 0 -2.4 0M659.9 35.1a1.2 1.2 0 1 0 2.4 0a1.2 1.2 0 1 0 -2.4 0M657.7 52.6a1.2 1.2 0 1 0 2.4 0a1.2 1.2 0 1 0 -2.4 0M671.9 43.2a1.2 1.2 0 1 0 2.4 0a1.2 1.2 0 1 0 -2.4 0M672.2 38.7a1.2 1.2 0 1 0 2.4 0a1.2 1.2 0 1 0 -2.4 0M667.8 34.5a1.2 1.2 0 1 0 2.4 0a1.2 1.2 0 1 0 -2.4 0M671.5 34.4a1.2 1.2 0 1 0 2.4 0a1.2 1.2 0 1 0 -2.4 0M664.2 33.1a1.2 1.2 0 1 0 2.4 0a1.2 1.2 0 1 0 -2.4 0M673.2 32.1a1.2 1.2 0 1 0 2.4 0a1.2 1.2 0 1 0 -2.4 0M669.3 35.9a1.2 1.2 0 1 0 2.4 0a1.2 1.2 0 1 0 -2.4 0M658.2 52.4a1.2 1.2 0 1 0 2.4 0a1.2 1.2 0 1 0 -2.4 0M666.7 33.6a1.2 1.2 0 1 0 2.4 0a1.2 1.2 0 1 0 -2.4 0M668.4 50.0a1.2 1.2 0 1 0 2.4 0a1.2 1.2 0 1 0 -2.4 0M657.2 34.5a1.2 1.2 0 1 0 2.4 0a1.2 1.2 0 1 0 -2.4 0M675.2 31.7a1.2 1.2 0 1 0 2.4 0a1.2 1.2 0 1 0 -2.4 0M672.0 35.2a1.2 1.2 0 1 0 2.4 0a1.2 1.2 0 1 0 -2.4 0M655.8 33.6a1.2 1.2 0 1 0 2.4 0a1.2 1.2 0 1 0 -2.4 0M657.6 53.6a1.2 1.2 0 1 0 2.4 0a1.2 1.2 0 1 0 -2.4 0M652.3 36.5a1.2 1.2 0 1 0 2.4 0a1.2 1.2 0 1 0 -2.4 0M675.3 35.6a1.2 1.2 0 1 0 2.4 0a1.2 1.2 0 1 0 -2.4 0M656.5 57.2a1.2 1.2 0 1 0 2.4 0a1.2 1.2 0 1 0 -2.4 0M672.7 30.9a1.2 1.2 0 1 0 2.4 0a1.2 1.2 0 1 0 -2.4 0M664.8 40.8a1.2 1.2 0 1 0 2.4 0a1.2 1.2 0 1 0 -2.4 0M653.6 38.9a1.2 1.2 0 1 0 2.4 0a1.2 1.2 0 1 0 -2.4 0M657.4 48.5a1.2 1.2 0 1 0 2.4 0a1.2 1.2 0 1 0 -2.4 0M658.6 69.4a1.2 1.2 0 1 0 2.4 0a1.2 1.2 0 1 0 -2.4 0M671.0 33.7a1.2 1.2 0 1 0 2.4 0a1.2 1.2 0 1 0 -2.4 0" fill="none" stroke="#20e020" stroke-width="0.6"/>
<line x1="382.6" y1="300.3" x2="680.6" y2="19" stroke="#22ee22" stroke-width="0.95"/>
<path d="M389.5 303.0a1.2 1.2 0 1 0 2.4 0a1.2 1.2 0 1 0 -2.4 0M387.9 276.8a1.2 1.2 0 1 0 2.4 0a1.2 1.2 0 1 0 -2.4 0M388.2 271.6a1.2 1.2 0 1 0 2.4 0a1.2 1.2 0 1 0 -2.4 0M391.7 272.6a1.2 1.2 0 1 0 2.4 0a1.2 1.2 0 1 0 -2.4 0M388.4 275.3a1.2 1.2 0 1 0 2.4 0a1.2 1.2 0 1 0 -2.4 0M390.9 259.9a1.2 1.2 0 1 0 2.4 0a1.2 1.2 0 1 0 -2.4 0M389.7 208.8a1.2 1.2 0 1 0 2.4 0a1.2 1.2 0 1 0 -2.4 0M387.8 281.5a1.2 1.2 0 1 0 2.4 0a1.2 1.2 0 1 0 -2.4 0M391.3 271.1a1.2 1.2 0 1 0 2.4 0a1.2 1.2 0 1 0 -2.4 0M388.4 252.1a1.2 1.2 0 1 0 2.4 0a1.2 1.2 0 1 0 -2.4 0M388.3 217.2a1.2 1.2 0 1 0 2.4 0a1.2 1.2 0 1 0 -2.4 0M387.3 266.7a1.2 1.2 0 1 0 2.4 0a1.2 1.2 0 1 0 -2.4 0M390.1 273.2a1.2 1.2 0 1 0 2.4 0a1.2 1.2 0 1 0 -2.4 0M388.9 266.1a1.2 1.2 0 1 0 2.4 0a1.2 1.2 0 1 0 -2.4 0M390.3 217.6a1.2 1.2 0 1 0 2.4 0a1.2 1.2 0 1 0 -2.4 0M387.7 283.6a1.2 1.2 0 1 0 2.4 0a1.2 1.2 0 1 0 -2.4 0M389.4 228.3a1.2 1.2 0 1 0 2.4 0a1.2 1.2 0 1 0 -2.4 0M387.1 228.0a1.2 1.2 0 1 0 2.4 0a1.2 1.2 0 1 0 -2.4 0M391.0 239.2a1.2 1.2 0 1 0 2.4 0a1.2 1.2 0 1 0 -2.4 0M389.5 162.3a1.2 1.2 0 1 0 2.4 0a1.2 1.2 0 1 0 -2.4 0M389.8 275.2a1.2 1.2 0 1 0 2.4 0a1.2 1.2 0 1 0 -2.4 0M390.0 270.2a1.2 1.2 0 1 0 2.4 0a1.2 1.2 0 1 0 -2.4 0M409.1 241.8a1.2 1.2 0 1 0 2.4 0a1.2 1.2 0 1 0 -2.4 0M440.1 166.4a1.2 1.2 0 1 0 2.4 0a1.2 1.2 0 1 0 -2.4 0M416.9 235.4a1.2 1.2 0 1 0 2.4 0a1.2 1.2 0 1 0 -2.4 0M428.3 251.1a1.2 1.2 0 1 0 2.4 0a1.2 1.2 0 1 0 -2.4 0M398.4 259.3a1.2 1.2 0 1 0 2.4 0a1.2 1.2 0 1 0 -2.4 0M398.2 280.6a1.2 1.2 0 1 0 2.4 0a1.2 1.2 0 1 0 -2.4 0M403.2 238.2a1.2 1.2 0 1 0 2.4 0a1.2 1.2 0 1 0 -2.4 0M438.1 165.1a1.2 1.2 0 1 0 2.4 0a1.2 1.2 0 1 0 -2.4 0M427.6 269.9a1.2 1.2 0 1 0 2.4 0a1.2 1.2 0 1 0 -2.4 0M436.3 248.6a1.2 1.2 0 1 0 2.4 0a1.2 1.2 0 1 0 -2.4 0M425.8 166.1a1.2 1.2 0 1 0 2.4 0a1.2 1.2 0 1 0 -2.4 0M413.7 241.0a1.2 1.2 0 1 0 2.4 0a1.2 1.2 0 1 0 -2.4 0M419.3 252.4a1.2 1.2 0 1 0 2.4 0a1.2 1.2 0 1 0 -2.4 0M423.2 265.2a1.2 1.2 0 1 0 2.4 0a1.2 1.2 0 1 0 -2.4 0M436.9 235.9a1.2 1.2 0 1 0 2.4 0a1.2 1.2 0 1 0 -2.4 0M415.3 225.4a1.2 1.2 0 1 0 2.4 0a1.2 1.2 0 1 0 -2.4 0M438.5 240.0a1.2 1.2 0 1 0 2.4 0a1.2 1.2 0 1 0 -2.4 0M424.2 255.9a1.2 1.2 0 1 0 2.4 0a1.2 1.2 0 1 0 -2.4 0M435.3 213.7a1.2 1.2 0 1 0 2.4 0a1.2 1.2 0 1 0 -2.4 0M418.3 188.4a1.2 1.2 0 1 0 2.4 0a1.2 1.2 0 1 0 -2.4 0M428.3 230.1a1.2 1.2 0 1 0 2.4 0a1.2 1.2 0 1 0 -2.4 0M410.2 257.3a1.2 1.2 0 1 0 2.4 0a1.2 1.2 0 1 0 -2.4 0M419.6 275.2a1.2 1.2 0 1 0 2.4 0a1.2 1.2 0 1 0 -2.4 0M403.9 261.5a1.2 1.2 0 1 0 2.4 0a1.2 1.2 0 1 0 -2.4 0M398.0 191.5a1.2 1.2 0 1 0 2.4 0a1.2 1.2 0 1 0 -2.4 0M394.9 300.0a1.2 1.2 0 1 0 2.4 0a1.2 1.2 0 1 0 -2.4 0M428.8 245.8a1.2 1.2 0 1 0 2.4 0a1.2 1.2 0 1 0 -2.4 0M416.2 186.0a1.2 1.2 0 1 0 2.4 0a1.2 1.2 0 1 0 -2.4 0M438.8 233.4a1.2 1.2 0 1 0 2.4 0a1.2 1.2 0 1 0 -2.4 0M435.6 243.8a1.2 1.2 0 1 0 2.4 0a1.2 1.2 0 1 0 -2.4 0M412.6 248.9a1.2 1.2 0 1 0 2.4 0a1.2 1.2 0 1 0 -2.4 0M442.6 223.0a1.2 1.2 0 1 0 2.4 0a1.2 1.2 0 1 0 -2.4 0M423.1 156.6a1.2 1.2 0 1 0 2.4 0a1.2 1.2 0 1 0 -2.4 0M432.0 224.4a1.2 1.2 0 1 0 2.4 0a1.2 1.2 0 1 0 -2.4 0M413.7 243.4a1.2 1.2 0 1 0 2.4 0a1.2 1.2 0 1 0 -2.4 0M402.9 238.3a1.2 1.2 0 1 0 2.4 0a1.2 1.2 0 1 0 -2.4 0M401.7 208.4a1.2 1.2 0 1 0 2.4 0a1.2 1.2 0 1 0 -2.4 0M402.1 298.4a1.2 1.2 0 1 0 2.4 0a1.2 1.2 0 1 0 -2.4 0M423.7 226.5a1.2 1.2 0 1 0 2.4 0a1.2 1.2 0 1 0 -2.4 0M398.6 246.1a1.2 1.2 0 1 0 2.4 0a1.2 1.2 0 1 0 -2.4 0M435.5 237.6a1.2 1.2 0 1 0 2.4 0a1.2 1.2 0 1 0 -2.4 0M398.0 284.6a1.2 1.2 0 1 0 2.4 0a1.2 1.2 0 1 0 -2.4 0M461.0 243.6a1.2 1.2 0 1 0 2.4 0a1.2 1.2 0 1 0 -2.4 0M462.5 247.3a1.2 1.2 0 1 0 2.4 0a1.2 1.2 0 1 0 -2.4 0M467.5 189.9a1.2 1.2 0 1 0 2.4 0a1.2 1.2 0 1 0 -2.4 0M463.1 176.2a1.2 1.2 0 1 0 2.4 0a1.2 1.2 0 1 0 -2.4 0M479.5 202.8a1.2 1.2 0 1 0 2.4 0a1.2 1.2 0 1 0 -2.4 0M472.4 147.3a1.2 1.2 0 1 0 2.4 0a1.2 1.2 0 1 0 -2.4 0M465.7 213.6a1.2 1.2 0 1 0 2.4 0a1.2 1.2 0 1 0 -2.4 0M467.4 154.0a1.2 1.2 0 1 0 2.4 0a1.2 1.2 0 1 0 -2.4 0M463.2 231.3a1.2 1.2 0 1 0 2.4 0a1.2 1.2 0 1 0 -2.4 0M480.5 187.6a1.2 1.2 0 1 0 2.4 0a1.2 1.2 0 1 0 -2.4 0M470.1 218.9a1.2 1.2 0 1 0 2.4 0a1.2 1.2 0 1 0 -2.4 0M465.0 241.6a1.2 1.2 0 1 0 2.4 0a1.2 1.2 0 1 0 -2.4 0M445.6 201.6a1.2 1.2 0 1 0 2.4 0a1.2 1.2 0 1 0 -2.4 0M455.2 199.0a1.2 1.2 0 1 0 2.4 0a1.2 1.2 0 1 0 -2.4 0M479.1 186.5a1.2 1.2 0 1 0 2.4 0a1.2 1.2 0 1 0 -2.4 0M473.7 169.7a1.2 1.2 0 1 0 2.4 0a1.2 1.2 0 1 0 -2.4 0M444.4 130.2a1.2 1.2 0 1 0 2.4 0a1.2 1.2 0 1 0 -2.4 0M448.2 207.8a1.2 1.2 0 1 0 2.4 0a1.2 1.2 0 1 0 -2.4 0M446.2 217.2a1.2 1.2 0 1 0 2.4 0a1.2 1.2 0 1 0 -2.4 0M481.2 169.2a1.2 1.2 0 1 0 2.4 0a1.2 1.2 0 1 0 -2.4 0M460.9 169.3a1.2 1.2 0 1 0 2.4 0a1.2 1.2 0 1 0 -2.4 0M456.0 216.8a1.2 1.2 0 1 0 2.4 0a1.2 1.2 0 1 0 -2.4 0M445.8 221.5a1.2 1.2 0 1 0 2.4 0a1.2 1.2 0 1 0 -2.4 0M458.7 127.6a1.2 1.2 0 1 0 2.4 0a1.2 1.2 0 1 0 -2.4 0M457.8 202.7a1.2 1.2 0 1 0 2.4 0a1.2 1.2 0 1 0 -2.4 0M463.8 221.0a1.2 1.2 0 1 0 2.4 0a1.2 1.2 0 1 0 -2.4 0M449.6 229.7a1.2 1.2 0 1 0 2.4 0a1.2 1.2 0 1 0 -2.4 0M451.9 193.5a1.2 1.2 0 1 0 2.4 0a1.2 1.2 0 1 0 -2.4 0M460.7 221.7a1.2 1.2 0 1 0 2.4 0a1.2 1.2 0 1 0 -2.4 0M455.4 229.6a1.2 1.2 0 1 0 2.4 0a1.2 1.2 0 1 0 -2.4 0M467.2 141.7a1.2 1.2 0 1 0 2.4 0a1.2 1.2 0 1 0 -2.4 0M454.8 214.9a1.2 1.2 0 1 0 2.4 0a1.2 1.2 0 1 0 -2.4 0M478.4 191.3a1.2 1.2 0 1 0 2.4 0a1.2 1.2 0 1 0 -2.4 0M480.4 183.7a1.2 1.2 0 1 0 2.4 0a1.2 1.2 0 1 0 -2.4 0M446.2 233.2a1.2 1.2 0 1 0 2.4 0a1.2 1.2 0 1 0 -2.4 0M451.9 226.2a1.2 1.2 0 1 0 2.4 0a1.2 1.2 0 1 0 -2.4 0M465.3 210.5a1.2 1.2 0 1 0 2.4 0a1.2 1.2 0 1 0 -2.4 0M446.4 127.3a1.2 1.2 0 1 0 2.4 0a1.2 1.2 0 1 0 -2.4 0M461.3 211.7a1.2 1.2 0 1 0 2.4 0a1.2 1.2 0 1 0 -2.4 0M469.3 171.5a1.2 1.2 0 1 0 2.4 0a1.2 1.2 0 1 0 -2.4 0M478.2 220.9a1.2 1.2 0 1 0 2.4 0a1.2 1.2 0 1 0 -2.4 0M476.8 209.0a1.2 1.2 0 1 0 2.4 0a1.2 1.2 0 1 0 -2.4 0M474.0 203.3a1.2 1.2 0 1 0 2.4 0a1.2 1.2 0 1 0 -2.4 0M446.0 223.7a1.2 1.2 0 1 0 2.4 0a1.2 1.2 0 1 0 -2.4 0M481.0 151.5a1.2 1.2 0 1 0 2.4 0a1.2 1.2 0 1 0 -2.4 0M447.3 219.9a1.2 1.2 0 1 0 2.4 0a1.2 1.2 0 1 0 -2.4 0M453.6 220.4a1.2 1.2 0 1 0 2.4 0a1.2 1.2 0 1 0 -2.4 0M467.5 185.8a1.2 1.2 0 1 0 2.4 0a1.2 1.2 0 1 0 -2.4 0M458.6 219.2a1.2 1.2 0 1 0 2.4 0a1.2 1.2 0 1 0 -2.4 0M460.9 209.4a1.2 1.2 0 1 0 2.4 0a1.2 1.2 0 1 0 -2.4 0M474.5 201.6a1.2 1.2 0 1 0 2.4 0a1.2 1.2 0 1 0 -2.4 0M475.2 215.0a1.2 1.2 0 1 0 2.4 0a1.2 1.2 0 1 0 -2.4 0M464.7 216.8a1.2 1.2 0 1 0 2.4 0a1.2 1.2 0 1 0 -2.4 0M474.0 215.7a1.2 1.2 0 1 0 2.4 0a1.2 1.2 0 1 0 -2.4 0M520.3 171.2a1.2 1.2 0 1 0 2.4 0a1.2 1.2 0 1 0 -2.4 0M574.1 125.2a1.2 1.2 0 1 0 2.4 0a1.2 1.2 0 1 0 -2.4 0M539.1 154.1a1.2 1.2 0 1 0 2.4 0a1.2 1.2 0 1 0 -2.4 0M573.4 101.0a1.2 1.2 0 1 0 2.4 0a1.2 1.2 0 1 0 -2.4 0M486.0 154.4a1.2 1.2 0 1 0 2.4 0a1.2 1.2 0 1 0 -2.4 0M565.4 131.1a1.2 1.2 0 1 0 2.4 0a1.2 1.2 0 1 0 -2.4 0M500.1 194.3a1.2 1.2 0 1 0 2.4 0a1.2 1.2 0 1 0 -2.4 0M533.8 152.1a1.2 1.2 0 1 0 2.4 0a1.2 1.2 0 1 0 -2.4 0M509.2 176.7a1.2 1.2 0 1 0 2.4 0a1.2 1.2 0 1 0 -2.4 0M491.8 196.6a1.2 1.2 0 1 0 2.4 0a1.2 1.2 0 1 0 -2.4 0M482.2 210.2a1.2 1.2 0 1 0 2.4 0a1.2 1.2 0 1 0 -2.4 0M567.7 112.1a1.2 1.2 0 1 0 2.4 0a1.2 1.2 0 1 0 -2.4 0M545.4 133.0a1.2 1.2 0 1 0 2.4 0a1.2 1.2 0 1 0 -2.4 0M506.3 164.7a1.2 1.2 0 1 0 2.4 0a1.2 1.2 0 1 0 -2.4 0M525.9 155.2a1.2 1.2 0 1 0 2.4 0a1.2 1.2 0 1 0 -2.4 0M493.0 170.4a1.2 1.2 0 1 0 2.4 0a1.2 1.2 0 1 0 -2.4 0M573.5 100.3a1.2 1.2 0 1 0 2.4 0a1.2 1.2 0 1 0 -2.4 0M571.2 149.3a1.2 1.2 0 1 0 2.4 0a1.2 1.2 0 1 0 -2.4 0M505.0 160.7a1.2 1.2 0 1 0 2.4 0a1.2 1.2 0 1 0 -2.4 0M542.5 133.9a1.2 1.2 0 1 0 2.4 0a1.2 1.2 0 1 0 -2.4 0M515.9 144.1a1.2 1.2 0 1 0 2.4 0a1.2 1.2 0 1 0 -2.4 0M547.9 134.8a1.2 1.2 0 1 0 2.4 0a1.2 1.2 0 1 0 -2.4 0M490.1 180.5a1.2 1.2 0 1 0 2.4 0a1.2 1.2 0 1 0 -2.4 0M526.3 157.9a1.2 1.2 0 1 0 2.4 0a1.2 1.2 0 1 0 -2.4 0M537.6 149.4a1.2 1.2 0 1 0 2.4 0a1.2 1.2 0 1 0 -2.4 0M541.1 167.2a1.2 1.2 0 1 0 2.4 0a1.2 1.2 0 1 0 -2.4 0M547.4 147.2a1.2 1.2 0 1 0 2.4 0a1.2 1.2 0 1 0 -2.4 0M504.7 109.0a1.2 1.2 0 1 0 2.4 0a1.2 1.2 0 1 0 -2.4 0M496.3 185.3a1.2 1.2 0 1 0 2.4 0a1.2 1.2 0 1 0 -2.4 0M518.8 164.3a1.2 1.2 0 1 0 2.4 0a1.2 1.2 0 1 0 -2.4 0M535.7 172.8a1.2 1.2 0 1 0 2.4 0a1.2 1.2 0 1 0 -2.4 0M572.8 104.4a1.2 1.2 0 1 0 2.4 0a1.2 1.2 0 1 0 -2.4 0M549.1 146.3a1.2 1.2 0 1 0 2.4 0a1.2 1.2 0 1 0 -2.4 0M551.7 114.3a1.2 1.2 0 1 0 2.4 0a1.2 1.2 0 1 0 -2.4 0M507.2 161.5a1.2 1.2 0 1 0 2.4 0a1.2 1.2 0 1 0 -2.4 0M506.4 186.0a1.2 1.2 0 1 0 2.4 0a1.2 1.2 0 1 0 -2.4 0M521.8 164.0a1.2 1.2 0 1 0 2.4 0a1.2 1.2 0 1 0 -2.4 0M509.8 184.9a1.2 1.2 0 1 0 2.4 0a1.2 1.2 0 1 0 -2.4 0M571.9 125.7a1.2 1.2 0 1 0 2.4 0a1.2 1.2 0 1 0 -2.4 0M496.4 114.1a1.2 1.2 0 1 0 2.4 0a1.2 1.2 0 1 0 -2.4 0M530.9 151.2a1.2 1.2 0 1 0 2.4 0a1.2 1.2 0 1 0 -2.4 0M528.5 160.0a1.2 1.2 0 1 0 2.4 0a1.2 1.2 0 1 0 -2.4 0M568.3 85.3a1.2 1.2 0 1 0 2.4 0a1.2 1.2 0 1 0 -2.4 0M551.6 118.5a1.2 1.2 0 1 0 2.4 0a1.2 1.2 0 1 0 -2.4 0M565.3 98.7a1.2 1.2 0 1 0 2.4 0a1.2 1.2 0 1 0 -2.4 0M492.4 178.0a1.2 1.2 0 1 0 2.4 0a1.2 1.2 0 1 0 -2.4 0M500.4 189.6a1.2 1.2 0 1 0 2.4 0a1.2 1.2 0 1 0 -2.4 0M488.1 192.6a1.2 1.2 0 1 0 2.4 0a1.2 1.2 0 1 0 -2.4 0M560.3 114.0a1.2 1.2 0 1 0 2.4 0a1.2 1.2 0 1 0 -2.4 0M573.0 113.8a1.2 1.2 0 1 0 2.4 0a1.2 1.2 0 1 0 -2.4 0M483.2 180.6a1.2 1.2 0 1 0 2.4 0a1.2 1.2 0 1 0 -2.4 0M556.6 136.9a1.2 1.2 0 1 0 2.4 0a1.2 1.2 0 1 0 -2.4 0M550.7 155.3a1.2 1.2 0 1 0 2.4 0a1.2 1.2 0 1 0 -2.4 0M567.8 119.0a1.2 1.2 0 1 0 2.4 0a1.2 1.2 0 1 0 -2.4 0M507.4 204.7a1.2 1.2 0 1 0 2.4 0a1.2 1.2 0 1 0 -2.4 0M549.5 131.5a1.2 1.2 0 1 0 2.4 0a1.2 1.2 0 1 0 -2.4 0M504.3 135.4a1.2 1.2 0 1 0 2.4 0a1.2 1.2 0 1 0 -2.4 0M489.0 192.2a1.2 1.2 0 1 0 2.4 0a1.2 1.2 0 1 0 -2.4 0M552.4 156.2a1.2 1.2 0 1 0 2.4 0a1.2 1.2 0 1 0 -2.4 0M485.8 188.9a1.2 1.2 0 1 0 2.4 0a1.2 1.2 0 1 0 -2.4 0M548.1 149.1a1.2 1.2 0 1 0 2.4 0a1.2 1.2 0 1 0 -2.4 0M508.7 133.2a1.2 1.2 0 1 0 2.4 0a1.2 1.2 0 1 0 -2.4 0M528.0 165.4a1.2 1.2 0 1 0 2.4 0a1.2 1.2 0 1 0 -2.4 0M566.2 131.1a1.2 1.2 0 1 0 2.4 0a1.2 1.2 0 1 0 -2.4 0M504.9 171.3a1.2 1.2 0 1 0 2.4 0a1.2 1.2 0 1 0 -2.4 0M515.5 180.3a1.2 1.2 0 1 0 2.4 0a1.2 1.2 0 1 0 -2.4 0M499.9 180.1a1.2 1.2 0 1 0 2.4 0a1.2 1.2 0 1 0 -2.4 0M526.7 143.9a1.2 1.2 0 1 0 2.4 0a1.2 1.2 0 1 0 -2.4 0M499.0 227.0a1.2 1.2 0 1 0 2.4 0a1.2 1.2 0 1 0 -2.4 0M557.5 139.0a1.2 1.2 0 1 0 2.4 0a1.2 1.2 0 1 0 -2.4 0M540.0 168.2a1.2 1.2 0 1 0 2.4 0a1.2 1.2 0 1 0 -2.4 0M508.6 170.3a1.2 1.2 0 1 0 2.4 0a1.2 1.2 0 1 0 -2.4 0M574.0 94.6a1.2 1.2 0 1 0 2.4 0a1.2 1.2 0 1 0 -2.4 0M545.4 138.8a1.2 1.2 0 1 0 2.4 0a1.2 1.2 0 1 0 -2.4 0M507.0 160.8a1.2 1.2 0 1 0 2.4 0a1.2 1.2 0 1 0 -2.4 0M483.0 110.1a1.2 1.2 0 1 0 2.4 0a1.2 1.2 0 1 0 -2.4 0M566.3 123.5a1.2 1.2 0 1 0 2.4 0a1.2 1.2 0 1 0 -2.4 0M572.4 117.2a1.2 1.2 0 1 0 2.4 0a1.2 1.2 0 1 0 -2.4 0M498.0 205.1a1.2 1.2 0 1 0 2.4 0a1.2 1.2 0 1 0 -2.4 0M496.4 178.7a1.2 1.2 0 1 0 2.4 0a1.2 1.2 0 1 0 -2.4 0M538.4 142.9a1.2 1.2 0 1 0 2.4 0a1.2 1.2 0 1 0 -2.4 0M575.5 91.2a1.2 1.2 0 1 0 2.4 0a1.2 1.2 0 1 0 -2.4 0M573.0 121.5a1.2 1.2 0 1 0 2.4 0a1.2 1.2 0 1 0 -2.4 0M575.4 146.9a1.2 1.2 0 1 0 2.4 0a1.2 1.2 0 1 0 -2.4 0M505.1 181.9a1.2 1.2 0 1 0 2.4 0a1.2 1.2 0 1 0 -2.4 0M538.5 154.0a1.2 1.2 0 1 0 2.4 0a1.2 1.2 0 1 0 -2.4 0M523.1 168.7a1.2 1.2 0 1 0 2.4 0a1.2 1.2 0 1 0 -2.4 0M503.8 181.7a1.2 1.2 0 1 0 2.4 0a1.2 1.2 0 1 0 -2.4 0M488.0 199.4a1.2 1.2 0 1 0 2.4 0a1.2 1.2 0 1 0 -2.4 0M497.8 171.3a1.2 1.2 0 1 0 2.4 0a1.2 1.2 0 1 0 -2.4 0M515.8 178.1a1.2 1.2 0 1 0 2.4 0a1.2 1.2 0 1 0 -2.4 0M496.1 193.2a1.2 1.2 0 1 0 2.4 0a1.2 1.2 0 1 0 -2.4 0M486.1 195.9a1.2 1.2 0 1 0 2.4 0a1.2 1.2 0 1 0 -2.4 0M540.8 122.9a1.2 1.2 0 1 0 2.4 0a1.2 1.2 0 1 0 -2.4 0M528.5 177.3a1.2 1.2 0 1 0 2.4 0a1.2 1.2 0 1 0 -2.4 0M504.9 176.6a1.2 1.2 0 1 0 2.4 0a1.2 1.2 0 1 0 -2.4 0M544.2 171.4a1.2 1.2 0 1 0 2.4 0a1.2 1.2 0 1 0 -2.4 0M570.1 125.3a1.2 1.2 0 1 0 2.4 0a1.2 1.2 0 1 0 -2.4 0M515.3 162.9a1.2 1.2 0 1 0 2.4 0a1.2 1.2 0 1 0 -2.4 0M542.9 137.1a1.2 1.2 0 1 0 2.4 0a1.2 1.2 0 1 0 -2.4 0M502.6 185.6a1.2 1.2 0 1 0 2.4 0a1.2 1.2 0 1 0 -2.4 0M570.8 95.6a1.2 1.2 0 1 0 2.4 0a1.2 1.2 0 1 0 -2.4 0M540.3 131.7a1.2 1.2 0 1 0 2.4 0a1.2 1.2 0 1 0 -2.4 0M506.2 177.8a1.2 1.2 0 1 0 2.4 0a1.2 1.2 0 1 0 -2.4 0M496.9 158.3a1.2 1.2 0 1 0 2.4 0a1.2 1.2 0 1 0 -2.4 0M498.8 186.6a1.2 1.2 0 1 0 2.4 0a1.2 1.2 0 1 0 -2.4 0M510.9 213.3a1.2 1.2 0 1 0 2.4 0a1.2 1.2 0 1 0 -2.4 0M559.8 75.9a1.2 1.2 0 1 0 2.4 0a1.2 1.2 0 1 0 -2.4 0M525.1 107.3a1.2 1.2 0 1 0 2.4 0a1.2 1.2 0 1 0 -2.4 0M508.1 184.2a1.2 1.2 0 1 0 2.4 0a1.2 1.2 0 1 0 -2.4 0M521.5 183.5a1.2 1.2 0 1 0 2.4 0a1.2 1.2 0 1 0 -2.4 0M507.2 186.3a1.2 1.2 0 1 0 2.4 0a1.2 1.2 0 1 0 -2.4 0M551.3 139.9a1.2 1.2 0 1 0 2.4 0a1.2 1.2 0 1 0 -2.4 0M487.4 209.7a1.2 1.2 0 1 0 2.4 0a1.2 1.2 0 1 0 -2.4 0M512.4 170.8a1.2 1.2 0 1 0 2.4 0a1.2 1.2 0 1 0 -2.4 0M499.0 206.2a1.2 1.2 0 1 0 2.4 0a1.2 1.2 0 1 0 -2.4 0M551.7 131.5a1.2 1.2 0 1 0 2.4 0a1.2 1.2 0 1 0 -2.4 0M498.9 152.7a1.2 1.2 0 1 0 2.4 0a1.2 1.2 0 1 0 -2.4 0M510.3 178.6a1.2 1.2 0 1 0 2.4 0a1.2 1.2 0 1 0 -2.4 0M487.2 192.9a1.2 1.2 0 1 0 2.4 0a1.2 1.2 0 1 0 -2.4 0M553.4 166.9a1.2 1.2 0 1 0 2.4 0a1.2 1.2 0 1 0 -2.4 0M516.3 161.4a1.2 1.2 0 1 0 2.4 0a1.2 1.2 0 1 0 -2.4 0M543.9 148.6a1.2 1.2 0 1 0 2.4 0a1.2 1.2 0 1 0 -2.4 0M502.4 156.9a1.2 1.2 0 1 0 2.4 0a1.2 1.2 0 1 0 -2.4 0M483.9 186.2a1.2 1.2 0 1 0 2.4 0a1.2 1.2 0 1 0 -2.4 0M512.4 115.7a1.2 1.2 0 1 0 2.4 0a1.2 1.2 0 1 0 -2.4 0M555.6 132.1a1.2 1.2 0 1 0 2.4 0a1.2 1.2 0 1 0 -2.4 0M561.1 119.0a1.2 1.2 0 1 0 2.4 0a1.2 1.2 0 1 0 -2.4 0M514.9 158.8a1.2 1.2 0 1 0 2.4 0a1.2 1.2 0 1 0 -2.4 0M562.0 127.7a1.2 1.2 0 1 0 2.4 0a1.2 1.2 0 1 0 -2.4 0M486.6 202.6a1.2 1.2 0 1 0 2.4 0a1.2 1.2 0 1 0 -2.4 0M531.3 146.2a1.2 1.2 0 1 0 2.4 0a1.2 1.2 0 1 0 -2.4 0M506.2 161.6a1.2 1.2 0 1 0 2.4 0a1.2 1.2 0 1 0 -2.4 0M523.4 143.1a1.2 1.2 0 1 0 2.4 0a1.2 1.2 0 1 0 -2.4 0M566.4 115.1a1.2 1.2 0 1 0 2.4 0a1.2 1.2 0 1 0 -2.4 0M510.5 191.1a1.2 1.2 0 1 0 2.4 0a1.2 1.2 0 1 0 -2.4 0M571.3 104.4a1.2 1.2 0 1 0 2.4 0a1.2 1.2 0 1 0 -2.4 0M492.2 198.8a1.2 1.2 0 1 0 2.4 0a1.2 1.2 0 1 0 -2.4 0M522.5 190.8a1.2 1.2 0 1 0 2.4 0a1.2 1.2 0 1 0 -2.4 0M549.0 128.2a1.2 1.2 0 1 0 2.4 0a1.2 1.2 0 1 0 -2.4 0M514.5 169.6a1.2 1.2 0 1 0 2.4 0a1.2 1.2 0 1 0 -2.4 0M528.5 139.9a1.2 1.2 0 1 0 2.4 0a1.2 1.2 0 1 0 -2.4 0M488.5 148.5a1.2 1.2 0 1 0 2.4 0a1.2 1.2 0 1 0 -2.4 0M511.3 165.7a1.2 1.2 0 1 0 2.4 0a1.2 1.2 0 1 0 -2.4 0M550.5 122.4a1.2 1.2 0 1 0 2.4 0a1.2 1.2 0 1 0 -2.4 0M491.9 191.3a1.2 1.2 0 1 0 2.4 0a1.2 1.2 0 1 0 -2.4 0M504.3 195.4a1.2 1.2 0 1 0 2.4 0a1.2 1.2 0 1 0 -2.4 0M497.5 199.0a1.2 1.2 0 1 0 2.4 0a1.2 1.2 0 1 0 -2.4 0M493.3 145.5a1.2 1.2 0 1 0 2.4 0a1.2 1.2 0 1 0 -2.4 0M558.9 164.6a1.2 1.2 0 1 0 2.4 0a1.2 1.2 0 1 0 -2.4 0M546.8 156.3a1.2 1.2 0 1 0 2.4 0a1.2 1.2 0 1 0 -2.4 0M517.8 174.6a1.2 1.2 0 1 0 2.4 0a1.2 1.2 0 1 0 -2.4 0M518.9 175.6a1.2 1.2 0 1 0 2.4 0a1.2 1.2 0 1 0 -2.4 0M550.8 150.2a1.2 1.2 0 1 0 2.4 0a1.2 1.2 0 1 0 -2.4 0M539.0 131.1a1.2 1.2 0 1 0 2.4 0a1.2 1.2 0 1 0 -2.4 0M568.6 67.1a1.2 1.2 0 1 0 2.4 0a1.2 1.2 0 1 0 -2.4 0M527.5 164.0a1.2 1.2 0 1 0 2.4 0a1.2 1.2 0 1 0 -2.4 0M533.4 163.0a1.2 1.2 0 1 0 2.4 0a1.2 1.2 0 1 0 -2.4 0M511.2 178.5a1.2 1.2 0 1 0 2.4 0a1.2 1.2 0 1 0 -2.4 0M524.8 184.9a1.2 1.2 0 1 0 2.4 0a1.2 1.2 0 1 0 -2.4 0M534.2 130.1a1.2 1.2 0 1 0 2.4 0a1.2 1.2 0 1 0 -2.4 0M541.7 183.6a1.2 1.2 0 1 0 2.4 0a1.2 1.2 0 1 0 -2.4 0M528.0 167.0a1.2 1.2 0 1 0 2.4 0a1.2 1.2 0 1 0 -2.4 0M572.0 81.0a1.2 1.2 0 1 0 2.4 0a1.2 1.2 0 1 0 -2.4 0M555.3 116.3a1.2 1.2 0 1 0 2.4 0a1.2 1.2 0 1 0 -2.4 0M494.2 235.2a1.2 1.2 0 1 0 2.4 0a1.2 1.2 0 1 0 -2.4 0M558.9 140.9a1.2 1.2 0 1 0 2.4 0a1.2 1.2 0 1 0 -2.4 0M568.7 99.3a1.2 1.2 0 1 0 2.4 0a1.2 1.2 0 1 0 -2.4 0M559.1 131.9a1.2 1.2 0 1 0 2.4 0a1.2 1.2 0 1 0 -2.4 0M514.3 165.8a1.2 1.2 0 1 0 2.4 0a1.2 1.2 0 1 0 -2.4 0M516.7 156.2a1.2 1.2 0 1 0 2.4 0a1.2 1.2 0 1 0 -2.4 0M504.9 194.8a1.2 1.2 0 1 0 2.4 0a1.2 1.2 0 1 0 -2.4 0M526.5 62.5a1.2 1.2 0 1 0 2.4 0a1.2 1.2 0 1 0 -2.4 0M562.3 149.9a1.2 1.2 0 1 0 2.4 0a1.2 1.2 0 1 0 -2.4 0M554.6 134.4a1.2 1.2 0 1 0 2.4 0a1.2 1.2 0 1 0 -2.4 0M544.5 153.6a1.2 1.2 0 1 0 2.4 0a1.2 1.2 0 1 0 -2.4 0M544.2 87.3a1.2 1.2 0 1 0 2.4 0a1.2 1.2 0 1 0 -2.4 0M503.0 187.8a1.2 1.2 0 1 0 2.4 0a1.2 1.2 0 1 0 -2.4 0M557.9 131.8a1.2 1.2 0 1 0 2.4 0a1.2 1.2 0 1 0 -2.4 0M590.4 98.9a1.2 1.2 0 1 0 2.4 0a1.2 1.2 0 1 0 -2.4 0M610.2 122.2a1.2 1.2 0 1 0 2.4 0a1.2 1.2 0 1 0 -2.4 0M588.9 102.4a1.2 1.2 0 1 0 2.4 0a1.2 1.2 0 1 0 -2.4 0M580.0 90.7a1.2 1.2 0 1 0 2.4 0a1.2 1.2 0 1 0 -2.4 0M604.1 86.1a1.2 1.2 0 1 0 2.4 0a1.2 1.2 0 1 0 -2.4 0M580.6 92.7a1.2 1.2 0 1 0 2.4 0a1.2 1.2 0 1 0 -2.4 0M609.4 90.7a1.2 1.2 0 1 0 2.4 0a1.2 1.2 0 1 0 -2.4 0M592.1 83.8a1.2 1.2 0 1 0 2.4 0a1.2 1.2 0 1 0 -2.4 0M606.0 90.5a1.2 1.2 0 1 0 2.4 0a1.2 1.2 0 1 0 -2.4 0M578.5 115.3a1.2 1.2 0 1 0 2.4 0a1.2 1.2 0 1 0 -2.4 0M597.1 74.4a1.2 1.2 0 1 0 2.4 0a1.2 1.2 0 1 0 -2.4 0M602.1 97.4a1.2 1.2 0 1 0 2.4 0a1.2 1.2 0 1 0 -2.4 0M581.4 142.9a1.2 1.2 0 1 0 2.4 0a1.2 1.2 0 1 0 -2.4 0M599.5 83.0a1.2 1.2 0 1 0 2.4 0a1.2 1.2 0 1 0 -2.4 0M588.0 111.5a1.2 1.2 0 1 0 2.4 0a1.2 1.2 0 1 0 -2.4 0M590.3 105.7a1.2 1.2 0 1 0 2.4 0a1.2 1.2 0 1 0 -2.4 0M600.0 96.0a1.2 1.2 0 1 0 2.4 0a1.2 1.2 0 1 0 -2.4 0M581.4 91.9a1.2 1.2 0 1 0 2.4 0a1.2 1.2 0 1 0 -2.4 0M583.5 105.2a1.2 1.2 0 1 0 2.4 0a1.2 1.2 0 1 0 -2.4 0M606.1 131.7a1.2 1.2 0 1 0 2.4 0a1.2 1.2 0 1 0 -2.4 0M603.6 68.6a1.2 1.2 0 1 0 2.4 0a1.2 1.2 0 1 0 -2.4 0M593.7 107.5a1.2 1.2 0 1 0 2.4 0a1.2 1.2 0 1 0 -2.4 0M587.2 124.0a1.2 1.2 0 1 0 2.4 0a1.2 1.2 0 1 0 -2.4 0M602.7 92.0a1.2 1.2 0 1 0 2.4 0a1.2 1.2 0 1 0 -2.4 0M588.3 72.1a1.2 1.2 0 1 0 2.4 0a1.2 1.2 0 1 0 -2.4 0M609.6 108.5a1.2 1.2 0 1 0 2.4 0a1.2 1.2 0 1 0 -2.4 0M584.1 131.6a1.2 1.2 0 1 0 2.4 0a1.2 1.2 0 1 0 -2.4 0M607.0 104.4a1.2 1.2 0 1 0 2.4 0a1.2 1.2 0 1 0 -2.4 0M599.9 92.1a1.2 1.2 0 1 0 2.4 0a1.2 1.2 0 1 0 -2.4 0M601.0 75.9a1.2 1.2 0 1 0 2.4 0a1.2 1.2 0 1 0 -2.4 0M602.3 86.1a1.2 1.2 0 1 0 2.4 0a1.2 1.2 0 1 0 -2.4 0M611.4 65.7a1.2 1.2 0 1 0 2.4 0a1.2 1.2 0 1 0 -2.4 0M586.2 88.0a1.2 1.2 0 1 0 2.4 0a1.2 1.2 0 1 0 -2.4 0M582.7 116.4a1.2 1.2 0 1 0 2.4 0a1.2 1.2 0 1 0 -2.4 0M610.4 82.8a1.2 1.2 0 1 0 2.4 0a1.2 1.2 0 1 0 -2.4 0M584.2 106.2a1.2 1.2 0 1 0 2.4 0a1.2 1.2 0 1 0 -2.4 0M607.0 112.0a1.2 1.2 0 1 0 2.4 0a1.2 1.2 0 1 0 -2.4 0M596.1 77.0a1.2 1.2 0 1 0 2.4 0a1.2 1.2 0 1 0 -2.4 0M604.4 102.2a1.2 1.2 0 1 0 2.4 0a1.2 1.2 0 1 0 -2.4 0M600.3 99.5a1.2 1.2 0 1 0 2.4 0a1.2 1.2 0 1 0 -2.4 0M576.9 99.9a1.2 1.2 0 1 0 2.4 0a1.2 1.2 0 1 0 -2.4 0M610.8 102.1a1.2 1.2 0 1 0 2.4 0a1.2 1.2 0 1 0 -2.4 0M585.5 72.2a1.2 1.2 0 1 0 2.4 0a1.2 1.2 0 1 0 -2.4 0M598.6 103.1a1.2 1.2 0 1 0 2.4 0a1.2 1.2 0 1 0 -2.4 0M584.2 96.2a1.2 1.2 0 1 0 2.4 0a1.2 1.2 0 1 0 -2.4 0M597.2 134.5a1.2 1.2 0 1 0 2.4 0a1.2 1.2 0 1 0 -2.4 0M612.5 119.1a1.2 1.2 0 1 0 2.4 0a1.2 1.2 0 1 0 -2.4 0M609.2 80.7a1.2 1.2 0 1 0 2.4 0a1.2 1.2 0 1 0 -2.4 0M585.8 106.3a1.2 1.2 0 1 0 2.4 0a1.2 1.2 0 1 0 -2.4 0M611.2 84.0a1.2 1.2 0 1 0 2.4 0a1.2 1.2 0 1 0 -2.4 0M591.6 75.0a1.2 1.2 0 1 0 2.4 0a1.2 1.2 0 1 0 -2.4 0M596.3 125.4a1.2 1.2 0 1 0 2.4 0a1.2 1.2 0 1 0 -2.4 0M588.8 95.7a1.2 1.2 0 1 0 2.4 0a1.2 1.2 0 1 0 -2.4 0M614.4 73.0a1.2 1.2 0 1 0 2.4 0a1.2 1.2 0 1 0 -2.4 0M588.1 79.1a1.2 1.2 0 1 0 2.4 0a1.2 1.2 0 1 0 -2.4 0M604.4 100.4a1.2 1.2 0 1 0 2.4 0a1.2 1.2 0 1 0 -2.4 0M600.0 95.3a1.2 1.2 0 1 0 2.4 0a1.2 1.2 0 1 0 -2.4 0M602.6 137.3a1.2 1.2 0 1 0 2.4 0a1.2 1.2 0 1 0 -2.4 0M580.4 114.4a1.2 1.2 0 1 0 2.4 0a1.2 1.2 0 1 0 -2.4 0M652.1 45.0a1.2 1.2 0 1 0 2.4 0a1.2 1.2 0 1 0 -2.4 0M635.7 89.7a1.2 1.2 0 1 0 2.4 0a1.2 1.2 0 1 0 -2.4 0M621.8 90.7a1.2 1.2 0 1 0 2.4 0a1.2 1.2 0 1 0 -2.4 0M616.4 84.4a1.2 1.2 0 1 0 2.4 0a1.2 1.2 0 1 0 -2.4 0M626.9 94.9a1.2 1.2 0 1 0 2.4 0a1.2 1.2 0 1 0 -2.4 0M642.6 50.6a1.2 1.2 0 1 0 2.4 0a1.2 1.2 0 1 0 -2.4 0M615.3 30.8a1.2 1.2 0 1 0 2.4 0a1.2 1.2 0 1 0 -2.4 0M616.2 28.5a1.2 1.2 0 1 0 2.4 0a1.2 1.2 0 1 0 -2.4 0M639.2 53.1a1.2 1.2 0 1 0 2.4 0a1.2 1.2 0 1 0 -2.4 0M647.7 53.4a1.2 1.2 0 1 0 2.4 0a1.2 1.2 0 1 0 -2.4 0M624.1 28.2a1.2 1.2 0 1 0 2.4 0a1.2 1.2 0 1 0 -2.4 0M624.7 99.9a1.2 1.2 0 1 0 2.4 0a1.2 1.2 0 1 0 -2.4 0M632.3 58.1a1.2 1.2 0 1 0 2.4 0a1.2 1.2 0 1 0 -2.4 0M622.7 29.0a1.2 1.2 0 1 0 2.4 0a1.2 1.2 0 1 0 -2.4 0M631.5 101.8a1.2 1.2 0 1 0 2.4 0a1.2 1.2 0 1 0 -2.4 0M620.0 29.0a1.2 1.2 0 1 0 2.4 0a1.2 1.2 0 1 0 -2.4 0M649.3 35.5a1.2 1.2 0 1 0 2.4 0a1.2 1.2 0 1 0 -2.4 0M638.9 39.0a1.2 1.2 0 1 0 2.4 0a1.2 1.2 0 1 0 -2.4 0M617.9 69.7a1.2 1.2 0 1 0 2.4 0a1.2 1.2 0 1 0 -2.4 0M621.7 79.3a1.2 1.2 0 1 0 2.4 0a1.2 1.2 0 1 0 -2.4 0M645.8 50.2a1.2 1.2 0 1 0 2.4 0a1.2 1.2 0 1 0 -2.4 0M628.5 88.0a1.2 1.2 0 1 0 2.4 0a1.2 1.2 0 1 0 -2.4 0M624.2 94.3a1.2 1.2 0 1 0 2.4 0a1.2 1.2 0 1 0 -2.4 0M615.2 103.3a1.2 1.2 0 1 0 2.4 0a1.2 1.2 0 1 0 -2.4 0M639.9 78.1a1.2 1.2 0 1 0 2.4 0a1.2 1.2 0 1 0 -2.4 0M636.0 81.3a1.2 1.2 0 1 0 2.4 0a1.2 1.2 0 1 0 -2.4 0M646.2 45.3a1.2 1.2 0 1 0 2.4 0a1.2 1.2 0 1 0 -2.4 0M642.8 32.1a1.2 1.2 0 1 0 2.4 0a1.2 1.2 0 1 0 -2.4 0M645.6 51.2a1.2 1.2 0 1 0 2.4 0a1.2 1.2 0 1 0 -2.4 0M642.6 94.8a1.2 1.2 0 1 0 2.4 0a1.2 1.2 0 1 0 -2.4 0M631.1 36.7a1.2 1.2 0 1 0 2.4 0a1.2 1.2 0 1 0 -2.4 0M638.8 38.0a1.2 1.2 0 1 0 2.4 0a1.2 1.2 0 1 0 -2.4 0M615.3 87.4a1.2 1.2 0 1 0 2.4 0a1.2 1.2 0 1 0 -2.4 0M617.6 138.3a1.2 1.2 0 1 0 2.4 0a1.2 1.2 0 1 0 -2.4 0M629.8 78.3a1.2 1.2 0 1 0 2.4 0a1.2 1.2 0 1 0 -2.4 0M618.9 83.4a1.2 1.2 0 1 0 2.4 0a1.2 1.2 0 1 0 -2.4 0M631.5 69.1a1.2 1.2 0 1 0 2.4 0a1.2 1.2 0 1 0 -2.4 0M646.6 43.5a1.2 1.2 0 1 0 2.4 0a1.2 1.2 0 1 0 -2.4 0M621.0 29.5a1.2 1.2 0 1 0 2.4 0a1.2 1.2 0 1 0 -2.4 0M644.6 27.8a1.2 1.2 0 1 0 2.4 0a1.2 1.2 0 1 0 -2.4 0M652.1 34.8a1.2 1.2 0 1 0 2.4 0a1.2 1.2 0 1 0 -2.4 0M615.8 28.7a1.2 1.2 0 1 0 2.4 0a1.2 1.2 0 1 0 -2.4 0M630.4 104.7a1.2 1.2 0 1 0 2.4 0a1.2 1.2 0 1 0 -2.4 0M641.1 49.1a1.2 1.2 0 1 0 2.4 0a1.2 1.2 0 1 0 -2.4 0M642.1 35.7a1.2 1.2 0 1 0 2.4 0a1.2 1.2 0 1 0 -2.4 0M625.0 79.5a1.2 1.2 0 1 0 2.4 0a1.2 1.2 0 1 0 -2.4 0M645.0 32.3a1.2 1.2 0 1 0 2.4 0a1.2 1.2 0 1 0 -2.4 0M628.4 37.6a1.2 1.2 0 1 0 2.4 0a1.2 1.2 0 1 0 -2.4 0M622.0 68.6a1.2 1.2 0 1 0 2.4 0a1.2 1.2 0 1 0 -2.4 0M634.0 56.0a1.2 1.2 0 1 0 2.4 0a1.2 1.2 0 1 0 -2.4 0M637.5 77.7a1.2 1.2 0 1 0 2.4 0a1.2 1.2 0 1 0 -2.4 0M646.1 88.8a1.2 1.2 0 1 0 2.4 0a1.2 1.2 0 1 0 -2.4 0M639.5 26.4a1.2 1.2 0 1 0 2.4 0a1.2 1.2 0 1 0 -2.4 0M636.1 87.1a1.2 1.2 0 1 0 2.4 0a1.2 1.2 0 1 0 -2.4 0M627.4 56.3a1.2 1.2 0 1 0 2.4 0a1.2 1.2 0 1 0 -2.4 0M616.1 28.8a1.2 1.2 0 1 0 2.4 0a1.2 1.2 0 1 0 -2.4 0M639.2 53.2a1.2 1.2 0 1 0 2.4 0a1.2 1.2 0 1 0 -2.4 0M644.3 59.2a1.2 1.2 0 1 0 2.4 0a1.2 1.2 0 1 0 -2.4 0M615.9 100.3a1.2 1.2 0 1 0 2.4 0a1.2 1.2 0 1 0 -2.4 0M614.9 114.5a1.2 1.2 0 1 0 2.4 0a1.2 1.2 0 1 0 -2.4 0M648.1 43.8a1.2 1.2 0 1 0 2.4 0a1.2 1.2 0 1 0 -2.4 0M648.3 28.3a1.2 1.2 0 1 0 2.4 0a1.2 1.2 0 1 0 -2.4 0M621.0 78.8a1.2 1.2 0 1 0 2.4 0a1.2 1.2 0 1 0 -2.4 0M649.3 70.4a1.2 1.2 0 1 0 2.4 0a1.2 1.2 0 1 0 -2.4 0M629.8 77.0a1.2 1.2 0 1 0 2.4 0a1.2 1.2 0 1 0 -2.4 0M634.0 28.7a1.2 1.2 0 1 0 2.4 0a1.2 1.2 0 1 0 -2.4 0M632.2 49.6a1.2 1.2 0 1 0 2.4 0a1.2 1.2 0 1 0 -2.4 0M627.0 46.9a1.2 1.2 0 1 0 2.4 0a1.2 1.2 0 1 0 -2.4 0M647.8 124.6a1.2 1.2 0 1 0 2.4 0a1.2 1.2 0 1 0 -2.4 0M649.7 28.7a1.2 1.2 0 1 0 2.4 0a1.2 1.2 0 1 0 -2.4 0M637.9 70.6a1.2 1.2 0 1 0 2.4 0a1.2 1.2 0 1 0 -2.4 0M649.4 43.0a1.2 1.2 0 1 0 2.4 0a1.2 1.2 0 1 0 -2.4 0M633.9 50.5a1.2 1.2 0 1 0 2.4 0a1.2 1.2 0 1 0 -2.4 0M632.3 29.3a1.2 1.2 0 1 0 2.4 0a1.2 1.2 0 1 0 -2.4 0M636.0 72.5a1.2 1.2 0 1 0 2.4 0a1.2 1.2 0 1 0 -2.4 0M614.6 52.5a1.2 1.2 0 1 0 2.4 0a1.2 1.2 0 1 0 -2.4 0M619.6 25.5a1.2 1.2 0 1 0 2.4 0a1.2 1.2 0 1 0 -2.4 0M650.1 31.9a1.2 1.2 0 1 0 2.4 0a1.2 1.2 0 1 0 -2.4 0M616.0 73.7a1.2 1.2 0 1 0 2.4 0a1.2 1.2 0 1 0 -2.4 0M641.2 44.2a1.2 1.2 0 1 0 2.4 0a1.2 1.2 0 1 0 -2.4 0M643.5 30.2a1.2 1.2 0 1 0 2.4 0a1.2 1.2 0 1 0 -2.4 0M634.9 43.8a1.2 1.2 0 1 0 2.4 0a1.2 1.2 0 1 0 -2.4 0M618.0 27.1a1.2 1.2 0 1 0 2.4 0a1.2 1.2 0 1 0 -2.4 0M645.1 50.7a1.2 1.2 0 1 0 2.4 0a1.2 1.2 0 1 0 -2.4 0M626.5 62.0a1.2 1.2 0 1 0 2.4 0a1.2 1.2 0 1 0 -2.4 0M625.3 26.3a1.2 1.2 0 1 0 2.4 0a1.2 1.2 0 1 0 -2.4 0M640.6 27.8a1.2 1.2 0 1 0 2.4 0a1.2 1.2 0 1 0 -2.4 0M676.1 45.4a1.2 1.2 0 1 0 2.4 0a1.2 1.2 0 1 0 -2.4 0M654.6 36.8a1.2 1.2 0 1 0 2.4 0a1.2 1.2 0 1 0 -2.4 0M663.0 44.6a1.2 1.2 0 1 0 2.4 0a1.2 1.2 0 1 0 -2.4 0M668.8 32.1a1.2 1.2 0 1 0 2.4 0a1.2 1.2 0 1 0 -2.4 0M659.0 43.3a1.2 1.2 0 1 0 2.4 0a1.2 1.2 0 1 0 -2.4 0M675.0 55.3a1.2 1.2 0 1 0 2.4 0a1.2 1.2 0 1 0 -2.4 0M667.1 28.8a1.2 1.2 0 1 0 2.4 0a1.2 1.2 0 1 0 -2.4 0M654.1 53.3a1.2 1.2 0 1 0 2.4 0a1.2 1.2 0 1 0 -2.4 0M655.7 48.3a1.2 1.2 0 1 0 2.4 0a1.2 1.2 0 1 0 -2.4 0M663.4 47.6a1.2 1.2 0 1 0 2.4 0a1.2 1.2 0 1 0 -2.4 0M674.6 35.7a1.2 1.2 0 1 0 2.4 0a1.2 1.2 0 1 0 -2.4 0M655.0 73.6a1.2 1.2 0 1 0 2.4 0a1.2 1.2 0 1 0 -2.4 0M655.9 49.7a1.2 1.2 0 1 0 2.4 0a1.2 1.2 0 1 0 -2.4 0M657.4 52.7a1.2 1.2 0 1 0 2.4 0a1.2 1.2 0 1 0 -2.4 0M666.3 28.5a1.2 1.2 0 1 0 2.4 0a1.2 1.2 0 1 0 -2.4 0M662.8 38.6a1.2 1.2 0 1 0 2.4 0a1.2 1.2 0 1 0 -2.4 0M662.5 54.5a1.2 1.2 0 1 0 2.4 0a1.2 1.2 0 1 0 -2.4 0M655.8 50.3a1.2 1.2 0 1 0 2.4 0a1.2 1.2 0 1 0 -2.4 0M672.5 97.2a1.2 1.2 0 1 0 2.4 0a1.2 1.2 0 1 0 -2.4 0M664.0 72.3a1.2 1.2 0 1 0 2.4 0a1.2 1.2 0 1 0 -2.4 0M673.5 26.8a1.2 1.2 0 1 0 2.4 0a1.2 1.2 0 1 0 -2.4 0M653.0 29.6a1.2 1.2 0 1 0 2.4 0a1.2 1.2 0 1 0 -2.4 0M663.5 58.2a1.2 1.2 0 1 0 2.4 0a1.2 1.2 0 1 0 -2.4 0M672.9 28.1a1.2 1.2 0 1 0 2.4 0a1.2 1.2 0 1 0 -2.4 0M665.0 58.6a1.2 1.2 0 1 0 2.4 0a1.2 1.2 0 1 0 -2.4 0M656.2 83.4a1.2 1.2 0 1 0 2.4 0a1.2 1.2 0 1 0 -2.4 0M669.0 49.1a1.2 1.2 0 1 0 2.4 0a1.2 1.2 0 1 0 -2.4 0M674.3 55.3a1.2 1.2 0 1 0 2.4 0a1.2 1.2 0 1 0 -2.4 0M671.3 73.4a1.2 1.2 0 1 0 2.4 0a1.2 1.2 0 1 0 -2.4 0M676.0 42.4a1.2 1.2 0 1 0 2.4 0a1.2 1.2 0 1 0 -2.4 0M666.8 27.2a1.2 1.2 0 1 0 2.4 0a1.2 1.2 0 1 0 -2.4 0M657.7 67.6a1.2 1.2 0 1 0 2.4 0a1.2 1.2 0 1 0 -2.4 0M671.9 95.4a1.2 1.2 0 1 0 2.4 0a1.2 1.2 0 1 0 -2.4 0M672.2 111.5a1.2 1.2 0 1 0 2.4 0a1.2 1.2 0 1 0 -2.4 0M667.8 29.6a1.2 1.2 0 1 0 2.4 0a1.2 1.2 0 1 0 -2.4 0M671.5 33.5a1.2 1.2 0 1 0 2.4 0a1.2 1.2 0 1 0 -2.4 0M664.2 53.4a1.2 1.2 0 1 0 2.4 0a1.2 1.2 0 1 0 -2.4 0M673.2 30.8a1.2 1.2 0 1 0 2.4 0a1.2 1.2 0 1 0 -2.4 0M669.3 29.5a1.2 1.2 0 1 0 2.4 0a1.2 1.2 0 1 0 -2.4 0M658.2 136.9a1.2 1.2 0 1 0 2.4 0a1.2 1.2 0 1 0 -2.4 0M666.7 28.4a1.2 1.2 0 1 0 2.4 0a1.2 1.2 0 1 0 -2.4 0M668.4 36.1a1.2 1.2 0 1 0 2.4 0a1.2 1.2 0 1 0 -2.4 0M657.2 54.5a1.2 1.2 0 1 0 2.4 0a1.2 1.2 0 1 0 -2.4 0M675.2 34.1a1.2 1.2 0 1 0 2.4 0a1.2 1.2 0 1 0 -2.4 0M672.0 43.8a1.2 1.2 0 1 0 2.4 0a1.2 1.2 0 1 0 -2.4 0M655.8 27.8a1.2 1.2 0 1 0 2.4 0a1.2 1.2 0 1 0 -2.4 0M657.6 29.1a1.2 1.2 0 1 0 2.4 0a1.2 1.2 0 1 0 -2.4 0M652.3 33.0a1.2 1.2 0 1 0 2.4 0a1.2 1.2 0 1 0 -2.4 0M675.3 47.9a1.2 1.2 0 1 0 2.4 0a1.2 1.2 0 1 0 -2.4 0M656.5 55.6a1.2 1.2 0 1 0 2.4 0a1.2 1.2 0 1 0 -2.4 0M672.7 42.8a1.2 1.2 0 1 0 2.4 0a1.2 1.2 0 1 0 -2.4 0M664.8 86.5a1.2 1.2 0 1 0 2.4 0a1.2 1.2 0 1 0 -2.4 0M653.6 68.8a1.2 1.2 0 1 0 2.4 0a1.2 1.2 0 1 0 -2.4 0M657.4 69.6a1.2 1.2 0 1 0 2.4 0a1.2 1.2 0 1 0 -2.4 0M658.6 30.3a1.2 1.2 0 1 0 2.4 0a1.2 1.2 0 1 0 -2.4 0M671.0 42.7a1.2 1.2 0 1 0 2.4 0a1.2 1.2 0 1 0 -2.4 0" fill="none" stroke="#e03030" stroke-width="0.6"/>
<line x1="384.4" y1="280.2" x2="680.6" y2="30.7" stroke="#e83030" stroke-width="0.95"/>
<path d="M387.9 284.1a1.2 1.2 0 1 0 2.4 0a1.2 1.2 0 1 0 -2.4 0M383.5 303.2a1.2 1.2 0 1 0 2.4 0a1.2 1.2 0 1 0 -2.4 0M393.2 259.9a1.2 1.2 0 1 0 2.4 0a1.2 1.2 0 1 0 -2.4 0M388.4 304.1a1.2 1.2 0 1 0 2.4 0a1.2 1.2 0 1 0 -2.4 0M388.9 285.0a1.2 1.2 0 1 0 2.4 0a1.2 1.2 0 1 0 -2.4 0M387.7 291.9a1.2 1.2 0 1 0 2.4 0a1.2 1.2 0 1 0 -2.4 0M387.1 303.9a1.2 1.2 0 1 0 2.4 0a1.2 1.2 0 1 0 -2.4 0M389.5 307.9a1.2 1.2 0 1 0 2.4 0a1.2 1.2 0 1 0 -2.4 0M389.8 295.4a1.2 1.2 0 1 0 2.4 0a1.2 1.2 0 1 0 -2.4 0M409.1 269.5a1.2 1.2 0 1 0 2.4 0a1.2 1.2 0 1 0 -2.4 0M440.1 235.4a1.2 1.2 0 1 0 2.4 0a1.2 1.2 0 1 0 -2.4 0M428.3 273.4a1.2 1.2 0 1 0 2.4 0a1.2 1.2 0 1 0 -2.4 0M398.4 309.2a1.2 1.2 0 1 0 2.4 0a1.2 1.2 0 1 0 -2.4 0M427.6 245.6a1.2 1.2 0 1 0 2.4 0a1.2 1.2 0 1 0 -2.4 0M436.3 236.1a1.2 1.2 0 1 0 2.4 0a1.2 1.2 0 1 0 -2.4 0M425.8 268.4a1.2 1.2 0 1 0 2.4 0a1.2 1.2 0 1 0 -2.4 0M413.7 275.5a1.2 1.2 0 1 0 2.4 0a1.2 1.2 0 1 0 -2.4 0M419.3 295.0a1.2 1.2 0 1 0 2.4 0a1.2 1.2 0 1 0 -2.4 0M424.2 249.5a1.2 1.2 0 1 0 2.4 0a1.2 1.2 0 1 0 -2.4 0M435.3 245.8a1.2 1.2 0 1 0 2.4 0a1.2 1.2 0 1 0 -2.4 0M418.3 263.2a1.2 1.2 0 1 0 2.4 0a1.2 1.2 0 1 0 -2.4 0M428.3 252.8a1.2 1.2 0 1 0 2.4 0a1.2 1.2 0 1 0 -2.4 0M410.2 241.7a1.2 1.2 0 1 0 2.4 0a1.2 1.2 0 1 0 -2.4 0M403.9 292.0a1.2 1.2 0 1 0 2.4 0a1.2 1.2 0 1 0 -2.4 0M398.0 300.0a1.2 1.2 0 1 0 2.4 0a1.2 1.2 0 1 0 -2.4 0M394.9 294.1a1.2 1.2 0 1 0 2.4 0a1.2 1.2 0 1 0 -2.4 0M428.8 277.0a1.2 1.2 0 1 0 2.4 0a1.2 1.2 0 1 0 -2.4 0M416.2 211.5a1.2 1.2 0 1 0 2.4 0a1.2 1.2 0 1 0 -2.4 0M438.8 252.5a1.2 1.2 0 1 0 2.4 0a1.2 1.2 0 1 0 -2.4 0M435.6 271.3a1.2 1.2 0 1 0 2.4 0a1.2 1.2 0 1 0 -2.4 0M412.6 280.3a1.2 1.2 0 1 0 2.4 0a1.2 1.2 0 1 0 -2.4 0M423.1 275.7a1.2 1.2 0 1 0 2.4 0a1.2 1.2 0 1 0 -2.4 0M413.7 244.5a1.2 1.2 0 1 0 2.4 0a1.2 1.2 0 1 0 -2.4 0M402.9 254.6a1.2 1.2 0 1 0 2.4 0a1.2 1.2 0 1 0 -2.4 0M401.7 264.9a1.2 1.2 0 1 0 2.4 0a1.2 1.2 0 1 0 -2.4 0M423.7 282.0a1.2 1.2 0 1 0 2.4 0a1.2 1.2 0 1 0 -2.4 0M393.9 294.2a1.2 1.2 0 1 0 2.4 0a1.2 1.2 0 1 0 -2.4 0M461.0 218.9a1.2 1.2 0 1 0 2.4 0a1.2 1.2 0 1 0 -2.4 0M462.5 236.2a1.2 1.2 0 1 0 2.4 0a1.2 1.2 0 1 0 -2.4 0M472.4 212.0a1.2 1.2 0 1 0 2.4 0a1.2 1.2 0 1 0 -2.4 0M465.7 243.2a1.2 1.2 0 1 0 2.4 0a1.2 1.2 0 1 0 -2.4 0M467.4 251.1a1.2 1.2 0 1 0 2.4 0a1.2 1.2 0 1 0 -2.4 0M480.5 195.1a1.2 1.2 0 1 0 2.4 0a1.2 1.2 0 1 0 -2.4 0M452.6 225.9a1.2 1.2 0 1 0 2.4 0a1.2 1.2 0 1 0 -2.4 0M465.0 218.0a1.2 1.2 0 1 0 2.4 0a1.2 1.2 0 1 0 -2.4 0M445.6 259.9a1.2 1.2 0 1 0 2.4 0a1.2 1.2 0 1 0 -2.4 0M473.7 220.0a1.2 1.2 0 1 0 2.4 0a1.2 1.2 0 1 0 -2.4 0M444.5 253.3a1.2 1.2 0 1 0 2.4 0a1.2 1.2 0 1 0 -2.4 0M444.4 280.2a1.2 1.2 0 1 0 2.4 0a1.2 1.2 0 1 0 -2.4 0M475.3 205.2a1.2 1.2 0 1 0 2.4 0a1.2 1.2 0 1 0 -2.4 0M448.2 237.2a1.2 1.2 0 1 0 2.4 0a1.2 1.2 0 1 0 -2.4 0M481.2 208.3a1.2 1.2 0 1 0 2.4 0a1.2 1.2 0 1 0 -2.4 0M456.0 217.6a1.2 1.2 0 1 0 2.4 0a1.2 1.2 0 1 0 -2.4 0M445.8 233.5a1.2 1.2 0 1 0 2.4 0a1.2 1.2 0 1 0 -2.4 0M458.7 221.3a1.2 1.2 0 1 0 2.4 0a1.2 1.2 0 1 0 -2.4 0M457.8 222.8a1.2 1.2 0 1 0 2.4 0a1.2 1.2 0 1 0 -2.4 0M463.8 245.1a1.2 1.2 0 1 0 2.4 0a1.2 1.2 0 1 0 -2.4 0M449.6 260.4a1.2 1.2 0 1 0 2.4 0a1.2 1.2 0 1 0 -2.4 0M451.9 211.8a1.2 1.2 0 1 0 2.4 0a1.2 1.2 0 1 0 -2.4 0M460.7 222.7a1.2 1.2 0 1 0 2.4 0a1.2 1.2 0 1 0 -2.4 0M455.4 246.8a1.2 1.2 0 1 0 2.4 0a1.2 1.2 0 1 0 -2.4 0M467.2 213.7a1.2 1.2 0 1 0 2.4 0a1.2 1.2 0 1 0 -2.4 0M478.4 223.9a1.2 1.2 0 1 0 2.4 0a1.2 1.2 0 1 0 -2.4 0M451.9 234.7a1.2 1.2 0 1 0 2.4 0a1.2 1.2 0 1 0 -2.4 0M473.2 168.8a1.2 1.2 0 1 0 2.4 0a1.2 1.2 0 1 0 -2.4 0M446.4 212.0a1.2 1.2 0 1 0 2.4 0a1.2 1.2 0 1 0 -2.4 0M451.0 231.5a1.2 1.2 0 1 0 2.4 0a1.2 1.2 0 1 0 -2.4 0M461.3 218.7a1.2 1.2 0 1 0 2.4 0a1.2 1.2 0 1 0 -2.4 0M469.3 177.9a1.2 1.2 0 1 0 2.4 0a1.2 1.2 0 1 0 -2.4 0M478.2 181.3a1.2 1.2 0 1 0 2.4 0a1.2 1.2 0 1 0 -2.4 0M476.8 228.3a1.2 1.2 0 1 0 2.4 0a1.2 1.2 0 1 0 -2.4 0M474.0 209.3a1.2 1.2 0 1 0 2.4 0a1.2 1.2 0 1 0 -2.4 0M446.0 260.5a1.2 1.2 0 1 0 2.4 0a1.2 1.2 0 1 0 -2.4 0M481.0 248.3a1.2 1.2 0 1 0 2.4 0a1.2 1.2 0 1 0 -2.4 0M467.3 246.6a1.2 1.2 0 1 0 2.4 0a1.2 1.2 0 1 0 -2.4 0M453.6 235.6a1.2 1.2 0 1 0 2.4 0a1.2 1.2 0 1 0 -2.4 0M467.5 265.2a1.2 1.2 0 1 0 2.4 0a1.2 1.2 0 1 0 -2.4 0M475.2 195.1a1.2 1.2 0 1 0 2.4 0a1.2 1.2 0 1 0 -2.4 0M464.7 213.6a1.2 1.2 0 1 0 2.4 0a1.2 1.2 0 1 0 -2.4 0M474.0 237.6a1.2 1.2 0 1 0 2.4 0a1.2 1.2 0 1 0 -2.4 0M549.4 133.5a1.2 1.2 0 1 0 2.4 0a1.2 1.2 0 1 0 -2.4 0M500.1 169.5a1.2 1.2 0 1 0 2.4 0a1.2 1.2 0 1 0 -2.4 0M491.8 156.8a1.2 1.2 0 1 0 2.4 0a1.2 1.2 0 1 0 -2.4 0M482.2 185.0a1.2 1.2 0 1 0 2.4 0a1.2 1.2 0 1 0 -2.4 0M545.4 136.8a1.2 1.2 0 1 0 2.4 0a1.2 1.2 0 1 0 -2.4 0M501.3 220.4a1.2 1.2 0 1 0 2.4 0a1.2 1.2 0 1 0 -2.4 0M559.3 122.8a1.2 1.2 0 1 0 2.4 0a1.2 1.2 0 1 0 -2.4 0M505.0 153.3a1.2 1.2 0 1 0 2.4 0a1.2 1.2 0 1 0 -2.4 0M542.5 113.2a1.2 1.2 0 1 0 2.4 0a1.2 1.2 0 1 0 -2.4 0M515.9 143.7a1.2 1.2 0 1 0 2.4 0a1.2 1.2 0 1 0 -2.4 0M537.6 143.3a1.2 1.2 0 1 0 2.4 0a1.2 1.2 0 1 0 -2.4 0M547.4 109.7a1.2 1.2 0 1 0 2.4 0a1.2 1.2 0 1 0 -2.4 0M566.2 119.2a1.2 1.2 0 1 0 2.4 0a1.2 1.2 0 1 0 -2.4 0M496.3 148.5a1.2 1.2 0 1 0 2.4 0a1.2 1.2 0 1 0 -2.4 0M518.8 182.6a1.2 1.2 0 1 0 2.4 0a1.2 1.2 0 1 0 -2.4 0M549.1 116.8a1.2 1.2 0 1 0 2.4 0a1.2 1.2 0 1 0 -2.4 0M551.7 111.5a1.2 1.2 0 1 0 2.4 0a1.2 1.2 0 1 0 -2.4 0M506.4 193.5a1.2 1.2 0 1 0 2.4 0a1.2 1.2 0 1 0 -2.4 0M521.8 138.0a1.2 1.2 0 1 0 2.4 0a1.2 1.2 0 1 0 -2.4 0M543.5 110.2a1.2 1.2 0 1 0 2.4 0a1.2 1.2 0 1 0 -2.4 0M530.9 122.1a1.2 1.2 0 1 0 2.4 0a1.2 1.2 0 1 0 -2.4 0M528.5 132.0a1.2 1.2 0 1 0 2.4 0a1.2 1.2 0 1 0 -2.4 0M565.3 126.2a1.2 1.2 0 1 0 2.4 0a1.2 1.2 0 1 0 -2.4 0M492.4 216.4a1.2 1.2 0 1 0 2.4 0a1.2 1.2 0 1 0 -2.4 0M560.3 125.7a1.2 1.2 0 1 0 2.4 0a1.2 1.2 0 1 0 -2.4 0M556.6 111.8a1.2 1.2 0 1 0 2.4 0a1.2 1.2 0 1 0 -2.4 0M567.8 121.9a1.2 1.2 0 1 0 2.4 0a1.2 1.2 0 1 0 -2.4 0M504.3 190.7a1.2 1.2 0 1 0 2.4 0a1.2 1.2 0 1 0 -2.4 0M489.0 181.0a1.2 1.2 0 1 0 2.4 0a1.2 1.2 0 1 0 -2.4 0M552.4 109.8a1.2 1.2 0 1 0 2.4 0a1.2 1.2 0 1 0 -2.4 0M528.0 179.1a1.2 1.2 0 1 0 2.4 0a1.2 1.2 0 1 0 -2.4 0M515.5 169.7a1.2 1.2 0 1 0 2.4 0a1.2 1.2 0 1 0 -2.4 0M499.0 153.1a1.2 1.2 0 1 0 2.4 0a1.2 1.2 0 1 0 -2.4 0M514.5 173.0a1.2 1.2 0 1 0 2.4 0a1.2 1.2 0 1 0 -2.4 0M551.2 110.8a1.2 1.2 0 1 0 2.4 0a1.2 1.2 0 1 0 -2.4 0M483.0 199.3a1.2 1.2 0 1 0 2.4 0a1.2 1.2 0 1 0 -2.4 0M566.3 111.7a1.2 1.2 0 1 0 2.4 0a1.2 1.2 0 1 0 -2.4 0M572.4 143.7a1.2 1.2 0 1 0 2.4 0a1.2 1.2 0 1 0 -2.4 0M498.0 191.3a1.2 1.2 0 1 0 2.4 0a1.2 1.2 0 1 0 -2.4 0M522.8 173.4a1.2 1.2 0 1 0 2.4 0a1.2 1.2 0 1 0 -2.4 0M538.4 132.6a1.2 1.2 0 1 0 2.4 0a1.2 1.2 0 1 0 -2.4 0M575.5 142.8a1.2 1.2 0 1 0 2.4 0a1.2 1.2 0 1 0 -2.4 0M573.0 131.5a1.2 1.2 0 1 0 2.4 0a1.2 1.2 0 1 0 -2.4 0M575.4 159.5a1.2 1.2 0 1 0 2.4 0a1.2 1.2 0 1 0 -2.4 0M505.1 196.6a1.2 1.2 0 1 0 2.4 0a1.2 1.2 0 1 0 -2.4 0M538.5 117.6a1.2 1.2 0 1 0 2.4 0a1.2 1.2 0 1 0 -2.4 0M523.1 126.0a1.2 1.2 0 1 0 2.4 0a1.2 1.2 0 1 0 -2.4 0M515.8 142.9a1.2 1.2 0 1 0 2.4 0a1.2 1.2 0 1 0 -2.4 0M540.8 179.1a1.2 1.2 0 1 0 2.4 0a1.2 1.2 0 1 0 -2.4 0M522.0 155.9a1.2 1.2 0 1 0 2.4 0a1.2 1.2 0 1 0 -2.4 0M542.9 147.7a1.2 1.2 0 1 0 2.4 0a1.2 1.2 0 1 0 -2.4 0M502.6 175.5a1.2 1.2 0 1 0 2.4 0a1.2 1.2 0 1 0 -2.4 0M506.2 167.4a1.2 1.2 0 1 0 2.4 0a1.2 1.2 0 1 0 -2.4 0M498.8 172.4a1.2 1.2 0 1 0 2.4 0a1.2 1.2 0 1 0 -2.4 0M559.8 130.4a1.2 1.2 0 1 0 2.4 0a1.2 1.2 0 1 0 -2.4 0M507.2 197.5a1.2 1.2 0 1 0 2.4 0a1.2 1.2 0 1 0 -2.4 0M551.7 132.8a1.2 1.2 0 1 0 2.4 0a1.2 1.2 0 1 0 -2.4 0M543.9 144.5a1.2 1.2 0 1 0 2.4 0a1.2 1.2 0 1 0 -2.4 0M555.6 128.8a1.2 1.2 0 1 0 2.4 0a1.2 1.2 0 1 0 -2.4 0M561.1 131.7a1.2 1.2 0 1 0 2.4 0a1.2 1.2 0 1 0 -2.4 0M514.9 187.6a1.2 1.2 0 1 0 2.4 0a1.2 1.2 0 1 0 -2.4 0M486.6 187.9a1.2 1.2 0 1 0 2.4 0a1.2 1.2 0 1 0 -2.4 0M566.4 144.2a1.2 1.2 0 1 0 2.4 0a1.2 1.2 0 1 0 -2.4 0M571.3 112.6a1.2 1.2 0 1 0 2.4 0a1.2 1.2 0 1 0 -2.4 0M514.5 150.8a1.2 1.2 0 1 0 2.4 0a1.2 1.2 0 1 0 -2.4 0M528.5 127.0a1.2 1.2 0 1 0 2.4 0a1.2 1.2 0 1 0 -2.4 0M511.3 154.3a1.2 1.2 0 1 0 2.4 0a1.2 1.2 0 1 0 -2.4 0M525.6 112.8a1.2 1.2 0 1 0 2.4 0a1.2 1.2 0 1 0 -2.4 0M517.8 150.8a1.2 1.2 0 1 0 2.4 0a1.2 1.2 0 1 0 -2.4 0M518.9 146.3a1.2 1.2 0 1 0 2.4 0a1.2 1.2 0 1 0 -2.4 0M539.0 139.4a1.2 1.2 0 1 0 2.4 0a1.2 1.2 0 1 0 -2.4 0M568.6 121.2a1.2 1.2 0 1 0 2.4 0a1.2 1.2 0 1 0 -2.4 0M568.9 144.5a1.2 1.2 0 1 0 2.4 0a1.2 1.2 0 1 0 -2.4 0M533.4 143.2a1.2 1.2 0 1 0 2.4 0a1.2 1.2 0 1 0 -2.4 0M534.2 144.1a1.2 1.2 0 1 0 2.4 0a1.2 1.2 0 1 0 -2.4 0M555.3 117.3a1.2 1.2 0 1 0 2.4 0a1.2 1.2 0 1 0 -2.4 0M494.2 176.6a1.2 1.2 0 1 0 2.4 0a1.2 1.2 0 1 0 -2.4 0M559.1 125.7a1.2 1.2 0 1 0 2.4 0a1.2 1.2 0 1 0 -2.4 0M514.3 166.1a1.2 1.2 0 1 0 2.4 0a1.2 1.2 0 1 0 -2.4 0M504.9 166.6a1.2 1.2 0 1 0 2.4 0a1.2 1.2 0 1 0 -2.4 0M544.5 120.6a1.2 1.2 0 1 0 2.4 0a1.2 1.2 0 1 0 -2.4 0M544.2 150.3a1.2 1.2 0 1 0 2.4 0a1.2 1.2 0 1 0 -2.4 0M609.4 119.4a1.2 1.2 0 1 0 2.4 0a1.2 1.2 0 1 0 -2.4 0M592.1 114.8a1.2 1.2 0 1 0 2.4 0a1.2 1.2 0 1 0 -2.4 0M581.4 131.4a1.2 1.2 0 1 0 2.4 0a1.2 1.2 0 1 0 -2.4 0M581.4 111.3a1.2 1.2 0 1 0 2.4 0a1.2 1.2 0 1 0 -2.4 0M583.5 110.1a1.2 1.2 0 1 0 2.4 0a1.2 1.2 0 1 0 -2.4 0M606.1 110.8a1.2 1.2 0 1 0 2.4 0a1.2 1.2 0 1 0 -2.4 0M603.6 116.6a1.2 1.2 0 1 0 2.4 0a1.2 1.2 0 1 0 -2.4 0M593.7 110.5a1.2 1.2 0 1 0 2.4 0a1.2 1.2 0 1 0 -2.4 0M609.6 110.9a1.2 1.2 0 1 0 2.4 0a1.2 1.2 0 1 0 -2.4 0M586.2 119.7a1.2 1.2 0 1 0 2.4 0a1.2 1.2 0 1 0 -2.4 0M598.6 113.9a1.2 1.2 0 1 0 2.4 0a1.2 1.2 0 1 0 -2.4 0M584.2 123.6a1.2 1.2 0 1 0 2.4 0a1.2 1.2 0 1 0 -2.4 0M597.2 111.7a1.2 1.2 0 1 0 2.4 0a1.2 1.2 0 1 0 -2.4 0M614.4 112.5a1.2 1.2 0 1 0 2.4 0a1.2 1.2 0 1 0 -2.4 0M638.0 110.6a1.2 1.2 0 1 0 2.4 0a1.2 1.2 0 1 0 -2.4 0M642.8 111.7a1.2 1.2 0 1 0 2.4 0a1.2 1.2 0 1 0 -2.4 0M618.9 113.6a1.2 1.2 0 1 0 2.4 0a1.2 1.2 0 1 0 -2.4 0M646.1 111.5a1.2 1.2 0 1 0 2.4 0a1.2 1.2 0 1 0 -2.4 0M639.5 119.8a1.2 1.2 0 1 0 2.4 0a1.2 1.2 0 1 0 -2.4 0M617.5 124.7a1.2 1.2 0 1 0 2.4 0a1.2 1.2 0 1 0 -2.4 0M636.1 110.6a1.2 1.2 0 1 0 2.4 0a1.2 1.2 0 1 0 -2.4 0M648.3 112.5a1.2 1.2 0 1 0 2.4 0a1.2 1.2 0 1 0 -2.4 0M621.0 114.2a1.2 1.2 0 1 0 2.4 0a1.2 1.2 0 1 0 -2.4 0M649.7 114.9a1.2 1.2 0 1 0 2.4 0a1.2 1.2 0 1 0 -2.4 0M616.0 114.9a1.2 1.2 0 1 0 2.4 0a1.2 1.2 0 1 0 -2.4 0M625.3 112.2a1.2 1.2 0 1 0 2.4 0a1.2 1.2 0 1 0 -2.4 0M663.0 109.8a1.2 1.2 0 1 0 2.4 0a1.2 1.2 0 1 0 -2.4 0M667.1 114.8a1.2 1.2 0 1 0 2.4 0a1.2 1.2 0 1 0 -2.4 0M662.8 113.6a1.2 1.2 0 1 0 2.4 0a1.2 1.2 0 1 0 -2.4 0M662.5 110.8a1.2 1.2 0 1 0 2.4 0a1.2 1.2 0 1 0 -2.4 0M661.3 112.2a1.2 1.2 0 1 0 2.4 0a1.2 1.2 0 1 0 -2.4 0M674.3 111.7a1.2 1.2 0 1 0 2.4 0a1.2 1.2 0 1 0 -2.4 0M676.0 111.0a1.2 1.2 0 1 0 2.4 0a1.2 1.2 0 1 0 -2.4 0M667.8 113.1a1.2 1.2 0 1 0 2.4 0a1.2 1.2 0 1 0 -2.4 0M664.2 109.7a1.2 1.2 0 1 0 2.4 0a1.2 1.2 0 1 0 -2.4 0M675.2 112.4a1.2 1.2 0 1 0 2.4 0a1.2 1.2 0 1 0 -2.4 0M672.7 112.9a1.2 1.2 0 1 0 2.4 0a1.2 1.2 0 1 0 -2.4 0M657.4 116.2a1.2 1.2 0 1 0 2.4 0a1.2 1.2 0 1 0 -2.4 0M385.2 108.4a1.2 1.2 0 1 0 2.4 0a1.2 1.2 0 1 0 -2.4 0M386.8 108.3a1.2 1.2 0 1 0 2.4 0a1.2 1.2 0 1 0 -2.4 0M388.4 108.5a1.2 1.2 0 1 0 2.4 0a1.2 1.2 0 1 0 -2.4 0M392.3 108.2a1.2 1.2 0 1 0 2.4 0a1.2 1.2 0 1 0 -2.4 0M412.2 108.4a1.2 1.2 0 1 0 2.4 0a1.2 1.2 0 1 0 -2.4 0M413.8 108.4a1.2 1.2 0 1 0 2.4 0a1.2 1.2 0 1 0 -2.4 0M420.6 108.8a1.2 1.2 0 1 0 2.4 0a1.2 1.2 0 1 0 -2.4 0M427.4 108.4a1.2 1.2 0 1 0 2.4 0a1.2 1.2 0 1 0 -2.4 0M429.0 108.1a1.2 1.2 0 1 0 2.4 0a1.2 1.2 0 1 0 -2.4 0M430.5 108.1a1.2 1.2 0 1 0 2.4 0a1.2 1.2 0 1 0 -2.4 0M435.3 108.8a1.2 1.2 0 1 0 2.4 0a1.2 1.2 0 1 0 -2.4 0M441.6 108.3a1.2 1.2 0 1 0 2.4 0a1.2 1.2 0 1 0 -2.4 0M443.2 108.9a1.2 1.2 0 1 0 2.4 0a1.2 1.2 0 1 0 -2.4 0M448.8 108.2a1.2 1.2 0 1 0 2.4 0a1.2 1.2 0 1 0 -2.4 0M450.4 108.8a1.2 1.2 0 1 0 2.4 0a1.2 1.2 0 1 0 -2.4 0M452.0 108.3a1.2 1.2 0 1 0 2.4 0a1.2 1.2 0 1 0 -2.4 0M453.6 108.6a1.2 1.2 0 1 0 2.4 0a1.2 1.2 0 1 0 -2.4 0M456.0 108.9a1.2 1.2 0 1 0 2.4 0a1.2 1.2 0 1 0 -2.4 0M457.6 108.3a1.2 1.2 0 1 0 2.4 0a1.2 1.2 0 1 0 -2.4 0M459.1 107.6a1.2 1.2 0 1 0 2.4 0a1.2 1.2 0 1 0 -2.4 0M463.9 109.0a1.2 1.2 0 1 0 2.4 0a1.2 1.2 0 1 0 -2.4 0M658.4 108.3a1.2 1.2 0 1 0 2.4 0a1.2 1.2 0 1 0 -2.4 0M619.7 108.7a1.2 1.2 0 1 0 2.4 0a1.2 1.2 0 1 0 -2.4 0M550.7 108.3a1.2 1.2 0 1 0 2.4 0a1.2 1.2 0 1 0 -2.4 0M639.9 109.0a1.2 1.2 0 1 0 2.4 0a1.2 1.2 0 1 0 -2.4 0M633.9 108.9a1.2 1.2 0 1 0 2.4 0a1.2 1.2 0 1 0 -2.4 0M570.9 108.7a1.2 1.2 0 1 0 2.4 0a1.2 1.2 0 1 0 -2.4 0M498.2 108.2a1.2 1.2 0 1 0 2.4 0a1.2 1.2 0 1 0 -2.4 0M493.2 107.8a1.2 1.2 0 1 0 2.4 0a1.2 1.2 0 1 0 -2.4 0M540.7 108.7a1.2 1.2 0 1 0 2.4 0a1.2 1.2 0 1 0 -2.4 0M589.4 108.2a1.2 1.2 0 1 0 2.4 0a1.2 1.2 0 1 0 -2.4 0M535.2 108.6a1.2 1.2 0 1 0 2.4 0a1.2 1.2 0 1 0 -2.4 0M516.2 108.5a1.2 1.2 0 1 0 2.4 0a1.2 1.2 0 1 0 -2.4 0M629.1 108.2a1.2 1.2 0 1 0 2.4 0a1.2 1.2 0 1 0 -2.4 0M653.6 108.5a1.2 1.2 0 1 0 2.4 0a1.2 1.2 0 1 0 -2.4 0M578.6 108.7a1.2 1.2 0 1 0 2.4 0a1.2 1.2 0 1 0 -2.4 0M674.8 108.1a1.2 1.2 0 1 0 2.4 0a1.2 1.2 0 1 0 -2.4 0M634.9 108.1a1.2 1.2 0 1 0 2.4 0a1.2 1.2 0 1 0 -2.4 0M498.6 108.3a1.2 1.2 0 1 0 2.4 0a1.2 1.2 0 1 0 -2.4 0M505.5 108.6a1.2 1.2 0 1 0 2.4 0a1.2 1.2 0 1 0 -2.4 0M541.0 108.3a1.2 1.2 0 1 0 2.4 0a1.2 1.2 0 1 0 -2.4 0M563.1 108.5a1.2 1.2 0 1 0 2.4 0a1.2 1.2 0 1 0 -2.4 0M494.7 107.8a1.2 1.2 0 1 0 2.4 0a1.2 1.2 0 1 0 -2.4 0M522.3 108.4a1.2 1.2 0 1 0 2.4 0a1.2 1.2 0 1 0 -2.4 0M520.5 108.6a1.2 1.2 0 1 0 2.4 0a1.2 1.2 0 1 0 -2.4 0M602.5 108.8a1.2 1.2 0 1 0 2.4 0a1.2 1.2 0 1 0 -2.4 0M657.7 107.7a1.2 1.2 0 1 0 2.4 0a1.2 1.2 0 1 0 -2.4 0M568.2 108.4a1.2 1.2 0 1 0 2.4 0a1.2 1.2 0 1 0 -2.4 0M491.7 108.8a1.2 1.2 0 1 0 2.4 0a1.2 1.2 0 1 0 -2.4 0M478.1 108.5a1.2 1.2 0 1 0 2.4 0a1.2 1.2 0 1 0 -2.4 0M552.7 109.0a1.2 1.2 0 1 0 2.4 0a1.2 1.2 0 1 0 -2.4 0M655.1 108.4a1.2 1.2 0 1 0 2.4 0a1.2 1.2 0 1 0 -2.4 0M645.7 108.0a1.2 1.2 0 1 0 2.4 0a1.2 1.2 0 1 0 -2.4 0M609.7 108.5a1.2 1.2 0 1 0 2.4 0a1.2 1.2 0 1 0 -2.4 0M652.4 108.9a1.2 1.2 0 1 0 2.4 0a1.2 1.2 0 1 0 -2.4 0M600.5 108.6a1.2 1.2 0 1 0 2.4 0a1.2 1.2 0 1 0 -2.4 0M542.9 108.4a1.2 1.2 0 1 0 2.4 0a1.2 1.2 0 1 0 -2.4 0M622.3 108.2a1.2 1.2 0 1 0 2.4 0a1.2 1.2 0 1 0 -2.4 0M605.4 108.4a1.2 1.2 0 1 0 2.4 0a1.2 1.2 0 1 0 -2.4 0M654.5 108.3a1.2 1.2 0 1 0 2.4 0a1.2 1.2 0 1 0 -2.4 0M643.0 109.2a1.2 1.2 0 1 0 2.4 0a1.2 1.2 0 1 0 -2.4 0M674.8 108.0a1.2 1.2 0 1 0 2.4 0a1.2 1.2 0 1 0 -2.4 0M646.5 108.3a1.2 1.2 0 1 0 2.4 0a1.2 1.2 0 1 0 -2.4 0M496.3 108.4a1.2 1.2 0 1 0 2.4 0a1.2 1.2 0 1 0 -2.4 0M522.3 108.0a1.2 1.2 0 1 0 2.4 0a1.2 1.2 0 1 0 -2.4 0M604.7 108.5a1.2 1.2 0 1 0 2.4 0a1.2 1.2 0 1 0 -2.4 0M652.6 108.7a1.2 1.2 0 1 0 2.4 0a1.2 1.2 0 1 0 -2.4 0M509.6 108.3a1.2 1.2 0 1 0 2.4 0a1.2 1.2 0 1 0 -2.4 0M614.9 108.4a1.2 1.2 0 1 0 2.4 0a1.2 1.2 0 1 0 -2.4 0M481.4 108.6a1.2 1.2 0 1 0 2.4 0a1.2 1.2 0 1 0 -2.4 0M529.6 108.6a1.2 1.2 0 1 0 2.4 0a1.2 1.2 0 1 0 -2.4 0M516.3 108.9a1.2 1.2 0 1 0 2.4 0a1.2 1.2 0 1 0 -2.4 0M676.3 109.0a1.2 1.2 0 1 0 2.4 0a1.2 1.2 0 1 0 -2.4 0M511.8 108.5a1.2 1.2 0 1 0 2.4 0a1.2 1.2 0 1 0 -2.4 0M532.8 108.4a1.2 1.2 0 1 0 2.4 0a1.2 1.2 0 1 0 -2.4 0M636.9 108.4a1.2 1.2 0 1 0 2.4 0a1.2 1.2 0 1 0 -2.4 0M511.4 108.1a1.2 1.2 0 1 0 2.4 0a1.2 1.2 0 1 0 -2.4 0M504.4 108.4a1.2 1.2 0 1 0 2.4 0a1.2 1.2 0 1 0 -2.4 0M671.7 108.7a1.2 1.2 0 1 0 2.4 0a1.2 1.2 0 1 0 -2.4 0M671.8 108.2a1.2 1.2 0 1 0 2.4 0a1.2 1.2 0 1 0 -2.4 0M641.5 108.4a1.2 1.2 0 1 0 2.4 0a1.2 1.2 0 1 0 -2.4 0M562.4 108.9a1.2 1.2 0 1 0 2.4 0a1.2 1.2 0 1 0 -2.4 0M596.1 108.7a1.2 1.2 0 1 0 2.4 0a1.2 1.2 0 1 0 -2.4 0M500.4 108.5a1.2 1.2 0 1 0 2.4 0a1.2 1.2 0 1 0 -2.4 0M648.9 107.5a1.2 1.2 0 1 0 2.4 0a1.2 1.2 0 1 0 -2.4 0M625.2 108.6a1.2 1.2 0 1 0 2.4 0a1.2 1.2 0 1 0 -2.4 0M550.7 108.1a1.2 1.2 0 1 0 2.4 0a1.2 1.2 0 1 0 -2.4 0M669.8 108.1a1.2 1.2 0 1 0 2.4 0a1.2 1.2 0 1 0 -2.4 0M553.5 108.8a1.2 1.2 0 1 0 2.4 0a1.2 1.2 0 1 0 -2.4 0M487.1 108.6a1.2 1.2 0 1 0 2.4 0a1.2 1.2 0 1 0 -2.4 0M589.8 108.2a1.2 1.2 0 1 0 2.4 0a1.2 1.2 0 1 0 -2.4 0M620.6 108.3a1.2 1.2 0 1 0 2.4 0a1.2 1.2 0 1 0 -2.4 0M540.7 108.8a1.2 1.2 0 1 0 2.4 0a1.2 1.2 0 1 0 -2.4 0M499.8 108.6a1.2 1.2 0 1 0 2.4 0a1.2 1.2 0 1 0 -2.4 0M483.4 108.0a1.2 1.2 0 1 0 2.4 0a1.2 1.2 0 1 0 -2.4 0M590.1 108.2a1.2 1.2 0 1 0 2.4 0a1.2 1.2 0 1 0 -2.4 0M532.7 108.2a1.2 1.2 0 1 0 2.4 0a1.2 1.2 0 1 0 -2.4 0M592.9 108.7a1.2 1.2 0 1 0 2.4 0a1.2 1.2 0 1 0 -2.4 0M633.1 108.1a1.2 1.2 0 1 0 2.4 0a1.2 1.2 0 1 0 -2.4 0M575.6 108.7a1.2 1.2 0 1 0 2.4 0a1.2 1.2 0 1 0 -2.4 0M611.8 108.5a1.2 1.2 0 1 0 2.4 0a1.2 1.2 0 1 0 -2.4 0M512.7 108.1a1.2 1.2 0 1 0 2.4 0a1.2 1.2 0 1 0 -2.4 0M580.4 108.7a1.2 1.2 0 1 0 2.4 0a1.2 1.2 0 1 0 -2.4 0M566.4 108.6a1.2 1.2 0 1 0 2.4 0a1.2 1.2 0 1 0 -2.4 0M574.7 107.9a1.2 1.2 0 1 0 2.4 0a1.2 1.2 0 1 0 -2.4 0M663.4 108.1a1.2 1.2 0 1 0 2.4 0a1.2 1.2 0 1 0 -2.4 0M552.1 108.3a1.2 1.2 0 1 0 2.4 0a1.2 1.2 0 1 0 -2.4 0M540.6 108.4a1.2 1.2 0 1 0 2.4 0a1.2 1.2 0 1 0 -2.4 0M642.3 108.5a1.2 1.2 0 1 0 2.4 0a1.2 1.2 0 1 0 -2.4 0M653.9 108.5a1.2 1.2 0 1 0 2.4 0a1.2 1.2 0 1 0 -2.4 0M553.2 108.5a1.2 1.2 0 1 0 2.4 0a1.2 1.2 0 1 0 -2.4 0M671.7 109.3a1.2 1.2 0 1 0 2.4 0a1.2 1.2 0 1 0 -2.4 0M632.9 108.6a1.2 1.2 0 1 0 2.4 0a1.2 1.2 0 1 0 -2.4 0M653.1 108.5a1.2 1.2 0 1 0 2.4 0a1.2 1.2 0 1 0 -2.4 0M597.8 108.4a1.2 1.2 0 1 0 2.4 0a1.2 1.2 0 1 0 -2.4 0M510.8 108.3a1.2 1.2 0 1 0 2.4 0a1.2 1.2 0 1 0 -2.4 0M659.2 108.7a1.2 1.2 0 1 0 2.4 0a1.2 1.2 0 1 0 -2.4 0M555.0 108.6a1.2 1.2 0 1 0 2.4 0a1.2 1.2 0 1 0 -2.4 0M587.7 108.6a1.2 1.2 0 1 0 2.4 0a1.2 1.2 0 1 0 -2.4 0M632.1 108.2a1.2 1.2 0 1 0 2.4 0a1.2 1.2 0 1 0 -2.4 0M526.3 108.4a1.2 1.2 0 1 0 2.4 0a1.2 1.2 0 1 0 -2.4 0M530.9 108.5a1.2 1.2 0 1 0 2.4 0a1.2 1.2 0 1 0 -2.4 0M478.4 108.7a1.2 1.2 0 1 0 2.4 0a1.2 1.2 0 1 0 -2.4 0M668.5 108.9a1.2 1.2 0 1 0 2.4 0a1.2 1.2 0 1 0 -2.4 0M625.2 108.5a1.2 1.2 0 1 0 2.4 0a1.2 1.2 0 1 0 -2.4 0M484.5 108.6a1.2 1.2 0 1 0 2.4 0a1.2 1.2 0 1 0 -2.4 0M534.3 108.6a1.2 1.2 0 1 0 2.4 0a1.2 1.2 0 1 0 -2.4 0M530.5 108.6a1.2 1.2 0 1 0 2.4 0a1.2 1.2 0 1 0 -2.4 0M489.6 109.0a1.2 1.2 0 1 0 2.4 0a1.2 1.2 0 1 0 -2.4 0M502.2 108.1a1.2 1.2 0 1 0 2.4 0a1.2 1.2 0 1 0 -2.4 0M667.2 108.4a1.2 1.2 0 1 0 2.4 0a1.2 1.2 0 1 0 -2.4 0M571.1 108.8a1.2 1.2 0 1 0 2.4 0a1.2 1.2 0 1 0 -2.4 0M592.4 108.9a1.2 1.2 0 1 0 2.4 0a1.2 1.2 0 1 0 -2.4 0M598.5 108.4a1.2 1.2 0 1 0 2.4 0a1.2 1.2 0 1 0 -2.4 0M597.0 108.6a1.2 1.2 0 1 0 2.4 0a1.2 1.2 0 1 0 -2.4 0M586.2 108.3a1.2 1.2 0 1 0 2.4 0a1.2 1.2 0 1 0 -2.4 0M668.8 108.8a1.2 1.2 0 1 0 2.4 0a1.2 1.2 0 1 0 -2.4 0M551.0 108.8a1.2 1.2 0 1 0 2.4 0a1.2 1.2 0 1 0 -2.4 0M490.8 108.6a1.2 1.2 0 1 0 2.4 0a1.2 1.2 0 1 0 -2.4 0M639.4 108.7a1.2 1.2 0 1 0 2.4 0a1.2 1.2 0 1 0 -2.4 0M626.8 108.9a1.2 1.2 0 1 0 2.4 0a1.2 1.2 0 1 0 -2.4 0M501.6 108.3a1.2 1.2 0 1 0 2.4 0a1.2 1.2 0 1 0 -2.4 0M584.5 108.0a1.2 1.2 0 1 0 2.4 0a1.2 1.2 0 1 0 -2.4 0M655.9 109.2a1.2 1.2 0 1 0 2.4 0a1.2 1.2 0 1 0 -2.4 0M492.4 108.4a1.2 1.2 0 1 0 2.4 0a1.2 1.2 0 1 0 -2.4 0M560.0 108.9a1.2 1.2 0 1 0 2.4 0a1.2 1.2 0 1 0 -2.4 0M562.1 108.8a1.2 1.2 0 1 0 2.4 0a1.2 1.2 0 1 0 -2.4 0M494.7 108.4a1.2 1.2 0 1 0 2.4 0a1.2 1.2 0 1 0 -2.4 0M620.4 108.2a1.2 1.2 0 1 0 2.4 0a1.2 1.2 0 1 0 -2.4 0M540.8 108.7a1.2 1.2 0 1 0 2.4 0a1.2 1.2 0 1 0 -2.4 0M523.7 108.8a1.2 1.2 0 1 0 2.4 0a1.2 1.2 0 1 0 -2.4 0M499.3 108.5a1.2 1.2 0 1 0 2.4 0a1.2 1.2 0 1 0 -2.4 0M539.8 108.1a1.2 1.2 0 1 0 2.4 0a1.2 1.2 0 1 0 -2.4 0M676.6 108.7a1.2 1.2 0 1 0 2.4 0a1.2 1.2 0 1 0 -2.4 0M517.2 108.4a1.2 1.2 0 1 0 2.4 0a1.2 1.2 0 1 0 -2.4 0M638.4 108.4a1.2 1.2 0 1 0 2.4 0a1.2 1.2 0 1 0 -2.4 0M575.7 108.8a1.2 1.2 0 1 0 2.4 0a1.2 1.2 0 1 0 -2.4 0M595.5 108.5a1.2 1.2 0 1 0 2.4 0a1.2 1.2 0 1 0 -2.4 0M630.7 108.4a1.2 1.2 0 1 0 2.4 0a1.2 1.2 0 1 0 -2.4 0M514.4 108.6a1.2 1.2 0 1 0 2.4 0a1.2 1.2 0 1 0 -2.4 0M565.0 108.7a1.2 1.2 0 1 0 2.4 0a1.2 1.2 0 1 0 -2.4 0M528.0 108.5a1.2 1.2 0 1 0 2.4 0a1.2 1.2 0 1 0 -2.4 0M675.9 108.5a1.2 1.2 0 1 0 2.4 0a1.2 1.2 0 1 0 -2.4 0M582.2 108.2a1.2 1.2 0 1 0 2.4 0a1.2 1.2 0 1 0 -2.4 0M544.8 108.3a1.2 1.2 0 1 0 2.4 0a1.2 1.2 0 1 0 -2.4 0M635.3 108.8a1.2 1.2 0 1 0 2.4 0a1.2 1.2 0 1 0 -2.4 0M634.8 108.6a1.2 1.2 0 1 0 2.4 0a1.2 1.2 0 1 0 -2.4 0M643.8 107.8a1.2 1.2 0 1 0 2.4 0a1.2 1.2 0 1 0 -2.4 0M606.1 108.4a1.2 1.2 0 1 0 2.4 0a1.2 1.2 0 1 0 -2.4 0M499.4 108.5a1.2 1.2 0 1 0 2.4 0a1.2 1.2 0 1 0 -2.4 0M640.4 108.2a1.2 1.2 0 1 0 2.4 0a1.2 1.2 0 1 0 -2.4 0" fill="none" stroke="#3580c0" stroke-width="0.7"/>
<line x1="380.5" y1="217.7" x2="680.6" y2="84.1" stroke="#2a2ae0" stroke-width="1.0"/>
</g>
<rect x="380.5" y="12" width="300" height="299.5" fill="none" stroke="#8a8a8a" stroke-width="1"/>
<path d="M388.4 311.5v-2.6M388.4 12v2.6M380.5 304.7h2.6M680.5 304.7h-2.6M426.26 311.5v-2.6M426.26 12v2.6M380.5 266.81h2.6M680.5 266.81h-2.6M464.12 311.5v-2.6M464.12 12v2.6M380.5 228.93h2.6M680.5 228.93h-2.6M501.98 311.5v-2.6M501.98 12v2.6M380.5 191.04h2.6M680.5 191.04h-2.6M539.84 311.5v-2.6M539.84 12v2.6M380.5 153.16h2.6M680.5 153.16h-2.6M577.7 311.5v-2.6M577.7 12v2.6M380.5 115.27h2.6M680.5 115.27h-2.6M615.56 311.5v-2.6M615.56 12v2.6M380.5 77.38h2.6M680.5 77.38h-2.6M653.42 311.5v-2.6M653.42 12v2.6M380.5 39.5h2.6M680.5 39.5h-2.6" stroke="#8a8a8a" stroke-width="1" fill="none" stroke-opacity="0.75"/>
<text x="388.4" y="322.1" text-anchor="middle" class="tk">1</text>
<text x="377.2" y="307.65" text-anchor="end" class="tk">1</text>
<text x="426.26" y="322.1" text-anchor="middle" class="tk">2</text>
<text x="377.2" y="269.76" text-anchor="end" class="tk">2</text>
<text x="464.12" y="322.1" text-anchor="middle" class="tk">3</text>
<text x="377.2" y="231.88" text-anchor="end" class="tk">3</text>
<text x="501.98" y="322.1" text-anchor="middle" class="tk">4</text>
<text x="377.2" y="193.99" text-anchor="end" class="tk">4</text>
<text x="539.84" y="322.1" text-anchor="middle" class="tk">5</text>
<text x="377.2" y="156.11" text-anchor="end" class="tk">5</text>
<text x="577.7" y="322.1" text-anchor="middle" class="tk">6</text>
<text x="377.2" y="118.22" text-anchor="end" class="tk">6</text>
<text x="615.56" y="322.1" text-anchor="middle" class="tk">7</text>
<text x="377.2" y="80.33" text-anchor="end" class="tk">7</text>
<text x="653.42" y="322.1" text-anchor="middle" class="tk">8</text>
<text x="377.2" y="42.45" text-anchor="end" class="tk">8</text>
<rect x="190.5" y="207.5" width="129" height="102" fill="#fff" stroke="#8a8a8a" stroke-width="1"/>
<path d="M202.3 214.1a1.2 1.2 0 1 0 2.4 0a1.2 1.2 0 1 0 -2.4 0" fill="none" stroke="#4a4a4a" stroke-width="0.7"/>
<text x="217" y="216.5" class="lg" text-anchor="start" textLength="99.8" lengthAdjust="spacingAndGlyphs" style="font-size:9.0px">Num.MFs=5, R=0.98231</text>
<line x1="192.4" y1="225.1" x2="215" y2="225.1" stroke="#333333" stroke-width="1.0"/>
<text x="217" y="227.5" class="lg" text-anchor="start" textLength="11.3" lengthAdjust="spacingAndGlyphs" style="font-size:9.45px">Fit</text>
<line x1="192.4" y1="236.1" x2="215" y2="236.1" stroke="#999" stroke-width="0.8" stroke-dasharray="0.8 1.2"/>
<text x="217" y="238.5" class="lg" text-anchor="start" style="font-size:9.45px">Y</text>
<text x="230" y="238.5" class="lg" text-anchor="middle" style="font-size:9.45px">=</text>
<text x="243.1" y="238.5" class="lg" text-anchor="end" style="font-size:9.45px">T</text>
<path d="M202.3 247.1a1.2 1.2 0 1 0 2.4 0a1.2 1.2 0 1 0 -2.4 0" fill="none" stroke="#10e010" stroke-width="0.7"/>
<text x="217" y="249.5" class="lg" text-anchor="start" textLength="99.8" lengthAdjust="spacingAndGlyphs" style="font-size:9.0px">Num.MFs=4, R=0.97338</text>
<line x1="192.4" y1="258.1" x2="215" y2="258.1" stroke="#22ee22" stroke-width="1.0"/>
<text x="217" y="260.5" class="lg" text-anchor="start" textLength="11.3" lengthAdjust="spacingAndGlyphs" style="font-size:9.45px">Fit</text>
<path d="M202.3 269.1a1.2 1.2 0 1 0 2.4 0a1.2 1.2 0 1 0 -2.4 0" fill="none" stroke="#e02828" stroke-width="0.7"/>
<text x="217" y="271.5" class="lg" text-anchor="start" textLength="99.8" lengthAdjust="spacingAndGlyphs" style="font-size:9.0px">Num.MFs=3, R=0.91327</text>
<line x1="192.4" y1="280.1" x2="215" y2="280.1" stroke="#e83030" stroke-width="1.0"/>
<text x="217" y="282.5" class="lg" text-anchor="start" textLength="11.3" lengthAdjust="spacingAndGlyphs" style="font-size:9.45px">Fit</text>
<path d="M202.4 291.1a1.1 1.1 0 1 0 2.2 0a1.1 1.1 0 1 0 -2.2 0" fill="none" stroke="#1565b5" stroke-width="1.0"/>
<text x="217" y="293.5" class="lg" text-anchor="start" textLength="99.8" lengthAdjust="spacingAndGlyphs" style="font-size:9.0px">Num.MFs=2, R=0.65574</text>
<line x1="192.4" y1="302.1" x2="215" y2="302.1" stroke="#2a2ae0" stroke-width="1.0"/>
<text x="217" y="304.5" class="lg" text-anchor="start" textLength="11.3" lengthAdjust="spacingAndGlyphs" style="font-size:9.45px">Fit</text>
<rect x="561.5" y="217.5" width="116" height="92" fill="#fff" stroke="#8a8a8a" stroke-width="1"/>
<path d="M572.8 223.7a1.2 1.2 0 1 0 2.4 0a1.2 1.2 0 1 0 -2.4 0" fill="none" stroke="#4a4a4a" stroke-width="0.6"/>
<text x="586" y="225.9" class="lg" text-anchor="start" textLength="89.3" lengthAdjust="spacingAndGlyphs" style="font-size:8.0px">Num.MFs=5, R=0.98063</text>
<line x1="564.2" y1="233.7" x2="583.9" y2="233.7" stroke="#333333" stroke-width="1.0"/>
<text x="586" y="235.9" class="lg" text-anchor="start" textLength="10.2" lengthAdjust="spacingAndGlyphs" style="font-size:8.40px">Fit</text>
<line x1="564.2" y1="243.7" x2="583.9" y2="243.7" stroke="#999" stroke-width="0.8" stroke-dasharray="0.8 1.2"/>
<text x="586" y="245.9" class="lg" text-anchor="start" style="font-size:8.40px">Y</text>
<text x="597.6" y="245.9" class="lg" text-anchor="middle" style="font-size:8.40px">=</text>
<text x="609.6" y="245.9" class="lg" text-anchor="end" style="font-size:8.40px">T</text>
<path d="M572.8 253.7a1.2 1.2 0 1 0 2.4 0a1.2 1.2 0 1 0 -2.4 0" fill="none" stroke="#20e020" stroke-width="0.6"/>
<text x="586" y="255.9" class="lg" text-anchor="start" textLength="89.3" lengthAdjust="spacingAndGlyphs" style="font-size:8.0px">Num.MFs=4, R=0.9729</text>
<line x1="564.2" y1="263.7" x2="583.9" y2="263.7" stroke="#22ee22" stroke-width="1.0"/>
<text x="586" y="265.9" class="lg" text-anchor="start" textLength="10.2" lengthAdjust="spacingAndGlyphs" style="font-size:8.40px">Fit</text>
<path d="M572.8 273.7a1.2 1.2 0 1 0 2.4 0a1.2 1.2 0 1 0 -2.4 0" fill="none" stroke="#e03030" stroke-width="0.6"/>
<text x="586" y="275.9" class="lg" text-anchor="start" textLength="89.3" lengthAdjust="spacingAndGlyphs" style="font-size:8.0px">Num.MFs=3, R=0.91101</text>
<line x1="564.2" y1="283.7" x2="583.9" y2="283.7" stroke="#e83030" stroke-width="1.0"/>
<text x="586" y="285.9" class="lg" text-anchor="start" textLength="10.2" lengthAdjust="spacingAndGlyphs" style="font-size:8.40px">Fit</text>
<path d="M572.8 293.7a1.2 1.2 0 1 0 2.4 0a1.2 1.2 0 1 0 -2.4 0" fill="none" stroke="#3580c0" stroke-width="0.7"/>
<text x="586" y="295.9" class="lg" text-anchor="start" textLength="89.3" lengthAdjust="spacingAndGlyphs" style="font-size:8.0px">Num.MFs=2, R=0.67746</text>
<line x1="564.2" y1="303.7" x2="583.9" y2="303.7" stroke="#2a2ae0" stroke-width="1.0"/>
<text x="586" y="305.9" class="lg" text-anchor="start" textLength="10.2" lengthAdjust="spacingAndGlyphs" style="font-size:8.40px">Fit</text>
<text x="80" y="6.8" class="ttl" text-anchor="start" textLength="183.8" lengthAdjust="spacingAndGlyphs">Training processes when number of inputs is 2</text>
<text x="442.3" y="7.2" class="ttl" text-anchor="start" textLength="177.5" lengthAdjust="spacingAndGlyphs">Testing processes when number of inputs is 2</text>
<text x="105.8" y="331.7" class="xl" text-anchor="start" textLength="132.5" lengthAdjust="spacingAndGlyphs">Target (CFD data (air vorticity))</text>
<text x="464.2" y="332.7" class="xl" text-anchor="start" textLength="130.5" lengthAdjust="spacingAndGlyphs">Target (CFD data (air vorticity))</text>
<text transform="translate(7.7,247.2) rotate(-90)" class="xl" style="font-size:9.2px" textLength="170.6" lengthAdjust="spacingAndGlyphs">Output (ANFIS predictions (air vorticity))</text>
<text transform="translate(365.4,246.4) rotate(-90)" class="xl" style="font-size:8.9px" textLength="165.8" lengthAdjust="spacingAndGlyphs">Output (ANFIS predictions (air vorticity))</text>
<text x="165.5" y="350.8" class="cap" text-anchor="start">a</text>
<text x="518.3" y="354.3" class="cap" text-anchor="start">b</text>
</svg>
</body></html>
